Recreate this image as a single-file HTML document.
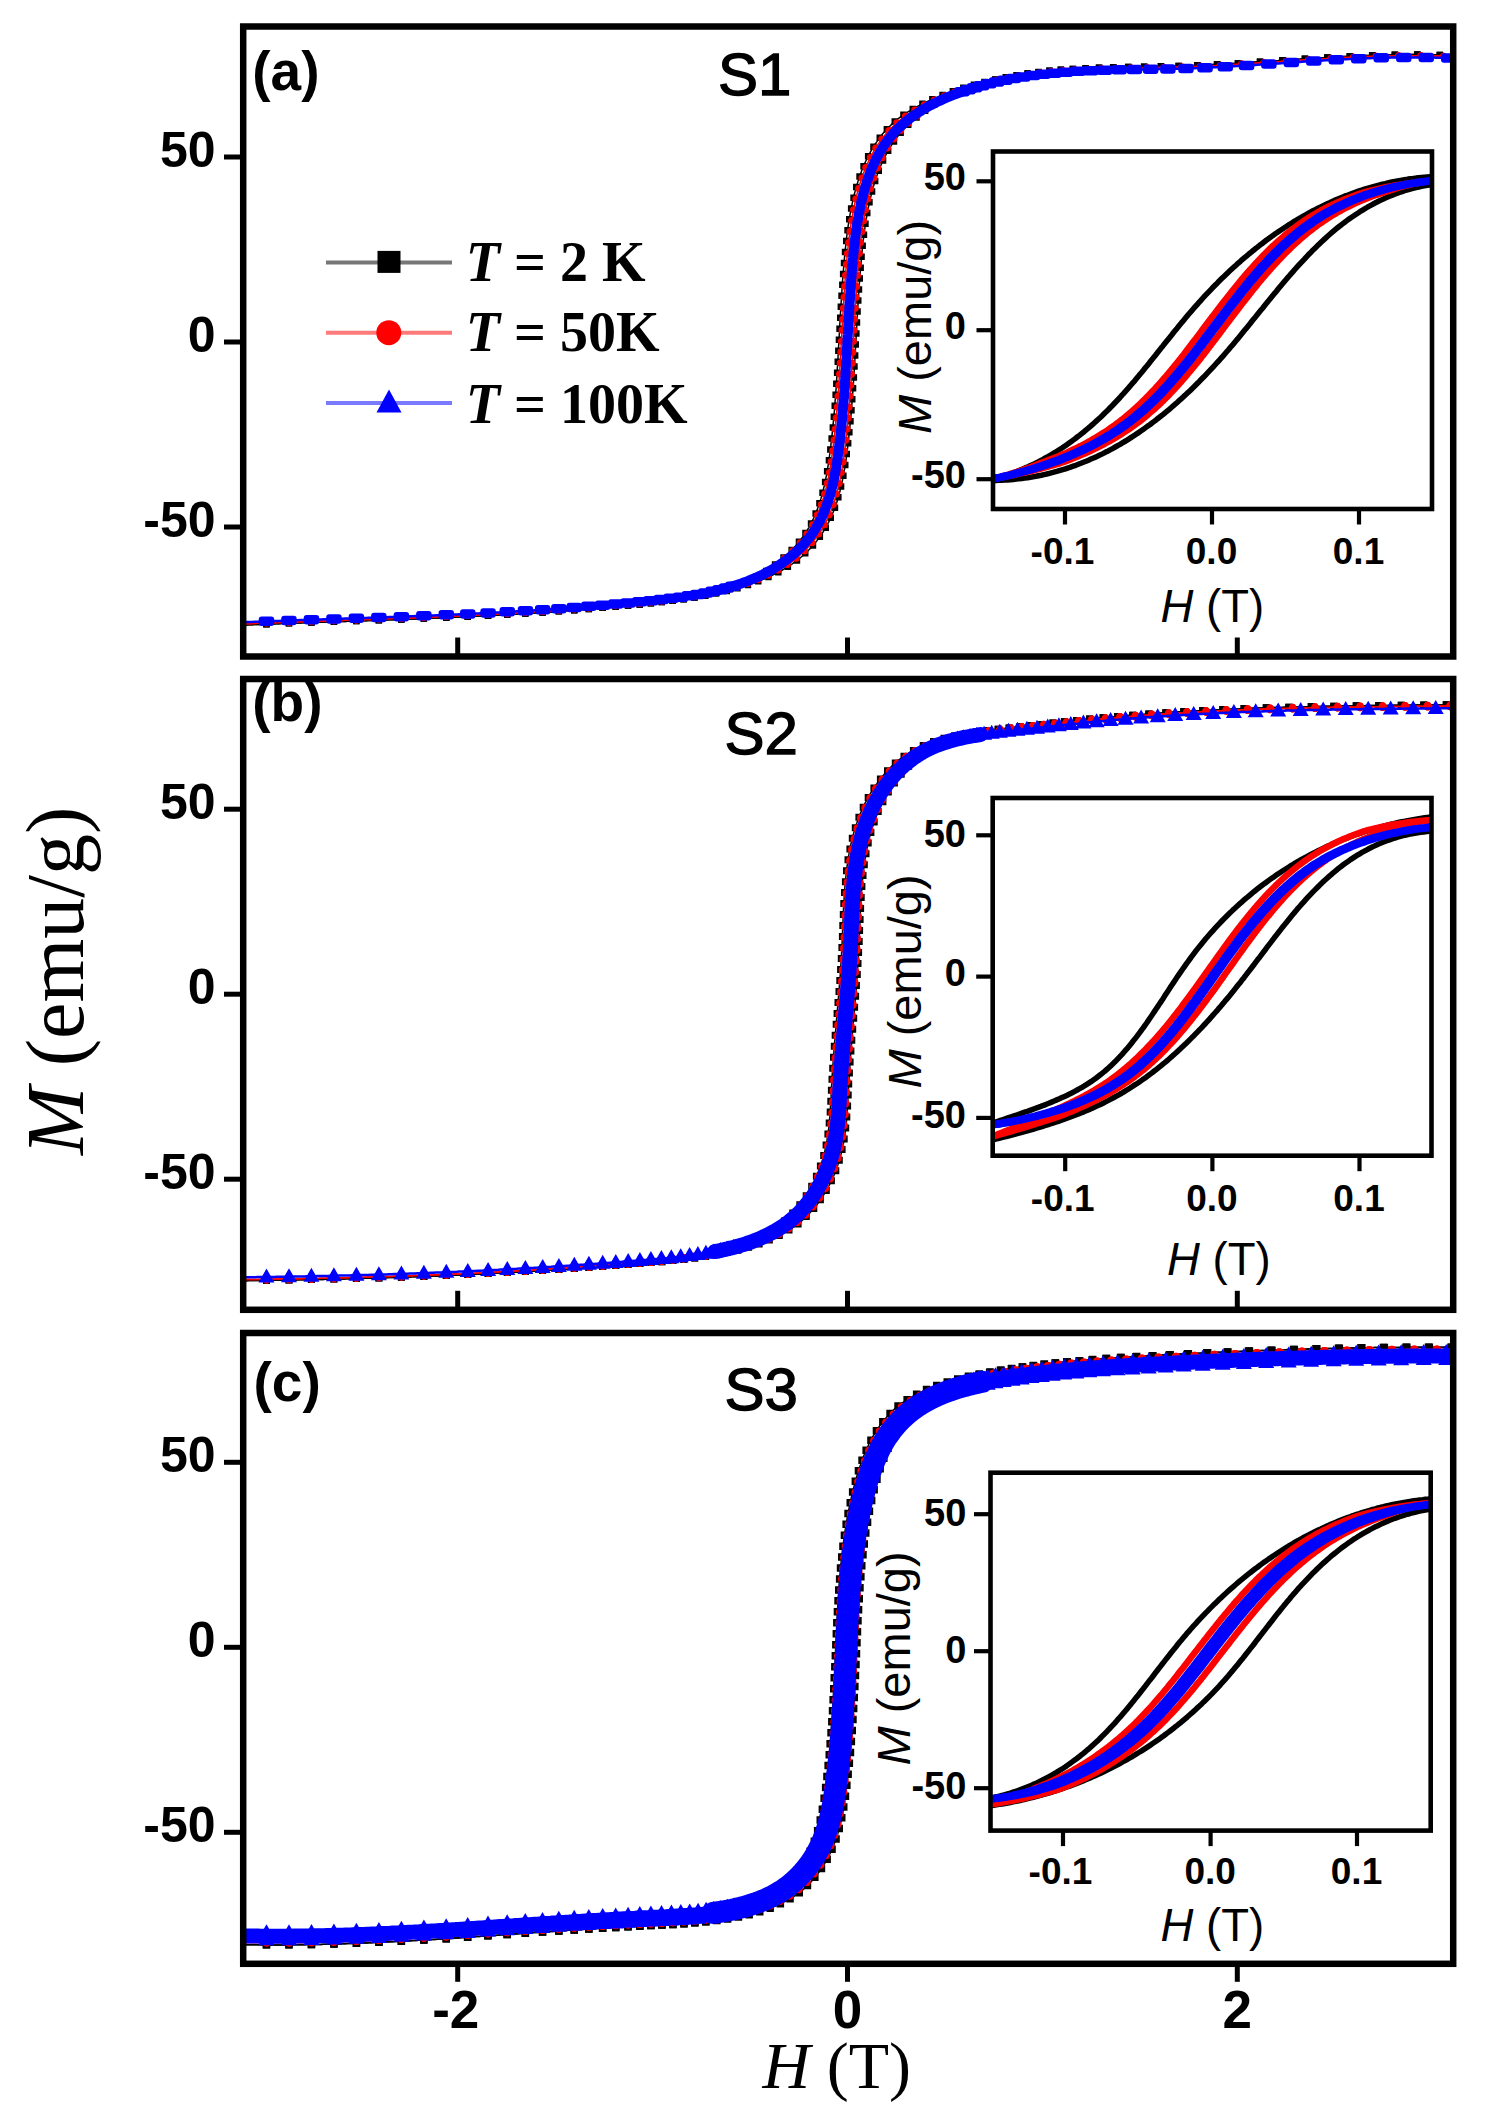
<!DOCTYPE html>
<html><head><meta charset="utf-8"><style>html,body{margin:0;padding:0;background:#fff;}svg{display:block;}</style></head>
<body><svg xmlns="http://www.w3.org/2000/svg" width="1491" height="2127" viewBox="0 0 1491 2127">
<g>
<rect width="1491" height="2127" fill="#fff"/>
<clipPath id="clipm0"><rect x="243.2" y="26.5" width="1210.0" height="630.0"/></clipPath>
<g clip-path="url(#clipm0)">
<path d="M244.0,625.0 L246.7,624.9 L249.4,624.8 L252.1,624.7 L254.8,624.6 L257.5,624.5 L260.1,624.4 L262.8,624.3 L265.5,624.2 L268.2,624.1 L270.9,624.0 L273.6,623.9 L276.2,623.8 L278.9,623.7 L281.6,623.6 L284.2,623.5 L286.9,623.4 L289.6,623.3 L292.2,623.2 L294.9,623.1 L297.6,623.0 L300.2,622.9 L302.9,622.8 L305.5,622.7 L308.2,622.7 L310.8,622.6 L313.5,622.5 L316.1,622.4 L318.7,622.3 L321.4,622.2 L324.0,622.1 L326.7,622.0 L329.3,621.9 L331.9,621.8 L334.6,621.8 L337.2,621.7 L339.8,621.6 L342.4,621.5 L345.1,621.4 L347.7,621.3 L350.3,621.2 L352.9,621.1 L355.6,621.0 L358.2,620.9 L360.8,620.9 L363.4,620.8 L366.0,620.7 L368.6,620.6 L371.3,620.5 L373.9,620.4 L376.5,620.3 L379.1,620.2 L381.7,620.1 L384.3,620.0 L386.9,619.9 L389.5,619.8 L392.1,619.7 L394.7,619.7 L397.3,619.6 L400.0,619.5 L402.6,619.4 L405.2,619.3 L407.8,619.2 L410.4,619.1 L413.0,619.0 L415.6,618.9 L418.2,618.8 L420.8,618.7 L423.4,618.6 L426.0,618.5 L428.6,618.3 L431.2,618.2 L433.8,618.1 L436.4,618.0 L439.0,617.9 L441.6,617.8 L444.1,617.7 L446.7,617.6 L449.3,617.5 L451.9,617.4 L454.5,617.2 L457.1,617.1 L459.7,617.0 L462.3,616.9 L464.9,616.8 L467.5,616.6 L470.1,616.5 L472.7,616.4 L475.3,616.3 L477.9,616.1 L480.5,616.0 L483.1,615.9 L485.7,615.7 L488.3,615.6 L490.9,615.5 L493.5,615.3 L496.1,615.2 L498.7,615.1 L501.3,614.9 L503.9,614.8 L506.6,614.6 L509.2,614.5 L511.8,614.3 L514.4,614.2 L517.0,614.0 L519.6,613.9 L522.2,613.7 L524.8,613.6 L527.4,613.4 L530.0,613.2 L532.7,613.1 L535.3,612.9 L537.9,612.7 L540.5,612.6 L543.1,612.4 L545.7,612.2 L548.4,612.0 L551.0,611.9 L553.6,611.7 L556.2,611.5 L558.9,611.3 L561.5,611.1 L564.1,610.9 L566.8,610.7 L569.4,610.5 L572.0,610.3 L574.7,610.1 L577.3,609.9 L579.9,609.7 L582.6,609.5 L585.2,609.3 L587.9,609.1 L590.5,608.9 L593.2,608.7 L595.8,608.5 L598.5,608.2 L601.1,608.0 L603.8,607.8 L606.5,607.5 L609.1,607.3 L611.8,607.1 L614.4,606.8 L617.1,606.6 L619.8,606.3 L622.5,606.1 L625.1,605.8 L627.8,605.6 L630.5,605.3 L633.2,605.1 L635.9,604.8 L638.5,604.5 L641.2,604.3 L643.9,604.0 L646.6,603.7 L649.3,603.4 L652.0,603.2 L654.7,602.9 L657.4,602.6 L660.1,602.3 L662.8,602.0 L665.5,601.6 L668.2,601.3 L670.9,601.0 L673.6,600.6 L676.3,600.3 L679.0,599.9 L681.7,599.5 L684.4,599.1 L687.0,598.7 L689.7,598.3 L692.4,597.9 L695.0,597.4 L697.7,597.0 L700.1,596.5 L702.5,596.0 L704.9,595.4 L707.2,594.9 L709.6,594.3 L712.0,593.8 L714.3,593.2 L716.7,592.5 L719.0,591.9 L721.3,591.2 L723.6,590.5 L725.9,589.8 L728.2,589.1 L730.5,588.3 L732.8,587.5 L735.0,586.7 L737.2,585.8 L739.5,584.9 L741.7,584.0 L743.9,583.1 L746.1,582.1 L748.2,581.1 L750.4,580.0 L752.5,579.0 L754.6,577.9 L756.7,576.7 L758.8,575.5 L760.9,574.3 L762.9,573.1 L765.0,571.8 L767.0,570.5 L769.0,569.1 L770.9,567.7 L772.9,566.2 L774.8,564.8 L776.7,563.2 L778.5,561.7 L780.5,560.1 L782.5,558.5 L784.5,556.8 L786.4,555.1 L788.3,553.3 L790.2,551.5 L792.0,549.7 L793.8,547.9 L795.5,546.0 L797.2,544.0 L798.8,542.1 L800.4,540.1 L802.0,538.0 L803.5,536.0 L804.9,533.8 L806.3,531.7 L807.7,529.5 L809.0,527.3 L810.2,525.0 L811.4,522.7 L812.6,520.4 L813.7,518.1 L814.7,515.7 L815.7,513.3 L816.7,510.9 L817.6,508.4 L818.5,505.9 L819.4,503.4 L820.2,500.9 L821.0,498.4 L821.7,495.8 L822.4,493.2 L823.1,490.6 L823.7,488.0 L824.4,485.4 L824.9,482.7 L825.5,480.1 L826.0,477.4 L826.6,474.8 L827.0,472.1 L827.5,469.4 L827.9,466.7 L828.4,464.0 L828.8,461.3 L829.2,458.6 L829.5,455.9 L829.9,453.2 L830.2,450.5 L830.6,447.8 L830.9,445.1 L831.2,442.4 L831.5,439.7 L831.8,437.1 L832.1,434.4 L832.4,431.7 L832.7,429.0 L832.9,426.4 L833.2,423.7 L833.4,421.1 L833.7,418.4 L833.9,415.8 L834.2,413.2 L834.4,410.5 L834.6,407.9 L834.8,405.3 L835.0,402.6 L835.2,400.0 L835.4,397.4 L835.6,394.8 L835.8,392.1 L836.0,389.5 L836.2,386.9 L836.4,384.3 L836.5,381.7 L836.7,379.1 L836.9,376.5 L837.0,373.9 L837.2,371.3 L837.3,368.6 L837.5,366.0 L837.7,363.4 L837.8,360.8 L838.0,358.2 L838.1,355.6 L838.3,353.0 L838.4,350.4 L838.5,347.8 L838.7,345.2 L838.8,342.5 L839.0,339.9 L839.1,337.3 L839.3,334.7 L839.4,332.1 L839.6,329.4 L839.7,326.8 L839.8,324.2 L840.0,321.5 L840.1,318.9 L840.3,316.3 L840.5,313.6 L840.6,311.0 L840.8,308.3 L840.9,305.6 L841.1,303.0 L841.3,300.3 L841.4,297.6 L841.6,295.0 L841.8,292.3 L842.0,289.6 L842.2,286.9 L842.3,284.2 L842.5,281.5 L842.7,278.8 L843.0,276.1 L843.2,273.3 L843.4,270.6 L843.6,267.9 L843.8,265.1 L844.1,262.4 L844.3,259.6 L844.6,256.8 L844.8,254.1 L845.1,251.3 L845.4,248.5 L845.7,245.8 L846.0,243.0 L846.3,240.2 L846.6,237.5 L847.0,234.7 L847.3,231.9 L847.7,229.2 L848.1,226.4 L848.5,223.6 L848.9,220.9 L849.4,218.2 L849.9,215.4 L850.4,212.7 L850.9,210.0 L851.4,207.3 L852.0,204.6 L852.5,201.9 L853.1,199.3 L853.8,196.6 L854.4,194.0 L855.1,191.4 L855.8,188.8 L856.5,186.2 L857.3,183.6 L858.1,181.1 L858.9,178.6 L859.8,176.1 L860.7,173.6 L861.6,171.1 L862.5,168.7 L863.5,166.3 L864.5,163.9 L865.6,161.5 L866.7,159.2 L867.8,156.9 L869.0,154.6 L870.2,152.3 L871.5,150.1 L872.7,147.9 L874.1,145.8 L875.4,143.7 L876.9,141.6 L878.3,139.5 L879.8,137.5 L881.4,135.5 L882.9,133.6 L884.6,131.7 L886.3,129.8 L888.0,128.0 L889.8,126.2 L891.6,124.4 L893.5,122.7 L895.4,121.0 L897.3,119.4 L899.3,117.8 L901.5,116.2 L903.8,114.7 L906.0,113.2 L908.4,111.7 L910.7,110.3 L913.1,108.9 L915.5,107.5 L918.0,106.2 L920.5,104.9 L923.0,103.6 L925.5,102.3 L928.1,101.1 L930.7,99.9 L933.3,98.8 L935.9,97.7 L938.5,96.6 L941.2,95.5 L943.9,94.5 L946.6,93.5 L949.3,92.5 L952.0,91.5 L954.7,90.6 L957.4,89.7 L960.2,88.8 L962.9,87.9 L965.7,87.1 L968.4,86.3 L971.2,85.5 L974.0,84.7 L976.8,84.0 L979.5,83.2 L982.3,82.5 L985.1,81.8 L987.9,81.2 L990.7,80.5 L993.5,79.9 L996.3,79.3 L999.0,78.7 L1001.6,78.2 L1004.2,77.6 L1006.7,77.1 L1009.3,76.6 L1011.9,76.1 L1014.5,75.7 L1017.1,75.2 L1019.7,74.8 L1022.3,74.3 L1024.9,73.9 L1027.5,73.6 L1030.1,73.2 L1032.8,72.8 L1035.4,72.5 L1038.0,72.2 L1040.6,71.8 L1043.3,71.5 L1045.9,71.3 L1048.5,71.0 L1051.2,70.7 L1053.8,70.5 L1056.4,70.2 L1059.1,70.0 L1061.7,69.8 L1064.4,69.6 L1067.0,69.4 L1069.7,69.2 L1072.3,69.0 L1075.0,68.9 L1077.6,68.7 L1080.3,68.6 L1082.9,68.4 L1085.6,68.3 L1088.2,68.2 L1090.9,68.0 L1093.6,67.9 L1096.2,67.8 L1098.9,67.7 L1101.6,67.6 L1104.2,67.6 L1106.9,67.5 L1109.6,67.4 L1112.2,67.3 L1114.9,67.3 L1117.6,67.2 L1120.2,67.1 L1122.9,67.1 L1125.6,67.0 L1128.2,67.0 L1130.9,66.9 L1133.6,66.9 L1136.2,66.8 L1138.9,66.8 L1141.6,66.7 L1144.2,66.7 L1146.9,66.7 L1149.6,66.6 L1152.2,66.6 L1154.9,66.5 L1157.6,66.5 L1160.2,66.4 L1162.9,66.4 L1165.5,66.3 L1168.2,66.2 L1170.8,66.2 L1173.5,66.1 L1176.2,66.0 L1178.8,66.0 L1181.5,65.9 L1184.1,65.8 L1186.8,65.7 L1189.4,65.6 L1192.0,65.5 L1194.7,65.4 L1197.3,65.3 L1200.0,65.2 L1202.6,65.1 L1205.2,65.0 L1207.9,64.9 L1210.5,64.7 L1213.1,64.6 L1215.8,64.5 L1218.4,64.3 L1221.0,64.2 L1223.6,64.0 L1226.3,63.9 L1228.9,63.7 L1231.5,63.6 L1234.1,63.4 L1236.8,63.3 L1239.4,63.1 L1242.0,63.0 L1244.6,62.8 L1247.2,62.6 L1249.8,62.5 L1252.5,62.3 L1255.1,62.1 L1257.7,62.0 L1260.3,61.8 L1262.9,61.6 L1265.5,61.4 L1268.1,61.3 L1270.8,61.1 L1273.4,60.9 L1276.0,60.7 L1278.6,60.6 L1281.2,60.4 L1283.8,60.2 L1286.4,60.0 L1289.0,59.9 L1291.6,59.7 L1294.3,59.5 L1296.9,59.3 L1299.5,59.2 L1302.1,59.0 L1304.7,58.8 L1307.3,58.7 L1309.9,58.5 L1312.5,58.3 L1315.1,58.2 L1317.8,58.0 L1320.4,57.8 L1323.0,57.7 L1325.6,57.5 L1328.2,57.4 L1330.8,57.2 L1333.4,57.1 L1336.0,56.9 L1338.7,56.8 L1341.3,56.7 L1343.9,56.5 L1346.5,56.4 L1349.1,56.3 L1351.8,56.1 L1354.4,56.0 L1357.0,55.9 L1359.6,55.8 L1362.2,55.7 L1364.9,55.6 L1367.5,55.5 L1370.1,55.4 L1372.7,55.3 L1375.4,55.2 L1378.0,55.1 L1380.6,55.0 L1383.3,55.0 L1385.9,54.9 L1388.5,54.8 L1391.2,54.8 L1393.8,54.7 L1396.5,54.7 L1399.1,54.6 L1401.7,54.6 L1404.4,54.6 L1407.0,54.6 L1409.7,54.6 L1412.3,54.6 L1415.0,54.6 L1417.6,54.6 L1420.3,54.6 L1422.9,54.6 L1425.6,54.6 L1428.3,54.7 L1430.9,54.7 L1433.6,54.8 L1436.3,54.8 L1438.9,54.9 L1441.6,55.0 L1444.3,55.1 L1447.0,55.2 L1449.6,55.3 L1452.3,55.4 L1455.0,55.5" fill="none" stroke="#000" stroke-width="1.5"/>
<path d="M263.2,620.9h6.5v6.5h-6.5zM285.7,620.1h6.5v6.5h-6.5zM308.2,619.3h6.5v6.5h-6.5zM330.7,618.5h6.5v6.5h-6.5zM353.1,617.8h6.5v6.5h-6.5zM375.6,617.0h6.5v6.5h-6.5zM398.1,616.2h6.5v6.5h-6.5zM420.6,615.3h6.5v6.5h-6.5zM443.0,614.4h6.5v6.5h-6.5zM464.5,613.4h6.5v6.5h-6.5zM484.8,612.4h6.5v6.5h-6.5zM504.0,611.3h6.5v6.5h-6.5zM522.1,610.3h6.5v6.5h-6.5zM539.4,609.2h6.5v6.5h-6.5zM555.6,608.1h6.5v6.5h-6.5zM571.0,606.9h6.5v6.5h-6.5zM585.6,605.8h6.5v6.5h-6.5zM599.4,604.6h6.5v6.5h-6.5zM612.5,603.5h6.5v6.5h-6.5zM624.8,602.3h6.5v6.5h-6.5zM636.5,601.2h6.5v6.5h-6.5zM647.6,600.0h6.5v6.5h-6.5zM658.5,598.8h6.5v6.5h-6.5zM669.4,597.5h6.5v6.5h-6.5zM680.3,596.0h6.5v6.5h-6.5zM691.2,594.3h6.5v6.5h-6.5zM702.0,592.1h6.5v6.5h-6.5zM712.7,589.5h6.5v6.5h-6.5zM723.2,586.4h6.5v6.5h-6.5zM733.6,582.7h6.5v6.5h-6.5zM743.7,578.4h6.5v6.5h-6.5zM753.5,573.4h6.5v6.5h-6.5zM762.9,567.7h6.5v6.5h-6.5zM771.8,561.3h6.5v6.5h-6.5zM780.3,554.3h6.5v6.5h-6.5zM788.4,546.8h6.5v6.5h-6.5zM795.7,538.6h6.5v6.5h-6.5zM802.2,529.8h6.5v6.5h-6.5zM807.8,520.3h6.5v6.5h-6.5zM812.4,510.3h6.5v6.5h-6.5zM816.2,500.0h6.5v6.5h-6.5zM819.3,489.4h6.5v6.5h-6.5zM821.9,478.7h6.5v6.5h-6.5zM823.9,467.9h6.5v6.5h-6.5zM825.7,457.1h6.5v6.5h-6.5zM827.1,446.2h6.5v6.5h-6.5zM828.4,435.2h6.5v6.5h-6.5zM829.6,424.3h6.5v6.5h-6.5zM830.6,413.4h6.5v6.5h-6.5zM831.5,402.4h6.5v6.5h-6.5zM832.4,391.4h6.5v6.5h-6.5zM833.1,380.4h6.5v6.5h-6.5zM833.9,369.5h6.5v6.5h-6.5zM834.5,358.5h6.5v6.5h-6.5zM835.1,347.5h6.5v6.5h-6.5zM835.7,336.5h6.5v6.5h-6.5zM836.3,325.5h6.5v6.5h-6.5zM837.0,314.6h6.5v6.5h-6.5zM837.6,303.6h6.5v6.5h-6.5zM838.3,292.6h6.5v6.5h-6.5zM839.1,281.6h6.5v6.5h-6.5zM839.9,270.7h6.5v6.5h-6.5zM840.8,259.7h6.5v6.5h-6.5zM841.8,248.7h6.5v6.5h-6.5zM843.0,237.8h6.5v6.5h-6.5zM844.3,226.9h6.5v6.5h-6.5zM846.0,216.0h6.5v6.5h-6.5zM847.9,205.2h6.5v6.5h-6.5zM850.3,194.4h6.5v6.5h-6.5zM853.0,183.8h6.5v6.5h-6.5zM856.3,173.3h6.5v6.5h-6.5zM860.3,163.0h6.5v6.5h-6.5zM864.9,153.0h6.5v6.5h-6.5zM870.2,143.5h6.5v6.5h-6.5zM876.5,134.4h6.5v6.5h-6.5zM883.6,126.0h6.5v6.5h-6.5zM891.5,118.3h6.5v6.5h-6.5zM900.2,111.6h6.5v6.5h-6.5zM909.5,105.8h6.5v6.5h-6.5zM919.2,100.6h6.5v6.5h-6.5zM929.1,95.9h6.5v6.5h-6.5zM939.3,91.7h6.5v6.5h-6.5zM949.6,87.9h6.5v6.5h-6.5zM960.1,84.5h6.5v6.5h-6.5zM970.7,81.5h6.5v6.5h-6.5zM981.3,78.7h6.5v6.5h-6.5zM992.0,76.3h6.5v6.5h-6.5zM1002.8,74.0h6.5v6.5h-6.5zM1013.6,72.0h6.5v6.5h-6.5zM1024.5,70.3h6.5v6.5h-6.5zM1035.4,68.8h6.5v6.5h-6.5zM1046.3,67.6h6.5v6.5h-6.5zM1057.7,66.6h6.5v6.5h-6.5zM1069.7,65.7h6.5v6.5h-6.5zM1082.5,65.0h6.5v6.5h-6.5zM1095.9,64.5h6.5v6.5h-6.5zM1110.1,64.0h6.5v6.5h-6.5zM1125.2,63.7h6.5v6.5h-6.5zM1141.1,63.4h6.5v6.5h-6.5zM1157.8,63.1h6.5v6.5h-6.5zM1175.6,62.7h6.5v6.5h-6.5zM1194.3,62.1h6.5v6.5h-6.5zM1214.1,61.1h6.5v6.5h-6.5zM1234.9,59.9h6.5v6.5h-6.5zM1257.0,58.5h6.5v6.5h-6.5zM1279.4,57.0h6.5v6.5h-6.5zM1301.9,55.6h6.5v6.5h-6.5zM1324.3,54.2h6.5v6.5h-6.5zM1346.8,53.0h6.5v6.5h-6.5zM1369.3,52.0h6.5v6.5h-6.5zM1391.8,51.5h6.5v6.5h-6.5zM1414.2,51.3h6.5v6.5h-6.5zM1436.7,51.7h6.5v6.5h-6.5z" fill="#000"/>
<path d="M244.0,625.0 L246.7,624.9 L249.4,624.8 L252.1,624.7 L254.8,624.6 L257.5,624.5 L260.1,624.4 L262.8,624.3 L265.5,624.2 L268.2,624.1 L270.9,624.0 L273.6,623.9 L276.2,623.8 L278.9,623.7 L281.6,623.6 L284.2,623.5 L286.9,623.4 L289.6,623.3 L292.2,623.2 L294.9,623.1 L297.6,623.0 L300.2,622.9 L302.9,622.8 L305.5,622.7 L308.2,622.7 L310.8,622.6 L313.5,622.5 L316.1,622.4 L318.7,622.3 L321.4,622.2 L324.0,622.1 L326.7,622.0 L329.3,621.9 L331.9,621.8 L334.6,621.8 L337.2,621.7 L339.8,621.6 L342.4,621.5 L345.1,621.4 L347.7,621.3 L350.3,621.2 L352.9,621.1 L355.6,621.0 L358.2,620.9 L360.8,620.9 L363.4,620.8 L366.0,620.7 L368.6,620.6 L371.3,620.5 L373.9,620.4 L376.5,620.3 L379.1,620.2 L381.7,620.1 L384.3,620.0 L386.9,619.9 L389.5,619.8 L392.1,619.7 L394.7,619.7 L397.3,619.6 L400.0,619.5 L402.6,619.4 L405.2,619.3 L407.8,619.2 L410.4,619.1 L413.0,619.0 L415.6,618.9 L418.2,618.8 L420.8,618.7 L423.4,618.6 L426.0,618.5 L428.6,618.3 L431.2,618.2 L433.8,618.1 L436.4,618.0 L439.0,617.9 L441.6,617.8 L444.1,617.7 L446.7,617.6 L449.3,617.5 L451.9,617.4 L454.5,617.2 L457.1,617.1 L459.7,617.0 L462.3,616.9 L464.9,616.8 L467.5,616.6 L470.1,616.5 L472.7,616.4 L475.3,616.3 L477.9,616.1 L480.5,616.0 L483.1,615.9 L485.7,615.7 L488.3,615.6 L490.9,615.5 L493.5,615.3 L496.1,615.2 L498.7,615.1 L501.3,614.9 L503.9,614.8 L506.6,614.6 L509.2,614.5 L511.8,614.3 L514.4,614.2 L517.0,614.0 L519.6,613.9 L522.2,613.7 L524.8,613.6 L527.4,613.4 L530.0,613.2 L532.7,613.1 L535.3,612.9 L537.9,612.7 L540.5,612.6 L543.1,612.4 L545.7,612.2 L548.4,612.0 L551.0,611.9 L553.6,611.7 L556.2,611.5 L558.9,611.3 L561.5,611.1 L564.1,610.9 L566.8,610.7 L569.4,610.5 L572.0,610.3 L574.7,610.1 L577.3,609.9 L579.9,609.7 L582.6,609.5 L585.2,609.3 L587.9,609.1 L590.5,608.9 L593.2,608.7 L595.8,608.5 L598.5,608.2 L601.1,608.0 L603.8,607.8 L606.5,607.5 L609.1,607.3 L611.8,607.1 L614.4,606.8 L617.1,606.6 L619.8,606.3 L622.5,606.1 L625.1,605.8 L627.8,605.6 L630.5,605.3 L633.2,605.1 L635.9,604.8 L638.5,604.5 L641.2,604.3 L643.9,604.0 L646.6,603.7 L649.3,603.4 L652.0,603.2 L654.7,602.9 L657.4,602.6 L660.1,602.3 L662.8,602.0 L665.5,601.6 L668.2,601.3 L670.9,601.0 L673.6,600.6 L676.3,600.3 L679.0,599.9 L681.7,599.5 L684.4,599.1 L687.0,598.7 L689.7,598.3 L692.4,597.9 L695.0,597.4 L697.7,597.0 L700.6,596.5 L703.5,596.0 L706.4,595.4 L709.3,594.9 L712.1,594.3 L715.0,593.8 L717.8,593.2 L720.6,592.5 L723.5,591.9 L726.3,591.2 L729.1,590.5 L731.8,589.8 L734.6,589.1 L737.4,588.3 L740.1,587.5 L742.8,586.7 L745.5,585.8 L748.2,584.9 L750.9,584.0 L753.6,583.1 L756.2,582.1 L758.8,581.1 L761.4,580.0 L764.0,579.0 L766.5,577.9 L769.1,576.7 L771.6,575.5 L774.1,574.3 L776.6,573.1 L779.0,571.8 L781.5,570.5 L783.9,569.1 L786.2,567.7 L788.6,566.2 L790.9,564.8 L793.2,563.2 L795.5,561.7 L797.5,560.1 L799.5,558.5 L801.5,556.8 L803.4,555.1 L805.3,553.3 L807.2,551.5 L809.0,549.7 L810.8,547.9 L812.5,546.0 L814.2,544.0 L815.8,542.1 L817.4,540.1 L819.0,538.0 L820.5,536.0 L821.9,533.8 L823.3,531.7 L824.7,529.5 L826.0,527.3 L827.2,525.0 L828.4,522.7 L829.6,520.4 L830.7,518.1 L831.7,515.7 L832.7,513.3 L833.7,510.9 L834.6,508.4 L835.5,505.9 L836.4,503.4 L837.2,500.9 L838.0,498.4 L838.7,495.8 L839.4,493.2 L840.1,490.6 L840.7,488.0 L841.4,485.4 L841.9,482.7 L842.5,480.1 L843.0,477.4 L843.6,474.8 L844.0,472.1 L844.5,469.4 L844.9,466.7 L845.4,464.0 L845.8,461.3 L846.2,458.6 L846.5,455.9 L846.9,453.2 L847.2,450.5 L847.6,447.8 L847.9,445.1 L848.2,442.4 L848.5,439.7 L848.8,437.1 L849.1,434.4 L849.4,431.7 L849.7,429.0 L849.9,426.4 L850.2,423.7 L850.4,421.1 L850.7,418.4 L850.9,415.8 L851.2,413.2 L851.4,410.5 L851.6,407.9 L851.8,405.3 L852.0,402.6 L852.2,400.0 L852.4,397.4 L852.6,394.8 L852.8,392.1 L853.0,389.5 L853.2,386.9 L853.4,384.3 L853.5,381.7 L853.7,379.1 L853.9,376.5 L854.0,373.9 L854.2,371.3 L854.3,368.6 L854.5,366.0 L854.7,363.4 L854.8,360.8 L855.0,358.2 L855.1,355.6 L855.3,353.0 L855.4,350.4 L855.5,347.8 L855.7,345.2 L855.8,342.5 L856.0,339.9 L856.1,337.3 L856.3,334.7 L856.4,332.1 L856.6,329.4 L856.7,326.8 L856.8,324.2 L857.0,321.5 L857.1,318.9 L857.3,316.3 L857.5,313.6 L857.6,311.0 L857.8,308.3 L857.9,305.6 L858.1,303.0 L858.3,300.3 L858.4,297.6 L858.6,295.0 L858.8,292.3 L859.0,289.6 L859.2,286.9 L859.3,284.2 L859.5,281.5 L859.7,278.8 L860.0,276.1 L860.2,273.3 L860.4,270.6 L860.6,267.9 L860.8,265.1 L861.1,262.4 L861.3,259.6 L861.6,256.8 L861.8,254.1 L862.1,251.3 L862.4,248.5 L862.7,245.8 L863.0,243.0 L863.3,240.2 L863.6,237.5 L864.0,234.7 L864.3,231.9 L864.7,229.2 L865.1,226.4 L865.5,223.6 L865.9,220.9 L866.4,218.2 L866.9,215.4 L867.4,212.7 L867.9,210.0 L868.4,207.3 L869.0,204.6 L869.5,201.9 L870.1,199.3 L870.8,196.6 L871.4,194.0 L872.1,191.4 L872.8,188.8 L873.5,186.2 L874.3,183.6 L875.1,181.1 L875.9,178.6 L876.8,176.1 L877.7,173.6 L878.6,171.1 L879.5,168.7 L880.5,166.3 L881.5,163.9 L882.6,161.5 L883.7,159.2 L884.8,156.9 L886.0,154.6 L887.2,152.3 L888.5,150.1 L889.7,147.9 L891.1,145.8 L892.4,143.7 L893.9,141.6 L895.3,139.5 L896.8,137.5 L898.4,135.5 L899.9,133.6 L901.6,131.7 L903.3,129.8 L905.0,128.0 L906.8,126.2 L908.6,124.4 L910.5,122.7 L912.4,121.0 L914.3,119.4 L916.3,117.8 L918.1,116.2 L919.9,114.7 L921.8,113.2 L923.7,111.7 L925.7,110.3 L927.7,108.9 L929.7,107.5 L931.7,106.2 L933.8,104.9 L935.8,103.6 L937.9,102.3 L940.1,101.1 L942.2,99.9 L944.3,98.8 L946.5,97.7 L948.7,96.6 L950.9,95.5 L953.1,94.5 L955.3,93.5 L957.6,92.5 L959.8,91.5 L962.1,90.6 L964.4,89.7 L966.6,88.8 L968.9,87.9 L971.2,87.1 L973.5,86.3 L975.8,85.5 L978.0,84.7 L980.3,84.0 L982.6,83.2 L984.9,82.5 L987.3,81.8 L989.6,81.2 L991.9,80.5 L994.2,79.9 L996.5,79.3 L999.0,78.7 L1001.6,78.2 L1004.2,77.6 L1006.7,77.1 L1009.3,76.6 L1011.9,76.1 L1014.5,75.7 L1017.1,75.2 L1019.7,74.8 L1022.3,74.3 L1024.9,73.9 L1027.5,73.6 L1030.1,73.2 L1032.8,72.8 L1035.4,72.5 L1038.0,72.2 L1040.6,71.8 L1043.3,71.5 L1045.9,71.3 L1048.5,71.0 L1051.2,70.7 L1053.8,70.5 L1056.4,70.2 L1059.1,70.0 L1061.7,69.8 L1064.4,69.6 L1067.0,69.4 L1069.7,69.2 L1072.3,69.0 L1075.0,68.9 L1077.6,68.7 L1080.3,68.6 L1082.9,68.4 L1085.6,68.3 L1088.2,68.2 L1090.9,68.0 L1093.6,67.9 L1096.2,67.8 L1098.9,67.7 L1101.6,67.6 L1104.2,67.6 L1106.9,67.5 L1109.6,67.4 L1112.2,67.3 L1114.9,67.3 L1117.6,67.2 L1120.2,67.1 L1122.9,67.1 L1125.6,67.0 L1128.2,67.0 L1130.9,66.9 L1133.6,66.9 L1136.2,66.8 L1138.9,66.8 L1141.6,66.7 L1144.2,66.7 L1146.9,66.7 L1149.6,66.6 L1152.2,66.6 L1154.9,66.5 L1157.6,66.5 L1160.2,66.4 L1162.9,66.4 L1165.5,66.3 L1168.2,66.2 L1170.8,66.2 L1173.5,66.1 L1176.2,66.0 L1178.8,66.0 L1181.5,65.9 L1184.1,65.8 L1186.8,65.7 L1189.4,65.6 L1192.0,65.5 L1194.7,65.4 L1197.3,65.3 L1200.0,65.2 L1202.6,65.1 L1205.2,65.0 L1207.9,64.9 L1210.5,64.7 L1213.1,64.6 L1215.8,64.5 L1218.4,64.3 L1221.0,64.2 L1223.6,64.0 L1226.3,63.9 L1228.9,63.7 L1231.5,63.6 L1234.1,63.4 L1236.8,63.3 L1239.4,63.1 L1242.0,63.0 L1244.6,62.8 L1247.2,62.6 L1249.8,62.5 L1252.5,62.3 L1255.1,62.1 L1257.7,62.0 L1260.3,61.8 L1262.9,61.6 L1265.5,61.4 L1268.1,61.3 L1270.8,61.1 L1273.4,60.9 L1276.0,60.7 L1278.6,60.6 L1281.2,60.4 L1283.8,60.2 L1286.4,60.0 L1289.0,59.9 L1291.6,59.7 L1294.3,59.5 L1296.9,59.3 L1299.5,59.2 L1302.1,59.0 L1304.7,58.8 L1307.3,58.7 L1309.9,58.5 L1312.5,58.3 L1315.1,58.2 L1317.8,58.0 L1320.4,57.8 L1323.0,57.7 L1325.6,57.5 L1328.2,57.4 L1330.8,57.2 L1333.4,57.1 L1336.0,56.9 L1338.7,56.8 L1341.3,56.7 L1343.9,56.5 L1346.5,56.4 L1349.1,56.3 L1351.8,56.1 L1354.4,56.0 L1357.0,55.9 L1359.6,55.8 L1362.2,55.7 L1364.9,55.6 L1367.5,55.5 L1370.1,55.4 L1372.7,55.3 L1375.4,55.2 L1378.0,55.1 L1380.6,55.0 L1383.3,55.0 L1385.9,54.9 L1388.5,54.8 L1391.2,54.8 L1393.8,54.7 L1396.5,54.7 L1399.1,54.6 L1401.7,54.6 L1404.4,54.6 L1407.0,54.6 L1409.7,54.6 L1412.3,54.6 L1415.0,54.6 L1417.6,54.6 L1420.3,54.6 L1422.9,54.6 L1425.6,54.6 L1428.3,54.7 L1430.9,54.7 L1433.6,54.8 L1436.3,54.8 L1438.9,54.9 L1441.6,55.0 L1444.3,55.1 L1447.0,55.2 L1449.6,55.3 L1452.3,55.4 L1455.0,55.5" fill="none" stroke="#000" stroke-width="1.5"/>
<path d="M263.2,620.9h6.5v6.5h-6.5zM285.7,620.1h6.5v6.5h-6.5zM308.2,619.3h6.5v6.5h-6.5zM330.7,618.5h6.5v6.5h-6.5zM353.1,617.8h6.5v6.5h-6.5zM375.6,617.0h6.5v6.5h-6.5zM398.1,616.2h6.5v6.5h-6.5zM420.6,615.3h6.5v6.5h-6.5zM443.0,614.4h6.5v6.5h-6.5zM464.5,613.4h6.5v6.5h-6.5zM484.8,612.4h6.5v6.5h-6.5zM504.0,611.3h6.5v6.5h-6.5zM522.1,610.3h6.5v6.5h-6.5zM539.4,609.2h6.5v6.5h-6.5zM555.6,608.1h6.5v6.5h-6.5zM571.0,606.9h6.5v6.5h-6.5zM585.6,605.8h6.5v6.5h-6.5zM599.4,604.6h6.5v6.5h-6.5zM612.5,603.5h6.5v6.5h-6.5zM624.8,602.3h6.5v6.5h-6.5zM636.5,601.2h6.5v6.5h-6.5zM647.6,600.0h6.5v6.5h-6.5zM658.5,598.8h6.5v6.5h-6.5zM669.4,597.5h6.5v6.5h-6.5zM680.3,596.0h6.5v6.5h-6.5zM691.2,594.3h6.5v6.5h-6.5zM702.0,592.4h6.5v6.5h-6.5zM712.8,590.3h6.5v6.5h-6.5zM723.6,587.8h6.5v6.5h-6.5zM734.2,585.0h6.5v6.5h-6.5zM744.7,581.8h6.5v6.5h-6.5zM755.0,578.0h6.5v6.5h-6.5zM765.2,573.8h6.5v6.5h-6.5zM775.1,568.9h6.5v6.5h-6.5zM784.6,563.4h6.5v6.5h-6.5zM793.7,557.3h6.5v6.5h-6.5zM802.0,550.1h6.5v6.5h-6.5zM809.7,542.2h6.5v6.5h-6.5zM816.6,533.6h6.5v6.5h-6.5zM822.5,524.4h6.5v6.5h-6.5zM827.5,514.6h6.5v6.5h-6.5zM831.7,504.4h6.5v6.5h-6.5zM835.1,494.0h6.5v6.5h-6.5zM837.8,483.3h6.5v6.5h-6.5zM840.1,472.5h6.5v6.5h-6.5zM842.0,461.7h6.5v6.5h-6.5zM843.5,450.8h6.5v6.5h-6.5zM844.9,439.9h6.5v6.5h-6.5zM846.1,429.0h6.5v6.5h-6.5zM847.2,418.0h6.5v6.5h-6.5zM848.2,407.1h6.5v6.5h-6.5zM849.0,396.1h6.5v6.5h-6.5zM849.8,385.1h6.5v6.5h-6.5zM850.6,374.2h6.5v6.5h-6.5zM851.2,363.2h6.5v6.5h-6.5zM851.9,352.2h6.5v6.5h-6.5zM852.5,341.2h6.5v6.5h-6.5zM853.1,330.2h6.5v6.5h-6.5zM853.7,319.2h6.5v6.5h-6.5zM854.3,308.3h6.5v6.5h-6.5zM855.0,297.3h6.5v6.5h-6.5zM855.7,286.3h6.5v6.5h-6.5zM856.5,275.3h6.5v6.5h-6.5zM857.4,264.4h6.5v6.5h-6.5zM858.3,253.4h6.5v6.5h-6.5zM859.4,242.5h6.5v6.5h-6.5zM860.7,231.5h6.5v6.5h-6.5zM862.2,220.6h6.5v6.5h-6.5zM864.0,209.8h6.5v6.5h-6.5zM866.2,199.0h6.5v6.5h-6.5zM868.8,188.3h6.5v6.5h-6.5zM871.9,177.8h6.5v6.5h-6.5zM875.5,167.4h6.5v6.5h-6.5zM879.8,157.3h6.5v6.5h-6.5zM884.9,147.5h6.5v6.5h-6.5zM890.7,138.2h6.5v6.5h-6.5zM897.4,129.5h6.5v6.5h-6.5zM905.0,121.5h6.5v6.5h-6.5zM913.3,114.3h6.5v6.5h-6.5zM921.9,107.4h6.5v6.5h-6.5zM931.0,101.3h6.5v6.5h-6.5zM940.6,95.8h6.5v6.5h-6.5zM950.4,91.0h6.5v6.5h-6.5zM960.5,86.6h6.5v6.5h-6.5zM970.8,82.8h6.5v6.5h-6.5zM981.3,79.4h6.5v6.5h-6.5zM991.9,76.4h6.5v6.5h-6.5zM1002.6,74.0h6.5v6.5h-6.5zM1013.4,72.0h6.5v6.5h-6.5zM1024.3,70.3h6.5v6.5h-6.5zM1035.2,68.9h6.5v6.5h-6.5zM1046.2,67.6h6.5v6.5h-6.5zM1057.5,66.6h6.5v6.5h-6.5zM1069.5,65.7h6.5v6.5h-6.5zM1082.3,65.0h6.5v6.5h-6.5zM1095.7,64.5h6.5v6.5h-6.5zM1109.9,64.1h6.5v6.5h-6.5zM1124.9,63.7h6.5v6.5h-6.5zM1140.8,63.4h6.5v6.5h-6.5zM1157.6,63.1h6.5v6.5h-6.5zM1175.3,62.7h6.5v6.5h-6.5zM1194.0,62.1h6.5v6.5h-6.5zM1213.7,61.1h6.5v6.5h-6.5zM1234.6,60.0h6.5v6.5h-6.5zM1256.6,58.6h6.5v6.5h-6.5zM1279.1,57.1h6.5v6.5h-6.5zM1301.5,55.6h6.5v6.5h-6.5zM1324.0,54.2h6.5v6.5h-6.5zM1346.4,53.0h6.5v6.5h-6.5zM1368.9,52.0h6.5v6.5h-6.5zM1391.4,51.5h6.5v6.5h-6.5zM1413.9,51.3h6.5v6.5h-6.5zM1436.4,51.7h6.5v6.5h-6.5z" fill="#000"/>
<path d="M244.0,623.9 L246.7,623.8 L249.4,623.7 L252.1,623.6 L254.8,623.5 L257.5,623.3 L260.1,623.2 L262.8,623.1 L265.5,623.0 L268.2,622.9 L270.9,622.9 L273.6,622.8 L276.2,622.7 L278.9,622.6 L281.6,622.5 L284.2,622.4 L286.9,622.3 L289.6,622.2 L292.2,622.1 L294.9,622.0 L297.6,621.9 L300.2,621.8 L302.9,621.7 L305.5,621.6 L308.2,621.5 L310.8,621.5 L313.5,621.4 L316.1,621.3 L318.7,621.2 L321.4,621.1 L324.0,621.0 L326.7,620.9 L329.3,620.8 L331.9,620.7 L334.6,620.6 L337.2,620.6 L339.8,620.5 L342.4,620.4 L345.1,620.3 L347.7,620.2 L350.3,620.1 L352.9,620.0 L355.6,619.9 L358.2,619.8 L360.8,619.8 L363.4,619.7 L366.0,619.6 L368.6,619.5 L371.3,619.4 L373.9,619.3 L376.5,619.2 L379.1,619.1 L381.7,619.0 L384.3,618.9 L386.9,618.8 L389.5,618.7 L392.1,618.6 L394.7,618.6 L397.3,618.5 L400.0,618.4 L402.6,618.3 L405.2,618.2 L407.8,618.1 L410.4,618.0 L413.0,617.9 L415.6,617.8 L418.2,617.7 L420.8,617.6 L423.4,617.5 L426.0,617.4 L428.6,617.3 L431.2,617.1 L433.8,617.0 L436.4,616.9 L439.0,616.8 L441.6,616.7 L444.1,616.6 L446.7,616.5 L449.3,616.4 L451.9,616.3 L454.5,616.1 L457.1,616.0 L459.7,615.9 L462.3,615.8 L464.9,615.7 L467.5,615.6 L470.1,615.4 L472.7,615.3 L475.3,615.2 L477.9,615.1 L480.5,614.9 L483.1,614.8 L485.7,614.7 L488.3,614.5 L490.9,614.4 L493.5,614.3 L496.1,614.1 L498.7,614.0 L501.3,613.8 L503.9,613.7 L506.6,613.5 L509.2,613.4 L511.8,613.3 L514.4,613.1 L517.0,612.9 L519.6,612.8 L522.2,612.6 L524.8,612.5 L527.4,612.3 L530.0,612.2 L532.7,612.0 L535.3,611.8 L537.9,611.7 L540.5,611.5 L543.1,611.3 L545.7,611.1 L548.4,611.0 L551.0,610.8 L553.6,610.6 L556.2,610.4 L558.9,610.2 L561.5,610.1 L564.1,609.9 L566.8,609.7 L569.4,609.5 L572.0,609.3 L574.7,609.1 L577.3,608.9 L579.9,608.7 L582.6,608.5 L585.2,608.3 L587.9,608.0 L590.5,607.8 L593.2,607.6 L595.8,607.4 L598.5,607.2 L601.1,607.0 L603.8,606.7 L606.5,606.5 L609.1,606.3 L611.8,606.0 L614.4,605.8 L617.1,605.5 L619.8,605.3 L622.5,605.0 L625.1,604.8 L627.8,604.5 L630.5,604.3 L633.2,604.0 L635.9,603.8 L638.5,603.5 L641.2,603.2 L643.9,603.0 L646.6,602.7 L649.3,602.4 L652.0,602.1 L654.7,601.8 L657.4,601.5 L660.1,601.2 L662.8,600.9 L665.5,600.6 L668.2,600.3 L670.9,600.0 L673.6,599.6 L676.3,599.3 L679.0,598.9 L681.7,598.5 L684.4,598.1 L687.0,597.7 L689.7,597.3 L692.4,596.9 L695.0,596.4 L697.7,595.9 L700.2,595.5 L702.6,595.0 L705.1,594.4 L707.5,593.9 L710.0,593.3 L712.4,592.8 L714.8,592.2 L717.2,591.5 L719.6,590.9 L722.0,590.2 L724.4,589.5 L726.8,588.8 L729.2,588.1 L731.5,587.3 L733.8,586.5 L736.2,585.7 L738.5,584.8 L740.8,584.0 L743.0,583.0 L745.3,582.1 L747.6,581.1 L749.8,580.1 L752.0,579.1 L754.2,578.0 L756.4,576.9 L758.5,575.8 L760.7,574.6 L762.8,573.4 L764.9,572.2 L767.0,570.9 L769.1,569.5 L771.1,568.2 L773.2,566.8 L775.2,565.4 L777.2,563.9 L779.1,562.4 L781.0,560.8 L783.0,559.2 L785.0,557.6 L787.0,555.9 L788.9,554.2 L790.8,552.5 L792.7,550.7 L794.5,548.9 L796.3,547.1 L798.0,545.2 L799.7,543.2 L801.3,541.3 L802.9,539.3 L804.5,537.3 L806.0,535.2 L807.4,533.1 L808.8,530.9 L810.2,528.8 L811.5,526.5 L812.7,524.3 L813.9,522.0 L815.1,519.7 L816.2,517.4 L817.2,515.0 L818.2,512.6 L819.2,510.2 L820.1,507.7 L821.0,505.3 L821.9,502.8 L822.7,500.3 L823.5,497.7 L824.2,495.2 L824.9,492.6 L825.6,490.0 L826.2,487.4 L826.9,484.8 L827.4,482.2 L828.0,479.5 L828.5,476.9 L829.1,474.2 L829.5,471.6 L830.0,468.9 L830.4,466.2 L830.9,463.5 L831.3,460.8 L831.7,458.1 L832.0,455.4 L832.4,452.8 L832.7,450.1 L833.1,447.4 L833.4,444.7 L833.7,442.0 L834.0,439.3 L834.3,436.7 L834.6,434.0 L834.9,431.4 L835.2,428.7 L835.4,426.1 L835.7,423.4 L835.9,420.8 L836.2,418.1 L836.4,415.5 L836.7,412.9 L836.9,410.2 L837.1,407.6 L837.3,405.0 L837.5,402.4 L837.7,399.8 L837.9,397.2 L838.1,394.6 L838.3,391.9 L838.5,389.3 L838.7,386.7 L838.9,384.1 L839.0,381.5 L839.2,378.9 L839.4,376.3 L839.5,373.7 L839.7,371.1 L839.8,368.5 L840.0,365.9 L840.2,363.3 L840.3,360.7 L840.5,358.2 L840.6,355.6 L840.8,353.0 L840.9,350.4 L841.0,347.7 L841.2,345.1 L841.3,342.5 L841.5,339.9 L841.6,337.3 L841.8,334.7 L841.9,332.1 L842.1,329.5 L842.2,326.9 L842.3,324.2 L842.5,321.6 L842.6,319.0 L842.8,316.4 L843.0,313.7 L843.1,311.1 L843.3,308.4 L843.4,305.8 L843.6,303.1 L843.8,300.5 L843.9,297.8 L844.1,295.1 L844.3,292.5 L844.5,289.8 L844.7,287.1 L844.8,284.4 L845.0,281.7 L845.2,279.0 L845.5,276.3 L845.7,273.6 L845.9,270.9 L846.1,268.2 L846.3,265.4 L846.6,262.7 L846.8,259.9 L847.1,257.2 L847.3,254.4 L847.6,251.7 L847.9,248.9 L848.2,246.1 L848.5,243.4 L848.8,240.6 L849.1,237.9 L849.5,235.1 L849.8,232.4 L850.2,229.6 L850.6,226.9 L851.0,224.1 L851.4,221.4 L851.9,218.7 L852.4,215.9 L852.9,213.2 L853.4,210.5 L853.9,207.8 L854.5,205.2 L855.0,202.5 L855.6,199.8 L856.3,197.2 L856.9,194.6 L857.6,192.0 L858.3,189.4 L859.0,186.8 L859.8,184.3 L860.6,181.7 L861.4,179.2 L862.3,176.7 L863.2,174.2 L864.1,171.8 L865.0,169.4 L866.0,167.0 L867.0,164.6 L868.1,162.2 L869.2,159.9 L870.3,157.6 L871.5,155.3 L872.7,153.1 L874.0,150.9 L875.2,148.7 L876.6,146.6 L877.9,144.4 L879.4,142.4 L880.8,140.3 L882.3,138.3 L883.9,136.3 L885.4,134.4 L887.1,132.5 L888.8,130.6 L890.5,128.8 L892.3,127.0 L894.1,125.3 L896.0,123.6 L897.9,121.9 L899.8,120.3 L901.8,118.7 L903.9,117.1 L906.1,115.6 L908.4,114.1 L910.6,112.6 L912.9,111.2 L915.3,109.8 L917.6,108.4 L920.0,107.1 L922.4,105.8 L924.9,104.5 L927.3,103.3 L929.8,102.1 L932.3,100.9 L934.9,99.8 L937.4,98.6 L940.0,97.5 L942.6,96.5 L945.2,95.4 L947.8,94.4 L950.5,93.5 L953.1,92.5 L955.8,91.6 L958.5,90.7 L961.1,89.8 L963.8,88.9 L966.5,88.1 L969.2,87.3 L971.9,86.5 L974.6,85.7 L977.3,85.0 L980.0,84.3 L982.7,83.6 L985.4,82.9 L988.2,82.2 L990.9,81.6 L993.6,81.0 L996.4,80.4 L999.0,79.8 L1001.6,79.2 L1004.2,78.7 L1006.7,78.2 L1009.3,77.7 L1011.9,77.2 L1014.5,76.7 L1017.1,76.3 L1019.7,75.8 L1022.3,75.4 L1024.9,75.0 L1027.5,74.6 L1030.1,74.2 L1032.8,73.9 L1035.4,73.6 L1038.0,73.2 L1040.6,72.9 L1043.3,72.6 L1045.9,72.3 L1048.5,72.0 L1051.2,71.8 L1053.8,71.5 L1056.4,71.3 L1059.1,71.1 L1061.7,70.9 L1064.4,70.7 L1067.0,70.5 L1069.7,70.3 L1072.3,70.1 L1075.0,69.9 L1077.6,69.8 L1080.3,69.6 L1082.9,69.5 L1085.6,69.4 L1088.2,69.2 L1090.9,69.1 L1093.6,69.0 L1096.2,68.9 L1098.9,68.8 L1101.6,68.7 L1104.2,68.6 L1106.9,68.6 L1109.6,68.5 L1112.2,68.4 L1114.9,68.4 L1117.6,68.3 L1120.2,68.2 L1122.9,68.2 L1125.6,68.1 L1128.2,68.1 L1130.9,68.0 L1133.6,68.0 L1136.2,67.9 L1138.9,67.9 L1141.6,67.8 L1144.2,67.8 L1146.9,67.7 L1149.6,67.7 L1152.2,67.6 L1154.9,67.6 L1157.6,67.6 L1160.2,67.5 L1162.9,67.4 L1165.5,67.4 L1168.2,67.3 L1170.8,67.3 L1173.5,67.2 L1176.2,67.1 L1178.8,67.1 L1181.5,67.0 L1184.1,66.9 L1186.8,66.8 L1189.4,66.7 L1192.0,66.6 L1194.7,66.5 L1197.3,66.4 L1200.0,66.3 L1202.6,66.2 L1205.2,66.1 L1207.9,65.9 L1210.5,65.8 L1213.1,65.7 L1215.8,65.6 L1218.4,65.4 L1221.0,65.3 L1223.6,65.1 L1226.3,65.0 L1228.9,64.8 L1231.5,64.7 L1234.1,64.5 L1236.8,64.4 L1239.4,64.2 L1242.0,64.1 L1244.6,63.9 L1247.2,63.7 L1249.8,63.6 L1252.5,63.4 L1255.1,63.2 L1257.7,63.1 L1260.3,62.9 L1262.9,62.7 L1265.5,62.6 L1268.1,62.4 L1270.8,62.2 L1273.4,62.0 L1276.0,61.9 L1278.6,61.7 L1281.2,61.5 L1283.8,61.3 L1286.4,61.2 L1289.0,61.0 L1291.6,60.8 L1294.3,60.6 L1296.9,60.5 L1299.5,60.3 L1302.1,60.1 L1304.7,60.0 L1307.3,59.8 L1309.9,59.6 L1312.5,59.5 L1315.1,59.3 L1317.8,59.1 L1320.4,59.0 L1323.0,58.8 L1325.6,58.7 L1328.2,58.5 L1330.8,58.4 L1333.4,58.2 L1336.0,58.1 L1338.7,57.9 L1341.3,57.8 L1343.9,57.6 L1346.5,57.5 L1349.1,57.4 L1351.8,57.3 L1354.4,57.1 L1357.0,57.0 L1359.6,56.9 L1362.2,56.8 L1364.9,56.7 L1367.5,56.6 L1370.1,56.5 L1372.7,56.4 L1375.4,56.3 L1378.0,56.2 L1380.6,56.2 L1383.3,56.1 L1385.9,56.0 L1388.5,56.0 L1391.2,55.9 L1393.8,55.9 L1396.5,55.8 L1399.1,55.8 L1401.7,55.7 L1404.4,55.7 L1407.0,55.7 L1409.7,55.7 L1412.3,55.7 L1415.0,55.7 L1417.6,55.7 L1420.3,55.7 L1422.9,55.7 L1425.6,55.8 L1428.3,55.8 L1430.9,55.9 L1433.6,55.9 L1436.3,56.0 L1438.9,56.0 L1441.6,56.1 L1444.3,56.2 L1447.0,56.3 L1449.6,56.4 L1452.3,56.5 L1455.0,56.6" fill="none" stroke="#f00" stroke-width="1.5"/>
<path d="M263.0,623.0a3.5,3.5 0 1,0 7.0,0a3.5,3.5 0 1,0 -7.0,0zM285.4,622.2a3.5,3.5 0 1,0 7.0,0a3.5,3.5 0 1,0 -7.0,0zM307.9,621.4a3.5,3.5 0 1,0 7.0,0a3.5,3.5 0 1,0 -7.0,0zM330.4,620.7a3.5,3.5 0 1,0 7.0,0a3.5,3.5 0 1,0 -7.0,0zM352.9,619.9a3.5,3.5 0 1,0 7.0,0a3.5,3.5 0 1,0 -7.0,0zM375.4,619.1a3.5,3.5 0 1,0 7.0,0a3.5,3.5 0 1,0 -7.0,0zM397.9,618.3a3.5,3.5 0 1,0 7.0,0a3.5,3.5 0 1,0 -7.0,0zM420.4,617.4a3.5,3.5 0 1,0 7.0,0a3.5,3.5 0 1,0 -7.0,0zM442.8,616.5a3.5,3.5 0 1,0 7.0,0a3.5,3.5 0 1,0 -7.0,0zM464.2,615.5a3.5,3.5 0 1,0 7.0,0a3.5,3.5 0 1,0 -7.0,0zM484.5,614.5a3.5,3.5 0 1,0 7.0,0a3.5,3.5 0 1,0 -7.0,0zM503.7,613.5a3.5,3.5 0 1,0 7.0,0a3.5,3.5 0 1,0 -7.0,0zM521.9,612.4a3.5,3.5 0 1,0 7.0,0a3.5,3.5 0 1,0 -7.0,0zM539.1,611.4a3.5,3.5 0 1,0 7.0,0a3.5,3.5 0 1,0 -7.0,0zM555.4,610.2a3.5,3.5 0 1,0 7.0,0a3.5,3.5 0 1,0 -7.0,0zM570.8,609.1a3.5,3.5 0 1,0 7.0,0a3.5,3.5 0 1,0 -7.0,0zM585.4,608.0a3.5,3.5 0 1,0 7.0,0a3.5,3.5 0 1,0 -7.0,0zM599.2,606.8a3.5,3.5 0 1,0 7.0,0a3.5,3.5 0 1,0 -7.0,0zM612.2,605.7a3.5,3.5 0 1,0 7.0,0a3.5,3.5 0 1,0 -7.0,0zM624.6,604.5a3.5,3.5 0 1,0 7.0,0a3.5,3.5 0 1,0 -7.0,0zM636.3,603.4a3.5,3.5 0 1,0 7.0,0a3.5,3.5 0 1,0 -7.0,0zM647.3,602.2a3.5,3.5 0 1,0 7.0,0a3.5,3.5 0 1,0 -7.0,0zM658.3,601.0a3.5,3.5 0 1,0 7.0,0a3.5,3.5 0 1,0 -7.0,0zM669.2,599.7a3.5,3.5 0 1,0 7.0,0a3.5,3.5 0 1,0 -7.0,0zM680.1,598.2a3.5,3.5 0 1,0 7.0,0a3.5,3.5 0 1,0 -7.0,0zM691.0,596.5a3.5,3.5 0 1,0 7.0,0a3.5,3.5 0 1,0 -7.0,0zM701.8,594.4a3.5,3.5 0 1,0 7.0,0a3.5,3.5 0 1,0 -7.0,0zM712.5,591.9a3.5,3.5 0 1,0 7.0,0a3.5,3.5 0 1,0 -7.0,0zM723.0,588.9a3.5,3.5 0 1,0 7.0,0a3.5,3.5 0 1,0 -7.0,0zM733.5,585.4a3.5,3.5 0 1,0 7.0,0a3.5,3.5 0 1,0 -7.0,0zM743.7,581.3a3.5,3.5 0 1,0 7.0,0a3.5,3.5 0 1,0 -7.0,0zM753.6,576.5a3.5,3.5 0 1,0 7.0,0a3.5,3.5 0 1,0 -7.0,0zM763.2,571.1a3.5,3.5 0 1,0 7.0,0a3.5,3.5 0 1,0 -7.0,0zM772.3,564.9a3.5,3.5 0 1,0 7.0,0a3.5,3.5 0 1,0 -7.0,0zM780.9,558.1a3.5,3.5 0 1,0 7.0,0a3.5,3.5 0 1,0 -7.0,0zM789.1,550.8a3.5,3.5 0 1,0 7.0,0a3.5,3.5 0 1,0 -7.0,0zM796.6,542.8a3.5,3.5 0 1,0 7.0,0a3.5,3.5 0 1,0 -7.0,0zM803.3,534.0a3.5,3.5 0 1,0 7.0,0a3.5,3.5 0 1,0 -7.0,0zM809.0,524.7a3.5,3.5 0 1,0 7.0,0a3.5,3.5 0 1,0 -7.0,0zM813.8,514.8a3.5,3.5 0 1,0 7.0,0a3.5,3.5 0 1,0 -7.0,0zM817.8,504.5a3.5,3.5 0 1,0 7.0,0a3.5,3.5 0 1,0 -7.0,0zM821.0,494.0a3.5,3.5 0 1,0 7.0,0a3.5,3.5 0 1,0 -7.0,0zM823.7,483.3a3.5,3.5 0 1,0 7.0,0a3.5,3.5 0 1,0 -7.0,0zM825.9,472.5a3.5,3.5 0 1,0 7.0,0a3.5,3.5 0 1,0 -7.0,0zM827.6,461.7a3.5,3.5 0 1,0 7.0,0a3.5,3.5 0 1,0 -7.0,0zM829.1,450.8a3.5,3.5 0 1,0 7.0,0a3.5,3.5 0 1,0 -7.0,0zM830.5,439.9a3.5,3.5 0 1,0 7.0,0a3.5,3.5 0 1,0 -7.0,0zM831.6,428.9a3.5,3.5 0 1,0 7.0,0a3.5,3.5 0 1,0 -7.0,0zM832.7,418.0a3.5,3.5 0 1,0 7.0,0a3.5,3.5 0 1,0 -7.0,0zM833.7,407.0a3.5,3.5 0 1,0 7.0,0a3.5,3.5 0 1,0 -7.0,0zM834.5,396.1a3.5,3.5 0 1,0 7.0,0a3.5,3.5 0 1,0 -7.0,0zM835.3,385.1a3.5,3.5 0 1,0 7.0,0a3.5,3.5 0 1,0 -7.0,0zM836.0,374.1a3.5,3.5 0 1,0 7.0,0a3.5,3.5 0 1,0 -7.0,0zM836.7,363.1a3.5,3.5 0 1,0 7.0,0a3.5,3.5 0 1,0 -7.0,0zM837.3,352.1a3.5,3.5 0 1,0 7.0,0a3.5,3.5 0 1,0 -7.0,0zM837.9,341.2a3.5,3.5 0 1,0 7.0,0a3.5,3.5 0 1,0 -7.0,0zM838.5,330.2a3.5,3.5 0 1,0 7.0,0a3.5,3.5 0 1,0 -7.0,0zM839.1,319.2a3.5,3.5 0 1,0 7.0,0a3.5,3.5 0 1,0 -7.0,0zM839.8,308.2a3.5,3.5 0 1,0 7.0,0a3.5,3.5 0 1,0 -7.0,0zM840.5,297.2a3.5,3.5 0 1,0 7.0,0a3.5,3.5 0 1,0 -7.0,0zM841.2,286.3a3.5,3.5 0 1,0 7.0,0a3.5,3.5 0 1,0 -7.0,0zM842.0,275.3a3.5,3.5 0 1,0 7.0,0a3.5,3.5 0 1,0 -7.0,0zM842.9,264.3a3.5,3.5 0 1,0 7.0,0a3.5,3.5 0 1,0 -7.0,0zM843.9,253.4a3.5,3.5 0 1,0 7.0,0a3.5,3.5 0 1,0 -7.0,0zM845.1,242.4a3.5,3.5 0 1,0 7.0,0a3.5,3.5 0 1,0 -7.0,0zM846.5,231.5a3.5,3.5 0 1,0 7.0,0a3.5,3.5 0 1,0 -7.0,0zM848.1,220.6a3.5,3.5 0 1,0 7.0,0a3.5,3.5 0 1,0 -7.0,0zM850.0,209.8a3.5,3.5 0 1,0 7.0,0a3.5,3.5 0 1,0 -7.0,0zM852.3,199.1a3.5,3.5 0 1,0 7.0,0a3.5,3.5 0 1,0 -7.0,0zM855.1,188.4a3.5,3.5 0 1,0 7.0,0a3.5,3.5 0 1,0 -7.0,0zM858.4,177.9a3.5,3.5 0 1,0 7.0,0a3.5,3.5 0 1,0 -7.0,0zM862.2,167.6a3.5,3.5 0 1,0 7.0,0a3.5,3.5 0 1,0 -7.0,0zM866.8,157.6a3.5,3.5 0 1,0 7.0,0a3.5,3.5 0 1,0 -7.0,0zM872.2,148.0a3.5,3.5 0 1,0 7.0,0a3.5,3.5 0 1,0 -7.0,0zM878.3,138.9a3.5,3.5 0 1,0 7.0,0a3.5,3.5 0 1,0 -7.0,0zM885.4,130.5a3.5,3.5 0 1,0 7.0,0a3.5,3.5 0 1,0 -7.0,0zM893.3,122.8a3.5,3.5 0 1,0 7.0,0a3.5,3.5 0 1,0 -7.0,0zM901.9,116.1a3.5,3.5 0 1,0 7.0,0a3.5,3.5 0 1,0 -7.0,0zM911.2,110.1a3.5,3.5 0 1,0 7.0,0a3.5,3.5 0 1,0 -7.0,0zM920.8,104.8a3.5,3.5 0 1,0 7.0,0a3.5,3.5 0 1,0 -7.0,0zM930.7,100.0a3.5,3.5 0 1,0 7.0,0a3.5,3.5 0 1,0 -7.0,0zM940.9,95.8a3.5,3.5 0 1,0 7.0,0a3.5,3.5 0 1,0 -7.0,0zM951.2,91.9a3.5,3.5 0 1,0 7.0,0a3.5,3.5 0 1,0 -7.0,0zM961.6,88.5a3.5,3.5 0 1,0 7.0,0a3.5,3.5 0 1,0 -7.0,0zM972.2,85.4a3.5,3.5 0 1,0 7.0,0a3.5,3.5 0 1,0 -7.0,0zM982.8,82.7a3.5,3.5 0 1,0 7.0,0a3.5,3.5 0 1,0 -7.0,0zM993.6,80.2a3.5,3.5 0 1,0 7.0,0a3.5,3.5 0 1,0 -7.0,0zM1004.3,78.0a3.5,3.5 0 1,0 7.0,0a3.5,3.5 0 1,0 -7.0,0zM1015.2,76.0a3.5,3.5 0 1,0 7.0,0a3.5,3.5 0 1,0 -7.0,0zM1026.0,74.3a3.5,3.5 0 1,0 7.0,0a3.5,3.5 0 1,0 -7.0,0zM1036.9,72.9a3.5,3.5 0 1,0 7.0,0a3.5,3.5 0 1,0 -7.0,0zM1047.9,71.8a3.5,3.5 0 1,0 7.0,0a3.5,3.5 0 1,0 -7.0,0zM1059.4,70.8a3.5,3.5 0 1,0 7.0,0a3.5,3.5 0 1,0 -7.0,0zM1071.6,69.9a3.5,3.5 0 1,0 7.0,0a3.5,3.5 0 1,0 -7.0,0zM1084.4,69.3a3.5,3.5 0 1,0 7.0,0a3.5,3.5 0 1,0 -7.0,0zM1098.0,68.7a3.5,3.5 0 1,0 7.0,0a3.5,3.5 0 1,0 -7.0,0zM1112.3,68.3a3.5,3.5 0 1,0 7.0,0a3.5,3.5 0 1,0 -7.0,0zM1127.5,68.0a3.5,3.5 0 1,0 7.0,0a3.5,3.5 0 1,0 -7.0,0zM1143.5,67.7a3.5,3.5 0 1,0 7.0,0a3.5,3.5 0 1,0 -7.0,0zM1160.5,67.4a3.5,3.5 0 1,0 7.0,0a3.5,3.5 0 1,0 -7.0,0zM1178.4,67.0a3.5,3.5 0 1,0 7.0,0a3.5,3.5 0 1,0 -7.0,0zM1197.2,66.3a3.5,3.5 0 1,0 7.0,0a3.5,3.5 0 1,0 -7.0,0zM1217.2,65.3a3.5,3.5 0 1,0 7.0,0a3.5,3.5 0 1,0 -7.0,0zM1238.3,64.1a3.5,3.5 0 1,0 7.0,0a3.5,3.5 0 1,0 -7.0,0zM1260.4,62.7a3.5,3.5 0 1,0 7.0,0a3.5,3.5 0 1,0 -7.0,0zM1282.9,61.2a3.5,3.5 0 1,0 7.0,0a3.5,3.5 0 1,0 -7.0,0zM1305.3,59.7a3.5,3.5 0 1,0 7.0,0a3.5,3.5 0 1,0 -7.0,0zM1327.8,58.3a3.5,3.5 0 1,0 7.0,0a3.5,3.5 0 1,0 -7.0,0zM1350.3,57.2a3.5,3.5 0 1,0 7.0,0a3.5,3.5 0 1,0 -7.0,0zM1372.7,56.3a3.5,3.5 0 1,0 7.0,0a3.5,3.5 0 1,0 -7.0,0zM1395.2,55.8a3.5,3.5 0 1,0 7.0,0a3.5,3.5 0 1,0 -7.0,0zM1417.7,55.7a3.5,3.5 0 1,0 7.0,0a3.5,3.5 0 1,0 -7.0,0zM1440.2,56.2a3.5,3.5 0 1,0 7.0,0a3.5,3.5 0 1,0 -7.0,0z" fill="#f00"/>
<path d="M244.0,623.9 L246.7,623.8 L249.4,623.7 L252.1,623.6 L254.8,623.5 L257.5,623.3 L260.1,623.2 L262.8,623.1 L265.5,623.0 L268.2,622.9 L270.9,622.9 L273.6,622.8 L276.2,622.7 L278.9,622.6 L281.6,622.5 L284.2,622.4 L286.9,622.3 L289.6,622.2 L292.2,622.1 L294.9,622.0 L297.6,621.9 L300.2,621.8 L302.9,621.7 L305.5,621.6 L308.2,621.5 L310.8,621.5 L313.5,621.4 L316.1,621.3 L318.7,621.2 L321.4,621.1 L324.0,621.0 L326.7,620.9 L329.3,620.8 L331.9,620.7 L334.6,620.6 L337.2,620.6 L339.8,620.5 L342.4,620.4 L345.1,620.3 L347.7,620.2 L350.3,620.1 L352.9,620.0 L355.6,619.9 L358.2,619.8 L360.8,619.8 L363.4,619.7 L366.0,619.6 L368.6,619.5 L371.3,619.4 L373.9,619.3 L376.5,619.2 L379.1,619.1 L381.7,619.0 L384.3,618.9 L386.9,618.8 L389.5,618.7 L392.1,618.6 L394.7,618.6 L397.3,618.5 L400.0,618.4 L402.6,618.3 L405.2,618.2 L407.8,618.1 L410.4,618.0 L413.0,617.9 L415.6,617.8 L418.2,617.7 L420.8,617.6 L423.4,617.5 L426.0,617.4 L428.6,617.3 L431.2,617.1 L433.8,617.0 L436.4,616.9 L439.0,616.8 L441.6,616.7 L444.1,616.6 L446.7,616.5 L449.3,616.4 L451.9,616.3 L454.5,616.1 L457.1,616.0 L459.7,615.9 L462.3,615.8 L464.9,615.7 L467.5,615.6 L470.1,615.4 L472.7,615.3 L475.3,615.2 L477.9,615.1 L480.5,614.9 L483.1,614.8 L485.7,614.7 L488.3,614.5 L490.9,614.4 L493.5,614.3 L496.1,614.1 L498.7,614.0 L501.3,613.8 L503.9,613.7 L506.6,613.5 L509.2,613.4 L511.8,613.3 L514.4,613.1 L517.0,612.9 L519.6,612.8 L522.2,612.6 L524.8,612.5 L527.4,612.3 L530.0,612.2 L532.7,612.0 L535.3,611.8 L537.9,611.7 L540.5,611.5 L543.1,611.3 L545.7,611.1 L548.4,611.0 L551.0,610.8 L553.6,610.6 L556.2,610.4 L558.9,610.2 L561.5,610.1 L564.1,609.9 L566.8,609.7 L569.4,609.5 L572.0,609.3 L574.7,609.1 L577.3,608.9 L579.9,608.7 L582.6,608.5 L585.2,608.3 L587.9,608.0 L590.5,607.8 L593.2,607.6 L595.8,607.4 L598.5,607.2 L601.1,607.0 L603.8,606.7 L606.5,606.5 L609.1,606.3 L611.8,606.0 L614.4,605.8 L617.1,605.5 L619.8,605.3 L622.5,605.0 L625.1,604.8 L627.8,604.5 L630.5,604.3 L633.2,604.0 L635.9,603.8 L638.5,603.5 L641.2,603.2 L643.9,603.0 L646.6,602.7 L649.3,602.4 L652.0,602.1 L654.7,601.8 L657.4,601.5 L660.1,601.2 L662.8,600.9 L665.5,600.6 L668.2,600.3 L670.9,600.0 L673.6,599.6 L676.3,599.3 L679.0,598.9 L681.7,598.5 L684.4,598.1 L687.0,597.7 L689.7,597.3 L692.4,596.9 L695.0,596.4 L697.7,595.9 L700.5,595.5 L703.4,595.0 L706.2,594.4 L709.0,593.9 L711.7,593.3 L714.5,592.8 L717.3,592.2 L720.1,591.5 L722.8,590.9 L725.5,590.2 L728.3,589.5 L731.0,588.8 L733.7,588.1 L736.4,587.3 L739.0,586.5 L741.7,585.7 L744.3,584.8 L746.9,584.0 L749.5,583.0 L752.1,582.1 L754.7,581.1 L757.3,580.1 L759.8,579.1 L762.3,578.0 L764.8,576.9 L767.3,575.8 L769.7,574.6 L772.2,573.4 L774.6,572.2 L777.0,570.9 L779.3,569.5 L781.7,568.2 L784.0,566.8 L786.3,565.4 L788.5,563.9 L790.8,562.4 L793.0,560.8 L795.0,559.2 L797.0,557.6 L799.0,555.9 L800.9,554.2 L802.8,552.5 L804.7,550.7 L806.5,548.9 L808.3,547.1 L810.0,545.2 L811.7,543.2 L813.3,541.3 L814.9,539.3 L816.5,537.3 L818.0,535.2 L819.4,533.1 L820.8,530.9 L822.2,528.8 L823.5,526.5 L824.7,524.3 L825.9,522.0 L827.1,519.7 L828.2,517.4 L829.2,515.0 L830.2,512.6 L831.2,510.2 L832.1,507.7 L833.0,505.3 L833.9,502.8 L834.7,500.3 L835.5,497.7 L836.2,495.2 L836.9,492.6 L837.6,490.0 L838.2,487.4 L838.9,484.8 L839.4,482.2 L840.0,479.5 L840.5,476.9 L841.1,474.2 L841.5,471.6 L842.0,468.9 L842.4,466.2 L842.9,463.5 L843.3,460.8 L843.7,458.1 L844.0,455.4 L844.4,452.8 L844.7,450.1 L845.1,447.4 L845.4,444.7 L845.7,442.0 L846.0,439.3 L846.3,436.7 L846.6,434.0 L846.9,431.4 L847.2,428.7 L847.4,426.1 L847.7,423.4 L847.9,420.8 L848.2,418.1 L848.4,415.5 L848.7,412.9 L848.9,410.2 L849.1,407.6 L849.3,405.0 L849.5,402.4 L849.7,399.8 L849.9,397.2 L850.1,394.6 L850.3,391.9 L850.5,389.3 L850.7,386.7 L850.9,384.1 L851.0,381.5 L851.2,378.9 L851.4,376.3 L851.5,373.7 L851.7,371.1 L851.8,368.5 L852.0,365.9 L852.2,363.3 L852.3,360.7 L852.5,358.2 L852.6,355.6 L852.8,353.0 L852.9,350.4 L853.0,347.7 L853.2,345.1 L853.3,342.5 L853.5,339.9 L853.6,337.3 L853.8,334.7 L853.9,332.1 L854.1,329.5 L854.2,326.9 L854.3,324.2 L854.5,321.6 L854.6,319.0 L854.8,316.4 L855.0,313.7 L855.1,311.1 L855.3,308.4 L855.4,305.8 L855.6,303.1 L855.8,300.5 L855.9,297.8 L856.1,295.1 L856.3,292.5 L856.5,289.8 L856.7,287.1 L856.8,284.4 L857.0,281.7 L857.2,279.0 L857.5,276.3 L857.7,273.6 L857.9,270.9 L858.1,268.2 L858.3,265.4 L858.6,262.7 L858.8,259.9 L859.1,257.2 L859.3,254.4 L859.6,251.7 L859.9,248.9 L860.2,246.1 L860.5,243.4 L860.8,240.6 L861.1,237.9 L861.5,235.1 L861.8,232.4 L862.2,229.6 L862.6,226.9 L863.0,224.1 L863.4,221.4 L863.9,218.7 L864.4,215.9 L864.9,213.2 L865.4,210.5 L865.9,207.8 L866.5,205.2 L867.0,202.5 L867.6,199.8 L868.3,197.2 L868.9,194.6 L869.6,192.0 L870.3,189.4 L871.0,186.8 L871.8,184.3 L872.6,181.7 L873.4,179.2 L874.3,176.7 L875.2,174.2 L876.1,171.8 L877.0,169.4 L878.0,167.0 L879.0,164.6 L880.1,162.2 L881.2,159.9 L882.3,157.6 L883.5,155.3 L884.7,153.1 L886.0,150.9 L887.2,148.7 L888.6,146.6 L889.9,144.4 L891.4,142.4 L892.8,140.3 L894.3,138.3 L895.9,136.3 L897.4,134.4 L899.1,132.5 L900.8,130.6 L902.5,128.8 L904.3,127.0 L906.1,125.3 L908.0,123.6 L909.9,121.9 L911.8,120.3 L913.8,118.7 L915.6,117.1 L917.6,115.6 L919.5,114.1 L921.5,112.6 L923.5,111.2 L925.5,109.8 L927.6,108.4 L929.7,107.1 L931.8,105.8 L933.9,104.5 L936.1,103.3 L938.3,102.1 L940.5,100.9 L942.7,99.8 L945.0,98.6 L947.2,97.5 L949.5,96.5 L951.8,95.4 L954.1,94.4 L956.4,93.5 L958.7,92.5 L961.0,91.6 L963.3,90.7 L965.7,89.8 L968.0,88.9 L970.4,88.1 L972.7,87.3 L975.1,86.5 L977.4,85.7 L979.8,85.0 L982.2,84.3 L984.6,83.6 L986.9,82.9 L989.3,82.2 L991.7,81.6 L994.1,81.0 L996.5,80.4 L999.0,79.8 L1001.6,79.2 L1004.2,78.7 L1006.7,78.2 L1009.3,77.7 L1011.9,77.2 L1014.5,76.7 L1017.1,76.3 L1019.7,75.8 L1022.3,75.4 L1024.9,75.0 L1027.5,74.6 L1030.1,74.2 L1032.8,73.9 L1035.4,73.6 L1038.0,73.2 L1040.6,72.9 L1043.3,72.6 L1045.9,72.3 L1048.5,72.0 L1051.2,71.8 L1053.8,71.5 L1056.4,71.3 L1059.1,71.1 L1061.7,70.9 L1064.4,70.7 L1067.0,70.5 L1069.7,70.3 L1072.3,70.1 L1075.0,69.9 L1077.6,69.8 L1080.3,69.6 L1082.9,69.5 L1085.6,69.4 L1088.2,69.2 L1090.9,69.1 L1093.6,69.0 L1096.2,68.9 L1098.9,68.8 L1101.6,68.7 L1104.2,68.6 L1106.9,68.6 L1109.6,68.5 L1112.2,68.4 L1114.9,68.4 L1117.6,68.3 L1120.2,68.2 L1122.9,68.2 L1125.6,68.1 L1128.2,68.1 L1130.9,68.0 L1133.6,68.0 L1136.2,67.9 L1138.9,67.9 L1141.6,67.8 L1144.2,67.8 L1146.9,67.7 L1149.6,67.7 L1152.2,67.6 L1154.9,67.6 L1157.6,67.6 L1160.2,67.5 L1162.9,67.4 L1165.5,67.4 L1168.2,67.3 L1170.8,67.3 L1173.5,67.2 L1176.2,67.1 L1178.8,67.1 L1181.5,67.0 L1184.1,66.9 L1186.8,66.8 L1189.4,66.7 L1192.0,66.6 L1194.7,66.5 L1197.3,66.4 L1200.0,66.3 L1202.6,66.2 L1205.2,66.1 L1207.9,65.9 L1210.5,65.8 L1213.1,65.7 L1215.8,65.6 L1218.4,65.4 L1221.0,65.3 L1223.6,65.1 L1226.3,65.0 L1228.9,64.8 L1231.5,64.7 L1234.1,64.5 L1236.8,64.4 L1239.4,64.2 L1242.0,64.1 L1244.6,63.9 L1247.2,63.7 L1249.8,63.6 L1252.5,63.4 L1255.1,63.2 L1257.7,63.1 L1260.3,62.9 L1262.9,62.7 L1265.5,62.6 L1268.1,62.4 L1270.8,62.2 L1273.4,62.0 L1276.0,61.9 L1278.6,61.7 L1281.2,61.5 L1283.8,61.3 L1286.4,61.2 L1289.0,61.0 L1291.6,60.8 L1294.3,60.6 L1296.9,60.5 L1299.5,60.3 L1302.1,60.1 L1304.7,60.0 L1307.3,59.8 L1309.9,59.6 L1312.5,59.5 L1315.1,59.3 L1317.8,59.1 L1320.4,59.0 L1323.0,58.8 L1325.6,58.7 L1328.2,58.5 L1330.8,58.4 L1333.4,58.2 L1336.0,58.1 L1338.7,57.9 L1341.3,57.8 L1343.9,57.6 L1346.5,57.5 L1349.1,57.4 L1351.8,57.3 L1354.4,57.1 L1357.0,57.0 L1359.6,56.9 L1362.2,56.8 L1364.9,56.7 L1367.5,56.6 L1370.1,56.5 L1372.7,56.4 L1375.4,56.3 L1378.0,56.2 L1380.6,56.2 L1383.3,56.1 L1385.9,56.0 L1388.5,56.0 L1391.2,55.9 L1393.8,55.9 L1396.5,55.8 L1399.1,55.8 L1401.7,55.7 L1404.4,55.7 L1407.0,55.7 L1409.7,55.7 L1412.3,55.7 L1415.0,55.7 L1417.6,55.7 L1420.3,55.7 L1422.9,55.7 L1425.6,55.8 L1428.3,55.8 L1430.9,55.9 L1433.6,55.9 L1436.3,56.0 L1438.9,56.0 L1441.6,56.1 L1444.3,56.2 L1447.0,56.3 L1449.6,56.4 L1452.3,56.5 L1455.0,56.6" fill="none" stroke="#f00" stroke-width="1.5"/>
<path d="M263.0,623.0a3.5,3.5 0 1,0 7.0,0a3.5,3.5 0 1,0 -7.0,0zM285.4,622.2a3.5,3.5 0 1,0 7.0,0a3.5,3.5 0 1,0 -7.0,0zM307.9,621.4a3.5,3.5 0 1,0 7.0,0a3.5,3.5 0 1,0 -7.0,0zM330.4,620.7a3.5,3.5 0 1,0 7.0,0a3.5,3.5 0 1,0 -7.0,0zM352.9,619.9a3.5,3.5 0 1,0 7.0,0a3.5,3.5 0 1,0 -7.0,0zM375.4,619.1a3.5,3.5 0 1,0 7.0,0a3.5,3.5 0 1,0 -7.0,0zM397.9,618.3a3.5,3.5 0 1,0 7.0,0a3.5,3.5 0 1,0 -7.0,0zM420.4,617.4a3.5,3.5 0 1,0 7.0,0a3.5,3.5 0 1,0 -7.0,0zM442.8,616.5a3.5,3.5 0 1,0 7.0,0a3.5,3.5 0 1,0 -7.0,0zM464.2,615.5a3.5,3.5 0 1,0 7.0,0a3.5,3.5 0 1,0 -7.0,0zM484.5,614.5a3.5,3.5 0 1,0 7.0,0a3.5,3.5 0 1,0 -7.0,0zM503.7,613.5a3.5,3.5 0 1,0 7.0,0a3.5,3.5 0 1,0 -7.0,0zM521.9,612.4a3.5,3.5 0 1,0 7.0,0a3.5,3.5 0 1,0 -7.0,0zM539.1,611.4a3.5,3.5 0 1,0 7.0,0a3.5,3.5 0 1,0 -7.0,0zM555.4,610.2a3.5,3.5 0 1,0 7.0,0a3.5,3.5 0 1,0 -7.0,0zM570.8,609.1a3.5,3.5 0 1,0 7.0,0a3.5,3.5 0 1,0 -7.0,0zM585.4,608.0a3.5,3.5 0 1,0 7.0,0a3.5,3.5 0 1,0 -7.0,0zM599.2,606.8a3.5,3.5 0 1,0 7.0,0a3.5,3.5 0 1,0 -7.0,0zM612.2,605.7a3.5,3.5 0 1,0 7.0,0a3.5,3.5 0 1,0 -7.0,0zM624.6,604.5a3.5,3.5 0 1,0 7.0,0a3.5,3.5 0 1,0 -7.0,0zM636.3,603.4a3.5,3.5 0 1,0 7.0,0a3.5,3.5 0 1,0 -7.0,0zM647.3,602.2a3.5,3.5 0 1,0 7.0,0a3.5,3.5 0 1,0 -7.0,0zM658.3,601.0a3.5,3.5 0 1,0 7.0,0a3.5,3.5 0 1,0 -7.0,0zM669.2,599.7a3.5,3.5 0 1,0 7.0,0a3.5,3.5 0 1,0 -7.0,0zM680.1,598.2a3.5,3.5 0 1,0 7.0,0a3.5,3.5 0 1,0 -7.0,0zM691.0,596.5a3.5,3.5 0 1,0 7.0,0a3.5,3.5 0 1,0 -7.0,0zM701.8,594.6a3.5,3.5 0 1,0 7.0,0a3.5,3.5 0 1,0 -7.0,0zM712.6,592.4a3.5,3.5 0 1,0 7.0,0a3.5,3.5 0 1,0 -7.0,0zM723.3,589.9a3.5,3.5 0 1,0 7.0,0a3.5,3.5 0 1,0 -7.0,0zM733.9,587.0a3.5,3.5 0 1,0 7.0,0a3.5,3.5 0 1,0 -7.0,0zM744.4,583.6a3.5,3.5 0 1,0 7.0,0a3.5,3.5 0 1,0 -7.0,0zM754.7,579.8a3.5,3.5 0 1,0 7.0,0a3.5,3.5 0 1,0 -7.0,0zM764.7,575.3a3.5,3.5 0 1,0 7.0,0a3.5,3.5 0 1,0 -7.0,0zM774.5,570.3a3.5,3.5 0 1,0 7.0,0a3.5,3.5 0 1,0 -7.0,0zM783.9,564.6a3.5,3.5 0 1,0 7.0,0a3.5,3.5 0 1,0 -7.0,0zM792.8,558.2a3.5,3.5 0 1,0 7.0,0a3.5,3.5 0 1,0 -7.0,0zM801.0,550.9a3.5,3.5 0 1,0 7.0,0a3.5,3.5 0 1,0 -7.0,0zM808.5,542.8a3.5,3.5 0 1,0 7.0,0a3.5,3.5 0 1,0 -7.0,0zM815.2,534.1a3.5,3.5 0 1,0 7.0,0a3.5,3.5 0 1,0 -7.0,0zM821.0,524.7a3.5,3.5 0 1,0 7.0,0a3.5,3.5 0 1,0 -7.0,0zM825.8,514.8a3.5,3.5 0 1,0 7.0,0a3.5,3.5 0 1,0 -7.0,0zM829.8,504.6a3.5,3.5 0 1,0 7.0,0a3.5,3.5 0 1,0 -7.0,0zM833.0,494.1a3.5,3.5 0 1,0 7.0,0a3.5,3.5 0 1,0 -7.0,0zM835.7,483.4a3.5,3.5 0 1,0 7.0,0a3.5,3.5 0 1,0 -7.0,0zM837.8,472.6a3.5,3.5 0 1,0 7.0,0a3.5,3.5 0 1,0 -7.0,0zM839.6,461.8a3.5,3.5 0 1,0 7.0,0a3.5,3.5 0 1,0 -7.0,0zM841.1,450.9a3.5,3.5 0 1,0 7.0,0a3.5,3.5 0 1,0 -7.0,0zM842.5,440.0a3.5,3.5 0 1,0 7.0,0a3.5,3.5 0 1,0 -7.0,0zM843.6,429.0a3.5,3.5 0 1,0 7.0,0a3.5,3.5 0 1,0 -7.0,0zM844.7,418.1a3.5,3.5 0 1,0 7.0,0a3.5,3.5 0 1,0 -7.0,0zM845.6,407.1a3.5,3.5 0 1,0 7.0,0a3.5,3.5 0 1,0 -7.0,0zM846.5,396.1a3.5,3.5 0 1,0 7.0,0a3.5,3.5 0 1,0 -7.0,0zM847.3,385.2a3.5,3.5 0 1,0 7.0,0a3.5,3.5 0 1,0 -7.0,0zM848.0,374.2a3.5,3.5 0 1,0 7.0,0a3.5,3.5 0 1,0 -7.0,0zM848.7,363.2a3.5,3.5 0 1,0 7.0,0a3.5,3.5 0 1,0 -7.0,0zM849.3,352.2a3.5,3.5 0 1,0 7.0,0a3.5,3.5 0 1,0 -7.0,0zM849.9,341.3a3.5,3.5 0 1,0 7.0,0a3.5,3.5 0 1,0 -7.0,0zM850.5,330.3a3.5,3.5 0 1,0 7.0,0a3.5,3.5 0 1,0 -7.0,0zM851.1,319.3a3.5,3.5 0 1,0 7.0,0a3.5,3.5 0 1,0 -7.0,0zM851.8,308.3a3.5,3.5 0 1,0 7.0,0a3.5,3.5 0 1,0 -7.0,0zM852.5,297.3a3.5,3.5 0 1,0 7.0,0a3.5,3.5 0 1,0 -7.0,0zM853.2,286.4a3.5,3.5 0 1,0 7.0,0a3.5,3.5 0 1,0 -7.0,0zM854.0,275.4a3.5,3.5 0 1,0 7.0,0a3.5,3.5 0 1,0 -7.0,0zM854.9,264.4a3.5,3.5 0 1,0 7.0,0a3.5,3.5 0 1,0 -7.0,0zM855.9,253.5a3.5,3.5 0 1,0 7.0,0a3.5,3.5 0 1,0 -7.0,0zM857.1,242.5a3.5,3.5 0 1,0 7.0,0a3.5,3.5 0 1,0 -7.0,0zM858.4,231.6a3.5,3.5 0 1,0 7.0,0a3.5,3.5 0 1,0 -7.0,0zM860.1,220.7a3.5,3.5 0 1,0 7.0,0a3.5,3.5 0 1,0 -7.0,0zM862.0,209.9a3.5,3.5 0 1,0 7.0,0a3.5,3.5 0 1,0 -7.0,0zM864.3,199.1a3.5,3.5 0 1,0 7.0,0a3.5,3.5 0 1,0 -7.0,0zM867.1,188.5a3.5,3.5 0 1,0 7.0,0a3.5,3.5 0 1,0 -7.0,0zM870.3,178.0a3.5,3.5 0 1,0 7.0,0a3.5,3.5 0 1,0 -7.0,0zM874.2,167.7a3.5,3.5 0 1,0 7.0,0a3.5,3.5 0 1,0 -7.0,0zM878.8,157.7a3.5,3.5 0 1,0 7.0,0a3.5,3.5 0 1,0 -7.0,0zM884.1,148.1a3.5,3.5 0 1,0 7.0,0a3.5,3.5 0 1,0 -7.0,0zM890.3,139.0a3.5,3.5 0 1,0 7.0,0a3.5,3.5 0 1,0 -7.0,0zM897.3,130.6a3.5,3.5 0 1,0 7.0,0a3.5,3.5 0 1,0 -7.0,0zM905.2,122.9a3.5,3.5 0 1,0 7.0,0a3.5,3.5 0 1,0 -7.0,0zM913.7,115.9a3.5,3.5 0 1,0 7.0,0a3.5,3.5 0 1,0 -7.0,0zM922.6,109.4a3.5,3.5 0 1,0 7.0,0a3.5,3.5 0 1,0 -7.0,0zM932.0,103.7a3.5,3.5 0 1,0 7.0,0a3.5,3.5 0 1,0 -7.0,0zM941.7,98.5a3.5,3.5 0 1,0 7.0,0a3.5,3.5 0 1,0 -7.0,0zM951.7,94.0a3.5,3.5 0 1,0 7.0,0a3.5,3.5 0 1,0 -7.0,0zM961.9,89.9a3.5,3.5 0 1,0 7.0,0a3.5,3.5 0 1,0 -7.0,0zM972.3,86.3a3.5,3.5 0 1,0 7.0,0a3.5,3.5 0 1,0 -7.0,0zM982.8,83.1a3.5,3.5 0 1,0 7.0,0a3.5,3.5 0 1,0 -7.0,0zM993.5,80.3a3.5,3.5 0 1,0 7.0,0a3.5,3.5 0 1,0 -7.0,0zM1004.2,78.0a3.5,3.5 0 1,0 7.0,0a3.5,3.5 0 1,0 -7.0,0zM1015.0,76.0a3.5,3.5 0 1,0 7.0,0a3.5,3.5 0 1,0 -7.0,0zM1025.9,74.4a3.5,3.5 0 1,0 7.0,0a3.5,3.5 0 1,0 -7.0,0zM1036.8,72.9a3.5,3.5 0 1,0 7.0,0a3.5,3.5 0 1,0 -7.0,0zM1047.8,71.8a3.5,3.5 0 1,0 7.0,0a3.5,3.5 0 1,0 -7.0,0zM1059.3,70.8a3.5,3.5 0 1,0 7.0,0a3.5,3.5 0 1,0 -7.0,0zM1071.4,69.9a3.5,3.5 0 1,0 7.0,0a3.5,3.5 0 1,0 -7.0,0zM1084.3,69.3a3.5,3.5 0 1,0 7.0,0a3.5,3.5 0 1,0 -7.0,0zM1097.8,68.7a3.5,3.5 0 1,0 7.0,0a3.5,3.5 0 1,0 -7.0,0zM1112.2,68.3a3.5,3.5 0 1,0 7.0,0a3.5,3.5 0 1,0 -7.0,0zM1127.3,68.0a3.5,3.5 0 1,0 7.0,0a3.5,3.5 0 1,0 -7.0,0zM1143.4,67.7a3.5,3.5 0 1,0 7.0,0a3.5,3.5 0 1,0 -7.0,0zM1160.3,67.4a3.5,3.5 0 1,0 7.0,0a3.5,3.5 0 1,0 -7.0,0zM1178.2,67.0a3.5,3.5 0 1,0 7.0,0a3.5,3.5 0 1,0 -7.0,0zM1197.0,66.3a3.5,3.5 0 1,0 7.0,0a3.5,3.5 0 1,0 -7.0,0zM1217.0,65.3a3.5,3.5 0 1,0 7.0,0a3.5,3.5 0 1,0 -7.0,0zM1238.0,64.1a3.5,3.5 0 1,0 7.0,0a3.5,3.5 0 1,0 -7.0,0zM1260.2,62.7a3.5,3.5 0 1,0 7.0,0a3.5,3.5 0 1,0 -7.0,0zM1282.6,61.2a3.5,3.5 0 1,0 7.0,0a3.5,3.5 0 1,0 -7.0,0zM1305.1,59.7a3.5,3.5 0 1,0 7.0,0a3.5,3.5 0 1,0 -7.0,0zM1327.5,58.3a3.5,3.5 0 1,0 7.0,0a3.5,3.5 0 1,0 -7.0,0zM1350.0,57.2a3.5,3.5 0 1,0 7.0,0a3.5,3.5 0 1,0 -7.0,0zM1372.5,56.3a3.5,3.5 0 1,0 7.0,0a3.5,3.5 0 1,0 -7.0,0zM1395.0,55.8a3.5,3.5 0 1,0 7.0,0a3.5,3.5 0 1,0 -7.0,0zM1417.5,55.7a3.5,3.5 0 1,0 7.0,0a3.5,3.5 0 1,0 -7.0,0zM1440.0,56.2a3.5,3.5 0 1,0 7.0,0a3.5,3.5 0 1,0 -7.0,0z" fill="#f00"/>
<path d="M244.0,622.2 L246.7,622.1 L249.4,622.0 L252.1,621.9 L254.8,621.8 L257.5,621.7 L260.1,621.6 L262.8,621.5 L265.5,621.4 L268.2,621.3 L270.9,621.2 L273.6,621.1 L276.2,621.0 L278.9,620.9 L281.6,620.8 L284.2,620.7 L286.9,620.6 L289.6,620.5 L292.2,620.4 L294.9,620.3 L297.6,620.2 L300.2,620.1 L302.9,620.1 L305.5,620.0 L308.2,619.9 L310.8,619.8 L313.5,619.7 L316.1,619.6 L318.7,619.5 L321.4,619.4 L324.0,619.3 L326.7,619.2 L329.3,619.2 L331.9,619.1 L334.6,619.0 L337.2,618.9 L339.8,618.8 L342.4,618.7 L345.1,618.6 L347.7,618.5 L350.3,618.5 L352.9,618.4 L355.6,618.3 L358.2,618.2 L360.8,618.1 L363.4,618.0 L366.0,617.9 L368.6,617.8 L371.3,617.7 L373.9,617.6 L376.5,617.6 L379.1,617.5 L381.7,617.4 L384.3,617.3 L386.9,617.2 L389.5,617.1 L392.1,617.0 L394.7,616.9 L397.3,616.8 L400.0,616.7 L402.6,616.6 L405.2,616.5 L407.8,616.4 L410.4,616.3 L413.0,616.2 L415.6,616.1 L418.2,616.0 L420.8,615.9 L423.4,615.8 L426.0,615.7 L428.6,615.6 L431.2,615.5 L433.8,615.4 L436.4,615.3 L439.0,615.2 L441.6,615.1 L444.1,615.0 L446.7,614.9 L449.3,614.7 L451.9,614.6 L454.5,614.5 L457.1,614.4 L459.7,614.3 L462.3,614.2 L464.9,614.0 L467.5,613.9 L470.1,613.8 L472.7,613.7 L475.3,613.5 L477.9,613.4 L480.5,613.3 L483.1,613.2 L485.7,613.0 L488.3,612.9 L490.9,612.8 L493.5,612.6 L496.1,612.5 L498.7,612.4 L501.3,612.2 L503.9,612.1 L506.6,611.9 L509.2,611.8 L511.8,611.6 L514.4,611.5 L517.0,611.3 L519.6,611.2 L522.2,611.0 L524.8,610.9 L527.4,610.7 L530.0,610.5 L532.7,610.4 L535.3,610.2 L537.9,610.1 L540.5,609.9 L543.1,609.7 L545.7,609.5 L548.4,609.4 L551.0,609.2 L553.6,609.0 L556.2,608.8 L558.9,608.6 L561.5,608.5 L564.1,608.3 L566.8,608.1 L569.4,607.9 L572.0,607.7 L574.7,607.5 L577.3,607.3 L579.9,607.1 L582.6,606.9 L585.2,606.7 L587.9,606.5 L590.5,606.2 L593.2,606.0 L595.8,605.8 L598.5,605.6 L601.1,605.4 L603.8,605.1 L606.5,604.9 L609.1,604.7 L611.8,604.4 L614.4,604.2 L617.1,604.0 L619.8,603.7 L622.5,603.5 L625.1,603.2 L627.8,603.0 L630.5,602.7 L633.2,602.5 L635.9,602.2 L638.5,601.9 L641.2,601.7 L643.9,601.4 L646.6,601.1 L649.3,600.8 L652.0,600.6 L654.7,600.3 L657.4,600.0 L660.1,599.7 L662.8,599.4 L665.5,599.1 L668.2,598.7 L670.9,598.4 L673.6,598.1 L676.3,597.7 L679.0,597.4 L681.7,597.0 L684.4,596.6 L687.0,596.2 L689.7,595.8 L692.4,595.3 L695.0,594.9 L697.7,594.4 L700.3,594.0 L703.0,593.5 L705.6,592.9 L708.2,592.4 L710.9,591.8 L713.5,591.3 L716.1,590.7 L718.6,590.1 L721.2,589.4 L723.8,588.8 L726.3,588.1 L728.9,587.4 L731.4,586.6 L733.9,585.8 L736.4,585.1 L738.9,584.2 L741.4,583.4 L743.8,582.5 L746.3,581.6 L748.7,580.7 L751.1,579.7 L753.5,578.7 L755.9,577.7 L758.3,576.6 L760.6,575.5 L762.9,574.4 L765.2,573.2 L767.5,572.0 L769.8,570.8 L772.0,569.5 L774.2,568.2 L776.4,566.8 L778.6,565.4 L780.7,564.0 L782.8,562.6 L784.9,561.0 L787.0,559.5 L789.0,557.9 L791.0,556.3 L793.0,554.7 L794.9,553.0 L796.8,551.2 L798.7,549.5 L800.5,547.7 L802.3,545.8 L804.0,544.0 L805.7,542.0 L807.3,540.1 L808.9,538.1 L810.5,536.1 L812.0,534.0 L813.4,531.9 L814.8,529.8 L816.2,527.6 L817.5,525.4 L818.7,523.2 L819.9,521.0 L821.1,518.7 L822.2,516.3 L823.2,514.0 L824.2,511.6 L825.2,509.2 L826.1,506.8 L827.0,504.3 L827.9,501.8 L828.7,499.3 L829.5,496.8 L830.2,494.3 L830.9,491.7 L831.6,489.1 L832.2,486.6 L832.9,484.0 L833.4,481.3 L834.0,478.7 L834.5,476.1 L835.1,473.4 L835.5,470.8 L836.0,468.1 L836.4,465.5 L836.9,462.8 L837.3,460.1 L837.7,457.4 L838.0,454.8 L838.4,452.1 L838.7,449.4 L839.1,446.7 L839.4,444.1 L839.7,441.4 L840.0,438.8 L840.3,436.1 L840.6,433.5 L840.9,430.8 L841.2,428.2 L841.4,425.6 L841.7,422.9 L841.9,420.3 L842.2,417.7 L842.4,415.1 L842.7,412.5 L842.9,409.8 L843.1,407.2 L843.3,404.6 L843.5,402.0 L843.7,399.4 L843.9,396.8 L844.1,394.2 L844.3,391.7 L844.5,389.1 L844.7,386.5 L844.9,383.9 L845.0,381.3 L845.2,378.7 L845.4,376.1 L845.5,373.5 L845.7,371.0 L845.8,368.4 L846.0,365.8 L846.2,363.2 L846.3,360.6 L846.5,358.1 L846.6,355.5 L846.8,352.9 L846.9,350.3 L847.0,347.7 L847.2,345.1 L847.3,342.5 L847.5,339.9 L847.6,337.4 L847.8,334.8 L847.9,332.2 L848.1,329.6 L848.2,327.0 L848.3,324.3 L848.5,321.7 L848.6,319.1 L848.8,316.5 L849.0,313.9 L849.1,311.3 L849.3,308.6 L849.4,306.0 L849.6,303.4 L849.8,300.7 L849.9,298.1 L850.1,295.4 L850.3,292.8 L850.5,290.1 L850.7,287.4 L850.8,284.8 L851.0,282.1 L851.2,279.4 L851.5,276.7 L851.7,274.0 L851.9,271.3 L852.1,268.6 L852.3,265.9 L852.6,263.2 L852.8,260.4 L853.1,257.7 L853.3,255.0 L853.6,252.2 L853.9,249.5 L854.2,246.7 L854.5,244.0 L854.8,241.2 L855.1,238.5 L855.5,235.7 L855.8,233.0 L856.2,230.3 L856.6,227.5 L857.0,224.8 L857.4,222.1 L857.9,219.4 L858.4,216.7 L858.9,214.0 L859.4,211.3 L859.9,208.6 L860.5,206.0 L861.0,203.3 L861.6,200.7 L862.3,198.1 L862.9,195.5 L863.6,192.9 L864.3,190.3 L865.0,187.7 L865.8,185.2 L866.6,182.7 L867.4,180.2 L868.3,177.7 L869.2,175.2 L870.1,172.8 L871.0,170.4 L872.0,168.0 L873.0,165.6 L874.1,163.3 L875.2,161.0 L876.3,158.7 L877.5,156.4 L878.7,154.2 L880.0,152.0 L881.2,149.9 L882.6,147.7 L883.9,145.6 L885.4,143.6 L886.8,141.5 L888.3,139.5 L889.9,137.6 L891.4,135.6 L893.1,133.7 L894.8,131.9 L896.5,130.1 L898.3,128.3 L900.1,126.6 L902.0,124.9 L903.9,123.2 L905.8,121.6 L907.8,120.0 L909.8,118.4 L911.8,116.9 L913.9,115.4 L916.1,114.0 L918.2,112.6 L920.4,111.2 L922.6,109.8 L924.8,108.5 L927.1,107.2 L929.4,105.9 L931.7,104.7 L934.1,103.5 L936.4,102.3 L938.8,101.2 L941.2,100.1 L943.6,99.0 L946.0,97.9 L948.5,96.9 L951.0,95.9 L953.4,94.9 L955.9,94.0 L958.4,93.1 L960.9,92.2 L963.4,91.3 L965.9,90.4 L968.4,89.6 L971.0,88.8 L973.5,88.0 L976.0,87.2 L978.6,86.5 L981.1,85.8 L983.6,85.1 L986.2,84.4 L988.7,83.8 L991.3,83.1 L993.9,82.5 L996.4,81.9 L999.0,81.4 L1001.6,80.8 L1004.2,80.3 L1006.7,79.7 L1009.3,79.2 L1011.9,78.8 L1014.5,78.3 L1017.1,77.8 L1019.7,77.4 L1022.3,77.0 L1024.9,76.6 L1027.5,76.2 L1030.1,75.8 L1032.8,75.5 L1035.4,75.2 L1038.0,74.8 L1040.6,74.5 L1043.3,74.2 L1045.9,73.9 L1048.5,73.7 L1051.2,73.4 L1053.8,73.2 L1056.4,72.9 L1059.1,72.7 L1061.7,72.5 L1064.4,72.3 L1067.0,72.1 L1069.7,71.9 L1072.3,71.7 L1075.0,71.6 L1077.6,71.4 L1080.3,71.3 L1082.9,71.1 L1085.6,71.0 L1088.2,70.9 L1090.9,70.8 L1093.6,70.6 L1096.2,70.5 L1098.9,70.4 L1101.6,70.4 L1104.2,70.3 L1106.9,70.2 L1109.6,70.1 L1112.2,70.0 L1114.9,70.0 L1117.6,69.9 L1120.2,69.9 L1122.9,69.8 L1125.6,69.8 L1128.2,69.7 L1130.9,69.7 L1133.6,69.6 L1136.2,69.6 L1138.9,69.5 L1141.6,69.5 L1144.2,69.4 L1146.9,69.4 L1149.6,69.3 L1152.2,69.3 L1154.9,69.2 L1157.6,69.2 L1160.2,69.1 L1162.9,69.1 L1165.5,69.0 L1168.2,69.0 L1170.8,68.9 L1173.5,68.8 L1176.2,68.8 L1178.8,68.7 L1181.5,68.6 L1184.1,68.5 L1186.8,68.5 L1189.4,68.4 L1192.0,68.3 L1194.7,68.2 L1197.3,68.1 L1200.0,68.0 L1202.6,67.8 L1205.2,67.7 L1207.9,67.6 L1210.5,67.5 L1213.1,67.3 L1215.8,67.2 L1218.4,67.1 L1221.0,66.9 L1223.6,66.8 L1226.3,66.6 L1228.9,66.5 L1231.5,66.3 L1234.1,66.2 L1236.8,66.0 L1239.4,65.9 L1242.0,65.7 L1244.6,65.6 L1247.2,65.4 L1249.8,65.2 L1252.5,65.1 L1255.1,64.9 L1257.7,64.7 L1260.3,64.6 L1262.9,64.4 L1265.5,64.2 L1268.1,64.0 L1270.8,63.9 L1273.4,63.7 L1276.0,63.5 L1278.6,63.4 L1281.2,63.2 L1283.8,63.0 L1286.4,62.8 L1289.0,62.7 L1291.6,62.5 L1294.3,62.3 L1296.9,62.1 L1299.5,62.0 L1302.1,61.8 L1304.7,61.6 L1307.3,61.5 L1309.9,61.3 L1312.5,61.1 L1315.1,61.0 L1317.8,60.8 L1320.4,60.7 L1323.0,60.5 L1325.6,60.3 L1328.2,60.2 L1330.8,60.0 L1333.4,59.9 L1336.0,59.8 L1338.7,59.6 L1341.3,59.5 L1343.9,59.3 L1346.5,59.2 L1349.1,59.1 L1351.8,59.0 L1354.4,58.8 L1357.0,58.7 L1359.6,58.6 L1362.2,58.5 L1364.9,58.4 L1367.5,58.3 L1370.1,58.2 L1372.7,58.1 L1375.4,58.0 L1378.0,57.9 L1380.6,57.9 L1383.3,57.8 L1385.9,57.7 L1388.5,57.7 L1391.2,57.6 L1393.8,57.6 L1396.5,57.5 L1399.1,57.5 L1401.7,57.5 L1404.4,57.4 L1407.0,57.4 L1409.7,57.4 L1412.3,57.4 L1415.0,57.4 L1417.6,57.4 L1420.3,57.4 L1422.9,57.5 L1425.6,57.5 L1428.3,57.5 L1430.9,57.6 L1433.6,57.6 L1436.3,57.7 L1438.9,57.8 L1441.6,57.8 L1444.3,57.9 L1447.0,58.0 L1449.6,58.1 L1452.3,58.2 L1455.0,58.3" fill="none" stroke="#00f" stroke-width="2.5"/>
<path d="M261.7,616.6h9.5a3.0,3.0 0 0 1 3.0,3.0v3.5a3.0,3.0 0 0 1 -3.0,3.0h-9.5a3.0,3.0 0 0 1 -3.0,-3.0v-3.5a3.0,3.0 0 0 1 3.0,-3.0zM284.2,615.8h9.5a3.0,3.0 0 0 1 3.0,3.0v3.5a3.0,3.0 0 0 1 -3.0,3.0h-9.5a3.0,3.0 0 0 1 -3.0,-3.0v-3.5a3.0,3.0 0 0 1 3.0,-3.0zM306.7,615.0h9.5a3.0,3.0 0 0 1 3.0,3.0v3.5a3.0,3.0 0 0 1 -3.0,3.0h-9.5a3.0,3.0 0 0 1 -3.0,-3.0v-3.5a3.0,3.0 0 0 1 3.0,-3.0zM329.2,614.3h9.5a3.0,3.0 0 0 1 3.0,3.0v3.5a3.0,3.0 0 0 1 -3.0,3.0h-9.5a3.0,3.0 0 0 1 -3.0,-3.0v-3.5a3.0,3.0 0 0 1 3.0,-3.0zM351.6,613.5h9.5a3.0,3.0 0 0 1 3.0,3.0v3.5a3.0,3.0 0 0 1 -3.0,3.0h-9.5a3.0,3.0 0 0 1 -3.0,-3.0v-3.5a3.0,3.0 0 0 1 3.0,-3.0zM374.1,612.7h9.5a3.0,3.0 0 0 1 3.0,3.0v3.5a3.0,3.0 0 0 1 -3.0,3.0h-9.5a3.0,3.0 0 0 1 -3.0,-3.0v-3.5a3.0,3.0 0 0 1 3.0,-3.0zM396.6,611.9h9.5a3.0,3.0 0 0 1 3.0,3.0v3.5a3.0,3.0 0 0 1 -3.0,3.0h-9.5a3.0,3.0 0 0 1 -3.0,-3.0v-3.5a3.0,3.0 0 0 1 3.0,-3.0zM419.1,611.0h9.5a3.0,3.0 0 0 1 3.0,3.0v3.5a3.0,3.0 0 0 1 -3.0,3.0h-9.5a3.0,3.0 0 0 1 -3.0,-3.0v-3.5a3.0,3.0 0 0 1 3.0,-3.0zM441.5,610.1h9.5a3.0,3.0 0 0 1 3.0,3.0v3.5a3.0,3.0 0 0 1 -3.0,3.0h-9.5a3.0,3.0 0 0 1 -3.0,-3.0v-3.5a3.0,3.0 0 0 1 3.0,-3.0zM463.0,609.2h9.5a3.0,3.0 0 0 1 3.0,3.0v3.5a3.0,3.0 0 0 1 -3.0,3.0h-9.5a3.0,3.0 0 0 1 -3.0,-3.0v-3.5a3.0,3.0 0 0 1 3.0,-3.0zM483.3,608.2h9.5a3.0,3.0 0 0 1 3.0,3.0v3.5a3.0,3.0 0 0 1 -3.0,3.0h-9.5a3.0,3.0 0 0 1 -3.0,-3.0v-3.5a3.0,3.0 0 0 1 3.0,-3.0zM502.5,607.1h9.5a3.0,3.0 0 0 1 3.0,3.0v3.5a3.0,3.0 0 0 1 -3.0,3.0h-9.5a3.0,3.0 0 0 1 -3.0,-3.0v-3.5a3.0,3.0 0 0 1 3.0,-3.0zM520.7,606.1h9.5a3.0,3.0 0 0 1 3.0,3.0v3.5a3.0,3.0 0 0 1 -3.0,3.0h-9.5a3.0,3.0 0 0 1 -3.0,-3.0v-3.5a3.0,3.0 0 0 1 3.0,-3.0zM537.9,605.0h9.5a3.0,3.0 0 0 1 3.0,3.0v3.5a3.0,3.0 0 0 1 -3.0,3.0h-9.5a3.0,3.0 0 0 1 -3.0,-3.0v-3.5a3.0,3.0 0 0 1 3.0,-3.0zM554.1,603.9h9.5a3.0,3.0 0 0 1 3.0,3.0v3.5a3.0,3.0 0 0 1 -3.0,3.0h-9.5a3.0,3.0 0 0 1 -3.0,-3.0v-3.5a3.0,3.0 0 0 1 3.0,-3.0zM569.5,602.8h9.5a3.0,3.0 0 0 1 3.0,3.0v3.5a3.0,3.0 0 0 1 -3.0,3.0h-9.5a3.0,3.0 0 0 1 -3.0,-3.0v-3.5a3.0,3.0 0 0 1 3.0,-3.0zM584.1,601.6h9.5a3.0,3.0 0 0 1 3.0,3.0v3.5a3.0,3.0 0 0 1 -3.0,3.0h-9.5a3.0,3.0 0 0 1 -3.0,-3.0v-3.5a3.0,3.0 0 0 1 3.0,-3.0zM597.9,600.5h9.5a3.0,3.0 0 0 1 3.0,3.0v3.5a3.0,3.0 0 0 1 -3.0,3.0h-9.5a3.0,3.0 0 0 1 -3.0,-3.0v-3.5a3.0,3.0 0 0 1 3.0,-3.0zM611.0,599.3h9.5a3.0,3.0 0 0 1 3.0,3.0v3.5a3.0,3.0 0 0 1 -3.0,3.0h-9.5a3.0,3.0 0 0 1 -3.0,-3.0v-3.5a3.0,3.0 0 0 1 3.0,-3.0zM623.3,598.2h9.5a3.0,3.0 0 0 1 3.0,3.0v3.5a3.0,3.0 0 0 1 -3.0,3.0h-9.5a3.0,3.0 0 0 1 -3.0,-3.0v-3.5a3.0,3.0 0 0 1 3.0,-3.0zM635.0,597.1h9.5a3.0,3.0 0 0 1 3.0,3.0v3.5a3.0,3.0 0 0 1 -3.0,3.0h-9.5a3.0,3.0 0 0 1 -3.0,-3.0v-3.5a3.0,3.0 0 0 1 3.0,-3.0zM646.1,595.9h9.5a3.0,3.0 0 0 1 3.0,3.0v3.5a3.0,3.0 0 0 1 -3.0,3.0h-9.5a3.0,3.0 0 0 1 -3.0,-3.0v-3.5a3.0,3.0 0 0 1 3.0,-3.0zM656.5,594.8h9.5a3.0,3.0 0 0 1 3.0,3.0v3.5a3.0,3.0 0 0 1 -3.0,3.0h-9.5a3.0,3.0 0 0 1 -3.0,-3.0v-3.5a3.0,3.0 0 0 1 3.0,-3.0zM666.4,593.6h9.5a3.0,3.0 0 0 1 3.0,3.0v3.5a3.0,3.0 0 0 1 -3.0,3.0h-9.5a3.0,3.0 0 0 1 -3.0,-3.0v-3.5a3.0,3.0 0 0 1 3.0,-3.0zM675.8,592.4h9.5a3.0,3.0 0 0 1 3.0,3.0v3.5a3.0,3.0 0 0 1 -3.0,3.0h-9.5a3.0,3.0 0 0 1 -3.0,-3.0v-3.5a3.0,3.0 0 0 1 3.0,-3.0zM684.6,591.1h9.5a3.0,3.0 0 0 1 3.0,3.0v3.5a3.0,3.0 0 0 1 -3.0,3.0h-9.5a3.0,3.0 0 0 1 -3.0,-3.0v-3.5a3.0,3.0 0 0 1 3.0,-3.0zM693.0,589.7h9.5a3.0,3.0 0 0 1 3.0,3.0v3.5a3.0,3.0 0 0 1 -3.0,3.0h-9.5a3.0,3.0 0 0 1 -3.0,-3.0v-3.5a3.0,3.0 0 0 1 3.0,-3.0zM700.9,588.2h9.5a3.0,3.0 0 0 1 3.0,3.0v3.5a3.0,3.0 0 0 1 -3.0,3.0h-9.5a3.0,3.0 0 0 1 -3.0,-3.0v-3.5a3.0,3.0 0 0 1 3.0,-3.0zM708.3,586.6h9.5a3.0,3.0 0 0 1 3.0,3.0v3.5a3.0,3.0 0 0 1 -3.0,3.0h-9.5a3.0,3.0 0 0 1 -3.0,-3.0v-3.5a3.0,3.0 0 0 1 3.0,-3.0zM715.3,585.0h9.5a3.0,3.0 0 0 1 3.0,3.0v3.5a3.0,3.0 0 0 1 -3.0,3.0h-9.5a3.0,3.0 0 0 1 -3.0,-3.0v-3.5a3.0,3.0 0 0 1 3.0,-3.0zM721.9,583.2h9.5a3.0,3.0 0 0 1 3.0,3.0v3.5a3.0,3.0 0 0 1 -3.0,3.0h-9.5a3.0,3.0 0 0 1 -3.0,-3.0v-3.5a3.0,3.0 0 0 1 3.0,-3.0zM728.1,581.4h9.5a3.0,3.0 0 0 1 3.0,3.0v3.5a3.0,3.0 0 0 1 -3.0,3.0h-9.5a3.0,3.0 0 0 1 -3.0,-3.0v-3.5a3.0,3.0 0 0 1 3.0,-3.0zM957.2,87.0h9.5a3.0,3.0 0 0 1 3.0,3.0v3.5a3.0,3.0 0 0 1 -3.0,3.0h-9.5a3.0,3.0 0 0 1 -3.0,-3.0v-3.5a3.0,3.0 0 0 1 3.0,-3.0zM963.3,85.0h9.5a3.0,3.0 0 0 1 3.0,3.0v3.5a3.0,3.0 0 0 1 -3.0,3.0h-9.5a3.0,3.0 0 0 1 -3.0,-3.0v-3.5a3.0,3.0 0 0 1 3.0,-3.0zM969.8,82.9h9.5a3.0,3.0 0 0 1 3.0,3.0v3.5a3.0,3.0 0 0 1 -3.0,3.0h-9.5a3.0,3.0 0 0 1 -3.0,-3.0v-3.5a3.0,3.0 0 0 1 3.0,-3.0zM976.7,80.9h9.5a3.0,3.0 0 0 1 3.0,3.0v3.5a3.0,3.0 0 0 1 -3.0,3.0h-9.5a3.0,3.0 0 0 1 -3.0,-3.0v-3.5a3.0,3.0 0 0 1 3.0,-3.0zM984.0,79.0h9.5a3.0,3.0 0 0 1 3.0,3.0v3.5a3.0,3.0 0 0 1 -3.0,3.0h-9.5a3.0,3.0 0 0 1 -3.0,-3.0v-3.5a3.0,3.0 0 0 1 3.0,-3.0zM991.8,77.2h9.5a3.0,3.0 0 0 1 3.0,3.0v3.5a3.0,3.0 0 0 1 -3.0,3.0h-9.5a3.0,3.0 0 0 1 -3.0,-3.0v-3.5a3.0,3.0 0 0 1 3.0,-3.0zM1000.0,75.4h9.5a3.0,3.0 0 0 1 3.0,3.0v3.5a3.0,3.0 0 0 1 -3.0,3.0h-9.5a3.0,3.0 0 0 1 -3.0,-3.0v-3.5a3.0,3.0 0 0 1 3.0,-3.0zM1008.7,73.7h9.5a3.0,3.0 0 0 1 3.0,3.0v3.5a3.0,3.0 0 0 1 -3.0,3.0h-9.5a3.0,3.0 0 0 1 -3.0,-3.0v-3.5a3.0,3.0 0 0 1 3.0,-3.0zM1018.0,72.2h9.5a3.0,3.0 0 0 1 3.0,3.0v3.5a3.0,3.0 0 0 1 -3.0,3.0h-9.5a3.0,3.0 0 0 1 -3.0,-3.0v-3.5a3.0,3.0 0 0 1 3.0,-3.0zM1027.8,70.8h9.5a3.0,3.0 0 0 1 3.0,3.0v3.5a3.0,3.0 0 0 1 -3.0,3.0h-9.5a3.0,3.0 0 0 1 -3.0,-3.0v-3.5a3.0,3.0 0 0 1 3.0,-3.0zM1038.2,69.5h9.5a3.0,3.0 0 0 1 3.0,3.0v3.5a3.0,3.0 0 0 1 -3.0,3.0h-9.5a3.0,3.0 0 0 1 -3.0,-3.0v-3.5a3.0,3.0 0 0 1 3.0,-3.0zM1049.1,68.4h9.5a3.0,3.0 0 0 1 3.0,3.0v3.5a3.0,3.0 0 0 1 -3.0,3.0h-9.5a3.0,3.0 0 0 1 -3.0,-3.0v-3.5a3.0,3.0 0 0 1 3.0,-3.0zM1060.8,67.4h9.5a3.0,3.0 0 0 1 3.0,3.0v3.5a3.0,3.0 0 0 1 -3.0,3.0h-9.5a3.0,3.0 0 0 1 -3.0,-3.0v-3.5a3.0,3.0 0 0 1 3.0,-3.0zM1073.1,66.6h9.5a3.0,3.0 0 0 1 3.0,3.0v3.5a3.0,3.0 0 0 1 -3.0,3.0h-9.5a3.0,3.0 0 0 1 -3.0,-3.0v-3.5a3.0,3.0 0 0 1 3.0,-3.0zM1086.1,66.0h9.5a3.0,3.0 0 0 1 3.0,3.0v3.5a3.0,3.0 0 0 1 -3.0,3.0h-9.5a3.0,3.0 0 0 1 -3.0,-3.0v-3.5a3.0,3.0 0 0 1 3.0,-3.0zM1099.8,65.5h9.5a3.0,3.0 0 0 1 3.0,3.0v3.5a3.0,3.0 0 0 1 -3.0,3.0h-9.5a3.0,3.0 0 0 1 -3.0,-3.0v-3.5a3.0,3.0 0 0 1 3.0,-3.0zM1114.4,65.1h9.5a3.0,3.0 0 0 1 3.0,3.0v3.5a3.0,3.0 0 0 1 -3.0,3.0h-9.5a3.0,3.0 0 0 1 -3.0,-3.0v-3.5a3.0,3.0 0 0 1 3.0,-3.0zM1129.7,64.8h9.5a3.0,3.0 0 0 1 3.0,3.0v3.5a3.0,3.0 0 0 1 -3.0,3.0h-9.5a3.0,3.0 0 0 1 -3.0,-3.0v-3.5a3.0,3.0 0 0 1 3.0,-3.0zM1145.9,64.6h9.5a3.0,3.0 0 0 1 3.0,3.0v3.5a3.0,3.0 0 0 1 -3.0,3.0h-9.5a3.0,3.0 0 0 1 -3.0,-3.0v-3.5a3.0,3.0 0 0 1 3.0,-3.0zM1163.1,64.2h9.5a3.0,3.0 0 0 1 3.0,3.0v3.5a3.0,3.0 0 0 1 -3.0,3.0h-9.5a3.0,3.0 0 0 1 -3.0,-3.0v-3.5a3.0,3.0 0 0 1 3.0,-3.0zM1181.2,63.7h9.5a3.0,3.0 0 0 1 3.0,3.0v3.5a3.0,3.0 0 0 1 -3.0,3.0h-9.5a3.0,3.0 0 0 1 -3.0,-3.0v-3.5a3.0,3.0 0 0 1 3.0,-3.0zM1200.3,63.0h9.5a3.0,3.0 0 0 1 3.0,3.0v3.5a3.0,3.0 0 0 1 -3.0,3.0h-9.5a3.0,3.0 0 0 1 -3.0,-3.0v-3.5a3.0,3.0 0 0 1 3.0,-3.0zM1220.5,62.0h9.5a3.0,3.0 0 0 1 3.0,3.0v3.5a3.0,3.0 0 0 1 -3.0,3.0h-9.5a3.0,3.0 0 0 1 -3.0,-3.0v-3.5a3.0,3.0 0 0 1 3.0,-3.0zM1241.8,60.7h9.5a3.0,3.0 0 0 1 3.0,3.0v3.5a3.0,3.0 0 0 1 -3.0,3.0h-9.5a3.0,3.0 0 0 1 -3.0,-3.0v-3.5a3.0,3.0 0 0 1 3.0,-3.0zM1264.1,59.2h9.5a3.0,3.0 0 0 1 3.0,3.0v3.5a3.0,3.0 0 0 1 -3.0,3.0h-9.5a3.0,3.0 0 0 1 -3.0,-3.0v-3.5a3.0,3.0 0 0 1 3.0,-3.0zM1286.6,57.8h9.5a3.0,3.0 0 0 1 3.0,3.0v3.5a3.0,3.0 0 0 1 -3.0,3.0h-9.5a3.0,3.0 0 0 1 -3.0,-3.0v-3.5a3.0,3.0 0 0 1 3.0,-3.0zM1309.0,56.3h9.5a3.0,3.0 0 0 1 3.0,3.0v3.5a3.0,3.0 0 0 1 -3.0,3.0h-9.5a3.0,3.0 0 0 1 -3.0,-3.0v-3.5a3.0,3.0 0 0 1 3.0,-3.0zM1331.5,55.0h9.5a3.0,3.0 0 0 1 3.0,3.0v3.5a3.0,3.0 0 0 1 -3.0,3.0h-9.5a3.0,3.0 0 0 1 -3.0,-3.0v-3.5a3.0,3.0 0 0 1 3.0,-3.0zM1354.0,53.9h9.5a3.0,3.0 0 0 1 3.0,3.0v3.5a3.0,3.0 0 0 1 -3.0,3.0h-9.5a3.0,3.0 0 0 1 -3.0,-3.0v-3.5a3.0,3.0 0 0 1 3.0,-3.0zM1376.5,53.1h9.5a3.0,3.0 0 0 1 3.0,3.0v3.5a3.0,3.0 0 0 1 -3.0,3.0h-9.5a3.0,3.0 0 0 1 -3.0,-3.0v-3.5a3.0,3.0 0 0 1 3.0,-3.0zM1399.0,52.7h9.5a3.0,3.0 0 0 1 3.0,3.0v3.5a3.0,3.0 0 0 1 -3.0,3.0h-9.5a3.0,3.0 0 0 1 -3.0,-3.0v-3.5a3.0,3.0 0 0 1 3.0,-3.0zM1421.5,52.7h9.5a3.0,3.0 0 0 1 3.0,3.0v3.5a3.0,3.0 0 0 1 -3.0,3.0h-9.5a3.0,3.0 0 0 1 -3.0,-3.0v-3.5a3.0,3.0 0 0 1 3.0,-3.0zM1444.0,53.3h9.5a3.0,3.0 0 0 1 3.0,3.0v3.5a3.0,3.0 0 0 1 -3.0,3.0h-9.5a3.0,3.0 0 0 1 -3.0,-3.0v-3.5a3.0,3.0 0 0 1 3.0,-3.0z" fill="#00f"/>
<path d="M713.5,591.3 L716.1,590.7 L718.6,590.1 L721.2,589.4 L723.8,588.8 L726.3,588.1 L728.9,587.4 L731.4,586.6 L733.9,585.8 L736.4,585.1 L738.9,584.2 L741.4,583.4 L743.8,582.5 L746.3,581.6 L748.7,580.7 L751.1,579.7 L753.5,578.7 L755.9,577.7 L758.3,576.6 L760.6,575.5 L762.9,574.4 L765.2,573.2 L767.5,572.0 L769.8,570.8 L772.0,569.5 L774.2,568.2 L776.4,566.8 L778.6,565.4 L780.7,564.0 L782.8,562.6 L784.9,561.0 L787.0,559.5 L789.0,557.9 L791.0,556.3 L793.0,554.7 L794.9,553.0 L796.8,551.2 L798.7,549.5 L800.5,547.7 L802.3,545.8 L804.0,544.0 L805.7,542.0 L807.3,540.1 L808.9,538.1 L810.5,536.1 L812.0,534.0 L813.4,531.9 L814.8,529.8 L816.2,527.6 L817.5,525.4 L818.7,523.2 L819.9,521.0 L821.1,518.7 L822.2,516.3 L823.2,514.0 L824.2,511.6 L825.2,509.2 L826.1,506.8 L827.0,504.3 L827.9,501.8 L828.7,499.3 L829.5,496.8 L830.2,494.3 L830.9,491.7 L831.6,489.1 L832.2,486.6 L832.9,484.0 L833.4,481.3 L834.0,478.7 L834.5,476.1 L835.1,473.4 L835.5,470.8 L836.0,468.1 L836.4,465.5 L836.9,462.8 L837.3,460.1 L837.7,457.4 L838.0,454.8 L838.4,452.1 L838.7,449.4 L839.1,446.7 L839.4,444.1 L839.7,441.4 L840.0,438.8 L840.3,436.1 L840.6,433.5 L840.9,430.8 L841.2,428.2 L841.4,425.6 L841.7,422.9 L841.9,420.3 L842.2,417.7 L842.4,415.1 L842.7,412.5 L842.9,409.8 L843.1,407.2 L843.3,404.6 L843.5,402.0 L843.7,399.4 L843.9,396.8 L844.1,394.2 L844.3,391.7 L844.5,389.1 L844.7,386.5 L844.9,383.9 L845.0,381.3 L845.2,378.7 L845.4,376.1 L845.5,373.5 L845.7,371.0 L845.8,368.4 L846.0,365.8 L846.2,363.2 L846.3,360.6 L846.5,358.1 L846.6,355.5 L846.8,352.9 L846.9,350.3 L847.0,347.7 L847.2,345.1 L847.3,342.5 L847.5,339.9 L847.6,337.4 L847.8,334.8 L847.9,332.2 L848.1,329.6 L848.2,327.0 L848.3,324.3 L848.5,321.7 L848.6,319.1 L848.8,316.5 L849.0,313.9 L849.1,311.3 L849.3,308.6 L849.4,306.0 L849.6,303.4 L849.8,300.7 L849.9,298.1 L850.1,295.4 L850.3,292.8 L850.5,290.1 L850.7,287.4 L850.8,284.8 L851.0,282.1 L851.2,279.4 L851.5,276.7 L851.7,274.0 L851.9,271.3 L852.1,268.6 L852.3,265.9 L852.6,263.2 L852.8,260.4 L853.1,257.7 L853.3,255.0 L853.6,252.2 L853.9,249.5 L854.2,246.7 L854.5,244.0 L854.8,241.2 L855.1,238.5 L855.5,235.7 L855.8,233.0 L856.2,230.3 L856.6,227.5 L857.0,224.8 L857.4,222.1 L857.9,219.4 L858.4,216.7 L858.9,214.0 L859.4,211.3 L859.9,208.6 L860.5,206.0 L861.0,203.3 L861.6,200.7 L862.3,198.1 L862.9,195.5 L863.6,192.9 L864.3,190.3 L865.0,187.7 L865.8,185.2 L866.6,182.7 L867.4,180.2 L868.3,177.7 L869.2,175.2 L870.1,172.8 L871.0,170.4 L872.0,168.0 L873.0,165.6 L874.1,163.3 L875.2,161.0 L876.3,158.7 L877.5,156.4 L878.7,154.2 L880.0,152.0 L881.2,149.9 L882.6,147.7 L883.9,145.6 L885.4,143.6 L886.8,141.5 L888.3,139.5 L889.9,137.6 L891.4,135.6 L893.1,133.7 L894.8,131.9 L896.5,130.1 L898.3,128.3 L900.1,126.6 L902.0,124.9 L903.9,123.2 L905.8,121.6 L907.8,120.0 L909.8,118.4 L911.8,116.9 L913.9,115.4 L916.1,114.0 L918.2,112.6 L920.4,111.2 L922.6,109.8 L924.8,108.5 L927.1,107.2 L929.4,105.9 L931.7,104.7 L934.1,103.5 L936.4,102.3 L938.8,101.2 L941.2,100.1 L943.6,99.0 L946.0,97.9 L948.5,96.9 L951.0,95.9 L953.4,94.9 L955.9,94.0 L958.4,93.1 L960.9,92.2 L963.4,91.3 L965.9,90.4 L968.4,89.6 L971.0,88.8 L973.5,88.0 L976.0,87.2 L978.6,86.5 L981.1,85.8" fill="none" stroke="#00f" stroke-width="10.0" stroke-linecap="round" stroke-linejoin="round"/>
</g>
<rect x="243.2" y="26.5" width="1210.0" height="630.0" fill="none" stroke="#000" stroke-width="6.5"/>
<line x1="224" y1="157.0" x2="243.2" y2="157.0" stroke="#000" stroke-width="5"/>
<text x="215.5" y="166.8" font-family="&quot;Liberation Sans&quot;, sans-serif" font-size="50.0" font-weight="bold" font-style="normal" text-anchor="end" >50</text>
<line x1="224" y1="342.0" x2="243.2" y2="342.0" stroke="#000" stroke-width="5"/>
<text x="215.5" y="351.8" font-family="&quot;Liberation Sans&quot;, sans-serif" font-size="50.0" font-weight="bold" font-style="normal" text-anchor="end" >0</text>
<line x1="224" y1="527.0" x2="243.2" y2="527.0" stroke="#000" stroke-width="5"/>
<text x="215.5" y="536.8" font-family="&quot;Liberation Sans&quot;, sans-serif" font-size="50.0" font-weight="bold" font-style="normal" text-anchor="end" >-50</text>
<line x1="457.7" y1="656.5" x2="457.7" y2="637.5" stroke="#000" stroke-width="5"/>
<line x1="847.5" y1="656.5" x2="847.5" y2="637.5" stroke="#000" stroke-width="5"/>
<line x1="1237.3" y1="656.5" x2="1237.3" y2="637.5" stroke="#000" stroke-width="5"/>
<text x="252.3" y="89.5" font-family="&quot;Liberation Sans&quot;, sans-serif" font-size="55.0" font-weight="bold" font-style="normal" text-anchor="start" >(a)</text>
<text x="718.0" y="95.2" font-family="&quot;Liberation Sans&quot;, sans-serif" font-size="60.0" font-weight="normal" font-style="normal" text-anchor="start" stroke="#000" stroke-width="1.3">S1</text>
<rect x="993.0" y="151.5" width="439.0" height="357.5" fill="#fff"/>
<clipPath id="clipi0"><rect x="993.0" y="151.5" width="439.0" height="357.5"/></clipPath>
<g clip-path="url(#clipi0)" fill="none" stroke-linejoin="round" stroke-linecap="round">
<path d="M989.9,480.0 L992.8,479.2 L995.6,478.5 L998.4,477.7 L1001.2,476.8 L1004.0,476.0 L1006.8,475.1 L1009.5,474.1 L1012.2,473.2 L1014.9,472.2 L1017.5,471.2 L1020.2,470.1 L1022.8,469.0 L1025.4,467.9 L1028.0,466.8 L1030.5,465.6 L1033.1,464.4 L1035.6,463.2 L1038.1,462.0 L1040.5,460.7 L1043.0,459.4 L1045.4,458.0 L1047.8,456.7 L1050.2,455.3 L1052.6,453.9 L1055.0,452.5 L1057.3,451.0 L1059.6,449.5 L1062.0,448.0 L1064.2,446.5 L1066.5,444.9 L1068.8,443.3 L1071.0,441.7 L1073.2,440.1 L1075.4,438.5 L1077.6,436.8 L1079.8,435.1 L1081.9,433.4 L1084.1,431.7 L1086.2,429.9 L1088.3,428.2 L1090.4,426.4 L1092.4,424.6 L1094.5,422.7 L1096.5,420.9 L1098.6,419.0 L1100.6,417.2 L1102.6,415.3 L1104.6,413.3 L1106.5,411.4 L1108.5,409.5 L1110.4,407.5 L1112.4,405.5 L1114.3,403.5 L1116.2,401.5 L1118.1,399.5 L1120.0,397.5 L1121.8,395.4 L1123.7,393.4 L1125.5,391.3 L1127.4,389.2 L1129.2,387.1 L1131.0,385.0 L1132.8,382.9 L1134.7,380.8 L1136.4,378.6 L1138.2,376.5 L1140.0,374.3 L1141.8,372.2 L1143.6,370.0 L1145.3,367.8 L1147.1,365.7 L1148.9,363.5 L1150.6,361.3 L1152.4,359.1 L1154.1,356.9 L1155.9,354.7 L1157.6,352.5 L1159.4,350.3 L1161.1,348.1 L1162.9,345.9 L1164.6,343.7 L1166.4,341.5 L1168.1,339.4 L1169.9,337.2 L1171.7,335.0 L1173.4,332.8 L1175.2,330.6 L1177.0,328.4 L1178.7,326.2 L1180.5,324.0 L1182.3,321.9 L1184.1,319.7 L1185.9,317.5 L1187.7,315.4 L1189.5,313.3 L1191.4,311.1 L1193.2,309.0 L1195.0,306.9 L1196.9,304.8 L1198.8,302.7 L1200.7,300.6 L1202.5,298.5 L1204.4,296.4 L1206.3,294.4 L1208.3,292.3 L1210.2,290.3 L1212.1,288.3 L1214.1,286.3 L1216.1,284.3 L1218.0,282.3 L1220.0,280.3 L1222.0,278.3 L1224.0,276.4 L1226.0,274.5 L1228.1,272.5 L1230.1,270.6 L1232.1,268.7 L1234.2,266.8 L1236.3,265.0 L1238.3,263.1 L1240.4,261.3 L1242.5,259.4 L1244.6,257.6 L1246.8,255.8 L1248.9,254.0 L1251.0,252.3 L1253.2,250.5 L1255.3,248.8 L1257.5,247.1 L1259.7,245.3 L1261.9,243.7 L1264.1,242.0 L1266.3,240.3 L1268.5,238.7 L1270.8,237.1 L1273.0,235.4 L1275.3,233.8 L1277.6,232.3 L1279.8,230.7 L1282.1,229.2 L1284.4,227.7 L1286.7,226.2 L1289.1,224.7 L1291.4,223.2 L1293.7,221.7 L1296.1,220.3 L1298.5,218.9 L1300.8,217.5 L1303.2,216.1 L1305.6,214.8 L1308.0,213.5 L1310.4,212.1 L1312.9,210.8 L1315.3,209.6 L1317.8,208.3 L1320.2,207.1 L1322.7,205.9 L1325.2,204.7 L1327.7,203.5 L1330.2,202.4 L1332.7,201.2 L1335.2,200.1 L1337.7,199.1 L1340.3,198.0 L1342.8,197.0 L1345.4,195.9 L1348.0,195.0 L1350.6,194.0 L1353.2,193.0 L1355.8,192.1 L1358.4,191.2 L1361.0,190.3 L1363.7,189.5 L1366.3,188.7 L1369.0,187.9 L1371.7,187.1 L1374.3,186.3 L1377.0,185.6 L1379.7,184.9 L1382.5,184.2 L1385.2,183.6 L1387.9,182.9 L1390.7,182.3 L1393.4,181.7 L1396.2,181.2 L1399.0,180.7 L1401.8,180.2 L1404.6,179.7 L1407.4,179.3 L1410.2,178.8 L1413.0,178.5 L1415.9,178.1 L1418.7,177.8 L1421.6,177.5 L1424.5,177.2 L1427.3,176.9 L1430.2,176.7 L1433.1,176.5 L1436.1,176.3" stroke="#000" stroke-width="5.5"/>
<path d="M989.9,480.5 L992.9,480.5 L995.8,480.4 L998.8,480.3 L1001.7,480.2 L1004.6,480.1 L1007.5,479.9 L1010.4,479.7 L1013.3,479.4 L1016.2,479.1 L1019.0,478.8 L1021.8,478.5 L1024.7,478.1 L1027.5,477.7 L1030.3,477.2 L1033.0,476.8 L1035.8,476.3 L1038.6,475.7 L1041.3,475.2 L1044.0,474.6 L1046.7,474.0 L1049.4,473.3 L1052.1,472.6 L1054.8,471.9 L1057.5,471.2 L1060.1,470.4 L1062.8,469.6 L1065.4,468.8 L1068.0,468.0 L1070.6,467.1 L1073.2,466.2 L1075.8,465.3 L1078.3,464.3 L1080.9,463.3 L1083.4,462.3 L1086.0,461.3 L1088.5,460.2 L1091.0,459.1 L1093.5,458.0 L1095.9,456.9 L1098.4,455.7 L1100.9,454.6 L1103.3,453.4 L1105.7,452.1 L1108.2,450.9 L1110.6,449.6 L1113.0,448.3 L1115.3,447.0 L1117.7,445.6 L1120.1,444.3 L1122.4,442.9 L1124.8,441.5 L1127.1,440.1 L1129.4,438.6 L1131.7,437.1 L1134.0,435.7 L1136.3,434.1 L1138.6,432.6 L1140.8,431.1 L1143.1,429.5 L1145.3,427.9 L1147.5,426.3 L1149.8,424.7 L1152.0,423.0 L1154.2,421.4 L1156.4,419.7 L1158.5,418.0 L1160.7,416.3 L1162.9,414.6 L1165.0,412.8 L1167.1,411.1 L1169.3,409.3 L1171.4,407.5 L1173.5,405.7 L1175.6,403.8 L1177.7,402.0 L1179.7,400.1 L1181.8,398.3 L1183.8,396.4 L1185.9,394.5 L1187.9,392.6 L1190.0,390.7 L1192.0,388.7 L1194.0,386.8 L1196.0,384.8 L1198.0,382.8 L1199.9,380.8 L1201.9,378.8 L1203.9,376.8 L1205.8,374.8 L1207.8,372.7 L1209.7,370.7 L1211.6,368.6 L1213.5,366.6 L1215.4,364.5 L1217.3,362.4 L1219.2,360.3 L1221.1,358.2 L1223.0,356.1 L1224.8,354.0 L1226.7,351.8 L1228.5,349.7 L1230.3,347.5 L1232.2,345.4 L1234.0,343.2 L1235.8,341.0 L1237.6,338.9 L1239.4,336.7 L1241.2,334.5 L1243.0,332.3 L1244.8,330.1 L1246.6,327.9 L1248.4,325.7 L1250.2,323.5 L1251.9,321.3 L1253.7,319.1 L1255.5,316.9 L1257.2,314.7 L1259.0,312.5 L1260.8,310.3 L1262.6,308.2 L1264.3,306.0 L1266.1,303.8 L1267.9,301.6 L1269.6,299.4 L1271.4,297.2 L1273.2,295.0 L1275.0,292.9 L1276.8,290.7 L1278.5,288.5 L1280.3,286.4 L1282.1,284.2 L1283.9,282.1 L1285.7,280.0 L1287.5,277.9 L1289.4,275.7 L1291.2,273.6 L1293.0,271.6 L1294.8,269.5 L1296.7,267.4 L1298.5,265.4 L1300.4,263.3 L1302.3,261.3 L1304.2,259.3 L1306.0,257.3 L1307.9,255.3 L1309.9,253.3 L1311.8,251.3 L1313.7,249.4 L1315.7,247.5 L1317.6,245.6 L1319.6,243.7 L1321.6,241.8 L1323.6,239.9 L1325.6,238.1 L1327.6,236.3 L1329.6,234.5 L1331.7,232.7 L1333.8,230.9 L1335.8,229.2 L1337.9,227.5 L1340.1,225.8 L1342.2,224.1 L1344.4,222.5 L1346.5,220.9 L1348.7,219.3 L1350.9,217.7 L1353.2,216.2 L1355.4,214.7 L1357.7,213.2 L1359.9,211.7 L1362.2,210.3 L1364.6,208.9 L1366.9,207.5 L1369.3,206.1 L1371.7,204.8 L1374.1,203.5 L1376.5,202.3 L1379.0,201.1 L1381.4,199.9 L1383.9,198.7 L1386.4,197.6 L1389.0,196.5 L1391.6,195.5 L1394.1,194.4 L1396.8,193.5 L1399.4,192.5 L1402.1,191.6 L1404.7,190.7 L1407.5,189.9 L1410.2,189.1 L1413.0,188.4 L1415.8,187.6 L1418.6,187.0 L1421.4,186.3 L1424.3,185.7 L1427.2,185.2 L1430.1,184.7 L1433.1,184.2 L1436.1,183.8" stroke="#000" stroke-width="5.5"/>
<path d="M990.0,479.5 L992.3,478.9 L994.5,478.3 L996.8,477.8 L999.1,477.2 L1001.4,476.5 L1003.7,475.9 L1006.0,475.3 L1008.3,474.6 L1010.6,473.9 L1012.8,473.2 L1015.1,472.5 L1017.4,471.7 L1019.7,471.0 L1021.9,470.2 L1024.2,469.4 L1026.5,468.6 L1028.7,467.7 L1031.0,466.9 L1033.2,466.0 L1035.5,465.1 L1037.7,464.2 L1039.9,463.3 L1042.6,462.3 L1045.3,461.4 L1047.9,460.4 L1050.5,459.4 L1053.2,458.3 L1055.8,457.3 L1058.4,456.2 L1061.0,455.1 L1063.6,454.0 L1066.2,452.9 L1068.7,451.7 L1071.3,450.5 L1073.8,449.3 L1076.3,448.1 L1078.8,446.8 L1081.3,445.6 L1083.8,444.3 L1086.2,443.0 L1088.7,441.6 L1091.1,440.3 L1093.5,438.9 L1095.9,437.5 L1098.3,436.0 L1100.6,434.6 L1103.0,433.1 L1105.3,431.6 L1107.6,430.1 L1109.9,428.5 L1112.1,426.9 L1114.4,425.3 L1116.6,423.7 L1118.8,422.1 L1121.0,420.4 L1123.1,418.7 L1125.2,417.0 L1127.3,415.2 L1129.4,413.4 L1131.5,411.6 L1133.6,409.8 L1135.6,408.0 L1137.6,406.1 L1139.6,404.3 L1141.6,402.4 L1143.6,400.4 L1145.5,398.5 L1147.4,396.6 L1149.4,394.6 L1151.3,392.6 L1153.2,390.6 L1155.0,388.6 L1156.9,386.5 L1158.8,384.5 L1160.6,382.4 L1162.4,380.3 L1164.2,378.2 L1166.1,376.1 L1167.8,374.0 L1169.6,371.9 L1171.4,369.7 L1173.2,367.6 L1174.9,365.4 L1176.7,363.3 L1178.5,361.1 L1180.2,358.9 L1181.9,356.7 L1183.7,354.5 L1185.4,352.3 L1187.1,350.0 L1188.8,347.8 L1190.5,345.6 L1192.2,343.3 L1193.9,341.1 L1195.6,338.9 L1197.3,336.6 L1199.0,334.4 L1200.7,332.1 L1202.4,329.8 L1204.1,327.6 L1205.8,325.3 L1207.5,323.1 L1209.2,320.8 L1210.9,318.6 L1212.6,316.3 L1214.4,314.0 L1216.1,311.8 L1217.8,309.5 L1219.5,307.3 L1221.2,305.1 L1222.9,302.8 L1224.7,300.6 L1226.4,298.4 L1228.1,296.2 L1229.9,293.9 L1231.6,291.7 L1233.4,289.5 L1235.2,287.4 L1236.9,285.2 L1238.7,283.0 L1240.5,280.8 L1242.3,278.7 L1244.1,276.6 L1245.9,274.4 L1247.8,272.3 L1249.6,270.2 L1251.5,268.1 L1253.3,266.1 L1255.2,264.0 L1257.1,262.0 L1259.0,259.9 L1260.9,257.9 L1262.8,255.9 L1264.7,254.0 L1266.7,252.0 L1268.6,250.1 L1270.6,248.1 L1272.6,246.2 L1274.6,244.4 L1276.6,242.5 L1278.7,240.7 L1280.7,238.9 L1282.8,237.1 L1284.9,235.3 L1287.0,233.5 L1289.1,231.8 L1291.3,230.1 L1293.4,228.4 L1295.6,226.8 L1297.8,225.2 L1300.0,223.6 L1302.3,222.0 L1304.5,220.5 L1306.8,219.0 L1309.1,217.5 L1311.4,216.0 L1313.8,214.6 L1316.2,213.2 L1318.5,211.8 L1321.0,210.5 L1323.4,209.2 L1325.8,207.9 L1328.3,206.7 L1330.8,205.5 L1333.3,204.3 L1335.8,203.1 L1338.4,202.0 L1340.9,200.9 L1343.5,199.8 L1346.1,198.7 L1348.7,197.7 L1351.3,196.7 L1353.9,195.8 L1356.6,194.8 L1359.3,193.9 L1361.9,193.1 L1364.6,192.2 L1367.5,191.4 L1370.7,190.6 L1373.9,189.8 L1377.1,189.1 L1380.3,188.4 L1383.5,187.7 L1386.7,187.0 L1389.9,186.4 L1393.2,185.8 L1396.4,185.2 L1399.7,184.7 L1403.0,184.1 L1406.3,183.6 L1409.5,183.2 L1412.8,182.7 L1416.1,182.3 L1419.5,181.9 L1422.8,181.6 L1426.1,181.2 L1429.4,180.9 L1432.7,180.6 L1436.1,180.3" stroke="#f00" stroke-width="6.5"/>
<path d="M990.0,479.5 L993.2,478.9 L996.4,478.3 L999.6,477.8 L1002.8,477.2 L1006.0,476.5 L1009.2,475.9 L1012.4,475.3 L1015.6,474.6 L1018.8,473.9 L1022.0,473.2 L1025.2,472.5 L1028.4,471.7 L1031.6,471.0 L1034.7,470.2 L1037.9,469.4 L1041.1,468.6 L1044.2,467.7 L1047.4,466.9 L1050.5,466.0 L1053.7,465.1 L1056.8,464.2 L1059.9,463.3 L1062.6,462.3 L1065.3,461.4 L1067.9,460.4 L1070.5,459.4 L1073.2,458.3 L1075.8,457.3 L1078.4,456.2 L1081.0,455.1 L1083.6,454.0 L1086.2,452.9 L1088.7,451.7 L1091.3,450.5 L1093.8,449.3 L1096.3,448.1 L1098.8,446.8 L1101.3,445.6 L1103.8,444.3 L1106.2,443.0 L1108.7,441.6 L1111.1,440.3 L1113.5,438.9 L1115.9,437.5 L1118.3,436.0 L1120.6,434.6 L1123.0,433.1 L1125.3,431.6 L1127.6,430.1 L1129.9,428.5 L1132.1,426.9 L1134.4,425.3 L1136.6,423.7 L1138.8,422.1 L1141.0,420.4 L1143.1,418.7 L1145.2,417.0 L1147.3,415.2 L1149.4,413.4 L1151.5,411.6 L1153.6,409.8 L1155.6,408.0 L1157.6,406.1 L1159.6,404.3 L1161.6,402.4 L1163.6,400.4 L1165.5,398.5 L1167.4,396.6 L1169.4,394.6 L1171.3,392.6 L1173.2,390.6 L1175.0,388.6 L1176.9,386.5 L1178.8,384.5 L1180.6,382.4 L1182.4,380.3 L1184.2,378.2 L1186.1,376.1 L1187.8,374.0 L1189.6,371.9 L1191.4,369.7 L1193.2,367.6 L1194.9,365.4 L1196.7,363.3 L1198.5,361.1 L1200.2,358.9 L1201.9,356.7 L1203.7,354.5 L1205.4,352.3 L1207.1,350.0 L1208.8,347.8 L1210.5,345.6 L1212.2,343.3 L1213.9,341.1 L1215.6,338.9 L1217.3,336.6 L1219.0,334.4 L1220.7,332.1 L1222.4,329.8 L1224.1,327.6 L1225.8,325.3 L1227.5,323.1 L1229.2,320.8 L1230.9,318.6 L1232.6,316.3 L1234.4,314.0 L1236.1,311.8 L1237.8,309.5 L1239.5,307.3 L1241.2,305.1 L1242.9,302.8 L1244.7,300.6 L1246.4,298.4 L1248.1,296.2 L1249.9,293.9 L1251.6,291.7 L1253.4,289.5 L1255.2,287.4 L1256.9,285.2 L1258.7,283.0 L1260.5,280.8 L1262.3,278.7 L1264.1,276.6 L1265.9,274.4 L1267.8,272.3 L1269.6,270.2 L1271.5,268.1 L1273.3,266.1 L1275.2,264.0 L1277.1,262.0 L1279.0,259.9 L1280.9,257.9 L1282.8,255.9 L1284.7,254.0 L1286.7,252.0 L1288.6,250.1 L1290.6,248.1 L1292.6,246.2 L1294.6,244.4 L1296.6,242.5 L1298.7,240.7 L1300.7,238.9 L1302.8,237.1 L1304.9,235.3 L1307.0,233.5 L1309.1,231.8 L1311.3,230.1 L1313.4,228.4 L1315.6,226.8 L1317.8,225.2 L1320.0,223.6 L1322.3,222.0 L1324.5,220.5 L1326.8,219.0 L1329.1,217.5 L1331.4,216.0 L1333.8,214.6 L1336.2,213.2 L1338.5,211.8 L1341.0,210.5 L1343.4,209.2 L1345.8,207.9 L1348.3,206.7 L1350.8,205.5 L1353.3,204.3 L1355.8,203.1 L1358.4,202.0 L1360.9,200.9 L1363.5,199.8 L1366.1,198.7 L1368.7,197.7 L1371.3,196.7 L1373.9,195.8 L1376.6,194.8 L1379.3,193.9 L1381.9,193.1 L1384.6,192.2 L1387.1,191.4 L1389.4,190.6 L1391.6,189.8 L1393.9,189.1 L1396.2,188.4 L1398.5,187.7 L1400.8,187.0 L1403.1,186.4 L1405.4,185.8 L1407.8,185.2 L1410.1,184.7 L1412.4,184.1 L1414.8,183.6 L1417.1,183.2 L1419.5,182.7 L1421.8,182.3 L1424.2,181.9 L1426.6,181.6 L1428.9,181.2 L1431.3,180.9 L1433.7,180.6 L1436.1,180.3" stroke="#f00" stroke-width="6.5"/>
<path d="M990.0,479.5 L992.6,478.9 L995.3,478.3 L998.0,477.8 L1000.7,477.2 L1003.4,476.5 L1006.0,475.9 L1008.7,475.3 L1011.4,474.6 L1014.1,473.9 L1016.7,473.2 L1019.4,472.5 L1022.1,471.7 L1024.7,471.0 L1027.4,470.2 L1030.0,469.4 L1032.7,468.6 L1035.3,467.7 L1038.0,466.9 L1040.6,466.0 L1043.2,465.1 L1045.8,464.2 L1048.4,463.3 L1051.1,462.3 L1053.8,461.4 L1056.4,460.4 L1059.0,459.4 L1061.7,458.3 L1064.3,457.3 L1066.9,456.2 L1069.5,455.1 L1072.1,454.0 L1074.7,452.9 L1077.2,451.7 L1079.8,450.5 L1082.3,449.3 L1084.8,448.1 L1087.3,446.8 L1089.8,445.6 L1092.3,444.3 L1094.7,443.0 L1097.2,441.6 L1099.6,440.3 L1102.0,438.9 L1104.4,437.5 L1106.8,436.0 L1109.1,434.6 L1111.5,433.1 L1113.8,431.6 L1116.1,430.1 L1118.4,428.5 L1120.6,426.9 L1122.9,425.3 L1125.1,423.7 L1127.3,422.1 L1129.5,420.4 L1131.6,418.7 L1133.7,417.0 L1135.8,415.2 L1137.9,413.4 L1140.0,411.6 L1142.1,409.8 L1144.1,408.0 L1146.1,406.1 L1148.1,404.3 L1150.1,402.4 L1152.1,400.4 L1154.0,398.5 L1155.9,396.6 L1157.9,394.6 L1159.8,392.6 L1161.7,390.6 L1163.5,388.6 L1165.4,386.5 L1167.3,384.5 L1169.1,382.4 L1170.9,380.3 L1172.7,378.2 L1174.6,376.1 L1176.3,374.0 L1178.1,371.9 L1179.9,369.7 L1181.7,367.6 L1183.4,365.4 L1185.2,363.3 L1187.0,361.1 L1188.7,358.9 L1190.4,356.7 L1192.2,354.5 L1193.9,352.3 L1195.6,350.0 L1197.3,347.8 L1199.0,345.6 L1200.7,343.3 L1202.4,341.1 L1204.1,338.9 L1205.8,336.6 L1207.5,334.4 L1209.2,332.1 L1210.9,329.8 L1212.6,327.6 L1214.3,325.3 L1216.0,323.1 L1217.7,320.8 L1219.4,318.6 L1221.1,316.3 L1222.9,314.0 L1224.6,311.8 L1226.3,309.5 L1228.0,307.3 L1229.7,305.1 L1231.4,302.8 L1233.2,300.6 L1234.9,298.4 L1236.6,296.2 L1238.4,293.9 L1240.1,291.7 L1241.9,289.5 L1243.7,287.4 L1245.4,285.2 L1247.2,283.0 L1249.0,280.8 L1250.8,278.7 L1252.6,276.6 L1254.4,274.4 L1256.3,272.3 L1258.1,270.2 L1260.0,268.1 L1261.8,266.1 L1263.7,264.0 L1265.6,262.0 L1267.5,259.9 L1269.4,257.9 L1271.3,255.9 L1273.2,254.0 L1275.2,252.0 L1277.1,250.1 L1279.1,248.1 L1281.1,246.2 L1283.1,244.4 L1285.1,242.5 L1287.2,240.7 L1289.2,238.9 L1291.3,237.1 L1293.4,235.3 L1295.5,233.5 L1297.6,231.8 L1299.8,230.1 L1301.9,228.4 L1304.1,226.8 L1306.3,225.2 L1308.5,223.6 L1310.8,222.0 L1313.0,220.5 L1315.3,219.0 L1317.6,217.5 L1319.9,216.0 L1322.3,214.6 L1324.7,213.2 L1327.0,211.8 L1329.5,210.5 L1331.9,209.2 L1334.3,207.9 L1336.8,206.7 L1339.3,205.5 L1341.8,204.3 L1344.3,203.1 L1346.9,202.0 L1349.4,200.9 L1352.0,199.8 L1354.6,198.7 L1357.2,197.7 L1359.8,196.7 L1362.4,195.8 L1365.1,194.8 L1367.8,193.9 L1370.4,193.1 L1373.1,192.2 L1375.9,191.4 L1378.6,190.6 L1381.4,189.8 L1384.2,189.1 L1387.0,188.4 L1389.9,187.7 L1392.7,187.0 L1395.5,186.4 L1398.4,185.8 L1401.3,185.2 L1404.1,184.7 L1407.0,184.1 L1409.9,183.6 L1412.8,183.2 L1415.7,182.7 L1418.6,182.3 L1421.5,181.9 L1424.4,181.6 L1427.3,181.2 L1430.2,180.9 L1433.1,180.6 L1436.1,180.3" stroke="#00f" stroke-width="7.5"/>
<path d="M990.0,479.5 L992.8,478.9 L995.6,478.3 L998.4,477.8 L1001.2,477.2 L1004.0,476.5 L1006.9,475.9 L1009.7,475.3 L1012.5,474.6 L1015.3,473.9 L1018.1,473.2 L1020.9,472.5 L1023.7,471.7 L1026.5,471.0 L1029.3,470.2 L1032.1,469.4 L1034.9,468.6 L1037.6,467.7 L1040.4,466.9 L1043.2,466.0 L1045.9,465.1 L1048.7,464.2 L1051.4,463.3 L1054.1,462.3 L1056.8,461.4 L1059.4,460.4 L1062.0,459.4 L1064.7,458.3 L1067.3,457.3 L1069.9,456.2 L1072.5,455.1 L1075.1,454.0 L1077.7,452.9 L1080.2,451.7 L1082.8,450.5 L1085.3,449.3 L1087.8,448.1 L1090.3,446.8 L1092.8,445.6 L1095.3,444.3 L1097.7,443.0 L1100.2,441.6 L1102.6,440.3 L1105.0,438.9 L1107.4,437.5 L1109.8,436.0 L1112.1,434.6 L1114.5,433.1 L1116.8,431.6 L1119.1,430.1 L1121.4,428.5 L1123.6,426.9 L1125.9,425.3 L1128.1,423.7 L1130.3,422.1 L1132.5,420.4 L1134.6,418.7 L1136.7,417.0 L1138.8,415.2 L1140.9,413.4 L1143.0,411.6 L1145.1,409.8 L1147.1,408.0 L1149.1,406.1 L1151.1,404.3 L1153.1,402.4 L1155.1,400.4 L1157.0,398.5 L1158.9,396.6 L1160.9,394.6 L1162.8,392.6 L1164.7,390.6 L1166.5,388.6 L1168.4,386.5 L1170.3,384.5 L1172.1,382.4 L1173.9,380.3 L1175.7,378.2 L1177.6,376.1 L1179.3,374.0 L1181.1,371.9 L1182.9,369.7 L1184.7,367.6 L1186.4,365.4 L1188.2,363.3 L1190.0,361.1 L1191.7,358.9 L1193.4,356.7 L1195.2,354.5 L1196.9,352.3 L1198.6,350.0 L1200.3,347.8 L1202.0,345.6 L1203.7,343.3 L1205.4,341.1 L1207.1,338.9 L1208.8,336.6 L1210.5,334.4 L1212.2,332.1 L1213.9,329.8 L1215.6,327.6 L1217.3,325.3 L1219.0,323.1 L1220.7,320.8 L1222.4,318.6 L1224.1,316.3 L1225.9,314.0 L1227.6,311.8 L1229.3,309.5 L1231.0,307.3 L1232.7,305.1 L1234.4,302.8 L1236.2,300.6 L1237.9,298.4 L1239.6,296.2 L1241.4,293.9 L1243.1,291.7 L1244.9,289.5 L1246.7,287.4 L1248.4,285.2 L1250.2,283.0 L1252.0,280.8 L1253.8,278.7 L1255.6,276.6 L1257.4,274.4 L1259.3,272.3 L1261.1,270.2 L1263.0,268.1 L1264.8,266.1 L1266.7,264.0 L1268.6,262.0 L1270.5,259.9 L1272.4,257.9 L1274.3,255.9 L1276.2,254.0 L1278.2,252.0 L1280.1,250.1 L1282.1,248.1 L1284.1,246.2 L1286.1,244.4 L1288.1,242.5 L1290.2,240.7 L1292.2,238.9 L1294.3,237.1 L1296.4,235.3 L1298.5,233.5 L1300.6,231.8 L1302.8,230.1 L1304.9,228.4 L1307.1,226.8 L1309.3,225.2 L1311.5,223.6 L1313.8,222.0 L1316.0,220.5 L1318.3,219.0 L1320.6,217.5 L1322.9,216.0 L1325.3,214.6 L1327.7,213.2 L1330.0,211.8 L1332.5,210.5 L1334.9,209.2 L1337.3,207.9 L1339.8,206.7 L1342.3,205.5 L1344.8,204.3 L1347.3,203.1 L1349.9,202.0 L1352.4,200.9 L1355.0,199.8 L1357.6,198.7 L1360.2,197.7 L1362.8,196.7 L1365.4,195.8 L1368.1,194.8 L1370.8,193.9 L1373.4,193.1 L1376.1,192.2 L1378.8,191.4 L1381.4,190.6 L1384.1,189.8 L1386.8,189.1 L1389.4,188.4 L1392.1,187.7 L1394.8,187.0 L1397.5,186.4 L1400.2,185.8 L1402.9,185.2 L1405.7,184.7 L1408.4,184.1 L1411.2,183.6 L1413.9,183.2 L1416.7,182.7 L1419.4,182.3 L1422.2,181.9 L1424.9,181.6 L1427.7,181.2 L1430.5,180.9 L1433.3,180.6 L1436.1,180.3" stroke="#00f" stroke-width="7.5"/>
</g>
<rect x="993.0" y="151.5" width="439.0" height="357.5" fill="none" stroke="#000" stroke-width="4.6"/>
<line x1="976.5" y1="181.3" x2="993.0" y2="181.3" stroke="#000" stroke-width="4.2"/>
<line x1="976.5" y1="330.2" x2="993.0" y2="330.2" stroke="#000" stroke-width="4.2"/>
<line x1="976.5" y1="479.2" x2="993.0" y2="479.2" stroke="#000" stroke-width="4.2"/>
<text x="966.0" y="190.0" font-family="&quot;Liberation Sans&quot;, sans-serif" font-size="38.0" font-weight="bold" font-style="normal" text-anchor="end" >50</text>
<text x="966.0" y="339.0" font-family="&quot;Liberation Sans&quot;, sans-serif" font-size="38.0" font-weight="bold" font-style="normal" text-anchor="end" >0</text>
<text x="966.0" y="488.0" font-family="&quot;Liberation Sans&quot;, sans-serif" font-size="38.0" font-weight="bold" font-style="normal" text-anchor="end" >-50</text>
<line x1="1065.0" y1="509.0" x2="1065.0" y2="524.5" stroke="#000" stroke-width="4.2"/>
<text x="1062.5" y="564.0" font-family="&quot;Liberation Sans&quot;, sans-serif" font-size="37.0" font-weight="bold" font-style="normal" text-anchor="middle" >-0.1</text>
<line x1="1212.0" y1="509.0" x2="1212.0" y2="524.5" stroke="#000" stroke-width="4.2"/>
<text x="1211.5" y="564.0" font-family="&quot;Liberation Sans&quot;, sans-serif" font-size="37.0" font-weight="bold" font-style="normal" text-anchor="middle" >0.0</text>
<line x1="1359.0" y1="509.0" x2="1359.0" y2="524.5" stroke="#000" stroke-width="4.2"/>
<text x="1358.5" y="564.0" font-family="&quot;Liberation Sans&quot;, sans-serif" font-size="37.0" font-weight="bold" font-style="normal" text-anchor="middle" >0.1</text>
<text x="1160.5" y="622.0" font-family="&quot;Liberation Sans&quot;, sans-serif" font-size="45.5" font-weight="normal" font-style="normal" text-anchor="start" ><tspan font-style="italic">H</tspan> (T)</text>
<text transform="translate(930.5,434.0) rotate(-90)" font-family="&quot;Liberation Sans&quot;, sans-serif" font-size="47"><tspan font-style="italic">M</tspan> (emu/g)</text>
<clipPath id="clipm1"><rect x="243.2" y="679.0" width="1210.0" height="630.8"/></clipPath>
<g clip-path="url(#clipm1)">
<path d="M244.0,1280.7 L246.7,1280.7 L249.5,1280.6 L252.3,1280.6 L255.0,1280.5 L257.8,1280.5 L260.6,1280.5 L263.3,1280.4 L266.1,1280.4 L268.8,1280.3 L271.5,1280.3 L274.3,1280.3 L277.0,1280.2 L279.7,1280.2 L282.4,1280.1 L285.2,1280.1 L287.9,1280.0 L290.6,1280.0 L293.3,1279.9 L296.0,1279.9 L298.7,1279.8 L301.4,1279.8 L304.1,1279.7 L306.8,1279.7 L309.5,1279.6 L312.2,1279.6 L314.8,1279.5 L317.5,1279.5 L320.2,1279.4 L322.9,1279.4 L325.5,1279.3 L328.2,1279.3 L330.9,1279.2 L333.5,1279.1 L336.2,1279.1 L338.8,1279.0 L341.5,1278.9 L344.2,1278.9 L346.8,1278.8 L349.4,1278.7 L352.1,1278.7 L354.7,1278.6 L357.4,1278.5 L360.0,1278.5 L362.6,1278.4 L365.3,1278.3 L367.9,1278.3 L370.5,1278.2 L373.2,1278.1 L375.8,1278.0 L378.4,1278.0 L381.0,1277.9 L383.7,1277.8 L386.3,1277.7 L388.9,1277.6 L391.5,1277.6 L394.1,1277.5 L396.8,1277.4 L399.4,1277.3 L402.0,1277.2 L404.6,1277.1 L407.2,1277.0 L409.8,1276.9 L412.4,1276.8 L415.0,1276.8 L417.6,1276.7 L420.2,1276.6 L422.9,1276.5 L425.5,1276.4 L428.1,1276.3 L430.7,1276.2 L433.3,1276.1 L435.9,1276.0 L438.5,1275.9 L441.1,1275.8 L443.7,1275.6 L446.3,1275.5 L448.9,1275.4 L451.5,1275.3 L454.1,1275.2 L456.7,1275.1 L459.3,1275.0 L461.9,1274.9 L464.5,1274.7 L467.1,1274.6 L469.7,1274.5 L472.3,1274.4 L474.9,1274.3 L477.5,1274.1 L480.1,1274.0 L482.8,1273.9 L485.4,1273.8 L488.0,1273.6 L490.6,1273.5 L493.2,1273.4 L495.8,1273.2 L498.4,1273.1 L501.0,1272.9 L503.7,1272.8 L506.3,1272.7 L508.9,1272.5 L511.5,1272.4 L514.1,1272.2 L516.8,1272.1 L519.4,1271.9 L522.0,1271.8 L524.6,1271.6 L527.3,1271.5 L529.9,1271.3 L532.5,1271.2 L535.2,1271.0 L537.8,1270.9 L540.4,1270.7 L543.1,1270.5 L545.7,1270.4 L548.4,1270.2 L551.0,1270.0 L553.7,1269.9 L556.3,1269.7 L559.0,1269.5 L561.6,1269.4 L564.3,1269.2 L567.0,1269.0 L569.6,1268.8 L572.3,1268.6 L575.0,1268.5 L577.7,1268.3 L580.3,1268.1 L583.0,1267.9 L585.7,1267.7 L588.4,1267.5 L591.1,1267.3 L593.8,1267.1 L596.5,1266.9 L599.2,1266.7 L601.9,1266.5 L604.6,1266.3 L607.3,1266.1 L610.0,1265.9 L612.7,1265.7 L615.5,1265.5 L618.2,1265.3 L620.9,1265.1 L623.7,1264.9 L626.4,1264.6 L629.1,1264.4 L631.9,1264.2 L634.6,1264.0 L637.4,1263.8 L640.2,1263.5 L642.9,1263.3 L645.7,1263.1 L648.5,1262.8 L651.2,1262.6 L654.0,1262.4 L656.8,1262.1 L659.6,1261.9 L662.4,1261.6 L665.2,1261.4 L667.9,1261.1 L670.7,1260.8 L673.5,1260.5 L676.3,1260.2 L679.1,1259.9 L681.9,1259.6 L684.6,1259.3 L687.4,1259.0 L690.2,1258.6 L692.9,1258.2 L695.7,1257.9 L698.3,1257.5 L700.8,1257.0 L703.3,1256.6 L705.8,1256.2 L708.2,1255.7 L710.6,1255.2 L713.1,1254.7 L715.5,1254.2 L717.9,1253.6 L720.3,1253.1 L722.7,1252.5 L725.1,1251.8 L727.4,1251.2 L729.8,1250.5 L732.1,1249.8 L734.4,1249.1 L736.7,1248.3 L739.0,1247.6 L741.2,1246.7 L743.5,1245.9 L745.7,1245.0 L747.9,1244.1 L750.1,1243.2 L752.3,1242.2 L754.4,1241.2 L756.5,1240.2 L758.6,1239.1 L760.7,1238.0 L762.8,1236.8 L764.8,1235.6 L766.8,1234.4 L768.8,1233.1 L770.7,1231.8 L772.7,1230.5 L774.5,1229.1 L776.4,1227.6 L778.3,1226.1 L780.2,1224.6 L782.1,1223.0 L784.1,1221.4 L786.0,1219.8 L787.8,1218.0 L789.7,1216.3 L791.5,1214.5 L793.2,1212.6 L794.9,1210.7 L796.6,1208.8 L798.3,1206.8 L799.9,1204.7 L801.4,1202.6 L803.0,1200.5 L804.5,1198.4 L805.9,1196.2 L807.3,1193.9 L808.7,1191.7 L810.0,1189.4 L811.3,1187.0 L812.5,1184.7 L813.7,1182.3 L814.9,1179.8 L816.0,1177.4 L817.1,1174.9 L818.1,1172.4 L819.1,1169.9 L820.0,1167.3 L820.9,1164.7 L821.8,1162.2 L822.6,1159.5 L823.3,1156.9 L824.0,1154.3 L824.7,1151.6 L825.3,1149.0 L825.9,1146.3 L826.4,1143.6 L826.9,1140.9 L827.3,1138.2 L827.7,1135.5 L828.1,1132.7 L828.5,1130.0 L828.8,1127.3 L829.1,1124.5 L829.4,1121.8 L829.6,1119.0 L829.9,1116.2 L830.1,1113.5 L830.3,1110.7 L830.4,1107.9 L830.6,1105.2 L830.8,1102.4 L830.9,1099.7 L831.1,1096.9 L831.2,1094.1 L831.3,1091.4 L831.5,1088.6 L831.6,1085.9 L831.8,1083.2 L831.9,1080.4 L832.1,1077.7 L832.2,1075.0 L832.4,1072.3 L832.6,1069.6 L832.8,1066.9 L833.0,1064.2 L833.2,1061.5 L833.3,1058.9 L833.5,1056.2 L833.8,1053.5 L834.0,1050.9 L834.2,1048.2 L834.4,1045.5 L834.6,1042.9 L834.8,1040.2 L835.0,1037.6 L835.3,1035.0 L835.5,1032.3 L835.7,1029.7 L835.9,1027.0 L836.2,1024.4 L836.4,1021.8 L836.6,1019.1 L836.8,1016.5 L837.1,1013.9 L837.3,1011.2 L837.5,1008.6 L837.7,1006.0 L838.0,1003.3 L838.2,1000.7 L838.4,998.0 L838.6,995.4 L838.8,992.8 L839.1,990.1 L839.3,987.5 L839.5,984.8 L839.7,982.2 L839.9,979.5 L840.1,976.9 L840.3,974.2 L840.5,971.5 L840.6,968.9 L840.8,966.2 L841.0,963.5 L841.2,960.8 L841.3,958.1 L841.5,955.4 L841.6,952.7 L841.8,950.0 L841.9,947.3 L842.0,944.6 L842.2,941.8 L842.3,939.1 L842.4,936.4 L842.5,933.6 L842.6,930.9 L842.7,928.1 L842.8,925.4 L842.9,922.6 L843.1,919.8 L843.2,917.1 L843.3,914.3 L843.4,911.5 L843.5,908.8 L843.7,906.0 L843.8,903.2 L844.0,900.5 L844.2,897.7 L844.3,895.0 L844.5,892.2 L844.7,889.4 L844.9,886.7 L845.2,883.9 L845.4,881.2 L845.7,878.4 L846.0,875.7 L846.3,873.0 L846.6,870.3 L846.9,867.5 L847.3,864.8 L847.7,862.1 L848.1,859.4 L848.5,856.7 L849.0,854.1 L849.5,851.4 L850.0,848.8 L850.5,846.1 L851.1,843.5 L851.7,840.8 L852.3,838.2 L853.0,835.6 L853.7,833.1 L854.5,830.5 L855.2,827.9 L856.0,825.4 L856.9,822.8 L857.8,820.3 L858.7,817.8 L859.7,815.4 L860.7,812.9 L861.7,810.4 L862.8,808.0 L864.0,805.6 L865.1,803.2 L866.3,800.9 L867.6,798.5 L868.9,796.2 L870.2,793.9 L871.6,791.7 L873.0,789.5 L874.4,787.3 L875.9,785.1 L877.4,783.0 L879.0,780.8 L880.6,778.8 L882.2,776.7 L883.8,774.7 L885.6,772.8 L887.3,770.9 L889.1,769.0 L890.9,767.1 L892.7,765.3 L894.6,763.6 L896.6,761.8 L898.5,760.2 L900.7,758.5 L902.9,756.9 L905.2,755.4 L907.5,753.9 L909.8,752.5 L912.2,751.1 L914.6,749.8 L917.1,748.5 L919.6,747.2 L922.1,746.1 L924.7,744.9 L927.3,743.9 L929.9,742.9 L932.6,741.9 L935.3,741.0 L938.0,740.1 L940.8,739.2 L943.5,738.4 L946.4,737.7 L949.2,737.0 L952.1,736.3 L954.9,735.6 L957.8,735.0 L960.7,734.4 L963.7,733.9 L966.6,733.4 L969.6,732.9 L972.6,732.4 L975.5,732.0 L978.5,731.5 L981.6,731.1 L984.6,730.7 L987.6,730.4 L990.6,730.0 L993.6,729.7 L996.7,729.3 L999.5,729.0 L1002.3,728.7 L1005.0,728.4 L1007.8,728.1 L1010.5,727.8 L1013.3,727.5 L1016.0,727.2 L1018.8,726.9 L1021.5,726.6 L1024.2,726.3 L1026.9,726.0 L1029.6,725.7 L1032.3,725.4 L1035.0,725.1 L1037.7,724.8 L1040.3,724.5 L1043.0,724.2 L1045.7,723.9 L1048.3,723.6 L1051.0,723.3 L1053.6,723.0 L1056.3,722.7 L1058.9,722.4 L1061.6,722.1 L1064.2,721.9 L1066.8,721.6 L1069.5,721.3 L1072.1,721.0 L1074.7,720.7 L1077.3,720.4 L1080.0,720.1 L1082.6,719.9 L1085.2,719.6 L1087.9,719.3 L1090.5,719.0 L1093.1,718.8 L1095.7,718.5 L1098.4,718.3 L1101.0,718.0 L1103.6,717.8 L1106.3,717.5 L1108.9,717.3 L1111.5,717.0 L1114.2,716.8 L1116.8,716.6 L1119.5,716.3 L1122.1,716.1 L1124.7,715.9 L1127.4,715.6 L1130.0,715.4 L1132.7,715.2 L1135.3,715.0 L1137.9,714.8 L1140.6,714.6 L1143.2,714.4 L1145.9,714.2 L1148.5,714.0 L1151.2,713.8 L1153.8,713.6 L1156.5,713.4 L1159.1,713.2 L1161.8,713.0 L1164.4,712.9 L1167.1,712.7 L1169.7,712.5 L1172.4,712.3 L1175.0,712.2 L1177.7,712.0 L1180.3,711.8 L1183.0,711.7 L1185.6,711.5 L1188.3,711.3 L1190.9,711.2 L1193.6,711.0 L1196.3,710.9 L1198.9,710.7 L1201.6,710.6 L1204.2,710.5 L1206.9,710.3 L1209.6,710.2 L1212.2,710.1 L1214.9,709.9 L1217.5,709.8 L1220.2,709.7 L1222.9,709.5 L1225.5,709.4 L1228.2,709.3 L1230.9,709.2 L1233.5,709.1 L1236.2,709.0 L1238.9,708.9 L1241.5,708.7 L1244.2,708.6 L1246.9,708.5 L1249.5,708.4 L1252.2,708.3 L1254.9,708.2 L1257.5,708.1 L1260.2,708.1 L1262.9,708.0 L1265.5,707.9 L1268.2,707.8 L1270.9,707.7 L1273.6,707.6 L1276.2,707.5 L1278.9,707.5 L1281.6,707.4 L1284.2,707.3 L1286.9,707.2 L1289.6,707.2 L1292.3,707.1 L1294.9,707.0 L1297.6,706.9 L1300.3,706.9 L1302.9,706.8 L1305.6,706.7 L1308.3,706.7 L1311.0,706.6 L1313.6,706.6 L1316.3,706.5 L1319.0,706.5 L1321.7,706.4 L1324.3,706.3 L1327.0,706.3 L1329.7,706.2 L1332.4,706.2 L1335.0,706.1 L1337.7,706.1 L1340.4,706.0 L1343.0,706.0 L1345.7,706.0 L1348.4,705.9 L1351.1,705.9 L1353.7,705.8 L1356.4,705.8 L1359.1,705.8 L1361.7,705.7 L1364.4,705.7 L1367.1,705.6 L1369.8,705.6 L1372.4,705.6 L1375.1,705.5 L1377.8,705.5 L1380.4,705.5 L1383.1,705.4 L1385.8,705.4 L1388.4,705.4 L1391.1,705.4 L1393.8,705.3 L1396.5,705.3 L1399.1,705.3 L1401.8,705.2 L1404.5,705.2 L1407.1,705.2 L1409.8,705.2 L1412.4,705.1 L1415.1,705.1 L1417.8,705.1 L1420.4,705.1 L1423.1,705.0 L1425.8,705.0 L1428.4,705.0 L1431.1,705.0 L1433.7,704.9 L1436.4,704.9 L1439.1,704.9 L1441.7,704.9 L1444.4,704.9 L1447.0,704.8 L1449.7,704.8 L1452.3,704.8 L1455.0,704.8" fill="none" stroke="#000" stroke-width="1.5"/>
<path d="M263.0,1276.9h7.0v7.0h-7.0zM285.5,1276.5h7.0v7.0h-7.0zM307.9,1276.1h7.0v7.0h-7.0zM330.4,1275.6h7.0v7.0h-7.0zM352.9,1275.1h7.0v7.0h-7.0zM375.4,1274.4h7.0v7.0h-7.0zM397.9,1273.7h7.0v7.0h-7.0zM420.4,1272.9h7.0v7.0h-7.0zM442.8,1272.0h7.0v7.0h-7.0zM464.3,1271.1h7.0v7.0h-7.0zM484.6,1270.1h7.0v7.0h-7.0zM503.8,1269.1h7.0v7.0h-7.0zM521.9,1268.1h7.0v7.0h-7.0zM539.1,1267.1h7.0v7.0h-7.0zM555.4,1266.0h7.0v7.0h-7.0zM570.8,1265.0h7.0v7.0h-7.0zM585.4,1264.0h7.0v7.0h-7.0zM599.2,1263.0h7.0v7.0h-7.0zM612.3,1262.0h7.0v7.0h-7.0zM624.6,1261.0h7.0v7.0h-7.0zM636.4,1260.0h7.0v7.0h-7.0zM647.5,1259.1h7.0v7.0h-7.0zM658.4,1258.2h7.0v7.0h-7.0zM669.4,1257.1h7.0v7.0h-7.0zM680.3,1255.9h7.0v7.0h-7.0zM691.2,1254.5h7.0v7.0h-7.0zM702.1,1252.7h7.0v7.0h-7.0zM712.8,1250.5h7.0v7.0h-7.0zM723.5,1247.8h7.0v7.0h-7.0zM734.0,1244.6h7.0v7.0h-7.0zM744.3,1240.7h7.0v7.0h-7.0zM754.3,1236.0h7.0v7.0h-7.0zM763.8,1230.6h7.0v7.0h-7.0zM772.8,1224.2h7.0v7.0h-7.0zM781.3,1217.3h7.0v7.0h-7.0zM789.2,1209.6h7.0v7.0h-7.0zM796.3,1201.3h7.0v7.0h-7.0zM802.7,1192.3h7.0v7.0h-7.0zM808.2,1182.8h7.0v7.0h-7.0zM812.9,1172.8h7.0v7.0h-7.0zM816.9,1162.6h7.0v7.0h-7.0zM820.2,1152.1h7.0v7.0h-7.0zM822.6,1141.4h7.0v7.0h-7.0zM824.4,1130.5h7.0v7.0h-7.0zM825.7,1119.6h7.0v7.0h-7.0zM826.7,1108.6h7.0v7.0h-7.0zM827.3,1097.7h7.0v7.0h-7.0zM827.9,1086.7h7.0v7.0h-7.0zM828.5,1075.7h7.0v7.0h-7.0zM829.2,1064.7h7.0v7.0h-7.0zM830.0,1053.7h7.0v7.0h-7.0zM830.8,1042.8h7.0v7.0h-7.0zM831.7,1031.8h7.0v7.0h-7.0zM832.7,1020.8h7.0v7.0h-7.0zM833.6,1009.9h7.0v7.0h-7.0zM834.5,998.9h7.0v7.0h-7.0zM835.5,988.0h7.0v7.0h-7.0zM836.3,977.0h7.0v7.0h-7.0zM837.1,966.0h7.0v7.0h-7.0zM837.8,955.0h7.0v7.0h-7.0zM838.4,944.1h7.0v7.0h-7.0zM838.9,933.1h7.0v7.0h-7.0zM839.3,922.1h7.0v7.0h-7.0zM839.8,911.1h7.0v7.0h-7.0zM840.3,900.1h7.0v7.0h-7.0zM841.0,889.1h7.0v7.0h-7.0zM841.9,878.2h7.0v7.0h-7.0zM843.0,867.2h7.0v7.0h-7.0zM844.5,856.3h7.0v7.0h-7.0zM846.4,845.5h7.0v7.0h-7.0zM848.8,834.8h7.0v7.0h-7.0zM851.8,824.2h7.0v7.0h-7.0zM855.4,813.8h7.0v7.0h-7.0zM859.7,803.7h7.0v7.0h-7.0zM864.7,793.9h7.0v7.0h-7.0zM870.4,784.5h7.0v7.0h-7.0zM876.9,775.5h7.0v7.0h-7.0zM884.0,767.2h7.0v7.0h-7.0zM891.8,759.4h7.0v7.0h-7.0zM900.5,752.7h7.0v7.0h-7.0zM909.9,746.9h7.0v7.0h-7.0zM919.7,742.1h7.0v7.0h-7.0zM930.0,738.1h7.0v7.0h-7.0zM940.5,734.8h7.0v7.0h-7.0zM951.1,732.2h7.0v7.0h-7.0zM961.9,730.1h7.0v7.0h-7.0zM972.8,728.3h7.0v7.0h-7.0zM983.7,726.9h7.0v7.0h-7.0zM994.6,725.7h7.0v7.0h-7.0zM1005.6,724.5h7.0v7.0h-7.0zM1016.5,723.3h7.0v7.0h-7.0zM1027.4,722.1h7.0v7.0h-7.0zM1038.4,720.9h7.0v7.0h-7.0zM1049.4,719.6h7.0v7.0h-7.0zM1060.9,718.3h7.0v7.0h-7.0zM1073.1,717.0h7.0v7.0h-7.0zM1086.0,715.6h7.0v7.0h-7.0zM1099.6,714.3h7.0v7.0h-7.0zM1114.0,713.0h7.0v7.0h-7.0zM1129.2,711.7h7.0v7.0h-7.0zM1145.3,710.5h7.0v7.0h-7.0zM1162.3,709.3h7.0v7.0h-7.0zM1180.2,708.1h7.0v7.0h-7.0zM1199.2,707.0h7.0v7.0h-7.0zM1219.3,706.1h7.0v7.0h-7.0zM1240.5,705.2h7.0v7.0h-7.0zM1262.7,704.3h7.0v7.0h-7.0zM1285.2,703.7h7.0v7.0h-7.0zM1307.7,703.1h7.0v7.0h-7.0zM1330.2,702.7h7.0v7.0h-7.0zM1352.7,702.3h7.0v7.0h-7.0zM1375.2,702.0h7.0v7.0h-7.0zM1397.7,701.8h7.0v7.0h-7.0zM1420.2,701.5h7.0v7.0h-7.0zM1442.7,701.3h7.0v7.0h-7.0z" fill="#000"/>
<path d="M244.0,1280.7 L246.7,1280.7 L249.5,1280.6 L252.3,1280.6 L255.0,1280.5 L257.8,1280.5 L260.6,1280.5 L263.3,1280.4 L266.1,1280.4 L268.8,1280.3 L271.5,1280.3 L274.3,1280.3 L277.0,1280.2 L279.7,1280.2 L282.4,1280.1 L285.2,1280.1 L287.9,1280.0 L290.6,1280.0 L293.3,1279.9 L296.0,1279.9 L298.7,1279.8 L301.4,1279.8 L304.1,1279.7 L306.8,1279.7 L309.5,1279.6 L312.2,1279.6 L314.8,1279.5 L317.5,1279.5 L320.2,1279.4 L322.9,1279.4 L325.5,1279.3 L328.2,1279.3 L330.9,1279.2 L333.5,1279.1 L336.2,1279.1 L338.8,1279.0 L341.5,1278.9 L344.2,1278.9 L346.8,1278.8 L349.4,1278.7 L352.1,1278.7 L354.7,1278.6 L357.4,1278.5 L360.0,1278.5 L362.6,1278.4 L365.3,1278.3 L367.9,1278.3 L370.5,1278.2 L373.2,1278.1 L375.8,1278.0 L378.4,1278.0 L381.0,1277.9 L383.7,1277.8 L386.3,1277.7 L388.9,1277.6 L391.5,1277.6 L394.1,1277.5 L396.8,1277.4 L399.4,1277.3 L402.0,1277.2 L404.6,1277.1 L407.2,1277.0 L409.8,1276.9 L412.4,1276.8 L415.0,1276.8 L417.6,1276.7 L420.2,1276.6 L422.9,1276.5 L425.5,1276.4 L428.1,1276.3 L430.7,1276.2 L433.3,1276.1 L435.9,1276.0 L438.5,1275.9 L441.1,1275.8 L443.7,1275.6 L446.3,1275.5 L448.9,1275.4 L451.5,1275.3 L454.1,1275.2 L456.7,1275.1 L459.3,1275.0 L461.9,1274.9 L464.5,1274.7 L467.1,1274.6 L469.7,1274.5 L472.3,1274.4 L474.9,1274.3 L477.5,1274.1 L480.1,1274.0 L482.8,1273.9 L485.4,1273.8 L488.0,1273.6 L490.6,1273.5 L493.2,1273.4 L495.8,1273.2 L498.4,1273.1 L501.0,1272.9 L503.7,1272.8 L506.3,1272.7 L508.9,1272.5 L511.5,1272.4 L514.1,1272.2 L516.8,1272.1 L519.4,1271.9 L522.0,1271.8 L524.6,1271.6 L527.3,1271.5 L529.9,1271.3 L532.5,1271.2 L535.2,1271.0 L537.8,1270.9 L540.4,1270.7 L543.1,1270.5 L545.7,1270.4 L548.4,1270.2 L551.0,1270.0 L553.7,1269.9 L556.3,1269.7 L559.0,1269.5 L561.6,1269.4 L564.3,1269.2 L567.0,1269.0 L569.6,1268.8 L572.3,1268.6 L575.0,1268.5 L577.7,1268.3 L580.3,1268.1 L583.0,1267.9 L585.7,1267.7 L588.4,1267.5 L591.1,1267.3 L593.8,1267.1 L596.5,1266.9 L599.2,1266.7 L601.9,1266.5 L604.6,1266.3 L607.3,1266.1 L610.0,1265.9 L612.7,1265.7 L615.5,1265.5 L618.2,1265.3 L620.9,1265.1 L623.7,1264.9 L626.4,1264.6 L629.1,1264.4 L631.9,1264.2 L634.6,1264.0 L637.4,1263.8 L640.2,1263.5 L642.9,1263.3 L645.7,1263.1 L648.5,1262.8 L651.2,1262.6 L654.0,1262.4 L656.8,1262.1 L659.6,1261.9 L662.4,1261.6 L665.2,1261.4 L667.9,1261.1 L670.7,1260.8 L673.5,1260.5 L676.3,1260.2 L679.1,1259.9 L681.9,1259.6 L684.6,1259.3 L687.4,1259.0 L690.2,1258.6 L692.9,1258.2 L695.7,1257.9 L698.5,1257.5 L701.5,1257.0 L704.5,1256.6 L707.5,1256.2 L710.4,1255.7 L713.4,1255.2 L716.3,1254.7 L719.3,1254.2 L722.2,1253.6 L725.1,1253.1 L728.0,1252.5 L730.8,1251.8 L733.7,1251.2 L736.5,1250.5 L739.3,1249.8 L742.1,1249.1 L744.9,1248.3 L747.6,1247.6 L750.4,1246.7 L753.1,1245.9 L755.8,1245.0 L758.4,1244.1 L761.1,1243.2 L763.7,1242.2 L766.3,1241.2 L768.9,1240.2 L771.4,1239.1 L773.9,1238.0 L776.4,1236.8 L778.8,1235.6 L781.3,1234.4 L783.6,1233.1 L786.0,1231.8 L788.3,1230.5 L790.6,1229.1 L792.9,1227.6 L795.1,1226.1 L797.2,1224.6 L799.1,1223.0 L801.1,1221.4 L803.0,1219.8 L804.8,1218.0 L806.7,1216.3 L808.5,1214.5 L810.2,1212.6 L811.9,1210.7 L813.6,1208.8 L815.3,1206.8 L816.9,1204.7 L818.4,1202.6 L820.0,1200.5 L821.5,1198.4 L822.9,1196.2 L824.3,1193.9 L825.7,1191.7 L827.0,1189.4 L828.3,1187.0 L829.5,1184.7 L830.7,1182.3 L831.9,1179.8 L833.0,1177.4 L834.1,1174.9 L835.1,1172.4 L836.1,1169.9 L837.0,1167.3 L837.9,1164.7 L838.8,1162.2 L839.6,1159.5 L840.3,1156.9 L841.0,1154.3 L841.7,1151.6 L842.3,1149.0 L842.9,1146.3 L843.4,1143.6 L843.9,1140.9 L844.3,1138.2 L844.7,1135.5 L845.1,1132.7 L845.5,1130.0 L845.8,1127.3 L846.1,1124.5 L846.4,1121.8 L846.6,1119.0 L846.9,1116.2 L847.1,1113.5 L847.3,1110.7 L847.4,1107.9 L847.6,1105.2 L847.8,1102.4 L847.9,1099.7 L848.1,1096.9 L848.2,1094.1 L848.3,1091.4 L848.5,1088.6 L848.6,1085.9 L848.8,1083.2 L848.9,1080.4 L849.1,1077.7 L849.2,1075.0 L849.4,1072.3 L849.6,1069.6 L849.8,1066.9 L850.0,1064.2 L850.2,1061.5 L850.3,1058.9 L850.5,1056.2 L850.8,1053.5 L851.0,1050.9 L851.2,1048.2 L851.4,1045.5 L851.6,1042.9 L851.8,1040.2 L852.0,1037.6 L852.3,1035.0 L852.5,1032.3 L852.7,1029.7 L852.9,1027.0 L853.2,1024.4 L853.4,1021.8 L853.6,1019.1 L853.8,1016.5 L854.1,1013.9 L854.3,1011.2 L854.5,1008.6 L854.7,1006.0 L855.0,1003.3 L855.2,1000.7 L855.4,998.0 L855.6,995.4 L855.8,992.8 L856.1,990.1 L856.3,987.5 L856.5,984.8 L856.7,982.2 L856.9,979.5 L857.1,976.9 L857.3,974.2 L857.5,971.5 L857.6,968.9 L857.8,966.2 L858.0,963.5 L858.2,960.8 L858.3,958.1 L858.5,955.4 L858.6,952.7 L858.8,950.0 L858.9,947.3 L859.0,944.6 L859.2,941.8 L859.3,939.1 L859.4,936.4 L859.5,933.6 L859.6,930.9 L859.7,928.1 L859.8,925.4 L859.9,922.6 L860.1,919.8 L860.2,917.1 L860.3,914.3 L860.4,911.5 L860.5,908.8 L860.7,906.0 L860.8,903.2 L861.0,900.5 L861.2,897.7 L861.3,895.0 L861.5,892.2 L861.7,889.4 L861.9,886.7 L862.2,883.9 L862.4,881.2 L862.7,878.4 L863.0,875.7 L863.3,873.0 L863.6,870.3 L863.9,867.5 L864.3,864.8 L864.7,862.1 L865.1,859.4 L865.5,856.7 L866.0,854.1 L866.5,851.4 L867.0,848.8 L867.5,846.1 L868.1,843.5 L868.7,840.8 L869.3,838.2 L870.0,835.6 L870.7,833.1 L871.5,830.5 L872.2,827.9 L873.0,825.4 L873.9,822.8 L874.8,820.3 L875.7,817.8 L876.7,815.4 L877.7,812.9 L878.7,810.4 L879.8,808.0 L881.0,805.6 L882.1,803.2 L883.3,800.9 L884.6,798.5 L885.9,796.2 L887.2,793.9 L888.6,791.7 L890.0,789.5 L891.4,787.3 L892.9,785.1 L894.4,783.0 L896.0,780.8 L897.6,778.8 L899.2,776.7 L900.8,774.7 L902.6,772.8 L904.3,770.9 L906.1,769.0 L907.9,767.1 L909.7,765.3 L911.6,763.6 L913.6,761.8 L915.5,760.2 L917.4,758.5 L919.2,756.9 L921.1,755.4 L923.0,753.9 L924.9,752.5 L926.9,751.1 L928.9,749.8 L930.9,748.5 L933.0,747.2 L935.1,746.1 L937.2,744.9 L939.4,743.9 L941.6,742.9 L943.8,741.9 L946.0,741.0 L948.3,740.1 L950.6,739.2 L952.9,738.4 L955.2,737.7 L957.5,737.0 L959.9,736.3 L962.3,735.6 L964.7,735.0 L967.1,734.4 L969.5,733.9 L972.0,733.4 L974.4,732.9 L976.9,732.4 L979.3,732.0 L981.8,731.5 L984.3,731.1 L986.8,730.7 L989.3,730.4 L991.8,730.0 L994.3,729.7 L996.8,729.3 L999.5,729.0 L1002.3,728.7 L1005.0,728.4 L1007.8,728.1 L1010.5,727.8 L1013.3,727.5 L1016.0,727.2 L1018.8,726.9 L1021.5,726.6 L1024.2,726.3 L1026.9,726.0 L1029.6,725.7 L1032.3,725.4 L1035.0,725.1 L1037.7,724.8 L1040.3,724.5 L1043.0,724.2 L1045.7,723.9 L1048.3,723.6 L1051.0,723.3 L1053.6,723.0 L1056.3,722.7 L1058.9,722.4 L1061.6,722.1 L1064.2,721.9 L1066.8,721.6 L1069.5,721.3 L1072.1,721.0 L1074.7,720.7 L1077.3,720.4 L1080.0,720.1 L1082.6,719.9 L1085.2,719.6 L1087.9,719.3 L1090.5,719.0 L1093.1,718.8 L1095.7,718.5 L1098.4,718.3 L1101.0,718.0 L1103.6,717.8 L1106.3,717.5 L1108.9,717.3 L1111.5,717.0 L1114.2,716.8 L1116.8,716.6 L1119.5,716.3 L1122.1,716.1 L1124.7,715.9 L1127.4,715.6 L1130.0,715.4 L1132.7,715.2 L1135.3,715.0 L1137.9,714.8 L1140.6,714.6 L1143.2,714.4 L1145.9,714.2 L1148.5,714.0 L1151.2,713.8 L1153.8,713.6 L1156.5,713.4 L1159.1,713.2 L1161.8,713.0 L1164.4,712.9 L1167.1,712.7 L1169.7,712.5 L1172.4,712.3 L1175.0,712.2 L1177.7,712.0 L1180.3,711.8 L1183.0,711.7 L1185.6,711.5 L1188.3,711.3 L1190.9,711.2 L1193.6,711.0 L1196.3,710.9 L1198.9,710.7 L1201.6,710.6 L1204.2,710.5 L1206.9,710.3 L1209.6,710.2 L1212.2,710.1 L1214.9,709.9 L1217.5,709.8 L1220.2,709.7 L1222.9,709.5 L1225.5,709.4 L1228.2,709.3 L1230.9,709.2 L1233.5,709.1 L1236.2,709.0 L1238.9,708.9 L1241.5,708.7 L1244.2,708.6 L1246.9,708.5 L1249.5,708.4 L1252.2,708.3 L1254.9,708.2 L1257.5,708.1 L1260.2,708.1 L1262.9,708.0 L1265.5,707.9 L1268.2,707.8 L1270.9,707.7 L1273.6,707.6 L1276.2,707.5 L1278.9,707.5 L1281.6,707.4 L1284.2,707.3 L1286.9,707.2 L1289.6,707.2 L1292.3,707.1 L1294.9,707.0 L1297.6,706.9 L1300.3,706.9 L1302.9,706.8 L1305.6,706.7 L1308.3,706.7 L1311.0,706.6 L1313.6,706.6 L1316.3,706.5 L1319.0,706.5 L1321.7,706.4 L1324.3,706.3 L1327.0,706.3 L1329.7,706.2 L1332.4,706.2 L1335.0,706.1 L1337.7,706.1 L1340.4,706.0 L1343.0,706.0 L1345.7,706.0 L1348.4,705.9 L1351.1,705.9 L1353.7,705.8 L1356.4,705.8 L1359.1,705.8 L1361.7,705.7 L1364.4,705.7 L1367.1,705.6 L1369.8,705.6 L1372.4,705.6 L1375.1,705.5 L1377.8,705.5 L1380.4,705.5 L1383.1,705.4 L1385.8,705.4 L1388.4,705.4 L1391.1,705.4 L1393.8,705.3 L1396.5,705.3 L1399.1,705.3 L1401.8,705.2 L1404.5,705.2 L1407.1,705.2 L1409.8,705.2 L1412.4,705.1 L1415.1,705.1 L1417.8,705.1 L1420.4,705.1 L1423.1,705.0 L1425.8,705.0 L1428.4,705.0 L1431.1,705.0 L1433.7,704.9 L1436.4,704.9 L1439.1,704.9 L1441.7,704.9 L1444.4,704.9 L1447.0,704.8 L1449.7,704.8 L1452.3,704.8 L1455.0,704.8" fill="none" stroke="#000" stroke-width="1.5"/>
<path d="M263.0,1276.9h7.0v7.0h-7.0zM285.5,1276.5h7.0v7.0h-7.0zM307.9,1276.1h7.0v7.0h-7.0zM330.4,1275.6h7.0v7.0h-7.0zM352.9,1275.1h7.0v7.0h-7.0zM375.4,1274.4h7.0v7.0h-7.0zM397.9,1273.7h7.0v7.0h-7.0zM420.4,1272.9h7.0v7.0h-7.0zM442.8,1272.0h7.0v7.0h-7.0zM464.3,1271.1h7.0v7.0h-7.0zM484.6,1270.1h7.0v7.0h-7.0zM503.8,1269.1h7.0v7.0h-7.0zM521.9,1268.1h7.0v7.0h-7.0zM539.1,1267.1h7.0v7.0h-7.0zM555.4,1266.0h7.0v7.0h-7.0zM570.8,1265.0h7.0v7.0h-7.0zM585.4,1264.0h7.0v7.0h-7.0zM599.2,1263.0h7.0v7.0h-7.0zM612.3,1262.0h7.0v7.0h-7.0zM624.6,1261.0h7.0v7.0h-7.0zM636.4,1260.0h7.0v7.0h-7.0zM647.5,1259.1h7.0v7.0h-7.0zM658.4,1258.2h7.0v7.0h-7.0zM669.4,1257.1h7.0v7.0h-7.0zM680.3,1255.9h7.0v7.0h-7.0zM691.2,1254.5h7.0v7.0h-7.0zM702.1,1253.0h7.0v7.0h-7.0zM713.0,1251.2h7.0v7.0h-7.0zM723.8,1249.1h7.0v7.0h-7.0zM734.5,1246.7h7.0v7.0h-7.0zM745.1,1243.8h7.0v7.0h-7.0zM755.6,1240.4h7.0v7.0h-7.0zM765.8,1236.5h7.0v7.0h-7.0zM775.8,1231.9h7.0v7.0h-7.0zM785.5,1226.6h7.0v7.0h-7.0zM794.6,1220.4h7.0v7.0h-7.0zM802.8,1213.1h7.0v7.0h-7.0zM810.3,1205.1h7.0v7.0h-7.0zM816.9,1196.3h7.0v7.0h-7.0zM822.8,1187.0h7.0v7.0h-7.0zM827.9,1177.3h7.0v7.0h-7.0zM832.3,1167.2h7.0v7.0h-7.0zM835.8,1156.8h7.0v7.0h-7.0zM838.6,1146.1h7.0v7.0h-7.0zM840.7,1135.4h7.0v7.0h-7.0zM842.2,1124.5h7.0v7.0h-7.0zM843.3,1113.5h7.0v7.0h-7.0zM844.1,1102.5h7.0v7.0h-7.0zM844.7,1091.6h7.0v7.0h-7.0zM845.2,1080.6h7.0v7.0h-7.0zM845.9,1069.6h7.0v7.0h-7.0zM846.6,1058.6h7.0v7.0h-7.0zM847.4,1047.6h7.0v7.0h-7.0zM848.3,1036.7h7.0v7.0h-7.0zM849.2,1025.7h7.0v7.0h-7.0zM850.2,1014.8h7.0v7.0h-7.0zM851.1,1003.8h7.0v7.0h-7.0zM852.1,992.8h7.0v7.0h-7.0zM852.9,981.9h7.0v7.0h-7.0zM853.8,970.9h7.0v7.0h-7.0zM854.5,959.9h7.0v7.0h-7.0zM855.1,948.9h7.0v7.0h-7.0zM855.7,938.0h7.0v7.0h-7.0zM856.1,927.0h7.0v7.0h-7.0zM856.6,916.0h7.0v7.0h-7.0zM857.1,905.0h7.0v7.0h-7.0zM857.7,894.0h7.0v7.0h-7.0zM858.4,883.0h7.0v7.0h-7.0zM859.5,872.1h7.0v7.0h-7.0zM860.8,861.2h7.0v7.0h-7.0zM862.5,850.3h7.0v7.0h-7.0zM864.7,839.5h7.0v7.0h-7.0zM867.4,828.9h7.0v7.0h-7.0zM870.7,818.4h7.0v7.0h-7.0zM874.7,808.1h7.0v7.0h-7.0zM879.4,798.2h7.0v7.0h-7.0zM884.8,788.6h7.0v7.0h-7.0zM890.9,779.4h7.0v7.0h-7.0zM897.7,770.8h7.0v7.0h-7.0zM905.2,762.8h7.0v7.0h-7.0zM913.4,755.4h7.0v7.0h-7.0zM922.0,748.6h7.0v7.0h-7.0zM931.3,742.7h7.0v7.0h-7.0zM941.2,738.0h7.0v7.0h-7.0zM951.6,734.2h7.0v7.0h-7.0zM962.2,731.3h7.0v7.0h-7.0zM972.9,729.0h7.0v7.0h-7.0zM983.8,727.2h7.0v7.0h-7.0zM994.7,725.7h7.0v7.0h-7.0zM1005.6,724.5h7.0v7.0h-7.0zM1016.5,723.3h7.0v7.0h-7.0zM1027.5,722.1h7.0v7.0h-7.0zM1038.4,720.9h7.0v7.0h-7.0zM1049.4,719.6h7.0v7.0h-7.0zM1061.0,718.3h7.0v7.0h-7.0zM1073.1,717.0h7.0v7.0h-7.0zM1086.0,715.6h7.0v7.0h-7.0zM1099.6,714.3h7.0v7.0h-7.0zM1114.0,713.0h7.0v7.0h-7.0zM1129.3,711.7h7.0v7.0h-7.0zM1145.3,710.5h7.0v7.0h-7.0zM1162.3,709.3h7.0v7.0h-7.0zM1180.3,708.1h7.0v7.0h-7.0zM1199.3,707.0h7.0v7.0h-7.0zM1219.3,706.1h7.0v7.0h-7.0zM1240.5,705.1h7.0v7.0h-7.0zM1262.8,704.3h7.0v7.0h-7.0zM1285.3,703.7h7.0v7.0h-7.0zM1307.8,703.1h7.0v7.0h-7.0zM1330.3,702.7h7.0v7.0h-7.0zM1352.8,702.3h7.0v7.0h-7.0zM1375.3,702.0h7.0v7.0h-7.0zM1397.8,701.7h7.0v7.0h-7.0zM1420.3,701.5h7.0v7.0h-7.0zM1442.8,701.3h7.0v7.0h-7.0z" fill="#000"/>
<path d="M244.0,1279.6 L246.7,1279.5 L249.5,1279.5 L252.3,1279.5 L255.0,1279.4 L257.8,1279.4 L260.6,1279.3 L263.3,1279.3 L266.1,1279.3 L268.8,1279.2 L271.5,1279.2 L274.3,1279.1 L277.0,1279.1 L279.7,1279.0 L282.4,1279.0 L285.2,1279.0 L287.9,1278.9 L290.6,1278.9 L293.3,1278.8 L296.0,1278.8 L298.7,1278.7 L301.4,1278.7 L304.1,1278.6 L306.8,1278.6 L309.5,1278.5 L312.2,1278.5 L314.8,1278.4 L317.5,1278.4 L320.2,1278.3 L322.9,1278.2 L325.5,1278.2 L328.2,1278.1 L330.9,1278.1 L333.5,1278.0 L336.2,1277.9 L338.8,1277.9 L341.5,1277.8 L344.2,1277.8 L346.8,1277.7 L349.4,1277.6 L352.1,1277.6 L354.7,1277.5 L357.4,1277.4 L360.0,1277.4 L362.6,1277.3 L365.3,1277.2 L367.9,1277.1 L370.5,1277.1 L373.2,1277.0 L375.8,1276.9 L378.4,1276.8 L381.0,1276.8 L383.7,1276.7 L386.3,1276.6 L388.9,1276.5 L391.5,1276.4 L394.1,1276.3 L396.8,1276.3 L399.4,1276.2 L402.0,1276.1 L404.6,1276.0 L407.2,1275.9 L409.8,1275.8 L412.4,1275.7 L415.0,1275.6 L417.6,1275.5 L420.2,1275.4 L422.9,1275.4 L425.5,1275.3 L428.1,1275.2 L430.7,1275.1 L433.3,1275.0 L435.9,1274.8 L438.5,1274.7 L441.1,1274.6 L443.7,1274.5 L446.3,1274.4 L448.9,1274.3 L451.5,1274.2 L454.1,1274.1 L456.7,1274.0 L459.3,1273.9 L461.9,1273.8 L464.5,1273.6 L467.1,1273.5 L469.7,1273.4 L472.3,1273.3 L474.9,1273.2 L477.5,1273.0 L480.1,1272.9 L482.8,1272.8 L485.4,1272.6 L488.0,1272.5 L490.6,1272.4 L493.2,1272.3 L495.8,1272.1 L498.4,1272.0 L501.0,1271.8 L503.7,1271.7 L506.3,1271.6 L508.9,1271.4 L511.5,1271.3 L514.1,1271.1 L516.8,1271.0 L519.4,1270.8 L522.0,1270.7 L524.6,1270.5 L527.3,1270.4 L529.9,1270.2 L532.5,1270.1 L535.2,1269.9 L537.8,1269.8 L540.4,1269.6 L543.1,1269.4 L545.7,1269.3 L548.4,1269.1 L551.0,1268.9 L553.7,1268.8 L556.3,1268.6 L559.0,1268.4 L561.6,1268.3 L564.3,1268.1 L567.0,1267.9 L569.6,1267.7 L572.3,1267.6 L575.0,1267.4 L577.7,1267.2 L580.3,1267.0 L583.0,1266.8 L585.7,1266.6 L588.4,1266.4 L591.1,1266.2 L593.8,1266.0 L596.5,1265.9 L599.2,1265.7 L601.9,1265.5 L604.6,1265.3 L607.3,1265.0 L610.0,1264.8 L612.7,1264.6 L615.5,1264.4 L618.2,1264.2 L620.9,1264.0 L623.7,1263.8 L626.4,1263.6 L629.1,1263.4 L631.9,1263.1 L634.6,1262.9 L637.4,1262.7 L640.2,1262.5 L642.9,1262.2 L645.7,1262.0 L648.5,1261.8 L651.2,1261.5 L654.0,1261.3 L656.8,1261.1 L659.6,1260.8 L662.4,1260.6 L665.2,1260.3 L667.9,1260.0 L670.7,1259.8 L673.5,1259.5 L676.3,1259.2 L679.1,1258.9 L681.9,1258.6 L684.6,1258.2 L687.4,1257.9 L690.2,1257.6 L692.9,1257.2 L695.7,1256.8 L698.4,1256.4 L700.9,1256.0 L703.4,1255.6 L706.0,1255.1 L708.5,1254.7 L711.0,1254.2 L713.5,1253.7 L715.9,1253.2 L718.4,1252.6 L720.9,1252.0 L723.3,1251.4 L725.7,1250.8 L728.2,1250.2 L730.6,1249.5 L732.9,1248.8 L735.3,1248.1 L737.7,1247.3 L740.0,1246.6 L742.3,1245.8 L744.6,1244.9 L746.9,1244.0 L749.2,1243.1 L751.4,1242.2 L753.6,1241.2 L755.8,1240.2 L758.0,1239.2 L760.1,1238.1 L762.3,1237.0 L764.4,1235.9 L766.4,1234.7 L768.5,1233.4 L770.5,1232.2 L772.5,1230.9 L774.5,1229.5 L776.4,1228.1 L778.4,1226.7 L780.2,1225.2 L782.2,1223.7 L784.1,1222.1 L786.1,1220.5 L788.0,1218.9 L789.8,1217.2 L791.7,1215.4 L793.5,1213.6 L795.2,1211.8 L796.9,1209.9 L798.6,1207.9 L800.3,1205.9 L801.9,1203.9 L803.4,1201.8 L805.0,1199.7 L806.5,1197.6 L807.9,1195.4 L809.3,1193.1 L810.7,1190.9 L812.0,1188.6 L813.3,1186.3 L814.5,1183.9 L815.7,1181.5 L816.9,1179.1 L818.0,1176.7 L819.1,1174.2 L820.1,1171.7 L821.1,1169.2 L822.0,1166.6 L822.9,1164.1 L823.8,1161.5 L824.6,1158.9 L825.3,1156.3 L826.0,1153.6 L826.7,1151.0 L827.3,1148.3 L827.9,1145.7 L828.4,1143.0 L828.9,1140.3 L829.3,1137.6 L829.7,1134.9 L830.1,1132.2 L830.5,1129.5 L830.8,1126.7 L831.1,1124.0 L831.4,1121.3 L831.6,1118.5 L831.9,1115.8 L832.1,1113.0 L832.3,1110.3 L832.4,1107.5 L832.6,1104.7 L832.8,1102.0 L832.9,1099.2 L833.1,1096.5 L833.2,1093.8 L833.3,1091.0 L833.5,1088.3 L833.6,1085.5 L833.8,1082.8 L833.9,1080.1 L834.1,1077.4 L834.2,1074.7 L834.4,1072.0 L834.6,1069.3 L834.8,1066.6 L835.0,1064.0 L835.2,1061.3 L835.3,1058.6 L835.5,1056.0 L835.8,1053.3 L836.0,1050.6 L836.2,1048.0 L836.4,1045.3 L836.6,1042.7 L836.8,1040.1 L837.0,1037.4 L837.3,1034.8 L837.5,1032.2 L837.7,1029.5 L837.9,1026.9 L838.2,1024.3 L838.4,1021.7 L838.6,1019.0 L838.8,1016.4 L839.1,1013.8 L839.3,1011.2 L839.5,1008.5 L839.7,1005.9 L840.0,1003.3 L840.2,1000.7 L840.4,998.0 L840.6,995.4 L840.8,992.8 L841.1,990.1 L841.3,987.5 L841.5,984.9 L841.7,982.2 L841.9,979.6 L842.1,976.9 L842.3,974.3 L842.5,971.6 L842.6,969.0 L842.8,966.3 L843.0,963.6 L843.2,961.0 L843.3,958.3 L843.5,955.6 L843.6,952.9 L843.8,950.2 L843.9,947.5 L844.0,944.8 L844.2,942.1 L844.3,939.3 L844.4,936.6 L844.5,933.9 L844.6,931.1 L844.7,928.4 L844.8,925.6 L844.9,922.9 L845.1,920.1 L845.2,917.4 L845.3,914.6 L845.4,911.9 L845.5,909.1 L845.7,906.4 L845.8,903.6 L846.0,900.9 L846.2,898.1 L846.3,895.3 L846.5,892.6 L846.7,889.9 L846.9,887.1 L847.2,884.4 L847.4,881.6 L847.7,878.9 L848.0,876.2 L848.3,873.5 L848.6,870.7 L848.9,868.0 L849.3,865.3 L849.7,862.7 L850.1,860.0 L850.5,857.3 L851.0,854.6 L851.5,852.0 L852.0,849.3 L852.5,846.7 L853.1,844.1 L853.7,841.5 L854.3,838.9 L855.0,836.3 L855.7,833.7 L856.5,831.1 L857.2,828.6 L858.0,826.0 L858.9,823.5 L859.8,821.0 L860.7,818.5 L861.7,816.1 L862.7,813.6 L863.7,811.2 L864.8,808.8 L866.0,806.4 L867.1,804.0 L868.3,801.6 L869.6,799.3 L870.9,797.0 L872.2,794.7 L873.6,792.5 L875.0,790.3 L876.4,788.1 L877.9,785.9 L879.4,783.8 L881.0,781.7 L882.6,779.6 L884.2,777.6 L885.8,775.6 L887.6,773.7 L889.3,771.7 L891.1,769.9 L892.9,768.0 L894.7,766.2 L896.6,764.5 L898.6,762.7 L900.5,761.1 L902.6,759.5 L904.8,757.9 L907.0,756.3 L909.3,754.9 L911.6,753.4 L913.9,752.1 L916.3,750.7 L918.7,749.4 L921.1,748.2 L923.6,747.1 L926.1,745.9 L928.7,744.9 L931.3,743.9 L933.9,742.9 L936.5,742.0 L939.2,741.1 L941.9,740.2 L944.6,739.5 L947.4,738.7 L950.2,738.0 L953.0,737.3 L955.8,736.7 L958.6,736.1 L961.5,735.5 L964.4,734.9 L967.3,734.4 L970.2,733.9 L973.1,733.4 L976.0,733.0 L978.9,732.6 L981.9,732.2 L984.8,731.8 L987.8,731.4 L990.7,731.1 L993.7,730.7 L996.7,730.4 L999.5,730.1 L1002.3,729.8 L1005.0,729.5 L1007.8,729.2 L1010.5,728.9 L1013.3,728.6 L1016.0,728.3 L1018.8,728.0 L1021.5,727.7 L1024.2,727.4 L1026.9,727.1 L1029.6,726.8 L1032.3,726.5 L1035.0,726.2 L1037.7,725.9 L1040.3,725.6 L1043.0,725.3 L1045.7,725.0 L1048.3,724.7 L1051.0,724.4 L1053.6,724.1 L1056.3,723.8 L1058.9,723.5 L1061.6,723.2 L1064.2,722.9 L1066.8,722.6 L1069.5,722.4 L1072.1,722.1 L1074.7,721.8 L1077.3,721.5 L1080.0,721.2 L1082.6,720.9 L1085.2,720.7 L1087.9,720.4 L1090.5,720.1 L1093.1,719.9 L1095.7,719.6 L1098.4,719.4 L1101.0,719.1 L1103.6,718.9 L1106.3,718.6 L1108.9,718.4 L1111.5,718.1 L1114.2,717.9 L1116.8,717.7 L1119.5,717.4 L1122.1,717.2 L1124.7,717.0 L1127.4,716.8 L1130.0,716.5 L1132.7,716.3 L1135.3,716.1 L1137.9,715.9 L1140.6,715.7 L1143.2,715.5 L1145.9,715.3 L1148.5,715.1 L1151.2,714.9 L1153.8,714.7 L1156.5,714.5 L1159.1,714.3 L1161.8,714.1 L1164.4,714.0 L1167.1,713.8 L1169.7,713.6 L1172.4,713.4 L1175.0,713.3 L1177.7,713.1 L1180.3,712.9 L1183.0,712.8 L1185.6,712.6 L1188.3,712.5 L1190.9,712.3 L1193.6,712.2 L1196.3,712.0 L1198.9,711.9 L1201.6,711.7 L1204.2,711.6 L1206.9,711.4 L1209.6,711.3 L1212.2,711.2 L1214.9,711.1 L1217.5,710.9 L1220.2,710.8 L1222.9,710.7 L1225.5,710.6 L1228.2,710.4 L1230.9,710.3 L1233.5,710.2 L1236.2,710.1 L1238.9,710.0 L1241.5,709.9 L1244.2,709.8 L1246.9,709.7 L1249.5,709.6 L1252.2,709.5 L1254.9,709.4 L1257.5,709.3 L1260.2,709.2 L1262.9,709.1 L1265.5,709.0 L1268.2,708.9 L1270.9,708.8 L1273.6,708.7 L1276.2,708.7 L1278.9,708.6 L1281.6,708.5 L1284.2,708.4 L1286.9,708.4 L1289.6,708.3 L1292.3,708.2 L1294.9,708.1 L1297.6,708.1 L1300.3,708.0 L1302.9,707.9 L1305.6,707.9 L1308.3,707.8 L1311.0,707.8 L1313.6,707.7 L1316.3,707.6 L1319.0,707.6 L1321.7,707.5 L1324.3,707.5 L1327.0,707.4 L1329.7,707.4 L1332.4,707.3 L1335.0,707.3 L1337.7,707.2 L1340.4,707.2 L1343.0,707.1 L1345.7,707.1 L1348.4,707.1 L1351.1,707.0 L1353.7,707.0 L1356.4,706.9 L1359.1,706.9 L1361.7,706.9 L1364.4,706.8 L1367.1,706.8 L1369.8,706.8 L1372.4,706.7 L1375.1,706.7 L1377.8,706.7 L1380.4,706.6 L1383.1,706.6 L1385.8,706.6 L1388.4,706.5 L1391.1,706.5 L1393.8,706.5 L1396.5,706.4 L1399.1,706.4 L1401.8,706.4 L1404.5,706.4 L1407.1,706.3 L1409.8,706.3 L1412.4,706.3 L1415.1,706.3 L1417.8,706.2 L1420.4,706.2 L1423.1,706.2 L1425.8,706.2 L1428.4,706.1 L1431.1,706.1 L1433.7,706.1 L1436.4,706.1 L1439.1,706.0 L1441.7,706.0 L1444.4,706.0 L1447.0,706.0 L1449.7,706.0 L1452.3,705.9 L1455.0,705.9" fill="none" stroke="#f00" stroke-width="1.5"/>
<path d="M262.7,1279.3a3.8,3.8 0 1,0 7.5,0a3.8,3.8 0 1,0 -7.5,0zM285.2,1278.9a3.8,3.8 0 1,0 7.5,0a3.8,3.8 0 1,0 -7.5,0zM307.7,1278.5a3.8,3.8 0 1,0 7.5,0a3.8,3.8 0 1,0 -7.5,0zM330.2,1278.0a3.8,3.8 0 1,0 7.5,0a3.8,3.8 0 1,0 -7.5,0zM352.7,1277.4a3.8,3.8 0 1,0 7.5,0a3.8,3.8 0 1,0 -7.5,0zM375.2,1276.8a3.8,3.8 0 1,0 7.5,0a3.8,3.8 0 1,0 -7.5,0zM397.7,1276.1a3.8,3.8 0 1,0 7.5,0a3.8,3.8 0 1,0 -7.5,0zM420.2,1275.3a3.8,3.8 0 1,0 7.5,0a3.8,3.8 0 1,0 -7.5,0zM442.6,1274.4a3.8,3.8 0 1,0 7.5,0a3.8,3.8 0 1,0 -7.5,0zM464.0,1273.5a3.8,3.8 0 1,0 7.5,0a3.8,3.8 0 1,0 -7.5,0zM484.3,1272.5a3.8,3.8 0 1,0 7.5,0a3.8,3.8 0 1,0 -7.5,0zM503.5,1271.5a3.8,3.8 0 1,0 7.5,0a3.8,3.8 0 1,0 -7.5,0zM521.7,1270.5a3.8,3.8 0 1,0 7.5,0a3.8,3.8 0 1,0 -7.5,0zM538.9,1269.5a3.8,3.8 0 1,0 7.5,0a3.8,3.8 0 1,0 -7.5,0zM555.2,1268.4a3.8,3.8 0 1,0 7.5,0a3.8,3.8 0 1,0 -7.5,0zM570.6,1267.4a3.8,3.8 0 1,0 7.5,0a3.8,3.8 0 1,0 -7.5,0zM585.2,1266.4a3.8,3.8 0 1,0 7.5,0a3.8,3.8 0 1,0 -7.5,0zM599.0,1265.4a3.8,3.8 0 1,0 7.5,0a3.8,3.8 0 1,0 -7.5,0zM612.0,1264.4a3.8,3.8 0 1,0 7.5,0a3.8,3.8 0 1,0 -7.5,0zM624.4,1263.4a3.8,3.8 0 1,0 7.5,0a3.8,3.8 0 1,0 -7.5,0zM636.1,1262.5a3.8,3.8 0 1,0 7.5,0a3.8,3.8 0 1,0 -7.5,0zM647.2,1261.6a3.8,3.8 0 1,0 7.5,0a3.8,3.8 0 1,0 -7.5,0zM658.2,1260.6a3.8,3.8 0 1,0 7.5,0a3.8,3.8 0 1,0 -7.5,0zM669.1,1259.5a3.8,3.8 0 1,0 7.5,0a3.8,3.8 0 1,0 -7.5,0zM680.0,1258.3a3.8,3.8 0 1,0 7.5,0a3.8,3.8 0 1,0 -7.5,0zM691.0,1256.9a3.8,3.8 0 1,0 7.5,0a3.8,3.8 0 1,0 -7.5,0zM701.8,1255.2a3.8,3.8 0 1,0 7.5,0a3.8,3.8 0 1,0 -7.5,0zM712.6,1253.1a3.8,3.8 0 1,0 7.5,0a3.8,3.8 0 1,0 -7.5,0zM723.3,1250.5a3.8,3.8 0 1,0 7.5,0a3.8,3.8 0 1,0 -7.5,0zM733.8,1247.4a3.8,3.8 0 1,0 7.5,0a3.8,3.8 0 1,0 -7.5,0zM744.2,1243.6a3.8,3.8 0 1,0 7.5,0a3.8,3.8 0 1,0 -7.5,0zM754.3,1239.2a3.8,3.8 0 1,0 7.5,0a3.8,3.8 0 1,0 -7.5,0zM763.9,1233.9a3.8,3.8 0 1,0 7.5,0a3.8,3.8 0 1,0 -7.5,0zM773.1,1227.8a3.8,3.8 0 1,0 7.5,0a3.8,3.8 0 1,0 -7.5,0zM781.7,1221.0a3.8,3.8 0 1,0 7.5,0a3.8,3.8 0 1,0 -7.5,0zM789.8,1213.6a3.8,3.8 0 1,0 7.5,0a3.8,3.8 0 1,0 -7.5,0zM797.0,1205.3a3.8,3.8 0 1,0 7.5,0a3.8,3.8 0 1,0 -7.5,0zM803.5,1196.4a3.8,3.8 0 1,0 7.5,0a3.8,3.8 0 1,0 -7.5,0zM809.1,1187.0a3.8,3.8 0 1,0 7.5,0a3.8,3.8 0 1,0 -7.5,0zM814.0,1177.1a3.8,3.8 0 1,0 7.5,0a3.8,3.8 0 1,0 -7.5,0zM818.2,1166.9a3.8,3.8 0 1,0 7.5,0a3.8,3.8 0 1,0 -7.5,0zM821.5,1156.4a3.8,3.8 0 1,0 7.5,0a3.8,3.8 0 1,0 -7.5,0zM824.1,1145.8a3.8,3.8 0 1,0 7.5,0a3.8,3.8 0 1,0 -7.5,0zM826.0,1134.9a3.8,3.8 0 1,0 7.5,0a3.8,3.8 0 1,0 -7.5,0zM827.3,1124.0a3.8,3.8 0 1,0 7.5,0a3.8,3.8 0 1,0 -7.5,0zM828.3,1113.1a3.8,3.8 0 1,0 7.5,0a3.8,3.8 0 1,0 -7.5,0zM829.0,1102.1a3.8,3.8 0 1,0 7.5,0a3.8,3.8 0 1,0 -7.5,0zM829.6,1091.1a3.8,3.8 0 1,0 7.5,0a3.8,3.8 0 1,0 -7.5,0zM830.2,1080.1a3.8,3.8 0 1,0 7.5,0a3.8,3.8 0 1,0 -7.5,0zM830.9,1069.1a3.8,3.8 0 1,0 7.5,0a3.8,3.8 0 1,0 -7.5,0zM831.6,1058.2a3.8,3.8 0 1,0 7.5,0a3.8,3.8 0 1,0 -7.5,0zM832.5,1047.2a3.8,3.8 0 1,0 7.5,0a3.8,3.8 0 1,0 -7.5,0zM833.4,1036.2a3.8,3.8 0 1,0 7.5,0a3.8,3.8 0 1,0 -7.5,0zM834.3,1025.3a3.8,3.8 0 1,0 7.5,0a3.8,3.8 0 1,0 -7.5,0zM835.3,1014.3a3.8,3.8 0 1,0 7.5,0a3.8,3.8 0 1,0 -7.5,0zM836.2,1003.3a3.8,3.8 0 1,0 7.5,0a3.8,3.8 0 1,0 -7.5,0zM837.1,992.4a3.8,3.8 0 1,0 7.5,0a3.8,3.8 0 1,0 -7.5,0zM838.0,981.4a3.8,3.8 0 1,0 7.5,0a3.8,3.8 0 1,0 -7.5,0zM838.8,970.4a3.8,3.8 0 1,0 7.5,0a3.8,3.8 0 1,0 -7.5,0zM839.5,959.5a3.8,3.8 0 1,0 7.5,0a3.8,3.8 0 1,0 -7.5,0zM840.1,948.5a3.8,3.8 0 1,0 7.5,0a3.8,3.8 0 1,0 -7.5,0zM840.6,937.5a3.8,3.8 0 1,0 7.5,0a3.8,3.8 0 1,0 -7.5,0zM841.0,926.5a3.8,3.8 0 1,0 7.5,0a3.8,3.8 0 1,0 -7.5,0zM841.5,915.5a3.8,3.8 0 1,0 7.5,0a3.8,3.8 0 1,0 -7.5,0zM842.0,904.5a3.8,3.8 0 1,0 7.5,0a3.8,3.8 0 1,0 -7.5,0zM842.7,893.6a3.8,3.8 0 1,0 7.5,0a3.8,3.8 0 1,0 -7.5,0zM843.6,882.6a3.8,3.8 0 1,0 7.5,0a3.8,3.8 0 1,0 -7.5,0zM844.7,871.6a3.8,3.8 0 1,0 7.5,0a3.8,3.8 0 1,0 -7.5,0zM846.2,860.7a3.8,3.8 0 1,0 7.5,0a3.8,3.8 0 1,0 -7.5,0zM848.1,849.9a3.8,3.8 0 1,0 7.5,0a3.8,3.8 0 1,0 -7.5,0zM850.5,839.2a3.8,3.8 0 1,0 7.5,0a3.8,3.8 0 1,0 -7.5,0zM853.5,828.6a3.8,3.8 0 1,0 7.5,0a3.8,3.8 0 1,0 -7.5,0zM857.1,818.2a3.8,3.8 0 1,0 7.5,0a3.8,3.8 0 1,0 -7.5,0zM861.4,808.1a3.8,3.8 0 1,0 7.5,0a3.8,3.8 0 1,0 -7.5,0zM866.4,798.3a3.8,3.8 0 1,0 7.5,0a3.8,3.8 0 1,0 -7.5,0zM872.1,788.9a3.8,3.8 0 1,0 7.5,0a3.8,3.8 0 1,0 -7.5,0zM878.5,780.0a3.8,3.8 0 1,0 7.5,0a3.8,3.8 0 1,0 -7.5,0zM885.7,771.6a3.8,3.8 0 1,0 7.5,0a3.8,3.8 0 1,0 -7.5,0zM893.5,763.9a3.8,3.8 0 1,0 7.5,0a3.8,3.8 0 1,0 -7.5,0zM902.2,757.1a3.8,3.8 0 1,0 7.5,0a3.8,3.8 0 1,0 -7.5,0zM911.5,751.3a3.8,3.8 0 1,0 7.5,0a3.8,3.8 0 1,0 -7.5,0zM921.3,746.4a3.8,3.8 0 1,0 7.5,0a3.8,3.8 0 1,0 -7.5,0zM931.6,742.4a3.8,3.8 0 1,0 7.5,0a3.8,3.8 0 1,0 -7.5,0zM942.1,739.1a3.8,3.8 0 1,0 7.5,0a3.8,3.8 0 1,0 -7.5,0zM952.8,736.5a3.8,3.8 0 1,0 7.5,0a3.8,3.8 0 1,0 -7.5,0zM963.6,734.4a3.8,3.8 0 1,0 7.5,0a3.8,3.8 0 1,0 -7.5,0zM974.4,732.7a3.8,3.8 0 1,0 7.5,0a3.8,3.8 0 1,0 -7.5,0zM985.3,731.3a3.8,3.8 0 1,0 7.5,0a3.8,3.8 0 1,0 -7.5,0zM996.3,730.0a3.8,3.8 0 1,0 7.5,0a3.8,3.8 0 1,0 -7.5,0zM1007.2,728.8a3.8,3.8 0 1,0 7.5,0a3.8,3.8 0 1,0 -7.5,0zM1018.1,727.6a3.8,3.8 0 1,0 7.5,0a3.8,3.8 0 1,0 -7.5,0zM1029.1,726.4a3.8,3.8 0 1,0 7.5,0a3.8,3.8 0 1,0 -7.5,0zM1040.0,725.2a3.8,3.8 0 1,0 7.5,0a3.8,3.8 0 1,0 -7.5,0zM1051.1,724.0a3.8,3.8 0 1,0 7.5,0a3.8,3.8 0 1,0 -7.5,0zM1062.7,722.7a3.8,3.8 0 1,0 7.5,0a3.8,3.8 0 1,0 -7.5,0zM1075.0,721.3a3.8,3.8 0 1,0 7.5,0a3.8,3.8 0 1,0 -7.5,0zM1088.0,720.0a3.8,3.8 0 1,0 7.5,0a3.8,3.8 0 1,0 -7.5,0zM1101.8,718.7a3.8,3.8 0 1,0 7.5,0a3.8,3.8 0 1,0 -7.5,0zM1116.3,717.4a3.8,3.8 0 1,0 7.5,0a3.8,3.8 0 1,0 -7.5,0zM1131.7,716.1a3.8,3.8 0 1,0 7.5,0a3.8,3.8 0 1,0 -7.5,0zM1147.9,714.9a3.8,3.8 0 1,0 7.5,0a3.8,3.8 0 1,0 -7.5,0zM1165.0,713.7a3.8,3.8 0 1,0 7.5,0a3.8,3.8 0 1,0 -7.5,0zM1183.2,712.5a3.8,3.8 0 1,0 7.5,0a3.8,3.8 0 1,0 -7.5,0zM1202.3,711.5a3.8,3.8 0 1,0 7.5,0a3.8,3.8 0 1,0 -7.5,0zM1222.6,710.5a3.8,3.8 0 1,0 7.5,0a3.8,3.8 0 1,0 -7.5,0zM1244.0,709.6a3.8,3.8 0 1,0 7.5,0a3.8,3.8 0 1,0 -7.5,0zM1266.4,708.9a3.8,3.8 0 1,0 7.5,0a3.8,3.8 0 1,0 -7.5,0zM1288.9,708.2a3.8,3.8 0 1,0 7.5,0a3.8,3.8 0 1,0 -7.5,0zM1311.4,707.7a3.8,3.8 0 1,0 7.5,0a3.8,3.8 0 1,0 -7.5,0zM1333.8,707.2a3.8,3.8 0 1,0 7.5,0a3.8,3.8 0 1,0 -7.5,0zM1356.3,706.9a3.8,3.8 0 1,0 7.5,0a3.8,3.8 0 1,0 -7.5,0zM1378.8,706.6a3.8,3.8 0 1,0 7.5,0a3.8,3.8 0 1,0 -7.5,0zM1401.3,706.4a3.8,3.8 0 1,0 7.5,0a3.8,3.8 0 1,0 -7.5,0zM1423.8,706.1a3.8,3.8 0 1,0 7.5,0a3.8,3.8 0 1,0 -7.5,0zM1446.3,706.0a3.8,3.8 0 1,0 7.5,0a3.8,3.8 0 1,0 -7.5,0z" fill="#f00"/>
<path d="M244.0,1279.6 L246.7,1279.5 L249.5,1279.5 L252.3,1279.5 L255.0,1279.4 L257.8,1279.4 L260.6,1279.3 L263.3,1279.3 L266.1,1279.3 L268.8,1279.2 L271.5,1279.2 L274.3,1279.1 L277.0,1279.1 L279.7,1279.0 L282.4,1279.0 L285.2,1279.0 L287.9,1278.9 L290.6,1278.9 L293.3,1278.8 L296.0,1278.8 L298.7,1278.7 L301.4,1278.7 L304.1,1278.6 L306.8,1278.6 L309.5,1278.5 L312.2,1278.5 L314.8,1278.4 L317.5,1278.4 L320.2,1278.3 L322.9,1278.2 L325.5,1278.2 L328.2,1278.1 L330.9,1278.1 L333.5,1278.0 L336.2,1277.9 L338.8,1277.9 L341.5,1277.8 L344.2,1277.8 L346.8,1277.7 L349.4,1277.6 L352.1,1277.6 L354.7,1277.5 L357.4,1277.4 L360.0,1277.4 L362.6,1277.3 L365.3,1277.2 L367.9,1277.1 L370.5,1277.1 L373.2,1277.0 L375.8,1276.9 L378.4,1276.8 L381.0,1276.8 L383.7,1276.7 L386.3,1276.6 L388.9,1276.5 L391.5,1276.4 L394.1,1276.3 L396.8,1276.3 L399.4,1276.2 L402.0,1276.1 L404.6,1276.0 L407.2,1275.9 L409.8,1275.8 L412.4,1275.7 L415.0,1275.6 L417.6,1275.5 L420.2,1275.4 L422.9,1275.4 L425.5,1275.3 L428.1,1275.2 L430.7,1275.1 L433.3,1275.0 L435.9,1274.8 L438.5,1274.7 L441.1,1274.6 L443.7,1274.5 L446.3,1274.4 L448.9,1274.3 L451.5,1274.2 L454.1,1274.1 L456.7,1274.0 L459.3,1273.9 L461.9,1273.8 L464.5,1273.6 L467.1,1273.5 L469.7,1273.4 L472.3,1273.3 L474.9,1273.2 L477.5,1273.0 L480.1,1272.9 L482.8,1272.8 L485.4,1272.6 L488.0,1272.5 L490.6,1272.4 L493.2,1272.3 L495.8,1272.1 L498.4,1272.0 L501.0,1271.8 L503.7,1271.7 L506.3,1271.6 L508.9,1271.4 L511.5,1271.3 L514.1,1271.1 L516.8,1271.0 L519.4,1270.8 L522.0,1270.7 L524.6,1270.5 L527.3,1270.4 L529.9,1270.2 L532.5,1270.1 L535.2,1269.9 L537.8,1269.8 L540.4,1269.6 L543.1,1269.4 L545.7,1269.3 L548.4,1269.1 L551.0,1268.9 L553.7,1268.8 L556.3,1268.6 L559.0,1268.4 L561.6,1268.3 L564.3,1268.1 L567.0,1267.9 L569.6,1267.7 L572.3,1267.6 L575.0,1267.4 L577.7,1267.2 L580.3,1267.0 L583.0,1266.8 L585.7,1266.6 L588.4,1266.4 L591.1,1266.2 L593.8,1266.0 L596.5,1265.9 L599.2,1265.7 L601.9,1265.5 L604.6,1265.3 L607.3,1265.0 L610.0,1264.8 L612.7,1264.6 L615.5,1264.4 L618.2,1264.2 L620.9,1264.0 L623.7,1263.8 L626.4,1263.6 L629.1,1263.4 L631.9,1263.1 L634.6,1262.9 L637.4,1262.7 L640.2,1262.5 L642.9,1262.2 L645.7,1262.0 L648.5,1261.8 L651.2,1261.5 L654.0,1261.3 L656.8,1261.1 L659.6,1260.8 L662.4,1260.6 L665.2,1260.3 L667.9,1260.0 L670.7,1259.8 L673.5,1259.5 L676.3,1259.2 L679.1,1258.9 L681.9,1258.6 L684.6,1258.2 L687.4,1257.9 L690.2,1257.6 L692.9,1257.2 L695.7,1256.8 L698.5,1256.4 L701.4,1256.0 L704.4,1255.6 L707.3,1255.1 L710.2,1254.7 L713.1,1254.2 L715.9,1253.7 L718.8,1253.2 L721.7,1252.6 L724.5,1252.0 L727.3,1251.4 L730.1,1250.8 L732.9,1250.2 L735.7,1249.5 L738.5,1248.8 L741.2,1248.1 L743.9,1247.3 L746.6,1246.6 L749.3,1245.8 L752.0,1244.9 L754.6,1244.0 L757.2,1243.1 L759.8,1242.2 L762.4,1241.2 L764.9,1240.2 L767.4,1239.2 L769.9,1238.1 L772.3,1237.0 L774.8,1235.9 L777.2,1234.7 L779.6,1233.4 L781.9,1232.2 L784.2,1230.9 L786.5,1229.5 L788.7,1228.1 L790.9,1226.7 L793.1,1225.2 L795.2,1223.7 L797.1,1222.1 L799.1,1220.5 L801.0,1218.9 L802.8,1217.2 L804.7,1215.4 L806.5,1213.6 L808.2,1211.8 L809.9,1209.9 L811.6,1207.9 L813.3,1205.9 L814.9,1203.9 L816.4,1201.8 L818.0,1199.7 L819.5,1197.6 L820.9,1195.4 L822.3,1193.1 L823.7,1190.9 L825.0,1188.6 L826.3,1186.3 L827.5,1183.9 L828.7,1181.5 L829.9,1179.1 L831.0,1176.7 L832.1,1174.2 L833.1,1171.7 L834.1,1169.2 L835.0,1166.6 L835.9,1164.1 L836.8,1161.5 L837.6,1158.9 L838.3,1156.3 L839.0,1153.6 L839.7,1151.0 L840.3,1148.3 L840.9,1145.7 L841.4,1143.0 L841.9,1140.3 L842.3,1137.6 L842.7,1134.9 L843.1,1132.2 L843.5,1129.5 L843.8,1126.7 L844.1,1124.0 L844.4,1121.3 L844.6,1118.5 L844.9,1115.8 L845.1,1113.0 L845.3,1110.3 L845.4,1107.5 L845.6,1104.7 L845.8,1102.0 L845.9,1099.2 L846.1,1096.5 L846.2,1093.8 L846.3,1091.0 L846.5,1088.3 L846.6,1085.5 L846.8,1082.8 L846.9,1080.1 L847.1,1077.4 L847.2,1074.7 L847.4,1072.0 L847.6,1069.3 L847.8,1066.6 L848.0,1064.0 L848.2,1061.3 L848.3,1058.6 L848.5,1056.0 L848.8,1053.3 L849.0,1050.6 L849.2,1048.0 L849.4,1045.3 L849.6,1042.7 L849.8,1040.1 L850.0,1037.4 L850.3,1034.8 L850.5,1032.2 L850.7,1029.5 L850.9,1026.9 L851.2,1024.3 L851.4,1021.7 L851.6,1019.0 L851.8,1016.4 L852.1,1013.8 L852.3,1011.2 L852.5,1008.5 L852.7,1005.9 L853.0,1003.3 L853.2,1000.7 L853.4,998.0 L853.6,995.4 L853.8,992.8 L854.1,990.1 L854.3,987.5 L854.5,984.9 L854.7,982.2 L854.9,979.6 L855.1,976.9 L855.3,974.3 L855.5,971.6 L855.6,969.0 L855.8,966.3 L856.0,963.6 L856.2,961.0 L856.3,958.3 L856.5,955.6 L856.6,952.9 L856.8,950.2 L856.9,947.5 L857.0,944.8 L857.2,942.1 L857.3,939.3 L857.4,936.6 L857.5,933.9 L857.6,931.1 L857.7,928.4 L857.8,925.6 L857.9,922.9 L858.1,920.1 L858.2,917.4 L858.3,914.6 L858.4,911.9 L858.5,909.1 L858.7,906.4 L858.8,903.6 L859.0,900.9 L859.2,898.1 L859.3,895.3 L859.5,892.6 L859.7,889.9 L859.9,887.1 L860.2,884.4 L860.4,881.6 L860.7,878.9 L861.0,876.2 L861.3,873.5 L861.6,870.7 L861.9,868.0 L862.3,865.3 L862.7,862.7 L863.1,860.0 L863.5,857.3 L864.0,854.6 L864.5,852.0 L865.0,849.3 L865.5,846.7 L866.1,844.1 L866.7,841.5 L867.3,838.9 L868.0,836.3 L868.7,833.7 L869.5,831.1 L870.2,828.6 L871.0,826.0 L871.9,823.5 L872.8,821.0 L873.7,818.5 L874.7,816.1 L875.7,813.6 L876.7,811.2 L877.8,808.8 L879.0,806.4 L880.1,804.0 L881.3,801.6 L882.6,799.3 L883.9,797.0 L885.2,794.7 L886.6,792.5 L888.0,790.3 L889.4,788.1 L890.9,785.9 L892.4,783.8 L894.0,781.7 L895.6,779.6 L897.2,777.6 L898.8,775.6 L900.6,773.7 L902.3,771.7 L904.1,769.9 L905.9,768.0 L907.7,766.2 L909.6,764.5 L911.6,762.7 L913.5,761.1 L915.4,759.5 L917.3,757.9 L919.2,756.3 L921.2,754.9 L923.2,753.4 L925.2,752.1 L927.2,750.7 L929.3,749.4 L931.4,748.2 L933.6,747.1 L935.8,745.9 L938.0,744.9 L940.2,743.9 L942.5,742.9 L944.8,742.0 L947.1,741.1 L949.4,740.2 L951.8,739.5 L954.1,738.7 L956.6,738.0 L959.0,737.3 L961.4,736.7 L963.9,736.1 L966.3,735.5 L968.8,734.9 L971.3,734.4 L973.8,733.9 L976.4,733.4 L978.9,733.0 L981.4,732.6 L984.0,732.2 L986.5,731.8 L989.1,731.4 L991.7,731.1 L994.2,730.7 L996.8,730.4 L999.5,730.1 L1002.3,729.8 L1005.0,729.5 L1007.8,729.2 L1010.5,728.9 L1013.3,728.6 L1016.0,728.3 L1018.8,728.0 L1021.5,727.7 L1024.2,727.4 L1026.9,727.1 L1029.6,726.8 L1032.3,726.5 L1035.0,726.2 L1037.7,725.9 L1040.3,725.6 L1043.0,725.3 L1045.7,725.0 L1048.3,724.7 L1051.0,724.4 L1053.6,724.1 L1056.3,723.8 L1058.9,723.5 L1061.6,723.2 L1064.2,722.9 L1066.8,722.6 L1069.5,722.4 L1072.1,722.1 L1074.7,721.8 L1077.3,721.5 L1080.0,721.2 L1082.6,720.9 L1085.2,720.7 L1087.9,720.4 L1090.5,720.1 L1093.1,719.9 L1095.7,719.6 L1098.4,719.4 L1101.0,719.1 L1103.6,718.9 L1106.3,718.6 L1108.9,718.4 L1111.5,718.1 L1114.2,717.9 L1116.8,717.7 L1119.5,717.4 L1122.1,717.2 L1124.7,717.0 L1127.4,716.8 L1130.0,716.5 L1132.7,716.3 L1135.3,716.1 L1137.9,715.9 L1140.6,715.7 L1143.2,715.5 L1145.9,715.3 L1148.5,715.1 L1151.2,714.9 L1153.8,714.7 L1156.5,714.5 L1159.1,714.3 L1161.8,714.1 L1164.4,714.0 L1167.1,713.8 L1169.7,713.6 L1172.4,713.4 L1175.0,713.3 L1177.7,713.1 L1180.3,712.9 L1183.0,712.8 L1185.6,712.6 L1188.3,712.5 L1190.9,712.3 L1193.6,712.2 L1196.3,712.0 L1198.9,711.9 L1201.6,711.7 L1204.2,711.6 L1206.9,711.4 L1209.6,711.3 L1212.2,711.2 L1214.9,711.1 L1217.5,710.9 L1220.2,710.8 L1222.9,710.7 L1225.5,710.6 L1228.2,710.4 L1230.9,710.3 L1233.5,710.2 L1236.2,710.1 L1238.9,710.0 L1241.5,709.9 L1244.2,709.8 L1246.9,709.7 L1249.5,709.6 L1252.2,709.5 L1254.9,709.4 L1257.5,709.3 L1260.2,709.2 L1262.9,709.1 L1265.5,709.0 L1268.2,708.9 L1270.9,708.8 L1273.6,708.7 L1276.2,708.7 L1278.9,708.6 L1281.6,708.5 L1284.2,708.4 L1286.9,708.4 L1289.6,708.3 L1292.3,708.2 L1294.9,708.1 L1297.6,708.1 L1300.3,708.0 L1302.9,707.9 L1305.6,707.9 L1308.3,707.8 L1311.0,707.8 L1313.6,707.7 L1316.3,707.6 L1319.0,707.6 L1321.7,707.5 L1324.3,707.5 L1327.0,707.4 L1329.7,707.4 L1332.4,707.3 L1335.0,707.3 L1337.7,707.2 L1340.4,707.2 L1343.0,707.1 L1345.7,707.1 L1348.4,707.1 L1351.1,707.0 L1353.7,707.0 L1356.4,706.9 L1359.1,706.9 L1361.7,706.9 L1364.4,706.8 L1367.1,706.8 L1369.8,706.8 L1372.4,706.7 L1375.1,706.7 L1377.8,706.7 L1380.4,706.6 L1383.1,706.6 L1385.8,706.6 L1388.4,706.5 L1391.1,706.5 L1393.8,706.5 L1396.5,706.4 L1399.1,706.4 L1401.8,706.4 L1404.5,706.4 L1407.1,706.3 L1409.8,706.3 L1412.4,706.3 L1415.1,706.3 L1417.8,706.2 L1420.4,706.2 L1423.1,706.2 L1425.8,706.2 L1428.4,706.1 L1431.1,706.1 L1433.7,706.1 L1436.4,706.1 L1439.1,706.0 L1441.7,706.0 L1444.4,706.0 L1447.0,706.0 L1449.7,706.0 L1452.3,705.9 L1455.0,705.9" fill="none" stroke="#f00" stroke-width="1.5"/>
<path d="M262.7,1279.3a3.8,3.8 0 1,0 7.5,0a3.8,3.8 0 1,0 -7.5,0zM285.2,1278.9a3.8,3.8 0 1,0 7.5,0a3.8,3.8 0 1,0 -7.5,0zM307.7,1278.5a3.8,3.8 0 1,0 7.5,0a3.8,3.8 0 1,0 -7.5,0zM330.2,1278.0a3.8,3.8 0 1,0 7.5,0a3.8,3.8 0 1,0 -7.5,0zM352.7,1277.4a3.8,3.8 0 1,0 7.5,0a3.8,3.8 0 1,0 -7.5,0zM375.2,1276.8a3.8,3.8 0 1,0 7.5,0a3.8,3.8 0 1,0 -7.5,0zM397.7,1276.1a3.8,3.8 0 1,0 7.5,0a3.8,3.8 0 1,0 -7.5,0zM420.2,1275.3a3.8,3.8 0 1,0 7.5,0a3.8,3.8 0 1,0 -7.5,0zM442.6,1274.4a3.8,3.8 0 1,0 7.5,0a3.8,3.8 0 1,0 -7.5,0zM464.0,1273.5a3.8,3.8 0 1,0 7.5,0a3.8,3.8 0 1,0 -7.5,0zM484.3,1272.5a3.8,3.8 0 1,0 7.5,0a3.8,3.8 0 1,0 -7.5,0zM503.5,1271.5a3.8,3.8 0 1,0 7.5,0a3.8,3.8 0 1,0 -7.5,0zM521.7,1270.5a3.8,3.8 0 1,0 7.5,0a3.8,3.8 0 1,0 -7.5,0zM538.9,1269.5a3.8,3.8 0 1,0 7.5,0a3.8,3.8 0 1,0 -7.5,0zM555.2,1268.4a3.8,3.8 0 1,0 7.5,0a3.8,3.8 0 1,0 -7.5,0zM570.6,1267.4a3.8,3.8 0 1,0 7.5,0a3.8,3.8 0 1,0 -7.5,0zM585.2,1266.4a3.8,3.8 0 1,0 7.5,0a3.8,3.8 0 1,0 -7.5,0zM599.0,1265.4a3.8,3.8 0 1,0 7.5,0a3.8,3.8 0 1,0 -7.5,0zM612.0,1264.4a3.8,3.8 0 1,0 7.5,0a3.8,3.8 0 1,0 -7.5,0zM624.4,1263.4a3.8,3.8 0 1,0 7.5,0a3.8,3.8 0 1,0 -7.5,0zM636.1,1262.5a3.8,3.8 0 1,0 7.5,0a3.8,3.8 0 1,0 -7.5,0zM647.2,1261.6a3.8,3.8 0 1,0 7.5,0a3.8,3.8 0 1,0 -7.5,0zM658.2,1260.6a3.8,3.8 0 1,0 7.5,0a3.8,3.8 0 1,0 -7.5,0zM669.1,1259.5a3.8,3.8 0 1,0 7.5,0a3.8,3.8 0 1,0 -7.5,0zM680.0,1258.3a3.8,3.8 0 1,0 7.5,0a3.8,3.8 0 1,0 -7.5,0zM691.0,1256.9a3.8,3.8 0 1,0 7.5,0a3.8,3.8 0 1,0 -7.5,0zM701.8,1255.4a3.8,3.8 0 1,0 7.5,0a3.8,3.8 0 1,0 -7.5,0zM712.7,1253.6a3.8,3.8 0 1,0 7.5,0a3.8,3.8 0 1,0 -7.5,0zM723.5,1251.5a3.8,3.8 0 1,0 7.5,0a3.8,3.8 0 1,0 -7.5,0zM734.2,1248.9a3.8,3.8 0 1,0 7.5,0a3.8,3.8 0 1,0 -7.5,0zM744.8,1246.0a3.8,3.8 0 1,0 7.5,0a3.8,3.8 0 1,0 -7.5,0zM755.2,1242.5a3.8,3.8 0 1,0 7.5,0a3.8,3.8 0 1,0 -7.5,0zM765.4,1238.4a3.8,3.8 0 1,0 7.5,0a3.8,3.8 0 1,0 -7.5,0zM775.4,1233.7a3.8,3.8 0 1,0 7.5,0a3.8,3.8 0 1,0 -7.5,0zM784.9,1228.2a3.8,3.8 0 1,0 7.5,0a3.8,3.8 0 1,0 -7.5,0zM793.8,1221.8a3.8,3.8 0 1,0 7.5,0a3.8,3.8 0 1,0 -7.5,0zM802.0,1214.4a3.8,3.8 0 1,0 7.5,0a3.8,3.8 0 1,0 -7.5,0zM809.3,1206.2a3.8,3.8 0 1,0 7.5,0a3.8,3.8 0 1,0 -7.5,0zM815.8,1197.4a3.8,3.8 0 1,0 7.5,0a3.8,3.8 0 1,0 -7.5,0zM821.6,1188.0a3.8,3.8 0 1,0 7.5,0a3.8,3.8 0 1,0 -7.5,0zM826.6,1178.2a3.8,3.8 0 1,0 7.5,0a3.8,3.8 0 1,0 -7.5,0zM830.8,1168.0a3.8,3.8 0 1,0 7.5,0a3.8,3.8 0 1,0 -7.5,0zM834.2,1157.6a3.8,3.8 0 1,0 7.5,0a3.8,3.8 0 1,0 -7.5,0zM836.8,1146.9a3.8,3.8 0 1,0 7.5,0a3.8,3.8 0 1,0 -7.5,0zM838.8,1136.1a3.8,3.8 0 1,0 7.5,0a3.8,3.8 0 1,0 -7.5,0zM840.2,1125.2a3.8,3.8 0 1,0 7.5,0a3.8,3.8 0 1,0 -7.5,0zM841.2,1114.2a3.8,3.8 0 1,0 7.5,0a3.8,3.8 0 1,0 -7.5,0zM841.9,1103.2a3.8,3.8 0 1,0 7.5,0a3.8,3.8 0 1,0 -7.5,0zM842.5,1092.2a3.8,3.8 0 1,0 7.5,0a3.8,3.8 0 1,0 -7.5,0zM843.1,1081.3a3.8,3.8 0 1,0 7.5,0a3.8,3.8 0 1,0 -7.5,0zM843.8,1070.3a3.8,3.8 0 1,0 7.5,0a3.8,3.8 0 1,0 -7.5,0zM844.5,1059.3a3.8,3.8 0 1,0 7.5,0a3.8,3.8 0 1,0 -7.5,0zM845.4,1048.3a3.8,3.8 0 1,0 7.5,0a3.8,3.8 0 1,0 -7.5,0zM846.3,1037.4a3.8,3.8 0 1,0 7.5,0a3.8,3.8 0 1,0 -7.5,0zM847.2,1026.4a3.8,3.8 0 1,0 7.5,0a3.8,3.8 0 1,0 -7.5,0zM848.2,1015.5a3.8,3.8 0 1,0 7.5,0a3.8,3.8 0 1,0 -7.5,0zM849.1,1004.5a3.8,3.8 0 1,0 7.5,0a3.8,3.8 0 1,0 -7.5,0zM850.0,993.5a3.8,3.8 0 1,0 7.5,0a3.8,3.8 0 1,0 -7.5,0zM850.9,982.6a3.8,3.8 0 1,0 7.5,0a3.8,3.8 0 1,0 -7.5,0zM851.7,971.6a3.8,3.8 0 1,0 7.5,0a3.8,3.8 0 1,0 -7.5,0zM852.4,960.6a3.8,3.8 0 1,0 7.5,0a3.8,3.8 0 1,0 -7.5,0zM853.1,949.6a3.8,3.8 0 1,0 7.5,0a3.8,3.8 0 1,0 -7.5,0zM853.6,938.7a3.8,3.8 0 1,0 7.5,0a3.8,3.8 0 1,0 -7.5,0zM854.0,927.7a3.8,3.8 0 1,0 7.5,0a3.8,3.8 0 1,0 -7.5,0zM854.5,916.7a3.8,3.8 0 1,0 7.5,0a3.8,3.8 0 1,0 -7.5,0zM855.0,905.7a3.8,3.8 0 1,0 7.5,0a3.8,3.8 0 1,0 -7.5,0zM855.6,894.7a3.8,3.8 0 1,0 7.5,0a3.8,3.8 0 1,0 -7.5,0zM856.5,883.7a3.8,3.8 0 1,0 7.5,0a3.8,3.8 0 1,0 -7.5,0zM857.6,872.8a3.8,3.8 0 1,0 7.5,0a3.8,3.8 0 1,0 -7.5,0zM859.0,861.9a3.8,3.8 0 1,0 7.5,0a3.8,3.8 0 1,0 -7.5,0zM860.9,851.1a3.8,3.8 0 1,0 7.5,0a3.8,3.8 0 1,0 -7.5,0zM863.2,840.3a3.8,3.8 0 1,0 7.5,0a3.8,3.8 0 1,0 -7.5,0zM866.1,829.7a3.8,3.8 0 1,0 7.5,0a3.8,3.8 0 1,0 -7.5,0zM869.7,819.3a3.8,3.8 0 1,0 7.5,0a3.8,3.8 0 1,0 -7.5,0zM873.9,809.1a3.8,3.8 0 1,0 7.5,0a3.8,3.8 0 1,0 -7.5,0zM878.8,799.3a3.8,3.8 0 1,0 7.5,0a3.8,3.8 0 1,0 -7.5,0zM884.5,789.9a3.8,3.8 0 1,0 7.5,0a3.8,3.8 0 1,0 -7.5,0zM890.8,780.9a3.8,3.8 0 1,0 7.5,0a3.8,3.8 0 1,0 -7.5,0zM897.9,772.5a3.8,3.8 0 1,0 7.5,0a3.8,3.8 0 1,0 -7.5,0zM905.7,764.7a3.8,3.8 0 1,0 7.5,0a3.8,3.8 0 1,0 -7.5,0zM914.0,757.5a3.8,3.8 0 1,0 7.5,0a3.8,3.8 0 1,0 -7.5,0zM922.9,751.1a3.8,3.8 0 1,0 7.5,0a3.8,3.8 0 1,0 -7.5,0zM932.5,745.7a3.8,3.8 0 1,0 7.5,0a3.8,3.8 0 1,0 -7.5,0zM942.6,741.4a3.8,3.8 0 1,0 7.5,0a3.8,3.8 0 1,0 -7.5,0zM953.1,737.9a3.8,3.8 0 1,0 7.5,0a3.8,3.8 0 1,0 -7.5,0zM963.7,735.2a3.8,3.8 0 1,0 7.5,0a3.8,3.8 0 1,0 -7.5,0zM974.5,733.1a3.8,3.8 0 1,0 7.5,0a3.8,3.8 0 1,0 -7.5,0zM985.4,731.4a3.8,3.8 0 1,0 7.5,0a3.8,3.8 0 1,0 -7.5,0zM996.3,730.0a3.8,3.8 0 1,0 7.5,0a3.8,3.8 0 1,0 -7.5,0zM1007.2,728.8a3.8,3.8 0 1,0 7.5,0a3.8,3.8 0 1,0 -7.5,0zM1018.2,727.6a3.8,3.8 0 1,0 7.5,0a3.8,3.8 0 1,0 -7.5,0zM1029.1,726.4a3.8,3.8 0 1,0 7.5,0a3.8,3.8 0 1,0 -7.5,0zM1040.0,725.2a3.8,3.8 0 1,0 7.5,0a3.8,3.8 0 1,0 -7.5,0zM1051.1,724.0a3.8,3.8 0 1,0 7.5,0a3.8,3.8 0 1,0 -7.5,0zM1062.7,722.7a3.8,3.8 0 1,0 7.5,0a3.8,3.8 0 1,0 -7.5,0zM1075.1,721.3a3.8,3.8 0 1,0 7.5,0a3.8,3.8 0 1,0 -7.5,0zM1088.1,720.0a3.8,3.8 0 1,0 7.5,0a3.8,3.8 0 1,0 -7.5,0zM1101.8,718.7a3.8,3.8 0 1,0 7.5,0a3.8,3.8 0 1,0 -7.5,0zM1116.3,717.4a3.8,3.8 0 1,0 7.5,0a3.8,3.8 0 1,0 -7.5,0zM1131.7,716.1a3.8,3.8 0 1,0 7.5,0a3.8,3.8 0 1,0 -7.5,0zM1147.9,714.9a3.8,3.8 0 1,0 7.5,0a3.8,3.8 0 1,0 -7.5,0zM1165.1,713.7a3.8,3.8 0 1,0 7.5,0a3.8,3.8 0 1,0 -7.5,0zM1183.2,712.5a3.8,3.8 0 1,0 7.5,0a3.8,3.8 0 1,0 -7.5,0zM1202.4,711.5a3.8,3.8 0 1,0 7.5,0a3.8,3.8 0 1,0 -7.5,0zM1222.6,710.5a3.8,3.8 0 1,0 7.5,0a3.8,3.8 0 1,0 -7.5,0zM1244.0,709.6a3.8,3.8 0 1,0 7.5,0a3.8,3.8 0 1,0 -7.5,0zM1266.4,708.9a3.8,3.8 0 1,0 7.5,0a3.8,3.8 0 1,0 -7.5,0zM1288.9,708.2a3.8,3.8 0 1,0 7.5,0a3.8,3.8 0 1,0 -7.5,0zM1311.4,707.7a3.8,3.8 0 1,0 7.5,0a3.8,3.8 0 1,0 -7.5,0zM1333.9,707.2a3.8,3.8 0 1,0 7.5,0a3.8,3.8 0 1,0 -7.5,0zM1356.4,706.9a3.8,3.8 0 1,0 7.5,0a3.8,3.8 0 1,0 -7.5,0zM1378.9,706.6a3.8,3.8 0 1,0 7.5,0a3.8,3.8 0 1,0 -7.5,0zM1401.4,706.4a3.8,3.8 0 1,0 7.5,0a3.8,3.8 0 1,0 -7.5,0zM1423.9,706.1a3.8,3.8 0 1,0 7.5,0a3.8,3.8 0 1,0 -7.5,0zM1446.4,706.0a3.8,3.8 0 1,0 7.5,0a3.8,3.8 0 1,0 -7.5,0z" fill="#f00"/>
<path d="M244.0,1277.3 L246.7,1277.3 L249.5,1277.2 L252.3,1277.2 L255.0,1277.2 L257.8,1277.1 L260.6,1277.1 L263.3,1277.0 L266.1,1277.0 L268.8,1277.0 L271.5,1276.9 L274.3,1276.9 L277.0,1276.8 L279.7,1276.8 L282.4,1276.7 L285.2,1276.7 L287.9,1276.7 L290.6,1276.6 L293.3,1276.6 L296.0,1276.5 L298.7,1276.5 L301.4,1276.4 L304.1,1276.4 L306.8,1276.3 L309.5,1276.3 L312.2,1276.2 L314.8,1276.2 L317.5,1276.1 L320.2,1276.0 L322.9,1276.0 L325.5,1275.9 L328.2,1275.9 L330.9,1275.8 L333.5,1275.8 L336.2,1275.7 L338.8,1275.6 L341.5,1275.6 L344.2,1275.5 L346.8,1275.4 L349.4,1275.4 L352.1,1275.3 L354.7,1275.2 L357.4,1275.2 L360.0,1275.1 L362.6,1275.0 L365.3,1275.0 L367.9,1274.9 L370.5,1274.8 L373.2,1274.7 L375.8,1274.7 L378.4,1274.6 L381.0,1274.5 L383.7,1274.4 L386.3,1274.4 L388.9,1274.3 L391.5,1274.2 L394.1,1274.1 L396.8,1274.0 L399.4,1273.9 L402.0,1273.9 L404.6,1273.8 L407.2,1273.7 L409.8,1273.6 L412.4,1273.5 L415.0,1273.4 L417.6,1273.3 L420.2,1273.2 L422.9,1273.1 L425.5,1273.0 L428.1,1272.9 L430.7,1272.8 L433.3,1272.7 L435.9,1272.6 L438.5,1272.5 L441.1,1272.4 L443.7,1272.3 L446.3,1272.2 L448.9,1272.1 L451.5,1272.0 L454.1,1271.9 L456.7,1271.8 L459.3,1271.6 L461.9,1271.5 L464.5,1271.4 L467.1,1271.3 L469.7,1271.2 L472.3,1271.1 L474.9,1270.9 L477.5,1270.8 L480.1,1270.7 L482.8,1270.6 L485.4,1270.4 L488.0,1270.3 L490.6,1270.2 L493.2,1270.0 L495.8,1269.9 L498.4,1269.8 L501.0,1269.6 L503.7,1269.5 L506.3,1269.4 L508.9,1269.2 L511.5,1269.1 L514.1,1268.9 L516.8,1268.8 L519.4,1268.6 L522.0,1268.5 L524.6,1268.4 L527.3,1268.2 L529.9,1268.0 L532.5,1267.9 L535.2,1267.7 L537.8,1267.6 L540.4,1267.4 L543.1,1267.3 L545.7,1267.1 L548.4,1266.9 L551.0,1266.8 L553.7,1266.6 L556.3,1266.4 L559.0,1266.3 L561.6,1266.1 L564.3,1265.9 L567.0,1265.7 L569.6,1265.6 L572.3,1265.4 L575.0,1265.2 L577.7,1265.0 L580.3,1264.8 L583.0,1264.7 L585.7,1264.5 L588.4,1264.3 L591.1,1264.1 L593.8,1263.9 L596.5,1263.7 L599.2,1263.5 L601.9,1263.3 L604.6,1263.1 L607.3,1262.9 L610.0,1262.7 L612.7,1262.5 L615.5,1262.3 L618.2,1262.1 L620.9,1261.9 L623.7,1261.6 L626.4,1261.4 L629.1,1261.2 L631.9,1261.0 L634.6,1260.8 L637.4,1260.6 L640.2,1260.3 L642.9,1260.1 L645.7,1259.9 L648.5,1259.6 L651.2,1259.4 L654.0,1259.2 L656.8,1258.9 L659.6,1258.7 L662.4,1258.4 L665.2,1258.2 L667.9,1257.9 L670.7,1257.7 L673.5,1257.4 L676.3,1257.1 L679.1,1256.8 L681.9,1256.5 L684.6,1256.2 L687.4,1255.8 L690.2,1255.5 L692.9,1255.1 L695.7,1254.7 L698.4,1254.3 L701.2,1253.9 L703.9,1253.5 L706.6,1253.1 L709.3,1252.6 L712.0,1252.1 L714.7,1251.6 L717.4,1251.1 L720.0,1250.6 L722.7,1250.0 L725.3,1249.4 L727.9,1248.8 L730.5,1248.1 L733.1,1247.5 L735.7,1246.8 L738.3,1246.1 L740.8,1245.3 L743.3,1244.6 L745.8,1243.8 L748.3,1242.9 L750.7,1242.1 L753.2,1241.2 L755.6,1240.2 L758.0,1239.3 L760.4,1238.3 L762.7,1237.2 L765.0,1236.2 L767.3,1235.1 L769.6,1233.9 L771.8,1232.8 L774.0,1231.5 L776.2,1230.3 L778.4,1229.0 L780.5,1227.7 L782.6,1226.3 L784.6,1224.9 L786.7,1223.4 L788.7,1221.9 L790.6,1220.3 L792.6,1218.7 L794.5,1217.1 L796.3,1215.4 L798.2,1213.7 L800.0,1211.9 L801.7,1210.0 L803.4,1208.1 L805.1,1206.2 L806.8,1204.2 L808.4,1202.2 L809.9,1200.2 L811.5,1198.1 L813.0,1195.9 L814.4,1193.8 L815.8,1191.6 L817.2,1189.3 L818.5,1187.0 L819.8,1184.7 L821.0,1182.4 L822.2,1180.0 L823.4,1177.6 L824.5,1175.2 L825.6,1172.8 L826.6,1170.3 L827.6,1167.8 L828.5,1165.3 L829.4,1162.7 L830.3,1160.2 L831.1,1157.6 L831.8,1155.0 L832.5,1152.4 L833.2,1149.8 L833.8,1147.1 L834.4,1144.5 L834.9,1141.8 L835.4,1139.2 L835.8,1136.5 L836.2,1133.8 L836.6,1131.1 L837.0,1128.4 L837.3,1125.7 L837.6,1123.0 L837.9,1120.2 L838.1,1117.5 L838.4,1114.8 L838.6,1112.1 L838.8,1109.3 L838.9,1106.6 L839.1,1103.9 L839.3,1101.1 L839.4,1098.4 L839.6,1095.7 L839.7,1093.0 L839.8,1090.2 L840.0,1087.5 L840.1,1084.8 L840.3,1082.1 L840.4,1079.4 L840.6,1076.7 L840.7,1074.1 L840.9,1071.4 L841.1,1068.7 L841.3,1066.1 L841.5,1063.4 L841.7,1060.7 L841.8,1058.1 L842.0,1055.5 L842.3,1052.8 L842.5,1050.2 L842.7,1047.6 L842.9,1044.9 L843.1,1042.3 L843.3,1039.7 L843.5,1037.1 L843.8,1034.5 L844.0,1031.9 L844.2,1029.3 L844.4,1026.6 L844.7,1024.0 L844.9,1021.4 L845.1,1018.8 L845.3,1016.2 L845.6,1013.6 L845.8,1011.0 L846.0,1008.4 L846.2,1005.8 L846.5,1003.2 L846.7,1000.6 L846.9,998.0 L847.1,995.4 L847.3,992.8 L847.6,990.2 L847.8,987.6 L848.0,984.9 L848.2,982.3 L848.4,979.7 L848.6,977.1 L848.8,974.4 L849.0,971.8 L849.1,969.2 L849.3,966.5 L849.5,963.9 L849.7,961.2 L849.8,958.6 L850.0,955.9 L850.1,953.2 L850.3,950.5 L850.4,947.9 L850.5,945.2 L850.7,942.5 L850.8,939.8 L850.9,937.1 L851.0,934.3 L851.1,931.6 L851.2,928.9 L851.3,926.2 L851.4,923.5 L851.6,920.7 L851.7,918.0 L851.8,915.3 L851.9,912.5 L852.0,909.8 L852.2,907.1 L852.3,904.3 L852.5,901.6 L852.7,898.9 L852.8,896.1 L853.0,893.4 L853.2,890.7 L853.4,888.0 L853.7,885.2 L853.9,882.5 L854.2,879.8 L854.5,877.1 L854.8,874.4 L855.1,871.7 L855.4,869.0 L855.8,866.4 L856.2,863.7 L856.6,861.0 L857.0,858.4 L857.5,855.7 L858.0,853.1 L858.5,850.5 L859.0,847.9 L859.6,845.3 L860.2,842.7 L860.8,840.1 L861.5,837.5 L862.2,835.0 L863.0,832.4 L863.7,829.9 L864.5,827.4 L865.4,824.9 L866.3,822.4 L867.2,819.9 L868.2,817.5 L869.2,815.0 L870.2,812.6 L871.3,810.2 L872.5,807.9 L873.6,805.5 L874.8,803.2 L876.1,800.9 L877.4,798.6 L878.7,796.3 L880.1,794.1 L881.5,791.9 L882.9,789.7 L884.4,787.6 L885.9,785.5 L887.5,783.4 L889.1,781.3 L890.7,779.3 L892.3,777.3 L894.1,775.4 L895.8,773.5 L897.6,771.6 L899.4,769.8 L901.2,768.0 L903.1,766.3 L905.1,764.6 L907.0,762.9 L909.0,761.3 L911.1,759.8 L913.1,758.2 L915.2,756.8 L917.4,755.3 L919.5,754.0 L921.8,752.7 L924.0,751.4 L926.3,750.2 L928.6,749.0 L930.9,747.9 L933.3,746.8 L935.7,745.8 L938.2,744.9 L940.6,744.0 L943.1,743.1 L945.7,742.3 L948.2,741.5 L950.8,740.7 L953.4,740.0 L956.0,739.3 L958.6,738.7 L961.3,738.1 L963.9,737.5 L966.6,737.0 L969.3,736.5 L972.0,736.0 L974.7,735.5 L977.4,735.1 L980.2,734.6 L982.9,734.2 L985.7,733.9 L988.4,733.5 L991.2,733.1 L994.0,732.8 L996.7,732.5 L999.5,732.2 L1002.3,731.9 L1005.0,731.6 L1007.8,731.3 L1010.5,731.0 L1013.3,730.7 L1016.0,730.4 L1018.8,730.1 L1021.5,729.8 L1024.2,729.5 L1026.9,729.2 L1029.6,728.9 L1032.3,728.6 L1035.0,728.3 L1037.7,728.0 L1040.3,727.7 L1043.0,727.4 L1045.7,727.1 L1048.3,726.8 L1051.0,726.6 L1053.6,726.3 L1056.3,726.0 L1058.9,725.7 L1061.6,725.4 L1064.2,725.1 L1066.8,724.8 L1069.5,724.5 L1072.1,724.2 L1074.7,723.9 L1077.3,723.7 L1080.0,723.4 L1082.6,723.1 L1085.2,722.8 L1087.9,722.6 L1090.5,722.3 L1093.1,722.0 L1095.7,721.8 L1098.4,721.5 L1101.0,721.3 L1103.6,721.0 L1106.3,720.8 L1108.9,720.6 L1111.5,720.3 L1114.2,720.1 L1116.8,719.8 L1119.5,719.6 L1122.1,719.4 L1124.7,719.2 L1127.4,719.0 L1130.0,718.7 L1132.7,718.5 L1135.3,718.3 L1137.9,718.1 L1140.6,717.9 L1143.2,717.7 L1145.9,717.5 L1148.5,717.3 L1151.2,717.1 L1153.8,716.9 L1156.5,716.7 L1159.1,716.5 L1161.8,716.4 L1164.4,716.2 L1167.1,716.0 L1169.7,715.8 L1172.4,715.7 L1175.0,715.5 L1177.7,715.3 L1180.3,715.2 L1183.0,715.0 L1185.6,714.9 L1188.3,714.7 L1190.9,714.6 L1193.6,714.4 L1196.3,714.3 L1198.9,714.1 L1201.6,714.0 L1204.2,713.8 L1206.9,713.7 L1209.6,713.6 L1212.2,713.4 L1214.9,713.3 L1217.5,713.2 L1220.2,713.0 L1222.9,712.9 L1225.5,712.8 L1228.2,712.7 L1230.9,712.6 L1233.5,712.5 L1236.2,712.3 L1238.9,712.2 L1241.5,712.1 L1244.2,712.0 L1246.9,711.9 L1249.5,711.8 L1252.2,711.7 L1254.9,711.6 L1257.5,711.5 L1260.2,711.4 L1262.9,711.4 L1265.5,711.3 L1268.2,711.2 L1270.9,711.1 L1273.6,711.0 L1276.2,710.9 L1278.9,710.9 L1281.6,710.8 L1284.2,710.7 L1286.9,710.6 L1289.6,710.6 L1292.3,710.5 L1294.9,710.4 L1297.6,710.3 L1300.3,710.3 L1302.9,710.2 L1305.6,710.2 L1308.3,710.1 L1311.0,710.0 L1313.6,710.0 L1316.3,709.9 L1319.0,709.9 L1321.7,709.8 L1324.3,709.8 L1327.0,709.7 L1329.7,709.7 L1332.4,709.6 L1335.0,709.6 L1337.7,709.5 L1340.4,709.5 L1343.0,709.4 L1345.7,709.4 L1348.4,709.3 L1351.1,709.3 L1353.7,709.3 L1356.4,709.2 L1359.1,709.2 L1361.7,709.1 L1364.4,709.1 L1367.1,709.1 L1369.8,709.0 L1372.4,709.0 L1375.1,709.0 L1377.8,708.9 L1380.4,708.9 L1383.1,708.9 L1385.8,708.8 L1388.4,708.8 L1391.1,708.8 L1393.8,708.8 L1396.5,708.7 L1399.1,708.7 L1401.8,708.7 L1404.5,708.6 L1407.1,708.6 L1409.8,708.6 L1412.4,708.6 L1415.1,708.5 L1417.8,708.5 L1420.4,708.5 L1423.1,708.5 L1425.8,708.4 L1428.4,708.4 L1431.1,708.4 L1433.7,708.4 L1436.4,708.4 L1439.1,708.3 L1441.7,708.3 L1444.4,708.3 L1447.0,708.3 L1449.7,708.2 L1452.3,708.2 L1455.0,708.2" fill="none" stroke="#00f" stroke-width="2.5"/>
<path d="M266.5,1268.6l8.0,14.0h-16.0zM289.0,1268.2l8.0,14.0h-16.0zM311.4,1267.8l8.0,14.0h-16.0zM333.9,1267.3l8.0,14.0h-16.0zM356.4,1266.8l8.0,14.0h-16.0zM378.9,1266.2l8.0,14.0h-16.0zM401.4,1265.5l8.0,14.0h-16.0zM423.9,1264.7l8.0,14.0h-16.0zM446.3,1263.8l8.0,14.0h-16.0zM467.8,1262.9l8.0,14.0h-16.0zM488.1,1261.9l8.0,14.0h-16.0zM507.3,1260.9l8.0,14.0h-16.0zM525.4,1259.9l8.0,14.0h-16.0zM542.7,1258.9l8.0,14.0h-16.0zM558.9,1257.9l8.0,14.0h-16.0zM574.3,1256.8l8.0,14.0h-16.0zM588.9,1255.8l8.0,14.0h-16.0zM602.7,1254.8l8.0,14.0h-16.0zM615.8,1253.9l8.0,14.0h-16.0zM628.2,1252.9l8.0,14.0h-16.0zM639.9,1252.0l8.0,14.0h-16.0zM650.9,1251.0l8.0,14.0h-16.0zM661.4,1250.1l8.0,14.0h-16.0zM671.3,1249.2l8.0,14.0h-16.0zM680.7,1248.2l8.0,14.0h-16.0zM689.6,1247.1l8.0,14.0h-16.0zM697.9,1246.0l8.0,14.0h-16.0zM705.9,1244.8l8.0,14.0h-16.0zM713.3,1243.5l8.0,14.0h-16.0zM720.4,1242.1l8.0,14.0h-16.0zM727.0,1240.6l8.0,14.0h-16.0zM733.3,1239.0l8.0,14.0h-16.0zM957.5,730.6l8.0,14.0h-16.0zM963.6,729.2l8.0,14.0h-16.0zM970.0,727.9l8.0,14.0h-16.0zM976.8,726.8l8.0,14.0h-16.0zM984.1,725.7l8.0,14.0h-16.0zM991.7,724.7l8.0,14.0h-16.0zM999.8,723.7l8.0,14.0h-16.0zM1008.4,722.8l8.0,14.0h-16.0zM1017.4,721.8l8.0,14.0h-16.0zM1026.9,720.8l8.0,14.0h-16.0zM1037.0,719.7l8.0,14.0h-16.0zM1047.7,718.5l8.0,14.0h-16.0zM1058.9,717.3l8.0,14.0h-16.0zM1070.8,716.0l8.0,14.0h-16.0zM1083.4,714.6l8.0,14.0h-16.0zM1096.6,713.3l8.0,14.0h-16.0zM1110.6,712.0l8.0,14.0h-16.0zM1125.5,710.7l8.0,14.0h-16.0zM1141.1,709.5l8.0,14.0h-16.0zM1157.7,708.2l8.0,14.0h-16.0zM1175.2,707.1l8.0,14.0h-16.0zM1193.7,706.0l8.0,14.0h-16.0zM1213.2,705.0l8.0,14.0h-16.0zM1233.9,704.0l8.0,14.0h-16.0zM1255.7,703.2l8.0,14.0h-16.0zM1278.2,702.5l8.0,14.0h-16.0zM1300.7,701.9l8.0,14.0h-16.0zM1323.2,701.4l8.0,14.0h-16.0zM1345.7,701.0l8.0,14.0h-16.0zM1368.2,700.7l8.0,14.0h-16.0zM1390.7,700.4l8.0,14.0h-16.0zM1413.2,700.2l8.0,14.0h-16.0zM1435.7,700.0l8.0,14.0h-16.0z" fill="#00f"/>
<path d="M714.7,1251.6 L717.4,1251.1 L720.0,1250.6 L722.7,1250.0 L725.3,1249.4 L727.9,1248.8 L730.5,1248.1 L733.1,1247.5 L735.7,1246.8 L738.3,1246.1 L740.8,1245.3 L743.3,1244.6 L745.8,1243.8 L748.3,1242.9 L750.7,1242.1 L753.2,1241.2 L755.6,1240.2 L758.0,1239.3 L760.4,1238.3 L762.7,1237.2 L765.0,1236.2 L767.3,1235.1 L769.6,1233.9 L771.8,1232.8 L774.0,1231.5 L776.2,1230.3 L778.4,1229.0 L780.5,1227.7 L782.6,1226.3 L784.6,1224.9 L786.7,1223.4 L788.7,1221.9 L790.6,1220.3 L792.6,1218.7 L794.5,1217.1 L796.3,1215.4 L798.2,1213.7 L800.0,1211.9 L801.7,1210.0 L803.4,1208.1 L805.1,1206.2 L806.8,1204.2 L808.4,1202.2 L809.9,1200.2 L811.5,1198.1 L813.0,1195.9 L814.4,1193.8 L815.8,1191.6 L817.2,1189.3 L818.5,1187.0 L819.8,1184.7 L821.0,1182.4 L822.2,1180.0 L823.4,1177.6 L824.5,1175.2 L825.6,1172.8 L826.6,1170.3 L827.6,1167.8 L828.5,1165.3 L829.4,1162.7 L830.3,1160.2 L831.1,1157.6 L831.8,1155.0 L832.5,1152.4 L833.2,1149.8 L833.8,1147.1 L834.4,1144.5 L834.9,1141.8 L835.4,1139.2 L835.8,1136.5 L836.2,1133.8 L836.6,1131.1 L837.0,1128.4 L837.3,1125.7 L837.6,1123.0 L837.9,1120.2 L838.1,1117.5 L838.4,1114.8 L838.6,1112.1 L838.8,1109.3 L838.9,1106.6 L839.1,1103.9 L839.3,1101.1 L839.4,1098.4 L839.6,1095.7 L839.7,1093.0 L839.8,1090.2 L840.0,1087.5 L840.1,1084.8 L840.3,1082.1 L840.4,1079.4 L840.6,1076.7 L840.7,1074.1 L840.9,1071.4 L841.1,1068.7 L841.3,1066.1 L841.5,1063.4 L841.7,1060.7 L841.8,1058.1 L842.0,1055.5 L842.3,1052.8 L842.5,1050.2 L842.7,1047.6 L842.9,1044.9 L843.1,1042.3 L843.3,1039.7 L843.5,1037.1 L843.8,1034.5 L844.0,1031.9 L844.2,1029.3 L844.4,1026.6 L844.7,1024.0 L844.9,1021.4 L845.1,1018.8 L845.3,1016.2 L845.6,1013.6 L845.8,1011.0 L846.0,1008.4 L846.2,1005.8 L846.5,1003.2 L846.7,1000.6 L846.9,998.0 L847.1,995.4 L847.3,992.8 L847.6,990.2 L847.8,987.6 L848.0,984.9 L848.2,982.3 L848.4,979.7 L848.6,977.1 L848.8,974.4 L849.0,971.8 L849.1,969.2 L849.3,966.5 L849.5,963.9 L849.7,961.2 L849.8,958.6 L850.0,955.9 L850.1,953.2 L850.3,950.5 L850.4,947.9 L850.5,945.2 L850.7,942.5 L850.8,939.8 L850.9,937.1 L851.0,934.3 L851.1,931.6 L851.2,928.9 L851.3,926.2 L851.4,923.5 L851.6,920.7 L851.7,918.0 L851.8,915.3 L851.9,912.5 L852.0,909.8 L852.2,907.1 L852.3,904.3 L852.5,901.6 L852.7,898.9 L852.8,896.1 L853.0,893.4 L853.2,890.7 L853.4,888.0 L853.7,885.2 L853.9,882.5 L854.2,879.8 L854.5,877.1 L854.8,874.4 L855.1,871.7 L855.4,869.0 L855.8,866.4 L856.2,863.7 L856.6,861.0 L857.0,858.4 L857.5,855.7 L858.0,853.1 L858.5,850.5 L859.0,847.9 L859.6,845.3 L860.2,842.7 L860.8,840.1 L861.5,837.5 L862.2,835.0 L863.0,832.4 L863.7,829.9 L864.5,827.4 L865.4,824.9 L866.3,822.4 L867.2,819.9 L868.2,817.5 L869.2,815.0 L870.2,812.6 L871.3,810.2 L872.5,807.9 L873.6,805.5 L874.8,803.2 L876.1,800.9 L877.4,798.6 L878.7,796.3 L880.1,794.1 L881.5,791.9 L882.9,789.7 L884.4,787.6 L885.9,785.5 L887.5,783.4 L889.1,781.3 L890.7,779.3 L892.3,777.3 L894.1,775.4 L895.8,773.5 L897.6,771.6 L899.4,769.8 L901.2,768.0 L903.1,766.3 L905.1,764.6 L907.0,762.9 L909.0,761.3 L911.1,759.8 L913.1,758.2 L915.2,756.8 L917.4,755.3 L919.5,754.0 L921.8,752.7 L924.0,751.4 L926.3,750.2 L928.6,749.0 L930.9,747.9 L933.3,746.8 L935.7,745.8 L938.2,744.9 L940.6,744.0 L943.1,743.1 L945.7,742.3 L948.2,741.5 L950.8,740.7 L953.4,740.0 L956.0,739.3 L958.6,738.7 L961.3,738.1 L963.9,737.5 L966.6,737.0 L969.3,736.5 L972.0,736.0 L974.7,735.5 L977.4,735.1 L980.2,734.6" fill="none" stroke="#00f" stroke-width="15.0" stroke-linecap="round" stroke-linejoin="round"/>
</g>
<rect x="243.2" y="679.0" width="1210.0" height="630.8" fill="none" stroke="#000" stroke-width="6.5"/>
<line x1="224" y1="809.2" x2="243.2" y2="809.2" stroke="#000" stroke-width="5"/>
<text x="215.5" y="819.0" font-family="&quot;Liberation Sans&quot;, sans-serif" font-size="50.0" font-weight="bold" font-style="normal" text-anchor="end" >50</text>
<line x1="224" y1="994.2" x2="243.2" y2="994.2" stroke="#000" stroke-width="5"/>
<text x="215.5" y="1004.0" font-family="&quot;Liberation Sans&quot;, sans-serif" font-size="50.0" font-weight="bold" font-style="normal" text-anchor="end" >0</text>
<line x1="224" y1="1179.2" x2="243.2" y2="1179.2" stroke="#000" stroke-width="5"/>
<text x="215.5" y="1189.0" font-family="&quot;Liberation Sans&quot;, sans-serif" font-size="50.0" font-weight="bold" font-style="normal" text-anchor="end" >-50</text>
<line x1="457.7" y1="1309.8" x2="457.7" y2="1290.8" stroke="#000" stroke-width="5"/>
<line x1="847.5" y1="1309.8" x2="847.5" y2="1290.8" stroke="#000" stroke-width="5"/>
<line x1="1237.3" y1="1309.8" x2="1237.3" y2="1290.8" stroke="#000" stroke-width="5"/>
<text x="252.3" y="721.0" font-family="&quot;Liberation Sans&quot;, sans-serif" font-size="55.0" font-weight="bold" font-style="normal" text-anchor="start" >(b)</text>
<text x="724.6" y="754.2" font-family="&quot;Liberation Sans&quot;, sans-serif" font-size="60.0" font-weight="normal" font-style="normal" text-anchor="start" stroke="#000" stroke-width="1.3">S2</text>
<rect x="992.7" y="798.0" width="438.8" height="357.7" fill="#fff"/>
<clipPath id="clipi1"><rect x="992.7" y="798.0" width="438.8" height="357.7"/></clipPath>
<g clip-path="url(#clipi1)" fill="none" stroke-linejoin="round" stroke-linecap="round">
<path d="M990.0,1124.0 L992.6,1123.1 L995.2,1122.2 L997.9,1121.3 L1000.5,1120.4 L1003.2,1119.5 L1005.8,1118.6 L1008.5,1117.7 L1011.2,1116.8 L1013.9,1115.9 L1016.6,1115.0 L1019.3,1114.1 L1022.0,1113.1 L1024.7,1112.2 L1027.4,1111.3 L1030.1,1110.3 L1032.8,1109.3 L1035.5,1108.4 L1038.2,1107.4 L1040.9,1106.4 L1043.6,1105.3 L1046.3,1104.3 L1048.9,1103.2 L1051.6,1102.1 L1054.2,1101.0 L1056.8,1099.9 L1059.4,1098.8 L1062.0,1097.6 L1064.6,1096.4 L1067.2,1095.2 L1069.7,1093.9 L1072.2,1092.7 L1074.7,1091.4 L1077.2,1090.0 L1079.6,1088.7 L1082.0,1087.3 L1084.4,1085.9 L1086.8,1084.4 L1089.1,1082.9 L1091.4,1081.4 L1093.7,1079.8 L1095.9,1078.2 L1098.1,1076.5 L1100.3,1074.8 L1102.4,1073.1 L1104.6,1071.4 L1106.6,1069.6 L1108.7,1067.7 L1110.7,1065.9 L1112.7,1064.0 L1114.7,1062.1 L1116.6,1060.1 L1118.5,1058.1 L1120.4,1056.1 L1122.3,1054.1 L1124.1,1052.0 L1125.9,1049.9 L1127.8,1047.8 L1129.5,1045.7 L1131.3,1043.5 L1133.0,1041.3 L1134.8,1039.1 L1136.5,1036.9 L1138.2,1034.6 L1139.9,1032.4 L1141.5,1030.1 L1143.2,1027.8 L1144.9,1025.5 L1146.5,1023.2 L1148.1,1020.9 L1149.7,1018.5 L1151.3,1016.2 L1152.9,1013.8 L1154.5,1011.4 L1156.1,1009.0 L1157.7,1006.6 L1159.3,1004.3 L1160.9,1001.9 L1162.5,999.5 L1164.0,997.1 L1165.6,994.6 L1167.2,992.2 L1168.8,989.8 L1170.3,987.4 L1171.9,985.0 L1173.5,982.6 L1175.1,980.2 L1176.7,977.8 L1178.3,975.4 L1179.9,973.1 L1181.6,970.7 L1183.2,968.3 L1184.9,966.0 L1186.5,963.6 L1188.2,961.3 L1189.9,959.0 L1191.6,956.7 L1193.3,954.4 L1195.0,952.1 L1196.7,949.9 L1198.5,947.6 L1200.3,945.4 L1202.1,943.2 L1203.9,941.0 L1205.7,938.8 L1207.5,936.7 L1209.4,934.5 L1211.3,932.4 L1213.2,930.3 L1215.1,928.2 L1217.0,926.1 L1218.9,924.1 L1220.9,922.0 L1222.8,920.0 L1224.8,918.0 L1226.8,916.0 L1228.8,914.0 L1230.8,912.1 L1232.8,910.1 L1234.9,908.2 L1237.0,906.3 L1239.0,904.4 L1241.1,902.6 L1243.2,900.7 L1245.3,898.9 L1247.5,897.1 L1249.6,895.3 L1251.8,893.5 L1253.9,891.7 L1256.1,890.0 L1258.3,888.2 L1260.5,886.5 L1262.8,884.8 L1265.0,883.2 L1267.3,881.5 L1269.5,879.9 L1271.8,878.3 L1274.1,876.7 L1276.4,875.1 L1278.7,873.5 L1281.0,872.0 L1283.3,870.5 L1285.7,869.0 L1288.1,867.5 L1290.4,866.0 L1292.8,864.6 L1295.2,863.1 L1297.6,861.7 L1300.0,860.3 L1302.5,859.0 L1304.9,857.6 L1307.3,856.3 L1309.8,855.0 L1312.3,853.7 L1314.8,852.4 L1317.3,851.1 L1319.8,849.9 L1322.3,848.7 L1324.8,847.5 L1327.3,846.3 L1329.9,845.2 L1332.4,844.0 L1335.0,842.9 L1337.6,841.8 L1340.2,840.7 L1342.8,839.7 L1345.4,838.6 L1348.0,837.6 L1350.6,836.6 L1353.2,835.7 L1355.9,834.7 L1358.5,833.8 L1361.2,832.9 L1363.9,832.0 L1366.5,831.1 L1369.2,830.3 L1371.9,829.4 L1374.6,828.6 L1377.3,827.8 L1380.1,827.1 L1382.8,826.3 L1385.5,825.6 L1388.3,824.9 L1391.0,824.2 L1393.8,823.6 L1396.5,822.9 L1399.3,822.3 L1402.1,821.7 L1404.9,821.2 L1407.7,820.6 L1410.5,820.1 L1413.3,819.6 L1416.1,819.1 L1419.0,818.6 L1421.8,818.2 L1424.6,817.8 L1427.5,817.4 L1430.3,817.0 L1433.2,816.6 L1436.0,816.3" stroke="#000" stroke-width="5.5"/>
<path d="M990.0,1140.5 L992.7,1139.8 L995.4,1139.2 L998.1,1138.5 L1000.9,1137.8 L1003.6,1137.1 L1006.3,1136.5 L1009.1,1135.8 L1011.8,1135.1 L1014.6,1134.3 L1017.3,1133.6 L1020.1,1132.9 L1022.8,1132.1 L1025.5,1131.4 L1028.3,1130.6 L1031.0,1129.8 L1033.8,1129.0 L1036.5,1128.2 L1039.3,1127.4 L1042.0,1126.6 L1044.7,1125.7 L1047.5,1124.9 L1050.2,1124.0 L1052.9,1123.1 L1055.6,1122.2 L1058.3,1121.3 L1061.0,1120.4 L1063.7,1119.5 L1066.4,1118.5 L1069.1,1117.5 L1071.8,1116.5 L1074.4,1115.5 L1077.1,1114.5 L1079.7,1113.4 L1082.4,1112.4 L1085.0,1111.3 L1087.6,1110.2 L1090.2,1109.1 L1092.8,1107.9 L1095.3,1106.8 L1097.9,1105.6 L1100.4,1104.4 L1103.0,1103.2 L1105.5,1101.9 L1108.0,1100.6 L1110.5,1099.3 L1112.9,1098.0 L1115.4,1096.7 L1117.8,1095.3 L1120.2,1094.0 L1122.6,1092.6 L1125.0,1091.1 L1127.4,1089.7 L1129.7,1088.2 L1132.0,1086.7 L1134.4,1085.2 L1136.7,1083.7 L1139.0,1082.2 L1141.2,1080.6 L1143.5,1079.0 L1145.8,1077.4 L1148.0,1075.8 L1150.2,1074.1 L1152.4,1072.5 L1154.6,1070.8 L1156.8,1069.1 L1158.9,1067.4 L1161.1,1065.6 L1163.2,1063.9 L1165.4,1062.1 L1167.5,1060.3 L1169.6,1058.5 L1171.7,1056.7 L1173.7,1054.8 L1175.8,1053.0 L1177.9,1051.1 L1179.9,1049.2 L1181.9,1047.3 L1183.9,1045.4 L1186.0,1043.5 L1188.0,1041.6 L1189.9,1039.6 L1191.9,1037.6 L1193.9,1035.7 L1195.8,1033.7 L1197.8,1031.6 L1199.7,1029.6 L1201.7,1027.6 L1203.6,1025.5 L1205.5,1023.5 L1207.4,1021.4 L1209.3,1019.3 L1211.2,1017.2 L1213.0,1015.1 L1214.9,1013.0 L1216.8,1010.9 L1218.6,1008.7 L1220.5,1006.6 L1222.3,1004.4 L1224.1,1002.3 L1225.9,1000.1 L1227.8,997.9 L1229.6,995.7 L1231.4,993.5 L1233.2,991.3 L1234.9,989.1 L1236.7,986.8 L1238.5,984.6 L1240.3,982.4 L1242.0,980.1 L1243.8,977.9 L1245.5,975.6 L1247.3,973.3 L1249.0,971.1 L1250.8,968.8 L1252.5,966.5 L1254.3,964.2 L1256.0,961.9 L1257.7,959.6 L1259.5,957.4 L1261.2,955.1 L1262.9,952.8 L1264.7,950.5 L1266.4,948.2 L1268.1,945.9 L1269.9,943.6 L1271.6,941.4 L1273.3,939.1 L1275.1,936.8 L1276.8,934.6 L1278.6,932.3 L1280.3,930.1 L1282.1,927.8 L1283.9,925.6 L1285.6,923.4 L1287.4,921.2 L1289.2,919.0 L1291.0,916.8 L1292.8,914.6 L1294.6,912.4 L1296.4,910.3 L1298.2,908.1 L1300.1,906.0 L1301.9,903.9 L1303.8,901.8 L1305.7,899.7 L1307.5,897.7 L1309.4,895.6 L1311.3,893.6 L1313.2,891.6 L1315.2,889.6 L1317.1,887.7 L1319.1,885.7 L1321.1,883.8 L1323.0,881.9 L1325.1,880.0 L1327.1,878.2 L1329.1,876.4 L1331.2,874.6 L1333.2,872.8 L1335.3,871.1 L1337.4,869.3 L1339.6,867.6 L1341.7,866.0 L1343.9,864.3 L1346.1,862.7 L1348.3,861.2 L1350.5,859.6 L1352.8,858.1 L1355.1,856.6 L1357.4,855.2 L1359.7,853.8 L1362.0,852.4 L1364.4,851.1 L1366.8,849.8 L1369.2,848.5 L1371.7,847.3 L1374.1,846.1 L1376.6,844.9 L1379.2,843.8 L1381.7,842.7 L1384.3,841.7 L1386.9,840.7 L1389.5,839.8 L1392.2,838.9 L1394.9,838.0 L1397.6,837.2 L1400.4,836.4 L1403.2,835.7 L1406.0,835.0 L1408.9,834.3 L1411.8,833.8 L1414.7,833.2 L1417.6,832.7 L1420.6,832.3 L1423.7,831.9 L1426.7,831.5 L1429.8,831.3 L1432.9,831.0 L1436.1,830.8" stroke="#000" stroke-width="5.5"/>
<path d="M990.0,1137.5 L992.2,1136.5 L994.4,1135.6 L996.7,1134.7 L998.9,1133.8 L1001.1,1132.9 L1003.4,1132.0 L1005.7,1131.1 L1007.9,1130.1 L1010.2,1129.2 L1012.4,1128.3 L1014.7,1127.3 L1017.0,1126.4 L1019.2,1125.4 L1021.5,1124.4 L1023.8,1123.4 L1026.0,1122.5 L1028.3,1121.5 L1030.6,1120.5 L1032.8,1119.4 L1035.1,1118.4 L1037.3,1117.4 L1039.6,1116.3 L1042.2,1115.3 L1044.9,1114.2 L1047.6,1113.1 L1050.3,1112.0 L1052.9,1110.9 L1055.6,1109.7 L1058.2,1108.6 L1060.9,1107.4 L1063.5,1106.2 L1066.1,1105.0 L1068.7,1103.8 L1071.3,1102.5 L1073.9,1101.3 L1076.4,1100.0 L1079.0,1098.7 L1081.5,1097.4 L1084.0,1096.1 L1086.5,1094.7 L1089.0,1093.3 L1091.5,1091.9 L1093.9,1090.5 L1096.3,1089.0 L1098.7,1087.5 L1101.1,1086.0 L1103.5,1084.5 L1105.8,1082.9 L1108.2,1081.4 L1110.4,1079.8 L1112.7,1078.1 L1115.0,1076.5 L1117.2,1074.8 L1119.4,1073.1 L1121.6,1071.3 L1123.7,1069.6 L1125.9,1067.8 L1128.0,1066.0 L1130.1,1064.1 L1132.2,1062.3 L1134.2,1060.4 L1136.3,1058.5 L1138.3,1056.6 L1140.3,1054.6 L1142.3,1052.6 L1144.3,1050.7 L1146.2,1048.7 L1148.2,1046.6 L1150.1,1044.6 L1152.0,1042.5 L1153.9,1040.5 L1155.8,1038.4 L1157.7,1036.3 L1159.5,1034.1 L1161.3,1032.0 L1163.2,1029.8 L1165.0,1027.7 L1166.8,1025.5 L1168.6,1023.3 L1170.4,1021.1 L1172.1,1018.9 L1173.9,1016.6 L1175.7,1014.4 L1177.4,1012.1 L1179.2,1009.9 L1180.9,1007.6 L1182.6,1005.3 L1184.3,1003.0 L1186.0,1000.7 L1187.7,998.4 L1189.4,996.1 L1191.1,993.8 L1192.8,991.5 L1194.5,989.2 L1196.2,986.8 L1197.9,984.5 L1199.5,982.1 L1201.2,979.8 L1202.9,977.5 L1204.5,975.1 L1206.2,972.7 L1207.9,970.4 L1209.5,968.0 L1211.2,965.7 L1212.9,963.3 L1214.6,961.0 L1216.2,958.6 L1217.9,956.3 L1219.6,953.9 L1221.3,951.6 L1222.9,949.3 L1224.6,946.9 L1226.3,944.6 L1228.0,942.3 L1229.7,940.0 L1231.4,937.7 L1233.2,935.3 L1234.9,933.1 L1236.6,930.8 L1238.3,928.5 L1240.1,926.2 L1241.8,924.0 L1243.6,921.7 L1245.4,919.5 L1247.2,917.3 L1249.0,915.1 L1250.8,912.9 L1252.6,910.7 L1254.4,908.5 L1256.3,906.4 L1258.1,904.2 L1260.0,902.1 L1261.9,900.0 L1263.8,897.9 L1265.7,895.8 L1267.6,893.8 L1269.5,891.7 L1271.5,889.7 L1273.5,887.7 L1275.5,885.7 L1277.5,883.8 L1279.5,881.8 L1281.6,879.9 L1283.6,878.0 L1285.7,876.2 L1287.8,874.3 L1289.9,872.5 L1292.1,870.7 L1294.2,869.0 L1296.4,867.2 L1298.6,865.5 L1300.9,863.8 L1303.1,862.1 L1305.4,860.5 L1307.7,858.9 L1310.0,857.3 L1312.4,855.8 L1314.8,854.3 L1317.2,852.8 L1319.6,851.3 L1322.0,849.9 L1324.5,848.5 L1327.0,847.2 L1329.5,845.8 L1332.0,844.5 L1334.6,843.3 L1337.1,842.0 L1339.7,840.8 L1342.3,839.6 L1344.9,838.5 L1347.6,837.4 L1350.2,836.3 L1352.9,835.3 L1355.6,834.3 L1358.3,833.3 L1361.0,832.3 L1363.7,831.4 L1366.5,830.5 L1369.8,829.7 L1373.0,828.9 L1376.2,828.1 L1379.5,827.3 L1382.7,826.6 L1386.0,826.0 L1389.3,825.3 L1392.6,824.7 L1395.9,824.1 L1399.2,823.6 L1402.5,823.1 L1405.9,822.6 L1409.2,822.2 L1412.5,821.8 L1415.9,821.4 L1419.2,821.1 L1422.6,820.8 L1426.0,820.5 L1429.3,820.3 L1432.7,820.1 L1436.0,820.0" stroke="#f00" stroke-width="6.5"/>
<path d="M990.0,1137.5 L993.1,1136.5 L996.2,1135.6 L999.3,1134.7 L1002.5,1133.8 L1005.6,1132.9 L1008.8,1132.0 L1011.9,1131.1 L1015.1,1130.1 L1018.3,1129.2 L1021.4,1128.3 L1024.6,1127.3 L1027.8,1126.4 L1031.0,1125.4 L1034.1,1124.4 L1037.3,1123.4 L1040.5,1122.5 L1043.7,1121.5 L1046.8,1120.5 L1050.0,1119.4 L1053.1,1118.4 L1056.3,1117.4 L1059.5,1116.3 L1062.2,1115.3 L1064.9,1114.2 L1067.6,1113.1 L1070.3,1112.0 L1072.9,1110.9 L1075.6,1109.7 L1078.2,1108.6 L1080.9,1107.4 L1083.5,1106.2 L1086.1,1105.0 L1088.7,1103.8 L1091.3,1102.5 L1093.9,1101.3 L1096.4,1100.0 L1099.0,1098.7 L1101.5,1097.4 L1104.0,1096.1 L1106.5,1094.7 L1109.0,1093.3 L1111.5,1091.9 L1113.9,1090.5 L1116.3,1089.0 L1118.7,1087.5 L1121.1,1086.0 L1123.5,1084.5 L1125.8,1082.9 L1128.2,1081.4 L1130.4,1079.8 L1132.7,1078.1 L1135.0,1076.5 L1137.2,1074.8 L1139.4,1073.1 L1141.6,1071.3 L1143.7,1069.6 L1145.9,1067.8 L1148.0,1066.0 L1150.1,1064.1 L1152.2,1062.3 L1154.2,1060.4 L1156.3,1058.5 L1158.3,1056.6 L1160.3,1054.6 L1162.3,1052.6 L1164.3,1050.7 L1166.2,1048.7 L1168.2,1046.6 L1170.1,1044.6 L1172.0,1042.5 L1173.9,1040.5 L1175.8,1038.4 L1177.7,1036.3 L1179.5,1034.1 L1181.3,1032.0 L1183.2,1029.8 L1185.0,1027.7 L1186.8,1025.5 L1188.6,1023.3 L1190.4,1021.1 L1192.1,1018.9 L1193.9,1016.6 L1195.7,1014.4 L1197.4,1012.1 L1199.2,1009.9 L1200.9,1007.6 L1202.6,1005.3 L1204.3,1003.0 L1206.0,1000.7 L1207.7,998.4 L1209.4,996.1 L1211.1,993.8 L1212.8,991.5 L1214.5,989.2 L1216.2,986.8 L1217.9,984.5 L1219.5,982.1 L1221.2,979.8 L1222.9,977.5 L1224.5,975.1 L1226.2,972.7 L1227.9,970.4 L1229.5,968.0 L1231.2,965.7 L1232.9,963.3 L1234.6,961.0 L1236.2,958.6 L1237.9,956.3 L1239.6,953.9 L1241.3,951.6 L1242.9,949.3 L1244.6,946.9 L1246.3,944.6 L1248.0,942.3 L1249.7,940.0 L1251.4,937.7 L1253.2,935.3 L1254.9,933.1 L1256.6,930.8 L1258.3,928.5 L1260.1,926.2 L1261.8,924.0 L1263.6,921.7 L1265.4,919.5 L1267.2,917.3 L1269.0,915.1 L1270.8,912.9 L1272.6,910.7 L1274.4,908.5 L1276.3,906.4 L1278.1,904.2 L1280.0,902.1 L1281.9,900.0 L1283.8,897.9 L1285.7,895.8 L1287.6,893.8 L1289.5,891.7 L1291.5,889.7 L1293.5,887.7 L1295.5,885.7 L1297.5,883.8 L1299.5,881.8 L1301.6,879.9 L1303.6,878.0 L1305.7,876.2 L1307.8,874.3 L1309.9,872.5 L1312.1,870.7 L1314.2,869.0 L1316.4,867.2 L1318.6,865.5 L1320.9,863.8 L1323.1,862.1 L1325.4,860.5 L1327.7,858.9 L1330.0,857.3 L1332.4,855.8 L1334.8,854.3 L1337.2,852.8 L1339.6,851.3 L1342.0,849.9 L1344.5,848.5 L1347.0,847.2 L1349.5,845.8 L1352.0,844.5 L1354.6,843.3 L1357.1,842.0 L1359.7,840.8 L1362.3,839.6 L1364.9,838.5 L1367.6,837.4 L1370.2,836.3 L1372.9,835.3 L1375.6,834.3 L1378.3,833.3 L1381.0,832.3 L1383.7,831.4 L1386.4,830.5 L1388.7,829.7 L1391.0,828.9 L1393.3,828.1 L1395.6,827.3 L1398.0,826.6 L1400.3,826.0 L1402.7,825.3 L1405.0,824.7 L1407.4,824.1 L1409.7,823.6 L1412.1,823.1 L1414.5,822.6 L1416.9,822.2 L1419.3,821.8 L1421.6,821.4 L1424.0,821.1 L1426.4,820.8 L1428.8,820.5 L1431.2,820.3 L1433.6,820.1 L1436.0,820.0" stroke="#f00" stroke-width="6.5"/>
<path d="M990.0,1125.3 L992.7,1124.8 L995.4,1124.4 L998.1,1124.0 L1000.8,1123.5 L1003.5,1123.0 L1006.2,1122.5 L1008.9,1122.0 L1011.6,1121.5 L1014.3,1120.9 L1017.0,1120.4 L1019.8,1119.8 L1022.5,1119.2 L1025.2,1118.5 L1027.9,1117.9 L1030.6,1117.2 L1033.3,1116.6 L1036.0,1115.9 L1038.7,1115.1 L1041.4,1114.4 L1044.1,1113.6 L1046.8,1112.9 L1049.5,1112.0 L1052.2,1111.2 L1055.0,1110.4 L1057.7,1109.5 L1060.4,1108.6 L1063.1,1107.7 L1065.8,1106.7 L1068.4,1105.7 L1071.1,1104.8 L1073.8,1103.7 L1076.4,1102.7 L1079.0,1101.6 L1081.6,1100.5 L1084.2,1099.4 L1086.8,1098.2 L1089.3,1097.1 L1091.9,1095.9 L1094.4,1094.6 L1096.9,1093.4 L1099.4,1092.1 L1101.8,1090.8 L1104.3,1089.4 L1106.7,1088.0 L1109.1,1086.6 L1111.5,1085.2 L1113.8,1083.7 L1116.1,1082.2 L1118.4,1080.7 L1120.7,1079.1 L1123.0,1077.5 L1125.2,1075.9 L1127.4,1074.3 L1129.6,1072.6 L1131.7,1070.9 L1133.9,1069.1 L1136.0,1067.4 L1138.1,1065.6 L1140.1,1063.7 L1142.2,1061.9 L1144.2,1060.0 L1146.2,1058.1 L1148.2,1056.2 L1150.1,1054.3 L1152.1,1052.3 L1154.0,1050.3 L1155.9,1048.3 L1157.8,1046.3 L1159.7,1044.3 L1161.6,1042.2 L1163.4,1040.1 L1165.3,1038.0 L1167.1,1035.9 L1168.9,1033.8 L1170.7,1031.6 L1172.5,1029.4 L1174.2,1027.3 L1176.0,1025.1 L1177.7,1022.9 L1179.5,1020.7 L1181.2,1018.4 L1182.9,1016.2 L1184.6,1013.9 L1186.4,1011.7 L1188.0,1009.4 L1189.7,1007.1 L1191.4,1004.8 L1193.1,1002.5 L1194.8,1000.2 L1196.4,997.9 L1198.1,995.6 L1199.7,993.3 L1201.4,991.0 L1203.0,988.7 L1204.7,986.3 L1206.3,984.0 L1208.0,981.7 L1209.6,979.4 L1211.3,977.0 L1212.9,974.7 L1214.5,972.4 L1216.2,970.0 L1217.8,967.7 L1219.5,965.4 L1221.1,963.1 L1222.8,960.7 L1224.4,958.4 L1226.1,956.1 L1227.7,953.8 L1229.4,951.5 L1231.1,949.2 L1232.8,946.9 L1234.4,944.7 L1236.1,942.4 L1237.8,940.1 L1239.5,937.9 L1241.2,935.6 L1243.0,933.4 L1244.7,931.2 L1246.4,929.0 L1248.2,926.8 L1249.9,924.6 L1251.7,922.4 L1253.5,920.3 L1255.3,918.1 L1257.1,916.0 L1258.9,913.9 L1260.7,911.8 L1262.6,909.7 L1264.4,907.6 L1266.3,905.6 L1268.2,903.5 L1270.1,901.5 L1272.0,899.5 L1273.9,897.5 L1275.8,895.6 L1277.8,893.6 L1279.8,891.7 L1281.8,889.8 L1283.8,888.0 L1285.8,886.1 L1287.9,884.3 L1289.9,882.5 L1292.0,880.7 L1294.2,878.9 L1296.3,877.2 L1298.4,875.5 L1300.6,873.8 L1302.8,872.2 L1305.0,870.5 L1307.3,868.9 L1309.6,867.4 L1311.8,865.8 L1314.2,864.3 L1316.5,862.9 L1318.9,861.4 L1321.3,860.0 L1323.7,858.6 L1326.1,857.2 L1328.6,855.9 L1331.1,854.6 L1333.6,853.4 L1336.1,852.1 L1338.7,850.9 L1341.2,849.7 L1343.8,848.6 L1346.4,847.5 L1349.0,846.4 L1351.7,845.3 L1354.3,844.3 L1357.0,843.3 L1359.7,842.4 L1362.4,841.4 L1365.1,840.5 L1367.8,839.6 L1370.5,838.8 L1373.3,837.9 L1376.1,837.1 L1378.9,836.4 L1381.7,835.6 L1384.6,834.9 L1387.4,834.2 L1390.3,833.6 L1393.1,833.0 L1396.0,832.4 L1398.9,831.8 L1401.7,831.2 L1404.6,830.7 L1407.5,830.2 L1410.3,829.8 L1413.2,829.3 L1416.1,828.9 L1418.9,828.5 L1421.8,828.2 L1424.7,827.9 L1427.5,827.6 L1430.4,827.3 L1433.2,827.0 L1436.0,826.8" stroke="#00f" stroke-width="7.5"/>
<path d="M990.0,1125.3 L992.8,1124.8 L995.6,1124.4 L998.5,1124.0 L1001.3,1123.5 L1004.2,1123.0 L1007.0,1122.5 L1009.9,1122.0 L1012.7,1121.5 L1015.6,1120.9 L1018.4,1120.4 L1021.3,1119.8 L1024.1,1119.2 L1027.0,1118.5 L1029.9,1117.9 L1032.7,1117.2 L1035.5,1116.6 L1038.4,1115.9 L1041.2,1115.1 L1044.1,1114.4 L1046.9,1113.6 L1049.7,1112.9 L1052.5,1112.0 L1055.2,1111.2 L1058.0,1110.4 L1060.7,1109.5 L1063.4,1108.6 L1066.1,1107.7 L1068.8,1106.7 L1071.4,1105.7 L1074.1,1104.8 L1076.8,1103.7 L1079.4,1102.7 L1082.0,1101.6 L1084.6,1100.5 L1087.2,1099.4 L1089.8,1098.2 L1092.3,1097.1 L1094.9,1095.9 L1097.4,1094.6 L1099.9,1093.4 L1102.4,1092.1 L1104.8,1090.8 L1107.3,1089.4 L1109.7,1088.0 L1112.1,1086.6 L1114.5,1085.2 L1116.8,1083.7 L1119.1,1082.2 L1121.4,1080.7 L1123.7,1079.1 L1126.0,1077.5 L1128.2,1075.9 L1130.4,1074.3 L1132.6,1072.6 L1134.7,1070.9 L1136.9,1069.1 L1139.0,1067.4 L1141.1,1065.6 L1143.1,1063.7 L1145.2,1061.9 L1147.2,1060.0 L1149.2,1058.1 L1151.2,1056.2 L1153.1,1054.3 L1155.1,1052.3 L1157.0,1050.3 L1158.9,1048.3 L1160.8,1046.3 L1162.7,1044.3 L1164.6,1042.2 L1166.4,1040.1 L1168.3,1038.0 L1170.1,1035.9 L1171.9,1033.8 L1173.7,1031.6 L1175.5,1029.4 L1177.2,1027.3 L1179.0,1025.1 L1180.7,1022.9 L1182.5,1020.7 L1184.2,1018.4 L1185.9,1016.2 L1187.6,1013.9 L1189.4,1011.7 L1191.0,1009.4 L1192.7,1007.1 L1194.4,1004.8 L1196.1,1002.5 L1197.8,1000.2 L1199.4,997.9 L1201.1,995.6 L1202.7,993.3 L1204.4,991.0 L1206.0,988.7 L1207.7,986.3 L1209.3,984.0 L1211.0,981.7 L1212.6,979.4 L1214.3,977.0 L1215.9,974.7 L1217.5,972.4 L1219.2,970.0 L1220.8,967.7 L1222.5,965.4 L1224.1,963.1 L1225.8,960.7 L1227.4,958.4 L1229.1,956.1 L1230.7,953.8 L1232.4,951.5 L1234.1,949.2 L1235.8,946.9 L1237.4,944.7 L1239.1,942.4 L1240.8,940.1 L1242.5,937.9 L1244.2,935.6 L1246.0,933.4 L1247.7,931.2 L1249.4,929.0 L1251.2,926.8 L1252.9,924.6 L1254.7,922.4 L1256.5,920.3 L1258.3,918.1 L1260.1,916.0 L1261.9,913.9 L1263.7,911.8 L1265.6,909.7 L1267.4,907.6 L1269.3,905.6 L1271.2,903.5 L1273.1,901.5 L1275.0,899.5 L1276.9,897.5 L1278.8,895.6 L1280.8,893.6 L1282.8,891.7 L1284.8,889.8 L1286.8,888.0 L1288.8,886.1 L1290.9,884.3 L1292.9,882.5 L1295.0,880.7 L1297.2,878.9 L1299.3,877.2 L1301.4,875.5 L1303.6,873.8 L1305.8,872.2 L1308.0,870.5 L1310.3,868.9 L1312.6,867.4 L1314.8,865.8 L1317.2,864.3 L1319.5,862.9 L1321.9,861.4 L1324.3,860.0 L1326.7,858.6 L1329.1,857.2 L1331.6,855.9 L1334.1,854.6 L1336.6,853.4 L1339.1,852.1 L1341.7,850.9 L1344.2,849.7 L1346.8,848.6 L1349.4,847.5 L1352.0,846.4 L1354.7,845.3 L1357.3,844.3 L1360.0,843.3 L1362.7,842.4 L1365.4,841.4 L1368.1,840.5 L1370.8,839.6 L1373.5,838.8 L1376.3,837.9 L1379.0,837.1 L1381.7,836.4 L1384.4,835.6 L1387.1,834.9 L1389.8,834.2 L1392.5,833.6 L1395.2,833.0 L1398.0,832.4 L1400.7,831.8 L1403.4,831.2 L1406.1,830.7 L1408.9,830.2 L1411.6,829.8 L1414.3,829.3 L1417.1,828.9 L1419.8,828.5 L1422.5,828.2 L1425.2,827.9 L1427.9,827.6 L1430.6,827.3 L1433.3,827.0 L1436.0,826.8" stroke="#00f" stroke-width="7.5"/>
</g>
<rect x="992.7" y="798.0" width="438.8" height="357.7" fill="none" stroke="#000" stroke-width="4.6"/>
<line x1="976.2" y1="835.3" x2="992.7" y2="835.3" stroke="#000" stroke-width="4.2"/>
<line x1="976.2" y1="976.6" x2="992.7" y2="976.6" stroke="#000" stroke-width="4.2"/>
<line x1="976.2" y1="1117.9" x2="992.7" y2="1117.9" stroke="#000" stroke-width="4.2"/>
<text x="966.0" y="847.0" font-family="&quot;Liberation Sans&quot;, sans-serif" font-size="38.0" font-weight="bold" font-style="normal" text-anchor="end" >50</text>
<text x="966.0" y="986.0" font-family="&quot;Liberation Sans&quot;, sans-serif" font-size="38.0" font-weight="bold" font-style="normal" text-anchor="end" >0</text>
<text x="966.0" y="1127.5" font-family="&quot;Liberation Sans&quot;, sans-serif" font-size="38.0" font-weight="bold" font-style="normal" text-anchor="end" >-50</text>
<line x1="1065.2" y1="1155.7" x2="1065.2" y2="1171.2" stroke="#000" stroke-width="4.2"/>
<text x="1062.7" y="1210.5" font-family="&quot;Liberation Sans&quot;, sans-serif" font-size="37.0" font-weight="bold" font-style="normal" text-anchor="middle" >-0.1</text>
<line x1="1212.4" y1="1155.7" x2="1212.4" y2="1171.2" stroke="#000" stroke-width="4.2"/>
<text x="1211.9" y="1210.5" font-family="&quot;Liberation Sans&quot;, sans-serif" font-size="37.0" font-weight="bold" font-style="normal" text-anchor="middle" >0.0</text>
<line x1="1359.5" y1="1155.7" x2="1359.5" y2="1171.2" stroke="#000" stroke-width="4.2"/>
<text x="1359.0" y="1210.5" font-family="&quot;Liberation Sans&quot;, sans-serif" font-size="37.0" font-weight="bold" font-style="normal" text-anchor="middle" >0.1</text>
<text x="1167.0" y="1275.0" font-family="&quot;Liberation Sans&quot;, sans-serif" font-size="45.5" font-weight="normal" font-style="normal" text-anchor="start" ><tspan font-style="italic">H</tspan> (T)</text>
<text transform="translate(920.5,1088.5) rotate(-90)" font-family="&quot;Liberation Sans&quot;, sans-serif" font-size="47"><tspan font-style="italic">M</tspan> (emu/g)</text>
<clipPath id="clipm2"><rect x="243.2" y="1333.0" width="1210.0" height="630.8"/></clipPath>
<g clip-path="url(#clipm2)">
<path d="M244.0,1944.6 L246.8,1944.7 L249.6,1944.7 L252.4,1944.7 L255.2,1944.8 L258.0,1944.8 L260.8,1944.8 L263.6,1944.9 L266.3,1944.9 L269.1,1944.9 L271.9,1944.9 L274.6,1944.9 L277.4,1944.9 L280.2,1944.9 L282.9,1944.9 L285.6,1944.9 L288.4,1944.9 L291.1,1944.8 L293.9,1944.8 L296.6,1944.8 L299.3,1944.8 L302.0,1944.7 L304.8,1944.7 L307.5,1944.6 L310.2,1944.6 L312.9,1944.5 L315.6,1944.5 L318.3,1944.4 L321.0,1944.4 L323.7,1944.3 L326.4,1944.3 L329.0,1944.2 L331.7,1944.1 L334.4,1944.0 L337.1,1944.0 L339.7,1943.9 L342.4,1943.8 L345.1,1943.7 L347.7,1943.6 L350.4,1943.5 L353.1,1943.4 L355.7,1943.3 L358.4,1943.2 L361.0,1943.1 L363.7,1943.0 L366.3,1942.9 L369.0,1942.8 L371.6,1942.7 L374.2,1942.6 L376.9,1942.5 L379.5,1942.4 L382.1,1942.2 L384.8,1942.1 L387.4,1942.0 L390.0,1941.8 L392.7,1941.7 L395.3,1941.6 L397.9,1941.4 L400.5,1941.3 L403.2,1941.2 L405.8,1941.0 L408.4,1940.9 L411.0,1940.7 L413.6,1940.6 L416.2,1940.4 L418.9,1940.3 L421.5,1940.1 L424.1,1940.0 L426.7,1939.8 L429.3,1939.7 L431.9,1939.5 L434.5,1939.4 L437.2,1939.2 L439.8,1939.0 L442.4,1938.9 L445.0,1938.7 L447.6,1938.5 L450.2,1938.4 L452.8,1938.2 L455.4,1938.0 L458.0,1937.9 L460.7,1937.7 L463.3,1937.5 L465.9,1937.3 L468.5,1937.2 L471.1,1937.0 L473.7,1936.8 L476.3,1936.6 L479.0,1936.5 L481.6,1936.3 L484.2,1936.1 L486.8,1935.9 L489.4,1935.7 L492.1,1935.6 L494.7,1935.4 L497.3,1935.2 L499.9,1935.0 L502.6,1934.8 L505.2,1934.7 L507.8,1934.5 L510.4,1934.3 L513.1,1934.1 L515.7,1933.9 L518.3,1933.7 L521.0,1933.6 L523.6,1933.4 L526.3,1933.2 L528.9,1933.0 L531.6,1932.8 L534.2,1932.6 L536.9,1932.5 L539.5,1932.3 L542.2,1932.1 L544.8,1931.9 L547.5,1931.7 L550.2,1931.5 L552.8,1931.4 L555.5,1931.2 L558.2,1931.0 L560.9,1930.8 L563.5,1930.6 L566.2,1930.5 L568.9,1930.3 L571.6,1930.1 L574.3,1929.9 L577.0,1929.8 L579.7,1929.6 L582.4,1929.4 L585.1,1929.3 L587.8,1929.1 L590.5,1928.9 L593.3,1928.7 L596.0,1928.6 L598.7,1928.4 L601.4,1928.2 L604.2,1928.1 L606.9,1927.9 L609.7,1927.8 L612.4,1927.6 L615.2,1927.4 L617.9,1927.3 L620.7,1927.1 L623.5,1927.0 L626.2,1926.8 L629.0,1926.7 L631.8,1926.5 L634.6,1926.4 L637.4,1926.2 L640.2,1926.1 L643.0,1926.0 L645.8,1925.8 L648.6,1925.7 L651.4,1925.5 L654.2,1925.4 L657.1,1925.3 L659.9,1925.1 L662.7,1925.0 L665.6,1924.8 L668.4,1924.7 L671.2,1924.5 L674.1,1924.4 L676.9,1924.2 L679.7,1924.0 L682.5,1923.8 L685.4,1923.6 L688.2,1923.4 L691.0,1923.2 L693.8,1923.0 L696.6,1922.7 L699.2,1922.4 L701.6,1922.2 L704.1,1921.9 L706.5,1921.5 L708.9,1921.2 L711.3,1920.8 L713.8,1920.4 L716.2,1920.0 L718.5,1919.6 L720.9,1919.1 L723.3,1918.6 L725.6,1918.1 L727.9,1917.6 L730.3,1917.0 L732.6,1916.4 L734.8,1915.7 L737.1,1915.1 L739.3,1914.4 L741.6,1913.6 L743.8,1912.9 L746.0,1912.0 L748.1,1911.2 L750.3,1910.3 L752.4,1909.4 L754.5,1908.4 L756.6,1907.4 L758.6,1906.3 L760.7,1905.2 L762.7,1904.1 L764.6,1902.9 L766.6,1901.7 L768.5,1900.4 L770.4,1899.0 L772.3,1897.7 L774.1,1896.2 L775.9,1894.7 L777.8,1893.2 L779.8,1891.6 L781.7,1889.9 L783.6,1888.2 L785.5,1886.5 L787.3,1884.7 L789.1,1882.8 L790.8,1880.9 L792.6,1879.0 L794.2,1877.0 L795.8,1874.9 L797.4,1872.8 L799.0,1870.7 L800.5,1868.5 L801.9,1866.3 L803.3,1864.1 L804.7,1861.8 L806.0,1859.5 L807.3,1857.1 L808.5,1854.7 L809.7,1852.3 L810.8,1849.8 L811.9,1847.3 L812.9,1844.8 L813.9,1842.3 L814.8,1839.7 L815.7,1837.1 L816.5,1834.5 L817.3,1831.8 L818.1,1829.1 L818.8,1826.4 L819.4,1823.7 L820.1,1821.0 L820.7,1818.2 L821.2,1815.5 L821.8,1812.7 L822.3,1809.9 L822.8,1807.1 L823.2,1804.3 L823.6,1801.5 L824.1,1798.7 L824.5,1795.9 L824.9,1793.1 L825.2,1790.3 L825.6,1787.5 L826.0,1784.7 L826.3,1781.9 L826.6,1779.1 L827.0,1776.3 L827.3,1773.5 L827.6,1770.7 L827.9,1767.9 L828.2,1765.1 L828.5,1762.4 L828.8,1759.6 L829.0,1756.8 L829.3,1754.0 L829.5,1751.2 L829.8,1748.5 L830.0,1745.7 L830.3,1742.9 L830.5,1740.1 L830.7,1737.4 L830.9,1734.6 L831.1,1731.8 L831.3,1729.1 L831.5,1726.3 L831.7,1723.6 L831.9,1720.8 L832.1,1718.0 L832.3,1715.3 L832.4,1712.5 L832.6,1709.8 L832.8,1707.0 L832.9,1704.3 L833.1,1701.5 L833.2,1698.8 L833.4,1696.0 L833.5,1693.3 L833.7,1690.5 L833.8,1687.8 L833.9,1685.0 L834.1,1682.3 L834.2,1679.5 L834.3,1676.8 L834.5,1674.0 L834.6,1671.3 L834.7,1668.5 L834.9,1665.8 L835.0,1663.0 L835.1,1660.3 L835.2,1657.5 L835.4,1654.8 L835.5,1652.0 L835.6,1649.3 L835.7,1646.5 L835.9,1643.8 L836.0,1641.0 L836.1,1638.3 L836.2,1635.5 L836.4,1632.7 L836.5,1630.0 L836.6,1627.2 L836.8,1624.5 L836.9,1621.7 L837.0,1619.0 L837.2,1616.2 L837.3,1613.4 L837.5,1610.7 L837.6,1607.9 L837.8,1605.2 L838.0,1602.4 L838.1,1599.6 L838.3,1596.9 L838.5,1594.1 L838.7,1591.3 L838.9,1588.6 L839.1,1585.8 L839.3,1583.1 L839.5,1580.3 L839.7,1577.5 L840.0,1574.8 L840.2,1572.0 L840.5,1569.2 L840.7,1566.5 L841.0,1563.7 L841.3,1561.0 L841.6,1558.2 L841.9,1555.4 L842.2,1552.7 L842.5,1549.9 L842.8,1547.2 L843.2,1544.4 L843.6,1541.7 L843.9,1538.9 L844.3,1536.2 L844.7,1533.4 L845.1,1530.7 L845.6,1527.9 L846.0,1525.2 L846.5,1522.4 L846.9,1519.7 L847.4,1516.9 L847.9,1514.2 L848.5,1511.4 L849.0,1508.7 L849.5,1506.0 L850.1,1503.2 L850.7,1500.5 L851.3,1497.8 L851.9,1495.0 L852.6,1492.3 L853.3,1489.6 L853.9,1486.9 L854.6,1484.1 L855.4,1481.4 L856.1,1478.7 L856.9,1476.0 L857.7,1473.4 L858.5,1470.7 L859.4,1468.0 L860.3,1465.4 L861.2,1462.8 L862.1,1460.2 L863.1,1457.6 L864.1,1455.0 L865.2,1452.5 L866.2,1450.0 L867.4,1447.5 L868.5,1445.0 L869.7,1442.6 L870.9,1440.2 L872.2,1437.8 L873.5,1435.5 L874.9,1433.2 L876.3,1430.9 L877.8,1428.7 L879.3,1426.5 L880.8,1424.4 L882.4,1422.3 L884.0,1420.2 L885.7,1418.2 L887.5,1416.3 L889.2,1414.3 L891.0,1412.4 L892.9,1410.6 L894.8,1408.8 L896.7,1407.1 L898.9,1405.4 L901.2,1403.7 L903.5,1402.1 L905.8,1400.6 L908.2,1399.1 L910.6,1397.6 L913.1,1396.2 L915.6,1394.9 L918.1,1393.5 L920.7,1392.3 L923.3,1391.0 L925.9,1389.8 L928.6,1388.7 L931.3,1387.6 L934.0,1386.5 L936.8,1385.5 L939.5,1384.5 L942.4,1383.5 L945.2,1382.6 L948.0,1381.7 L950.9,1380.8 L953.8,1380.0 L956.8,1379.2 L959.7,1378.4 L962.6,1377.7 L965.6,1377.0 L968.6,1376.3 L971.6,1375.6 L974.6,1375.0 L977.7,1374.3 L980.7,1373.8 L983.7,1373.2 L986.8,1372.6 L989.9,1372.1 L992.9,1371.6 L996.0,1371.1 L998.9,1370.6 L1001.7,1370.1 L1004.4,1369.7 L1007.2,1369.2 L1009.9,1368.8 L1012.7,1368.4 L1015.4,1368.0 L1018.2,1367.6 L1020.9,1367.2 L1023.7,1366.8 L1026.4,1366.5 L1029.1,1366.1 L1031.8,1365.8 L1034.6,1365.4 L1037.3,1365.1 L1040.0,1364.8 L1042.7,1364.4 L1045.4,1364.1 L1048.1,1363.8 L1050.8,1363.5 L1053.5,1363.2 L1056.1,1362.9 L1058.8,1362.6 L1061.5,1362.4 L1064.2,1362.1 L1066.9,1361.8 L1069.5,1361.6 L1072.2,1361.3 L1074.9,1361.1 L1077.5,1360.8 L1080.2,1360.6 L1082.8,1360.4 L1085.5,1360.2 L1088.1,1359.9 L1090.8,1359.7 L1093.5,1359.5 L1096.1,1359.3 L1098.8,1359.1 L1101.4,1358.9 L1104.0,1358.7 L1106.7,1358.5 L1109.3,1358.3 L1112.0,1358.1 L1114.6,1358.0 L1117.3,1357.8 L1119.9,1357.6 L1122.6,1357.4 L1125.2,1357.3 L1127.9,1357.1 L1130.5,1357.0 L1133.1,1356.8 L1135.8,1356.6 L1138.4,1356.5 L1141.1,1356.3 L1143.7,1356.2 L1146.4,1356.0 L1149.0,1355.9 L1151.7,1355.7 L1154.3,1355.6 L1157.0,1355.4 L1159.6,1355.3 L1162.3,1355.1 L1165.0,1355.0 L1167.6,1354.8 L1170.3,1354.7 L1173.0,1354.6 L1175.6,1354.4 L1178.3,1354.3 L1180.9,1354.1 L1183.6,1354.0 L1186.3,1353.9 L1189.0,1353.7 L1191.6,1353.6 L1194.3,1353.5 L1197.0,1353.3 L1199.7,1353.2 L1202.3,1353.1 L1205.0,1353.0 L1207.7,1352.8 L1210.4,1352.7 L1213.1,1352.6 L1215.7,1352.5 L1218.4,1352.3 L1221.1,1352.2 L1223.8,1352.1 L1226.5,1352.0 L1229.2,1351.9 L1231.8,1351.8 L1234.5,1351.6 L1237.2,1351.5 L1239.9,1351.4 L1242.6,1351.3 L1245.3,1351.2 L1248.0,1351.1 L1250.7,1351.0 L1253.4,1350.9 L1256.1,1350.8 L1258.7,1350.7 L1261.4,1350.6 L1264.1,1350.5 L1266.8,1350.4 L1269.5,1350.3 L1272.2,1350.2 L1274.9,1350.1 L1277.6,1350.0 L1280.3,1349.9 L1283.0,1349.8 L1285.7,1349.7 L1288.4,1349.6 L1291.1,1349.6 L1293.8,1349.5 L1296.5,1349.4 L1299.2,1349.3 L1301.9,1349.2 L1304.6,1349.2 L1307.3,1349.1 L1310.0,1349.0 L1312.7,1348.9 L1315.4,1348.9 L1318.1,1348.8 L1320.8,1348.7 L1323.5,1348.6 L1326.2,1348.6 L1328.9,1348.5 L1331.6,1348.5 L1334.3,1348.4 L1337.0,1348.3 L1339.7,1348.3 L1342.3,1348.2 L1345.0,1348.2 L1347.7,1348.1 L1350.4,1348.0 L1353.1,1348.0 L1355.8,1347.9 L1358.5,1347.9 L1361.2,1347.9 L1363.9,1347.8 L1366.6,1347.8 L1369.3,1347.7 L1372.0,1347.7 L1374.7,1347.6 L1377.4,1347.6 L1380.1,1347.6 L1382.7,1347.5 L1385.4,1347.5 L1388.1,1347.5 L1390.8,1347.4 L1393.5,1347.4 L1396.2,1347.4 L1398.9,1347.4 L1401.5,1347.3 L1404.2,1347.3 L1406.9,1347.3 L1409.6,1347.3 L1412.3,1347.3 L1414.9,1347.3 L1417.6,1347.2 L1420.3,1347.2 L1423.0,1347.2 L1425.7,1347.2 L1428.3,1347.2 L1431.0,1347.2 L1433.7,1347.2 L1436.3,1347.2 L1439.0,1347.2 L1441.7,1347.2 L1444.3,1347.2 L1447.0,1347.2 L1449.7,1347.2 L1452.3,1347.3 L1455.0,1347.3" fill="none" stroke="#000" stroke-width="1.5"/>
<path d="M262.7,1941.1h7.5v7.5h-7.5zM285.2,1941.1h7.5v7.5h-7.5zM307.7,1940.8h7.5v7.5h-7.5zM330.2,1940.3h7.5v7.5h-7.5zM352.7,1939.6h7.5v7.5h-7.5zM375.2,1938.6h7.5v7.5h-7.5zM397.6,1937.5h7.5v7.5h-7.5zM420.1,1936.3h7.5v7.5h-7.5zM442.5,1934.9h7.5v7.5h-7.5zM463.9,1933.5h7.5v7.5h-7.5zM484.2,1932.1h7.5v7.5h-7.5zM503.4,1930.8h7.5v7.5h-7.5zM521.6,1929.5h7.5v7.5h-7.5zM538.8,1928.3h7.5v7.5h-7.5zM555.1,1927.2h7.5v7.5h-7.5zM570.5,1926.2h7.5v7.5h-7.5zM585.1,1925.3h7.5v7.5h-7.5zM598.9,1924.4h7.5v7.5h-7.5zM612.0,1923.7h7.5v7.5h-7.5zM624.3,1923.0h7.5v7.5h-7.5zM636.1,1922.4h7.5v7.5h-7.5zM647.2,1921.8h7.5v7.5h-7.5zM658.2,1921.3h7.5v7.5h-7.5zM669.2,1920.7h7.5v7.5h-7.5zM680.2,1920.0h7.5v7.5h-7.5zM691.1,1919.1h7.5v7.5h-7.5zM702.0,1917.9h7.5v7.5h-7.5zM712.9,1916.2h7.5v7.5h-7.5zM723.7,1913.9h7.5v7.5h-7.5zM734.3,1911.0h7.5v7.5h-7.5zM744.6,1907.3h7.5v7.5h-7.5zM754.6,1902.7h7.5v7.5h-7.5zM764.1,1897.1h7.5v7.5h-7.5zM772.8,1890.4h7.5v7.5h-7.5zM781.2,1883.3h7.5v7.5h-7.5zM788.7,1875.3h7.5v7.5h-7.5zM795.5,1866.6h7.5v7.5h-7.5zM801.4,1857.3h7.5v7.5h-7.5zM806.4,1847.6h7.5v7.5h-7.5zM810.6,1837.4h7.5v7.5h-7.5zM813.9,1826.9h7.5v7.5h-7.5zM816.5,1816.2h7.5v7.5h-7.5zM818.6,1805.4h7.5v7.5h-7.5zM820.4,1794.6h7.5v7.5h-7.5zM821.9,1783.7h7.5v7.5h-7.5zM823.2,1772.7h7.5v7.5h-7.5zM824.4,1761.8h7.5v7.5h-7.5zM825.5,1750.9h7.5v7.5h-7.5zM826.4,1739.9h7.5v7.5h-7.5zM827.3,1728.9h7.5v7.5h-7.5zM828.1,1718.0h7.5v7.5h-7.5zM828.8,1707.0h7.5v7.5h-7.5zM829.4,1696.0h7.5v7.5h-7.5zM830.0,1685.0h7.5v7.5h-7.5zM830.5,1674.0h7.5v7.5h-7.5zM831.1,1663.0h7.5v7.5h-7.5zM831.6,1652.1h7.5v7.5h-7.5zM832.1,1641.1h7.5v7.5h-7.5zM832.6,1630.1h7.5v7.5h-7.5zM833.1,1619.1h7.5v7.5h-7.5zM833.7,1608.1h7.5v7.5h-7.5zM834.3,1597.1h7.5v7.5h-7.5zM835.0,1586.2h7.5v7.5h-7.5zM835.9,1575.2h7.5v7.5h-7.5zM836.8,1564.2h7.5v7.5h-7.5zM838.0,1553.3h7.5v7.5h-7.5zM839.2,1542.4h7.5v7.5h-7.5zM840.7,1531.5h7.5v7.5h-7.5zM842.4,1520.6h7.5v7.5h-7.5zM844.3,1509.8h7.5v7.5h-7.5zM846.5,1499.0h7.5v7.5h-7.5zM848.9,1488.2h7.5v7.5h-7.5zM851.6,1477.6h7.5v7.5h-7.5zM854.7,1467.0h7.5v7.5h-7.5zM858.3,1456.6h7.5v7.5h-7.5zM862.4,1446.4h7.5v7.5h-7.5zM867.2,1436.5h7.5v7.5h-7.5zM872.7,1427.0h7.5v7.5h-7.5zM879.1,1418.0h7.5v7.5h-7.5zM886.3,1409.7h7.5v7.5h-7.5zM894.3,1402.3h7.5v7.5h-7.5zM903.4,1396.0h7.5v7.5h-7.5zM912.9,1390.5h7.5v7.5h-7.5zM922.8,1385.8h7.5v7.5h-7.5zM933.0,1381.7h7.5v7.5h-7.5zM943.5,1378.2h7.5v7.5h-7.5zM954.0,1375.2h7.5v7.5h-7.5zM964.7,1372.5h7.5v7.5h-7.5zM975.5,1370.3h7.5v7.5h-7.5zM986.3,1368.3h7.5v7.5h-7.5zM997.2,1366.5h7.5v7.5h-7.5zM1008.0,1364.8h7.5v7.5h-7.5zM1018.9,1363.2h7.5v7.5h-7.5zM1029.8,1361.8h7.5v7.5h-7.5zM1040.7,1360.5h7.5v7.5h-7.5zM1051.8,1359.2h7.5v7.5h-7.5zM1063.5,1358.0h7.5v7.5h-7.5zM1075.9,1356.9h7.5v7.5h-7.5zM1089.0,1355.8h7.5v7.5h-7.5zM1102.8,1354.8h7.5v7.5h-7.5zM1117.4,1353.8h7.5v7.5h-7.5zM1132.9,1352.8h7.5v7.5h-7.5zM1149.2,1351.9h7.5v7.5h-7.5zM1166.4,1351.0h7.5v7.5h-7.5zM1184.6,1350.0h7.5v7.5h-7.5zM1203.9,1349.1h7.5v7.5h-7.5zM1224.2,1348.2h7.5v7.5h-7.5zM1245.7,1347.3h7.5v7.5h-7.5zM1268.2,1346.4h7.5v7.5h-7.5zM1290.6,1345.7h7.5v7.5h-7.5zM1313.1,1345.1h7.5v7.5h-7.5zM1335.6,1344.5h7.5v7.5h-7.5zM1358.1,1344.1h7.5v7.5h-7.5zM1380.6,1343.8h7.5v7.5h-7.5zM1403.1,1343.6h7.5v7.5h-7.5zM1425.6,1343.5h7.5v7.5h-7.5zM1448.1,1343.5h7.5v7.5h-7.5z" fill="#000"/>
<path d="M244.0,1944.6 L246.8,1944.7 L249.6,1944.7 L252.4,1944.7 L255.2,1944.8 L258.0,1944.8 L260.8,1944.8 L263.6,1944.9 L266.3,1944.9 L269.1,1944.9 L271.9,1944.9 L274.6,1944.9 L277.4,1944.9 L280.2,1944.9 L282.9,1944.9 L285.6,1944.9 L288.4,1944.9 L291.1,1944.8 L293.9,1944.8 L296.6,1944.8 L299.3,1944.8 L302.0,1944.7 L304.8,1944.7 L307.5,1944.6 L310.2,1944.6 L312.9,1944.5 L315.6,1944.5 L318.3,1944.4 L321.0,1944.4 L323.7,1944.3 L326.4,1944.3 L329.0,1944.2 L331.7,1944.1 L334.4,1944.0 L337.1,1944.0 L339.7,1943.9 L342.4,1943.8 L345.1,1943.7 L347.7,1943.6 L350.4,1943.5 L353.1,1943.4 L355.7,1943.3 L358.4,1943.2 L361.0,1943.1 L363.7,1943.0 L366.3,1942.9 L369.0,1942.8 L371.6,1942.7 L374.2,1942.6 L376.9,1942.5 L379.5,1942.4 L382.1,1942.2 L384.8,1942.1 L387.4,1942.0 L390.0,1941.8 L392.7,1941.7 L395.3,1941.6 L397.9,1941.4 L400.5,1941.3 L403.2,1941.2 L405.8,1941.0 L408.4,1940.9 L411.0,1940.7 L413.6,1940.6 L416.2,1940.4 L418.9,1940.3 L421.5,1940.1 L424.1,1940.0 L426.7,1939.8 L429.3,1939.7 L431.9,1939.5 L434.5,1939.4 L437.2,1939.2 L439.8,1939.0 L442.4,1938.9 L445.0,1938.7 L447.6,1938.5 L450.2,1938.4 L452.8,1938.2 L455.4,1938.0 L458.0,1937.9 L460.7,1937.7 L463.3,1937.5 L465.9,1937.3 L468.5,1937.2 L471.1,1937.0 L473.7,1936.8 L476.3,1936.6 L479.0,1936.5 L481.6,1936.3 L484.2,1936.1 L486.8,1935.9 L489.4,1935.7 L492.1,1935.6 L494.7,1935.4 L497.3,1935.2 L499.9,1935.0 L502.6,1934.8 L505.2,1934.7 L507.8,1934.5 L510.4,1934.3 L513.1,1934.1 L515.7,1933.9 L518.3,1933.7 L521.0,1933.6 L523.6,1933.4 L526.3,1933.2 L528.9,1933.0 L531.6,1932.8 L534.2,1932.6 L536.9,1932.5 L539.5,1932.3 L542.2,1932.1 L544.8,1931.9 L547.5,1931.7 L550.2,1931.5 L552.8,1931.4 L555.5,1931.2 L558.2,1931.0 L560.9,1930.8 L563.5,1930.6 L566.2,1930.5 L568.9,1930.3 L571.6,1930.1 L574.3,1929.9 L577.0,1929.8 L579.7,1929.6 L582.4,1929.4 L585.1,1929.3 L587.8,1929.1 L590.5,1928.9 L593.3,1928.7 L596.0,1928.6 L598.7,1928.4 L601.4,1928.2 L604.2,1928.1 L606.9,1927.9 L609.7,1927.8 L612.4,1927.6 L615.2,1927.4 L617.9,1927.3 L620.7,1927.1 L623.5,1927.0 L626.2,1926.8 L629.0,1926.7 L631.8,1926.5 L634.6,1926.4 L637.4,1926.2 L640.2,1926.1 L643.0,1926.0 L645.8,1925.8 L648.6,1925.7 L651.4,1925.5 L654.2,1925.4 L657.1,1925.3 L659.9,1925.1 L662.7,1925.0 L665.6,1924.8 L668.4,1924.7 L671.2,1924.5 L674.1,1924.4 L676.9,1924.2 L679.7,1924.0 L682.5,1923.8 L685.4,1923.6 L688.2,1923.4 L691.0,1923.2 L693.8,1923.0 L696.6,1922.7 L699.6,1922.4 L702.7,1922.2 L705.8,1921.9 L708.9,1921.5 L711.9,1921.2 L715.0,1920.8 L718.0,1920.4 L721.1,1920.0 L724.1,1919.6 L727.1,1919.1 L730.1,1918.6 L733.0,1918.1 L736.0,1917.6 L738.9,1917.0 L741.8,1916.4 L744.7,1915.7 L747.6,1915.1 L750.4,1914.4 L753.2,1913.6 L756.0,1912.9 L758.8,1912.0 L761.5,1911.2 L764.2,1910.3 L766.9,1909.4 L769.6,1908.4 L772.2,1907.4 L774.8,1906.3 L777.4,1905.2 L779.9,1904.1 L782.4,1902.9 L784.8,1901.7 L787.3,1900.4 L789.7,1899.0 L792.0,1897.7 L794.4,1896.2 L796.6,1894.7 L798.8,1893.2 L800.8,1891.6 L802.7,1889.9 L804.6,1888.2 L806.5,1886.5 L808.3,1884.7 L810.1,1882.8 L811.8,1880.9 L813.6,1879.0 L815.2,1877.0 L816.8,1874.9 L818.4,1872.8 L820.0,1870.7 L821.5,1868.5 L822.9,1866.3 L824.3,1864.1 L825.7,1861.8 L827.0,1859.5 L828.3,1857.1 L829.5,1854.7 L830.7,1852.3 L831.8,1849.8 L832.9,1847.3 L833.9,1844.8 L834.9,1842.3 L835.8,1839.7 L836.7,1837.1 L837.5,1834.5 L838.3,1831.8 L839.1,1829.1 L839.8,1826.4 L840.4,1823.7 L841.1,1821.0 L841.7,1818.2 L842.2,1815.5 L842.8,1812.7 L843.3,1809.9 L843.8,1807.1 L844.2,1804.3 L844.6,1801.5 L845.1,1798.7 L845.5,1795.9 L845.9,1793.1 L846.2,1790.3 L846.6,1787.5 L847.0,1784.7 L847.3,1781.9 L847.6,1779.1 L848.0,1776.3 L848.3,1773.5 L848.6,1770.7 L848.9,1767.9 L849.2,1765.1 L849.5,1762.4 L849.8,1759.6 L850.0,1756.8 L850.3,1754.0 L850.5,1751.2 L850.8,1748.5 L851.0,1745.7 L851.3,1742.9 L851.5,1740.1 L851.7,1737.4 L851.9,1734.6 L852.1,1731.8 L852.3,1729.1 L852.5,1726.3 L852.7,1723.6 L852.9,1720.8 L853.1,1718.0 L853.3,1715.3 L853.4,1712.5 L853.6,1709.8 L853.8,1707.0 L853.9,1704.3 L854.1,1701.5 L854.2,1698.8 L854.4,1696.0 L854.5,1693.3 L854.7,1690.5 L854.8,1687.8 L854.9,1685.0 L855.1,1682.3 L855.2,1679.5 L855.3,1676.8 L855.5,1674.0 L855.6,1671.3 L855.7,1668.5 L855.9,1665.8 L856.0,1663.0 L856.1,1660.3 L856.2,1657.5 L856.4,1654.8 L856.5,1652.0 L856.6,1649.3 L856.7,1646.5 L856.9,1643.8 L857.0,1641.0 L857.1,1638.3 L857.2,1635.5 L857.4,1632.7 L857.5,1630.0 L857.6,1627.2 L857.8,1624.5 L857.9,1621.7 L858.0,1619.0 L858.2,1616.2 L858.3,1613.4 L858.5,1610.7 L858.6,1607.9 L858.8,1605.2 L859.0,1602.4 L859.1,1599.6 L859.3,1596.9 L859.5,1594.1 L859.7,1591.3 L859.9,1588.6 L860.1,1585.8 L860.3,1583.1 L860.5,1580.3 L860.7,1577.5 L861.0,1574.8 L861.2,1572.0 L861.5,1569.2 L861.7,1566.5 L862.0,1563.7 L862.3,1561.0 L862.6,1558.2 L862.9,1555.4 L863.2,1552.7 L863.5,1549.9 L863.8,1547.2 L864.2,1544.4 L864.6,1541.7 L864.9,1538.9 L865.3,1536.2 L865.7,1533.4 L866.1,1530.7 L866.6,1527.9 L867.0,1525.2 L867.5,1522.4 L867.9,1519.7 L868.4,1516.9 L868.9,1514.2 L869.5,1511.4 L870.0,1508.7 L870.5,1506.0 L871.1,1503.2 L871.7,1500.5 L872.3,1497.8 L872.9,1495.0 L873.6,1492.3 L874.3,1489.6 L874.9,1486.9 L875.6,1484.1 L876.4,1481.4 L877.1,1478.7 L877.9,1476.0 L878.7,1473.4 L879.5,1470.7 L880.4,1468.0 L881.3,1465.4 L882.2,1462.8 L883.1,1460.2 L884.1,1457.6 L885.1,1455.0 L886.2,1452.5 L887.2,1450.0 L888.4,1447.5 L889.5,1445.0 L890.7,1442.6 L891.9,1440.2 L893.2,1437.8 L894.5,1435.5 L895.9,1433.2 L897.3,1430.9 L898.8,1428.7 L900.3,1426.5 L901.8,1424.4 L903.4,1422.3 L905.0,1420.2 L906.7,1418.2 L908.5,1416.3 L910.2,1414.3 L912.0,1412.4 L913.9,1410.6 L915.8,1408.8 L917.7,1407.1 L919.5,1405.4 L921.3,1403.7 L923.1,1402.1 L925.0,1400.6 L926.8,1399.1 L928.8,1397.6 L930.7,1396.2 L932.7,1394.9 L934.7,1393.5 L936.7,1392.3 L938.8,1391.0 L940.9,1389.8 L943.0,1388.7 L945.1,1387.6 L947.3,1386.5 L949.5,1385.5 L951.7,1384.5 L953.9,1383.5 L956.1,1382.6 L958.4,1381.7 L960.7,1380.8 L963.0,1380.0 L965.3,1379.2 L967.6,1378.4 L969.9,1377.7 L972.3,1377.0 L974.6,1376.3 L977.0,1375.6 L979.4,1375.0 L981.8,1374.3 L984.2,1373.8 L986.6,1373.2 L989.0,1372.6 L991.5,1372.1 L993.9,1371.6 L996.3,1371.1 L998.9,1370.6 L1001.7,1370.1 L1004.4,1369.7 L1007.2,1369.2 L1009.9,1368.8 L1012.7,1368.4 L1015.4,1368.0 L1018.2,1367.6 L1020.9,1367.2 L1023.7,1366.8 L1026.4,1366.5 L1029.1,1366.1 L1031.8,1365.8 L1034.6,1365.4 L1037.3,1365.1 L1040.0,1364.8 L1042.7,1364.4 L1045.4,1364.1 L1048.1,1363.8 L1050.8,1363.5 L1053.5,1363.2 L1056.1,1362.9 L1058.8,1362.6 L1061.5,1362.4 L1064.2,1362.1 L1066.9,1361.8 L1069.5,1361.6 L1072.2,1361.3 L1074.9,1361.1 L1077.5,1360.8 L1080.2,1360.6 L1082.8,1360.4 L1085.5,1360.2 L1088.1,1359.9 L1090.8,1359.7 L1093.5,1359.5 L1096.1,1359.3 L1098.8,1359.1 L1101.4,1358.9 L1104.0,1358.7 L1106.7,1358.5 L1109.3,1358.3 L1112.0,1358.1 L1114.6,1358.0 L1117.3,1357.8 L1119.9,1357.6 L1122.6,1357.4 L1125.2,1357.3 L1127.9,1357.1 L1130.5,1357.0 L1133.1,1356.8 L1135.8,1356.6 L1138.4,1356.5 L1141.1,1356.3 L1143.7,1356.2 L1146.4,1356.0 L1149.0,1355.9 L1151.7,1355.7 L1154.3,1355.6 L1157.0,1355.4 L1159.6,1355.3 L1162.3,1355.1 L1165.0,1355.0 L1167.6,1354.8 L1170.3,1354.7 L1173.0,1354.6 L1175.6,1354.4 L1178.3,1354.3 L1180.9,1354.1 L1183.6,1354.0 L1186.3,1353.9 L1189.0,1353.7 L1191.6,1353.6 L1194.3,1353.5 L1197.0,1353.3 L1199.7,1353.2 L1202.3,1353.1 L1205.0,1353.0 L1207.7,1352.8 L1210.4,1352.7 L1213.1,1352.6 L1215.7,1352.5 L1218.4,1352.3 L1221.1,1352.2 L1223.8,1352.1 L1226.5,1352.0 L1229.2,1351.9 L1231.8,1351.8 L1234.5,1351.6 L1237.2,1351.5 L1239.9,1351.4 L1242.6,1351.3 L1245.3,1351.2 L1248.0,1351.1 L1250.7,1351.0 L1253.4,1350.9 L1256.1,1350.8 L1258.7,1350.7 L1261.4,1350.6 L1264.1,1350.5 L1266.8,1350.4 L1269.5,1350.3 L1272.2,1350.2 L1274.9,1350.1 L1277.6,1350.0 L1280.3,1349.9 L1283.0,1349.8 L1285.7,1349.7 L1288.4,1349.6 L1291.1,1349.6 L1293.8,1349.5 L1296.5,1349.4 L1299.2,1349.3 L1301.9,1349.2 L1304.6,1349.2 L1307.3,1349.1 L1310.0,1349.0 L1312.7,1348.9 L1315.4,1348.9 L1318.1,1348.8 L1320.8,1348.7 L1323.5,1348.6 L1326.2,1348.6 L1328.9,1348.5 L1331.6,1348.5 L1334.3,1348.4 L1337.0,1348.3 L1339.7,1348.3 L1342.3,1348.2 L1345.0,1348.2 L1347.7,1348.1 L1350.4,1348.0 L1353.1,1348.0 L1355.8,1347.9 L1358.5,1347.9 L1361.2,1347.9 L1363.9,1347.8 L1366.6,1347.8 L1369.3,1347.7 L1372.0,1347.7 L1374.7,1347.6 L1377.4,1347.6 L1380.1,1347.6 L1382.7,1347.5 L1385.4,1347.5 L1388.1,1347.5 L1390.8,1347.4 L1393.5,1347.4 L1396.2,1347.4 L1398.9,1347.4 L1401.5,1347.3 L1404.2,1347.3 L1406.9,1347.3 L1409.6,1347.3 L1412.3,1347.3 L1414.9,1347.3 L1417.6,1347.2 L1420.3,1347.2 L1423.0,1347.2 L1425.7,1347.2 L1428.3,1347.2 L1431.0,1347.2 L1433.7,1347.2 L1436.3,1347.2 L1439.0,1347.2 L1441.7,1347.2 L1444.3,1347.2 L1447.0,1347.2 L1449.7,1347.2 L1452.3,1347.3 L1455.0,1347.3" fill="none" stroke="#000" stroke-width="1.5"/>
<path d="M262.7,1941.1h7.5v7.5h-7.5zM285.2,1941.1h7.5v7.5h-7.5zM307.7,1940.8h7.5v7.5h-7.5zM330.2,1940.3h7.5v7.5h-7.5zM352.7,1939.6h7.5v7.5h-7.5zM375.2,1938.6h7.5v7.5h-7.5zM397.6,1937.5h7.5v7.5h-7.5zM420.1,1936.3h7.5v7.5h-7.5zM442.5,1934.9h7.5v7.5h-7.5zM463.9,1933.5h7.5v7.5h-7.5zM484.2,1932.1h7.5v7.5h-7.5zM503.4,1930.8h7.5v7.5h-7.5zM521.6,1929.5h7.5v7.5h-7.5zM538.8,1928.3h7.5v7.5h-7.5zM555.1,1927.2h7.5v7.5h-7.5zM570.5,1926.2h7.5v7.5h-7.5zM585.1,1925.3h7.5v7.5h-7.5zM598.9,1924.4h7.5v7.5h-7.5zM612.0,1923.7h7.5v7.5h-7.5zM624.3,1923.0h7.5v7.5h-7.5zM636.1,1922.4h7.5v7.5h-7.5zM647.2,1921.8h7.5v7.5h-7.5zM658.2,1921.3h7.5v7.5h-7.5zM669.2,1920.7h7.5v7.5h-7.5zM680.2,1920.0h7.5v7.5h-7.5zM691.1,1919.1h7.5v7.5h-7.5zM702.1,1918.1h7.5v7.5h-7.5zM713.0,1916.8h7.5v7.5h-7.5zM723.9,1915.3h7.5v7.5h-7.5zM734.7,1913.3h7.5v7.5h-7.5zM745.4,1910.9h7.5v7.5h-7.5zM756.0,1908.0h7.5v7.5h-7.5zM766.4,1904.4h7.5v7.5h-7.5zM776.6,1900.1h7.5v7.5h-7.5zM786.3,1895.1h7.5v7.5h-7.5zM795.5,1889.0h7.5v7.5h-7.5zM803.7,1881.7h7.5v7.5h-7.5zM811.1,1873.6h7.5v7.5h-7.5zM817.7,1864.8h7.5v7.5h-7.5zM823.4,1855.4h7.5v7.5h-7.5zM828.3,1845.5h7.5v7.5h-7.5zM832.3,1835.3h7.5v7.5h-7.5zM835.5,1824.8h7.5v7.5h-7.5zM838.0,1814.1h7.5v7.5h-7.5zM840.0,1803.2h7.5v7.5h-7.5zM841.7,1792.4h7.5v7.5h-7.5zM843.1,1781.5h7.5v7.5h-7.5zM844.4,1770.6h7.5v7.5h-7.5zM845.6,1759.6h7.5v7.5h-7.5zM846.7,1748.7h7.5v7.5h-7.5zM847.6,1737.7h7.5v7.5h-7.5zM848.5,1726.7h7.5v7.5h-7.5zM849.2,1715.8h7.5v7.5h-7.5zM849.9,1704.8h7.5v7.5h-7.5zM850.5,1693.8h7.5v7.5h-7.5zM851.1,1682.8h7.5v7.5h-7.5zM851.7,1671.8h7.5v7.5h-7.5zM852.2,1660.8h7.5v7.5h-7.5zM852.7,1649.9h7.5v7.5h-7.5zM853.2,1638.9h7.5v7.5h-7.5zM853.7,1627.9h7.5v7.5h-7.5zM854.2,1616.9h7.5v7.5h-7.5zM854.8,1605.9h7.5v7.5h-7.5zM855.5,1594.9h7.5v7.5h-7.5zM856.2,1584.0h7.5v7.5h-7.5zM857.1,1573.0h7.5v7.5h-7.5zM858.0,1562.0h7.5v7.5h-7.5zM859.2,1551.1h7.5v7.5h-7.5zM860.5,1540.2h7.5v7.5h-7.5zM862.0,1529.3h7.5v7.5h-7.5zM863.8,1518.4h7.5v7.5h-7.5zM865.7,1507.6h7.5v7.5h-7.5zM867.9,1496.8h7.5v7.5h-7.5zM870.4,1486.1h7.5v7.5h-7.5zM873.2,1475.5h7.5v7.5h-7.5zM876.4,1464.9h7.5v7.5h-7.5zM880.1,1454.6h7.5v7.5h-7.5zM884.3,1444.4h7.5v7.5h-7.5zM889.2,1434.6h7.5v7.5h-7.5zM894.9,1425.2h7.5v7.5h-7.5zM901.4,1416.3h7.5v7.5h-7.5zM908.8,1408.2h7.5v7.5h-7.5zM916.8,1400.6h7.5v7.5h-7.5zM925.3,1393.7h7.5v7.5h-7.5zM934.5,1387.6h7.5v7.5h-7.5zM944.2,1382.4h7.5v7.5h-7.5zM954.3,1378.1h7.5v7.5h-7.5zM964.7,1374.4h7.5v7.5h-7.5zM975.2,1371.3h7.5v7.5h-7.5zM985.9,1368.7h7.5v7.5h-7.5zM996.7,1366.6h7.5v7.5h-7.5zM1007.6,1364.9h7.5v7.5h-7.5zM1018.5,1363.3h7.5v7.5h-7.5zM1029.4,1361.9h7.5v7.5h-7.5zM1040.3,1360.5h7.5v7.5h-7.5zM1051.4,1359.3h7.5v7.5h-7.5zM1063.0,1358.1h7.5v7.5h-7.5zM1075.4,1356.9h7.5v7.5h-7.5zM1088.4,1355.9h7.5v7.5h-7.5zM1102.2,1354.8h7.5v7.5h-7.5zM1116.8,1353.8h7.5v7.5h-7.5zM1132.2,1352.9h7.5v7.5h-7.5zM1148.5,1351.9h7.5v7.5h-7.5zM1165.7,1351.0h7.5v7.5h-7.5zM1183.9,1350.1h7.5v7.5h-7.5zM1203.1,1349.1h7.5v7.5h-7.5zM1223.4,1348.2h7.5v7.5h-7.5zM1244.8,1347.3h7.5v7.5h-7.5zM1267.2,1346.5h7.5v7.5h-7.5zM1289.7,1345.7h7.5v7.5h-7.5zM1312.2,1345.1h7.5v7.5h-7.5zM1334.7,1344.5h7.5v7.5h-7.5zM1357.2,1344.1h7.5v7.5h-7.5zM1379.7,1343.8h7.5v7.5h-7.5zM1402.2,1343.6h7.5v7.5h-7.5zM1424.7,1343.5h7.5v7.5h-7.5zM1447.2,1343.5h7.5v7.5h-7.5z" fill="#000"/>
<path d="M244.0,1942.3 L246.8,1942.4 L249.6,1942.4 L252.4,1942.4 L255.2,1942.5 L258.0,1942.5 L260.8,1942.5 L263.6,1942.5 L266.3,1942.6 L269.1,1942.6 L271.9,1942.6 L274.6,1942.6 L277.4,1942.6 L280.2,1942.6 L282.9,1942.6 L285.6,1942.6 L288.4,1942.5 L291.1,1942.5 L293.9,1942.5 L296.6,1942.5 L299.3,1942.4 L302.0,1942.4 L304.8,1942.4 L307.5,1942.3 L310.2,1942.3 L312.9,1942.2 L315.6,1942.2 L318.3,1942.1 L321.0,1942.1 L323.7,1942.0 L326.4,1941.9 L329.0,1941.9 L331.7,1941.8 L334.4,1941.7 L337.1,1941.7 L339.7,1941.6 L342.4,1941.5 L345.1,1941.4 L347.7,1941.3 L350.4,1941.2 L353.1,1941.1 L355.7,1941.0 L358.4,1940.9 L361.0,1940.8 L363.7,1940.7 L366.3,1940.6 L369.0,1940.5 L371.6,1940.4 L374.2,1940.3 L376.9,1940.2 L379.5,1940.1 L382.1,1939.9 L384.8,1939.8 L387.4,1939.7 L390.0,1939.6 L392.7,1939.4 L395.3,1939.3 L397.9,1939.2 L400.5,1939.0 L403.2,1938.9 L405.8,1938.7 L408.4,1938.6 L411.0,1938.5 L413.6,1938.3 L416.2,1938.2 L418.9,1938.0 L421.5,1937.9 L424.1,1937.7 L426.7,1937.6 L429.3,1937.4 L431.9,1937.3 L434.5,1937.1 L437.2,1936.9 L439.8,1936.8 L442.4,1936.6 L445.0,1936.4 L447.6,1936.3 L450.2,1936.1 L452.8,1935.9 L455.4,1935.8 L458.0,1935.6 L460.7,1935.4 L463.3,1935.3 L465.9,1935.1 L468.5,1934.9 L471.1,1934.7 L473.7,1934.6 L476.3,1934.4 L479.0,1934.2 L481.6,1934.0 L484.2,1933.9 L486.8,1933.7 L489.4,1933.5 L492.1,1933.3 L494.7,1933.1 L497.3,1933.0 L499.9,1932.8 L502.6,1932.6 L505.2,1932.4 L507.8,1932.2 L510.4,1932.1 L513.1,1931.9 L515.7,1931.7 L518.3,1931.5 L521.0,1931.3 L523.6,1931.2 L526.3,1931.0 L528.9,1930.8 L531.6,1930.6 L534.2,1930.4 L536.9,1930.2 L539.5,1930.1 L542.2,1929.9 L544.8,1929.7 L547.5,1929.5 L550.2,1929.3 L552.8,1929.2 L555.5,1929.0 L558.2,1928.8 L560.9,1928.6 L563.5,1928.4 L566.2,1928.3 L568.9,1928.1 L571.6,1927.9 L574.3,1927.7 L577.0,1927.6 L579.7,1927.4 L582.4,1927.2 L585.1,1927.1 L587.8,1926.9 L590.5,1926.7 L593.3,1926.6 L596.0,1926.4 L598.7,1926.2 L601.4,1926.1 L604.2,1925.9 L606.9,1925.7 L609.7,1925.6 L612.4,1925.4 L615.2,1925.3 L617.9,1925.1 L620.7,1925.0 L623.5,1924.8 L626.2,1924.7 L629.0,1924.5 L631.8,1924.4 L634.6,1924.2 L637.4,1924.1 L640.2,1923.9 L643.0,1923.8 L645.8,1923.7 L648.6,1923.5 L651.4,1923.4 L654.2,1923.2 L657.1,1923.1 L659.9,1923.0 L662.7,1922.8 L665.6,1922.7 L668.4,1922.5 L671.2,1922.4 L674.1,1922.2 L676.9,1922.1 L679.7,1921.9 L682.5,1921.7 L685.4,1921.5 L688.2,1921.3 L691.0,1921.1 L693.8,1920.8 L696.6,1920.6 L699.2,1920.3 L701.7,1920.0 L704.3,1919.7 L706.8,1919.4 L709.3,1919.1 L711.8,1918.7 L714.3,1918.3 L716.7,1917.9 L719.2,1917.5 L721.6,1917.0 L724.1,1916.5 L726.5,1916.0 L728.9,1915.5 L731.3,1914.9 L733.7,1914.3 L736.0,1913.7 L738.3,1913.0 L740.7,1912.3 L743.0,1911.6 L745.2,1910.8 L747.5,1910.0 L749.7,1909.1 L751.9,1908.3 L754.1,1907.3 L756.3,1906.4 L758.4,1905.4 L760.6,1904.3 L762.7,1903.2 L764.7,1902.1 L766.8,1900.9 L768.8,1899.7 L770.8,1898.4 L772.7,1897.1 L774.6,1895.7 L776.5,1894.3 L778.4,1892.8 L780.3,1891.3 L782.3,1889.7 L784.2,1888.1 L786.1,1886.4 L788.0,1884.6 L789.8,1882.8 L791.6,1881.0 L793.3,1879.1 L795.1,1877.2 L796.7,1875.2 L798.3,1873.2 L799.9,1871.1 L801.5,1869.0 L803.0,1866.8 L804.4,1864.6 L805.8,1862.4 L807.2,1860.1 L808.5,1857.8 L809.8,1855.5 L811.0,1853.1 L812.2,1850.7 L813.3,1848.3 L814.4,1845.8 L815.4,1843.3 L816.4,1840.8 L817.3,1838.2 L818.2,1835.6 L819.0,1833.0 L819.8,1830.4 L820.6,1827.7 L821.3,1825.0 L821.9,1822.3 L822.6,1819.6 L823.2,1816.9 L823.7,1814.2 L824.3,1811.4 L824.8,1808.7 L825.3,1805.9 L825.7,1803.1 L826.1,1800.3 L826.6,1797.6 L827.0,1794.8 L827.4,1792.0 L827.7,1789.2 L828.1,1786.4 L828.5,1783.6 L828.8,1780.8 L829.1,1778.1 L829.5,1775.3 L829.8,1772.5 L830.1,1769.8 L830.4,1767.0 L830.7,1764.2 L831.0,1761.5 L831.3,1758.7 L831.5,1755.9 L831.8,1753.2 L832.0,1750.4 L832.3,1747.7 L832.5,1744.9 L832.8,1742.2 L833.0,1739.4 L833.2,1736.7 L833.4,1733.9 L833.6,1731.2 L833.8,1728.4 L834.0,1725.7 L834.2,1723.0 L834.4,1720.2 L834.6,1717.5 L834.8,1714.8 L834.9,1712.0 L835.1,1709.3 L835.3,1706.6 L835.4,1703.8 L835.6,1701.1 L835.7,1698.4 L835.9,1695.6 L836.0,1692.9 L836.2,1690.2 L836.3,1687.4 L836.4,1684.7 L836.6,1682.0 L836.7,1679.3 L836.8,1676.5 L837.0,1673.8 L837.1,1671.1 L837.2,1668.3 L837.4,1665.6 L837.5,1662.9 L837.6,1660.2 L837.7,1657.4 L837.9,1654.7 L838.0,1652.0 L838.1,1649.2 L838.2,1646.5 L838.4,1643.8 L838.5,1641.1 L838.6,1638.3 L838.7,1635.6 L838.9,1632.9 L839.0,1630.1 L839.1,1627.4 L839.3,1624.7 L839.4,1621.9 L839.5,1619.2 L839.7,1616.4 L839.8,1613.7 L840.0,1611.0 L840.1,1608.2 L840.3,1605.5 L840.5,1602.7 L840.6,1600.0 L840.8,1597.3 L841.0,1594.5 L841.2,1591.8 L841.4,1589.0 L841.6,1586.3 L841.8,1583.6 L842.0,1580.8 L842.2,1578.1 L842.5,1575.3 L842.7,1572.6 L843.0,1569.9 L843.2,1567.1 L843.5,1564.4 L843.8,1561.6 L844.1,1558.9 L844.4,1556.2 L844.7,1553.4 L845.0,1550.7 L845.3,1547.9 L845.7,1545.2 L846.1,1542.5 L846.4,1539.7 L846.8,1537.0 L847.2,1534.3 L847.6,1531.6 L848.1,1528.8 L848.5,1526.1 L849.0,1523.4 L849.4,1520.7 L849.9,1517.9 L850.4,1515.2 L851.0,1512.5 L851.5,1509.8 L852.0,1507.1 L852.6,1504.3 L853.2,1501.6 L853.8,1498.9 L854.4,1496.2 L855.1,1493.5 L855.8,1490.8 L856.4,1488.1 L857.1,1485.4 L857.9,1482.7 L858.6,1480.0 L859.4,1477.4 L860.2,1474.7 L861.0,1472.1 L861.9,1469.4 L862.8,1466.8 L863.7,1464.2 L864.6,1461.6 L865.6,1459.1 L866.6,1456.5 L867.7,1454.0 L868.7,1451.5 L869.9,1449.0 L871.0,1446.6 L872.2,1444.2 L873.4,1441.8 L874.7,1439.4 L876.0,1437.1 L877.4,1434.9 L878.8,1432.6 L880.3,1430.4 L881.8,1428.2 L883.3,1426.1 L884.9,1424.0 L886.5,1422.0 L888.2,1420.0 L890.0,1418.0 L891.7,1416.1 L893.5,1414.3 L895.4,1412.4 L897.3,1410.7 L899.2,1408.9 L901.4,1407.3 L903.6,1405.6 L905.8,1404.0 L908.1,1402.5 L910.4,1401.0 L912.8,1399.6 L915.2,1398.2 L917.6,1396.8 L920.1,1395.5 L922.6,1394.2 L925.1,1393.0 L927.7,1391.8 L930.3,1390.7 L932.9,1389.6 L935.6,1388.5 L938.3,1387.5 L941.0,1386.5 L943.7,1385.6 L946.5,1384.6 L949.3,1383.7 L952.1,1382.9 L954.9,1382.1 L957.8,1381.3 L960.6,1380.5 L963.5,1379.8 L966.4,1379.1 L969.3,1378.4 L972.3,1377.7 L975.2,1377.1 L978.2,1376.5 L981.1,1375.9 L984.1,1375.3 L987.1,1374.8 L990.1,1374.2 L993.0,1373.7 L996.0,1373.2 L998.9,1372.8 L1001.7,1372.3 L1004.4,1371.8 L1007.2,1371.4 L1009.9,1371.0 L1012.7,1370.6 L1015.4,1370.2 L1018.2,1369.8 L1020.9,1369.4 L1023.7,1369.0 L1026.4,1368.7 L1029.1,1368.3 L1031.8,1367.9 L1034.6,1367.6 L1037.3,1367.3 L1040.0,1366.9 L1042.7,1366.6 L1045.4,1366.3 L1048.1,1366.0 L1050.8,1365.7 L1053.5,1365.4 L1056.1,1365.1 L1058.8,1364.9 L1061.5,1364.6 L1064.2,1364.3 L1066.9,1364.1 L1069.5,1363.8 L1072.2,1363.5 L1074.9,1363.3 L1077.5,1363.1 L1080.2,1362.8 L1082.8,1362.6 L1085.5,1362.4 L1088.1,1362.2 L1090.8,1362.0 L1093.5,1361.7 L1096.1,1361.5 L1098.8,1361.3 L1101.4,1361.1 L1104.0,1360.9 L1106.7,1360.8 L1109.3,1360.6 L1112.0,1360.4 L1114.6,1360.2 L1117.3,1360.0 L1119.9,1359.9 L1122.6,1359.7 L1125.2,1359.5 L1127.9,1359.4 L1130.5,1359.2 L1133.1,1359.0 L1135.8,1358.9 L1138.4,1358.7 L1141.1,1358.6 L1143.7,1358.4 L1146.4,1358.3 L1149.0,1358.1 L1151.7,1358.0 L1154.3,1357.8 L1157.0,1357.7 L1159.6,1357.5 L1162.3,1357.4 L1165.0,1357.3 L1167.6,1357.1 L1170.3,1357.0 L1173.0,1356.8 L1175.6,1356.7 L1178.3,1356.6 L1180.9,1356.4 L1183.6,1356.3 L1186.3,1356.1 L1189.0,1356.0 L1191.6,1355.9 L1194.3,1355.8 L1197.0,1355.6 L1199.7,1355.5 L1202.3,1355.4 L1205.0,1355.2 L1207.7,1355.1 L1210.4,1355.0 L1213.1,1354.9 L1215.7,1354.8 L1218.4,1354.6 L1221.1,1354.5 L1223.8,1354.4 L1226.5,1354.3 L1229.2,1354.2 L1231.8,1354.0 L1234.5,1353.9 L1237.2,1353.8 L1239.9,1353.7 L1242.6,1353.6 L1245.3,1353.5 L1248.0,1353.4 L1250.7,1353.3 L1253.4,1353.2 L1256.1,1353.1 L1258.7,1353.0 L1261.4,1352.9 L1264.1,1352.8 L1266.8,1352.7 L1269.5,1352.6 L1272.2,1352.5 L1274.9,1352.4 L1277.6,1352.3 L1280.3,1352.2 L1283.0,1352.1 L1285.7,1352.0 L1288.4,1352.0 L1291.1,1351.9 L1293.8,1351.8 L1296.5,1351.7 L1299.2,1351.6 L1301.9,1351.5 L1304.6,1351.5 L1307.3,1351.4 L1310.0,1351.3 L1312.7,1351.2 L1315.4,1351.2 L1318.1,1351.1 L1320.8,1351.0 L1323.5,1351.0 L1326.2,1350.9 L1328.9,1350.8 L1331.6,1350.8 L1334.3,1350.7 L1337.0,1350.6 L1339.7,1350.6 L1342.3,1350.5 L1345.0,1350.5 L1347.7,1350.4 L1350.4,1350.4 L1353.1,1350.3 L1355.8,1350.3 L1358.5,1350.2 L1361.2,1350.2 L1363.9,1350.1 L1366.6,1350.1 L1369.3,1350.0 L1372.0,1350.0 L1374.7,1350.0 L1377.4,1349.9 L1380.1,1349.9 L1382.7,1349.9 L1385.4,1349.8 L1388.1,1349.8 L1390.8,1349.8 L1393.5,1349.7 L1396.2,1349.7 L1398.9,1349.7 L1401.5,1349.7 L1404.2,1349.7 L1406.9,1349.6 L1409.6,1349.6 L1412.3,1349.6 L1414.9,1349.6 L1417.6,1349.6 L1420.3,1349.6 L1423.0,1349.6 L1425.7,1349.6 L1428.3,1349.5 L1431.0,1349.5 L1433.7,1349.5 L1436.3,1349.5 L1439.0,1349.5 L1441.7,1349.6 L1444.3,1349.6 L1447.0,1349.6 L1449.7,1349.6 L1452.3,1349.6 L1455.0,1349.6" fill="none" stroke="#f00" stroke-width="1.5"/>
<path d="M262.5,1942.6a4.0,4.0 0 1,0 8.0,0a4.0,4.0 0 1,0 -8.0,0zM285.0,1942.5a4.0,4.0 0 1,0 8.0,0a4.0,4.0 0 1,0 -8.0,0zM307.5,1942.3a4.0,4.0 0 1,0 8.0,0a4.0,4.0 0 1,0 -8.0,0zM329.9,1941.8a4.0,4.0 0 1,0 8.0,0a4.0,4.0 0 1,0 -8.0,0zM352.4,1941.0a4.0,4.0 0 1,0 8.0,0a4.0,4.0 0 1,0 -8.0,0zM374.9,1940.1a4.0,4.0 0 1,0 8.0,0a4.0,4.0 0 1,0 -8.0,0zM397.4,1939.0a4.0,4.0 0 1,0 8.0,0a4.0,4.0 0 1,0 -8.0,0zM419.9,1937.7a4.0,4.0 0 1,0 8.0,0a4.0,4.0 0 1,0 -8.0,0zM442.2,1936.4a4.0,4.0 0 1,0 8.0,0a4.0,4.0 0 1,0 -8.0,0zM463.7,1935.0a4.0,4.0 0 1,0 8.0,0a4.0,4.0 0 1,0 -8.0,0zM483.9,1933.6a4.0,4.0 0 1,0 8.0,0a4.0,4.0 0 1,0 -8.0,0zM503.1,1932.3a4.0,4.0 0 1,0 8.0,0a4.0,4.0 0 1,0 -8.0,0zM521.3,1931.0a4.0,4.0 0 1,0 8.0,0a4.0,4.0 0 1,0 -8.0,0zM538.5,1929.9a4.0,4.0 0 1,0 8.0,0a4.0,4.0 0 1,0 -8.0,0zM554.8,1928.8a4.0,4.0 0 1,0 8.0,0a4.0,4.0 0 1,0 -8.0,0zM570.2,1927.8a4.0,4.0 0 1,0 8.0,0a4.0,4.0 0 1,0 -8.0,0zM584.8,1926.8a4.0,4.0 0 1,0 8.0,0a4.0,4.0 0 1,0 -8.0,0zM598.6,1926.0a4.0,4.0 0 1,0 8.0,0a4.0,4.0 0 1,0 -8.0,0zM611.7,1925.2a4.0,4.0 0 1,0 8.0,0a4.0,4.0 0 1,0 -8.0,0zM624.1,1924.6a4.0,4.0 0 1,0 8.0,0a4.0,4.0 0 1,0 -8.0,0zM635.8,1923.9a4.0,4.0 0 1,0 8.0,0a4.0,4.0 0 1,0 -8.0,0zM647.0,1923.4a4.0,4.0 0 1,0 8.0,0a4.0,4.0 0 1,0 -8.0,0zM657.9,1922.9a4.0,4.0 0 1,0 8.0,0a4.0,4.0 0 1,0 -8.0,0zM668.9,1922.3a4.0,4.0 0 1,0 8.0,0a4.0,4.0 0 1,0 -8.0,0zM679.9,1921.6a4.0,4.0 0 1,0 8.0,0a4.0,4.0 0 1,0 -8.0,0zM690.9,1920.7a4.0,4.0 0 1,0 8.0,0a4.0,4.0 0 1,0 -8.0,0zM701.8,1919.5a4.0,4.0 0 1,0 8.0,0a4.0,4.0 0 1,0 -8.0,0zM712.7,1917.9a4.0,4.0 0 1,0 8.0,0a4.0,4.0 0 1,0 -8.0,0zM723.5,1915.8a4.0,4.0 0 1,0 8.0,0a4.0,4.0 0 1,0 -8.0,0zM734.1,1913.1a4.0,4.0 0 1,0 8.0,0a4.0,4.0 0 1,0 -8.0,0zM744.6,1909.6a4.0,4.0 0 1,0 8.0,0a4.0,4.0 0 1,0 -8.0,0zM754.7,1905.3a4.0,4.0 0 1,0 8.0,0a4.0,4.0 0 1,0 -8.0,0zM764.3,1900.0a4.0,4.0 0 1,0 8.0,0a4.0,4.0 0 1,0 -8.0,0zM773.3,1893.7a4.0,4.0 0 1,0 8.0,0a4.0,4.0 0 1,0 -8.0,0zM781.8,1886.7a4.0,4.0 0 1,0 8.0,0a4.0,4.0 0 1,0 -8.0,0zM789.6,1878.9a4.0,4.0 0 1,0 8.0,0a4.0,4.0 0 1,0 -8.0,0zM796.5,1870.3a4.0,4.0 0 1,0 8.0,0a4.0,4.0 0 1,0 -8.0,0zM802.6,1861.2a4.0,4.0 0 1,0 8.0,0a4.0,4.0 0 1,0 -8.0,0zM807.8,1851.5a4.0,4.0 0 1,0 8.0,0a4.0,4.0 0 1,0 -8.0,0zM812.2,1841.4a4.0,4.0 0 1,0 8.0,0a4.0,4.0 0 1,0 -8.0,0zM815.6,1831.0a4.0,4.0 0 1,0 8.0,0a4.0,4.0 0 1,0 -8.0,0zM818.4,1820.3a4.0,4.0 0 1,0 8.0,0a4.0,4.0 0 1,0 -8.0,0zM820.6,1809.5a4.0,4.0 0 1,0 8.0,0a4.0,4.0 0 1,0 -8.0,0zM822.4,1798.7a4.0,4.0 0 1,0 8.0,0a4.0,4.0 0 1,0 -8.0,0zM823.9,1787.8a4.0,4.0 0 1,0 8.0,0a4.0,4.0 0 1,0 -8.0,0zM825.3,1776.9a4.0,4.0 0 1,0 8.0,0a4.0,4.0 0 1,0 -8.0,0zM826.5,1766.0a4.0,4.0 0 1,0 8.0,0a4.0,4.0 0 1,0 -8.0,0zM827.6,1755.0a4.0,4.0 0 1,0 8.0,0a4.0,4.0 0 1,0 -8.0,0zM828.6,1744.1a4.0,4.0 0 1,0 8.0,0a4.0,4.0 0 1,0 -8.0,0zM829.5,1733.1a4.0,4.0 0 1,0 8.0,0a4.0,4.0 0 1,0 -8.0,0zM830.3,1722.1a4.0,4.0 0 1,0 8.0,0a4.0,4.0 0 1,0 -8.0,0zM831.0,1711.1a4.0,4.0 0 1,0 8.0,0a4.0,4.0 0 1,0 -8.0,0zM831.6,1700.2a4.0,4.0 0 1,0 8.0,0a4.0,4.0 0 1,0 -8.0,0zM832.2,1689.2a4.0,4.0 0 1,0 8.0,0a4.0,4.0 0 1,0 -8.0,0zM832.8,1678.2a4.0,4.0 0 1,0 8.0,0a4.0,4.0 0 1,0 -8.0,0zM833.3,1667.2a4.0,4.0 0 1,0 8.0,0a4.0,4.0 0 1,0 -8.0,0zM833.8,1656.2a4.0,4.0 0 1,0 8.0,0a4.0,4.0 0 1,0 -8.0,0zM834.3,1645.2a4.0,4.0 0 1,0 8.0,0a4.0,4.0 0 1,0 -8.0,0zM834.8,1634.2a4.0,4.0 0 1,0 8.0,0a4.0,4.0 0 1,0 -8.0,0zM835.3,1623.3a4.0,4.0 0 1,0 8.0,0a4.0,4.0 0 1,0 -8.0,0zM835.9,1612.3a4.0,4.0 0 1,0 8.0,0a4.0,4.0 0 1,0 -8.0,0zM836.6,1601.3a4.0,4.0 0 1,0 8.0,0a4.0,4.0 0 1,0 -8.0,0zM837.3,1590.3a4.0,4.0 0 1,0 8.0,0a4.0,4.0 0 1,0 -8.0,0zM838.1,1579.3a4.0,4.0 0 1,0 8.0,0a4.0,4.0 0 1,0 -8.0,0zM839.1,1568.4a4.0,4.0 0 1,0 8.0,0a4.0,4.0 0 1,0 -8.0,0zM840.2,1557.4a4.0,4.0 0 1,0 8.0,0a4.0,4.0 0 1,0 -8.0,0zM841.5,1546.5a4.0,4.0 0 1,0 8.0,0a4.0,4.0 0 1,0 -8.0,0zM843.0,1535.6a4.0,4.0 0 1,0 8.0,0a4.0,4.0 0 1,0 -8.0,0zM844.7,1524.8a4.0,4.0 0 1,0 8.0,0a4.0,4.0 0 1,0 -8.0,0zM846.7,1513.9a4.0,4.0 0 1,0 8.0,0a4.0,4.0 0 1,0 -8.0,0zM848.9,1503.2a4.0,4.0 0 1,0 8.0,0a4.0,4.0 0 1,0 -8.0,0zM851.4,1492.4a4.0,4.0 0 1,0 8.0,0a4.0,4.0 0 1,0 -8.0,0zM854.1,1481.8a4.0,4.0 0 1,0 8.0,0a4.0,4.0 0 1,0 -8.0,0zM857.3,1471.3a4.0,4.0 0 1,0 8.0,0a4.0,4.0 0 1,0 -8.0,0zM860.9,1460.9a4.0,4.0 0 1,0 8.0,0a4.0,4.0 0 1,0 -8.0,0zM865.1,1450.7a4.0,4.0 0 1,0 8.0,0a4.0,4.0 0 1,0 -8.0,0zM870.0,1440.8a4.0,4.0 0 1,0 8.0,0a4.0,4.0 0 1,0 -8.0,0zM875.6,1431.4a4.0,4.0 0 1,0 8.0,0a4.0,4.0 0 1,0 -8.0,0zM882.1,1422.5a4.0,4.0 0 1,0 8.0,0a4.0,4.0 0 1,0 -8.0,0zM889.5,1414.4a4.0,4.0 0 1,0 8.0,0a4.0,4.0 0 1,0 -8.0,0zM897.7,1407.0a4.0,4.0 0 1,0 8.0,0a4.0,4.0 0 1,0 -8.0,0zM906.7,1400.8a4.0,4.0 0 1,0 8.0,0a4.0,4.0 0 1,0 -8.0,0zM916.3,1395.4a4.0,4.0 0 1,0 8.0,0a4.0,4.0 0 1,0 -8.0,0zM926.2,1390.7a4.0,4.0 0 1,0 8.0,0a4.0,4.0 0 1,0 -8.0,0zM936.5,1386.7a4.0,4.0 0 1,0 8.0,0a4.0,4.0 0 1,0 -8.0,0zM946.9,1383.2a4.0,4.0 0 1,0 8.0,0a4.0,4.0 0 1,0 -8.0,0zM957.5,1380.3a4.0,4.0 0 1,0 8.0,0a4.0,4.0 0 1,0 -8.0,0zM968.2,1377.7a4.0,4.0 0 1,0 8.0,0a4.0,4.0 0 1,0 -8.0,0zM979.0,1375.5a4.0,4.0 0 1,0 8.0,0a4.0,4.0 0 1,0 -8.0,0zM989.8,1373.6a4.0,4.0 0 1,0 8.0,0a4.0,4.0 0 1,0 -8.0,0zM1000.7,1371.8a4.0,4.0 0 1,0 8.0,0a4.0,4.0 0 1,0 -8.0,0zM1011.6,1370.2a4.0,4.0 0 1,0 8.0,0a4.0,4.0 0 1,0 -8.0,0zM1022.4,1368.7a4.0,4.0 0 1,0 8.0,0a4.0,4.0 0 1,0 -8.0,0zM1033.4,1367.3a4.0,4.0 0 1,0 8.0,0a4.0,4.0 0 1,0 -8.0,0zM1044.3,1366.0a4.0,4.0 0 1,0 8.0,0a4.0,4.0 0 1,0 -8.0,0zM1055.6,1364.8a4.0,4.0 0 1,0 8.0,0a4.0,4.0 0 1,0 -8.0,0zM1067.5,1363.6a4.0,4.0 0 1,0 8.0,0a4.0,4.0 0 1,0 -8.0,0zM1080.1,1362.5a4.0,4.0 0 1,0 8.0,0a4.0,4.0 0 1,0 -8.0,0zM1093.5,1361.4a4.0,4.0 0 1,0 8.0,0a4.0,4.0 0 1,0 -8.0,0zM1107.6,1360.4a4.0,4.0 0 1,0 8.0,0a4.0,4.0 0 1,0 -8.0,0zM1122.5,1359.5a4.0,4.0 0 1,0 8.0,0a4.0,4.0 0 1,0 -8.0,0zM1138.2,1358.5a4.0,4.0 0 1,0 8.0,0a4.0,4.0 0 1,0 -8.0,0zM1154.8,1357.6a4.0,4.0 0 1,0 8.0,0a4.0,4.0 0 1,0 -8.0,0zM1172.4,1356.7a4.0,4.0 0 1,0 8.0,0a4.0,4.0 0 1,0 -8.0,0zM1191.0,1355.7a4.0,4.0 0 1,0 8.0,0a4.0,4.0 0 1,0 -8.0,0zM1210.6,1354.8a4.0,4.0 0 1,0 8.0,0a4.0,4.0 0 1,0 -8.0,0zM1231.3,1353.9a4.0,4.0 0 1,0 8.0,0a4.0,4.0 0 1,0 -8.0,0zM1253.2,1353.0a4.0,4.0 0 1,0 8.0,0a4.0,4.0 0 1,0 -8.0,0zM1275.7,1352.2a4.0,4.0 0 1,0 8.0,0a4.0,4.0 0 1,0 -8.0,0zM1298.2,1351.5a4.0,4.0 0 1,0 8.0,0a4.0,4.0 0 1,0 -8.0,0zM1320.7,1350.9a4.0,4.0 0 1,0 8.0,0a4.0,4.0 0 1,0 -8.0,0zM1343.2,1350.4a4.0,4.0 0 1,0 8.0,0a4.0,4.0 0 1,0 -8.0,0zM1365.7,1350.0a4.0,4.0 0 1,0 8.0,0a4.0,4.0 0 1,0 -8.0,0zM1388.2,1349.8a4.0,4.0 0 1,0 8.0,0a4.0,4.0 0 1,0 -8.0,0zM1410.7,1349.6a4.0,4.0 0 1,0 8.0,0a4.0,4.0 0 1,0 -8.0,0zM1433.2,1349.5a4.0,4.0 0 1,0 8.0,0a4.0,4.0 0 1,0 -8.0,0z" fill="#f00"/>
<path d="M244.0,1942.3 L246.8,1942.4 L249.6,1942.4 L252.4,1942.4 L255.2,1942.5 L258.0,1942.5 L260.8,1942.5 L263.6,1942.5 L266.3,1942.6 L269.1,1942.6 L271.9,1942.6 L274.6,1942.6 L277.4,1942.6 L280.2,1942.6 L282.9,1942.6 L285.6,1942.6 L288.4,1942.5 L291.1,1942.5 L293.9,1942.5 L296.6,1942.5 L299.3,1942.4 L302.0,1942.4 L304.8,1942.4 L307.5,1942.3 L310.2,1942.3 L312.9,1942.2 L315.6,1942.2 L318.3,1942.1 L321.0,1942.1 L323.7,1942.0 L326.4,1941.9 L329.0,1941.9 L331.7,1941.8 L334.4,1941.7 L337.1,1941.7 L339.7,1941.6 L342.4,1941.5 L345.1,1941.4 L347.7,1941.3 L350.4,1941.2 L353.1,1941.1 L355.7,1941.0 L358.4,1940.9 L361.0,1940.8 L363.7,1940.7 L366.3,1940.6 L369.0,1940.5 L371.6,1940.4 L374.2,1940.3 L376.9,1940.2 L379.5,1940.1 L382.1,1939.9 L384.8,1939.8 L387.4,1939.7 L390.0,1939.6 L392.7,1939.4 L395.3,1939.3 L397.9,1939.2 L400.5,1939.0 L403.2,1938.9 L405.8,1938.7 L408.4,1938.6 L411.0,1938.5 L413.6,1938.3 L416.2,1938.2 L418.9,1938.0 L421.5,1937.9 L424.1,1937.7 L426.7,1937.6 L429.3,1937.4 L431.9,1937.3 L434.5,1937.1 L437.2,1936.9 L439.8,1936.8 L442.4,1936.6 L445.0,1936.4 L447.6,1936.3 L450.2,1936.1 L452.8,1935.9 L455.4,1935.8 L458.0,1935.6 L460.7,1935.4 L463.3,1935.3 L465.9,1935.1 L468.5,1934.9 L471.1,1934.7 L473.7,1934.6 L476.3,1934.4 L479.0,1934.2 L481.6,1934.0 L484.2,1933.9 L486.8,1933.7 L489.4,1933.5 L492.1,1933.3 L494.7,1933.1 L497.3,1933.0 L499.9,1932.8 L502.6,1932.6 L505.2,1932.4 L507.8,1932.2 L510.4,1932.1 L513.1,1931.9 L515.7,1931.7 L518.3,1931.5 L521.0,1931.3 L523.6,1931.2 L526.3,1931.0 L528.9,1930.8 L531.6,1930.6 L534.2,1930.4 L536.9,1930.2 L539.5,1930.1 L542.2,1929.9 L544.8,1929.7 L547.5,1929.5 L550.2,1929.3 L552.8,1929.2 L555.5,1929.0 L558.2,1928.8 L560.9,1928.6 L563.5,1928.4 L566.2,1928.3 L568.9,1928.1 L571.6,1927.9 L574.3,1927.7 L577.0,1927.6 L579.7,1927.4 L582.4,1927.2 L585.1,1927.1 L587.8,1926.9 L590.5,1926.7 L593.3,1926.6 L596.0,1926.4 L598.7,1926.2 L601.4,1926.1 L604.2,1925.9 L606.9,1925.7 L609.7,1925.6 L612.4,1925.4 L615.2,1925.3 L617.9,1925.1 L620.7,1925.0 L623.5,1924.8 L626.2,1924.7 L629.0,1924.5 L631.8,1924.4 L634.6,1924.2 L637.4,1924.1 L640.2,1923.9 L643.0,1923.8 L645.8,1923.7 L648.6,1923.5 L651.4,1923.4 L654.2,1923.2 L657.1,1923.1 L659.9,1923.0 L662.7,1922.8 L665.6,1922.7 L668.4,1922.5 L671.2,1922.4 L674.1,1922.2 L676.9,1922.1 L679.7,1921.9 L682.5,1921.7 L685.4,1921.5 L688.2,1921.3 L691.0,1921.1 L693.8,1920.8 L696.6,1920.6 L699.5,1920.3 L702.6,1920.0 L705.6,1919.7 L708.6,1919.4 L711.6,1919.1 L714.6,1918.7 L717.5,1918.3 L720.5,1917.9 L723.4,1917.5 L726.4,1917.0 L729.3,1916.5 L732.2,1916.0 L735.0,1915.5 L737.9,1914.9 L740.7,1914.3 L743.5,1913.7 L746.3,1913.0 L749.1,1912.3 L751.8,1911.6 L754.6,1910.8 L757.2,1910.0 L759.9,1909.1 L762.6,1908.3 L765.2,1907.3 L767.8,1906.4 L770.3,1905.4 L772.9,1904.3 L775.4,1903.2 L777.8,1902.1 L780.3,1900.9 L782.7,1899.7 L785.0,1898.4 L787.4,1897.1 L789.7,1895.7 L791.9,1894.3 L794.2,1892.8 L796.3,1891.3 L798.3,1889.7 L800.2,1888.1 L802.1,1886.4 L804.0,1884.6 L805.8,1882.8 L807.6,1881.0 L809.3,1879.1 L811.1,1877.2 L812.7,1875.2 L814.3,1873.2 L815.9,1871.1 L817.5,1869.0 L819.0,1866.8 L820.4,1864.6 L821.8,1862.4 L823.2,1860.1 L824.5,1857.8 L825.8,1855.5 L827.0,1853.1 L828.2,1850.7 L829.3,1848.3 L830.4,1845.8 L831.4,1843.3 L832.4,1840.8 L833.3,1838.2 L834.2,1835.6 L835.0,1833.0 L835.8,1830.4 L836.6,1827.7 L837.3,1825.0 L837.9,1822.3 L838.6,1819.6 L839.2,1816.9 L839.7,1814.2 L840.3,1811.4 L840.8,1808.7 L841.3,1805.9 L841.7,1803.1 L842.1,1800.3 L842.6,1797.6 L843.0,1794.8 L843.4,1792.0 L843.7,1789.2 L844.1,1786.4 L844.5,1783.6 L844.8,1780.8 L845.1,1778.1 L845.5,1775.3 L845.8,1772.5 L846.1,1769.8 L846.4,1767.0 L846.7,1764.2 L847.0,1761.5 L847.3,1758.7 L847.5,1755.9 L847.8,1753.2 L848.0,1750.4 L848.3,1747.7 L848.5,1744.9 L848.8,1742.2 L849.0,1739.4 L849.2,1736.7 L849.4,1733.9 L849.6,1731.2 L849.8,1728.4 L850.0,1725.7 L850.2,1723.0 L850.4,1720.2 L850.6,1717.5 L850.8,1714.8 L850.9,1712.0 L851.1,1709.3 L851.3,1706.6 L851.4,1703.8 L851.6,1701.1 L851.7,1698.4 L851.9,1695.6 L852.0,1692.9 L852.2,1690.2 L852.3,1687.4 L852.4,1684.7 L852.6,1682.0 L852.7,1679.3 L852.8,1676.5 L853.0,1673.8 L853.1,1671.1 L853.2,1668.3 L853.4,1665.6 L853.5,1662.9 L853.6,1660.2 L853.7,1657.4 L853.9,1654.7 L854.0,1652.0 L854.1,1649.2 L854.2,1646.5 L854.4,1643.8 L854.5,1641.1 L854.6,1638.3 L854.7,1635.6 L854.9,1632.9 L855.0,1630.1 L855.1,1627.4 L855.3,1624.7 L855.4,1621.9 L855.5,1619.2 L855.7,1616.4 L855.8,1613.7 L856.0,1611.0 L856.1,1608.2 L856.3,1605.5 L856.5,1602.7 L856.6,1600.0 L856.8,1597.3 L857.0,1594.5 L857.2,1591.8 L857.4,1589.0 L857.6,1586.3 L857.8,1583.6 L858.0,1580.8 L858.2,1578.1 L858.5,1575.3 L858.7,1572.6 L859.0,1569.9 L859.2,1567.1 L859.5,1564.4 L859.8,1561.6 L860.1,1558.9 L860.4,1556.2 L860.7,1553.4 L861.0,1550.7 L861.3,1547.9 L861.7,1545.2 L862.1,1542.5 L862.4,1539.7 L862.8,1537.0 L863.2,1534.3 L863.6,1531.6 L864.1,1528.8 L864.5,1526.1 L865.0,1523.4 L865.4,1520.7 L865.9,1517.9 L866.4,1515.2 L867.0,1512.5 L867.5,1509.8 L868.0,1507.1 L868.6,1504.3 L869.2,1501.6 L869.8,1498.9 L870.4,1496.2 L871.1,1493.5 L871.8,1490.8 L872.4,1488.1 L873.1,1485.4 L873.9,1482.7 L874.6,1480.0 L875.4,1477.4 L876.2,1474.7 L877.0,1472.1 L877.9,1469.4 L878.8,1466.8 L879.7,1464.2 L880.6,1461.6 L881.6,1459.1 L882.6,1456.5 L883.7,1454.0 L884.7,1451.5 L885.9,1449.0 L887.0,1446.6 L888.2,1444.2 L889.4,1441.8 L890.7,1439.4 L892.0,1437.1 L893.4,1434.9 L894.8,1432.6 L896.3,1430.4 L897.8,1428.2 L899.3,1426.1 L900.9,1424.0 L902.5,1422.0 L904.2,1420.0 L906.0,1418.0 L907.7,1416.1 L909.5,1414.3 L911.4,1412.4 L913.3,1410.7 L915.2,1408.9 L917.1,1407.3 L918.9,1405.6 L920.8,1404.0 L922.7,1402.5 L924.6,1401.0 L926.6,1399.6 L928.6,1398.2 L930.6,1396.8 L932.7,1395.5 L934.8,1394.2 L936.9,1393.0 L939.1,1391.8 L941.3,1390.7 L943.5,1389.6 L945.7,1388.5 L947.9,1387.5 L950.2,1386.5 L952.5,1385.6 L954.8,1384.6 L957.2,1383.7 L959.5,1382.9 L961.9,1382.1 L964.3,1381.3 L966.7,1380.5 L969.1,1379.8 L971.5,1379.1 L973.9,1378.4 L976.4,1377.7 L978.8,1377.1 L981.3,1376.5 L983.8,1375.9 L986.3,1375.3 L988.8,1374.8 L991.3,1374.2 L993.8,1373.7 L996.3,1373.2 L998.9,1372.8 L1001.7,1372.3 L1004.4,1371.8 L1007.2,1371.4 L1009.9,1371.0 L1012.7,1370.6 L1015.4,1370.2 L1018.2,1369.8 L1020.9,1369.4 L1023.7,1369.0 L1026.4,1368.7 L1029.1,1368.3 L1031.8,1367.9 L1034.6,1367.6 L1037.3,1367.3 L1040.0,1366.9 L1042.7,1366.6 L1045.4,1366.3 L1048.1,1366.0 L1050.8,1365.7 L1053.5,1365.4 L1056.1,1365.1 L1058.8,1364.9 L1061.5,1364.6 L1064.2,1364.3 L1066.9,1364.1 L1069.5,1363.8 L1072.2,1363.5 L1074.9,1363.3 L1077.5,1363.1 L1080.2,1362.8 L1082.8,1362.6 L1085.5,1362.4 L1088.1,1362.2 L1090.8,1362.0 L1093.5,1361.7 L1096.1,1361.5 L1098.8,1361.3 L1101.4,1361.1 L1104.0,1360.9 L1106.7,1360.8 L1109.3,1360.6 L1112.0,1360.4 L1114.6,1360.2 L1117.3,1360.0 L1119.9,1359.9 L1122.6,1359.7 L1125.2,1359.5 L1127.9,1359.4 L1130.5,1359.2 L1133.1,1359.0 L1135.8,1358.9 L1138.4,1358.7 L1141.1,1358.6 L1143.7,1358.4 L1146.4,1358.3 L1149.0,1358.1 L1151.7,1358.0 L1154.3,1357.8 L1157.0,1357.7 L1159.6,1357.5 L1162.3,1357.4 L1165.0,1357.3 L1167.6,1357.1 L1170.3,1357.0 L1173.0,1356.8 L1175.6,1356.7 L1178.3,1356.6 L1180.9,1356.4 L1183.6,1356.3 L1186.3,1356.1 L1189.0,1356.0 L1191.6,1355.9 L1194.3,1355.8 L1197.0,1355.6 L1199.7,1355.5 L1202.3,1355.4 L1205.0,1355.2 L1207.7,1355.1 L1210.4,1355.0 L1213.1,1354.9 L1215.7,1354.8 L1218.4,1354.6 L1221.1,1354.5 L1223.8,1354.4 L1226.5,1354.3 L1229.2,1354.2 L1231.8,1354.0 L1234.5,1353.9 L1237.2,1353.8 L1239.9,1353.7 L1242.6,1353.6 L1245.3,1353.5 L1248.0,1353.4 L1250.7,1353.3 L1253.4,1353.2 L1256.1,1353.1 L1258.7,1353.0 L1261.4,1352.9 L1264.1,1352.8 L1266.8,1352.7 L1269.5,1352.6 L1272.2,1352.5 L1274.9,1352.4 L1277.6,1352.3 L1280.3,1352.2 L1283.0,1352.1 L1285.7,1352.0 L1288.4,1352.0 L1291.1,1351.9 L1293.8,1351.8 L1296.5,1351.7 L1299.2,1351.6 L1301.9,1351.5 L1304.6,1351.5 L1307.3,1351.4 L1310.0,1351.3 L1312.7,1351.2 L1315.4,1351.2 L1318.1,1351.1 L1320.8,1351.0 L1323.5,1351.0 L1326.2,1350.9 L1328.9,1350.8 L1331.6,1350.8 L1334.3,1350.7 L1337.0,1350.6 L1339.7,1350.6 L1342.3,1350.5 L1345.0,1350.5 L1347.7,1350.4 L1350.4,1350.4 L1353.1,1350.3 L1355.8,1350.3 L1358.5,1350.2 L1361.2,1350.2 L1363.9,1350.1 L1366.6,1350.1 L1369.3,1350.0 L1372.0,1350.0 L1374.7,1350.0 L1377.4,1349.9 L1380.1,1349.9 L1382.7,1349.9 L1385.4,1349.8 L1388.1,1349.8 L1390.8,1349.8 L1393.5,1349.7 L1396.2,1349.7 L1398.9,1349.7 L1401.5,1349.7 L1404.2,1349.7 L1406.9,1349.6 L1409.6,1349.6 L1412.3,1349.6 L1414.9,1349.6 L1417.6,1349.6 L1420.3,1349.6 L1423.0,1349.6 L1425.7,1349.6 L1428.3,1349.5 L1431.0,1349.5 L1433.7,1349.5 L1436.3,1349.5 L1439.0,1349.5 L1441.7,1349.6 L1444.3,1349.6 L1447.0,1349.6 L1449.7,1349.6 L1452.3,1349.6 L1455.0,1349.6" fill="none" stroke="#f00" stroke-width="1.5"/>
<path d="M262.5,1942.6a4.0,4.0 0 1,0 8.0,0a4.0,4.0 0 1,0 -8.0,0zM285.0,1942.5a4.0,4.0 0 1,0 8.0,0a4.0,4.0 0 1,0 -8.0,0zM307.5,1942.3a4.0,4.0 0 1,0 8.0,0a4.0,4.0 0 1,0 -8.0,0zM329.9,1941.8a4.0,4.0 0 1,0 8.0,0a4.0,4.0 0 1,0 -8.0,0zM352.4,1941.0a4.0,4.0 0 1,0 8.0,0a4.0,4.0 0 1,0 -8.0,0zM374.9,1940.1a4.0,4.0 0 1,0 8.0,0a4.0,4.0 0 1,0 -8.0,0zM397.4,1939.0a4.0,4.0 0 1,0 8.0,0a4.0,4.0 0 1,0 -8.0,0zM419.9,1937.7a4.0,4.0 0 1,0 8.0,0a4.0,4.0 0 1,0 -8.0,0zM442.2,1936.4a4.0,4.0 0 1,0 8.0,0a4.0,4.0 0 1,0 -8.0,0zM463.7,1935.0a4.0,4.0 0 1,0 8.0,0a4.0,4.0 0 1,0 -8.0,0zM483.9,1933.6a4.0,4.0 0 1,0 8.0,0a4.0,4.0 0 1,0 -8.0,0zM503.1,1932.3a4.0,4.0 0 1,0 8.0,0a4.0,4.0 0 1,0 -8.0,0zM521.3,1931.0a4.0,4.0 0 1,0 8.0,0a4.0,4.0 0 1,0 -8.0,0zM538.5,1929.9a4.0,4.0 0 1,0 8.0,0a4.0,4.0 0 1,0 -8.0,0zM554.8,1928.8a4.0,4.0 0 1,0 8.0,0a4.0,4.0 0 1,0 -8.0,0zM570.2,1927.8a4.0,4.0 0 1,0 8.0,0a4.0,4.0 0 1,0 -8.0,0zM584.8,1926.8a4.0,4.0 0 1,0 8.0,0a4.0,4.0 0 1,0 -8.0,0zM598.6,1926.0a4.0,4.0 0 1,0 8.0,0a4.0,4.0 0 1,0 -8.0,0zM611.7,1925.2a4.0,4.0 0 1,0 8.0,0a4.0,4.0 0 1,0 -8.0,0zM624.1,1924.6a4.0,4.0 0 1,0 8.0,0a4.0,4.0 0 1,0 -8.0,0zM635.8,1923.9a4.0,4.0 0 1,0 8.0,0a4.0,4.0 0 1,0 -8.0,0zM647.0,1923.4a4.0,4.0 0 1,0 8.0,0a4.0,4.0 0 1,0 -8.0,0zM657.9,1922.9a4.0,4.0 0 1,0 8.0,0a4.0,4.0 0 1,0 -8.0,0zM668.9,1922.3a4.0,4.0 0 1,0 8.0,0a4.0,4.0 0 1,0 -8.0,0zM679.9,1921.6a4.0,4.0 0 1,0 8.0,0a4.0,4.0 0 1,0 -8.0,0zM690.9,1920.7a4.0,4.0 0 1,0 8.0,0a4.0,4.0 0 1,0 -8.0,0zM701.8,1919.7a4.0,4.0 0 1,0 8.0,0a4.0,4.0 0 1,0 -8.0,0zM712.8,1918.4a4.0,4.0 0 1,0 8.0,0a4.0,4.0 0 1,0 -8.0,0zM723.6,1916.8a4.0,4.0 0 1,0 8.0,0a4.0,4.0 0 1,0 -8.0,0zM734.4,1914.8a4.0,4.0 0 1,0 8.0,0a4.0,4.0 0 1,0 -8.0,0zM745.2,1912.3a4.0,4.0 0 1,0 8.0,0a4.0,4.0 0 1,0 -8.0,0zM755.7,1909.2a4.0,4.0 0 1,0 8.0,0a4.0,4.0 0 1,0 -8.0,0zM766.1,1905.5a4.0,4.0 0 1,0 8.0,0a4.0,4.0 0 1,0 -8.0,0zM776.1,1901.0a4.0,4.0 0 1,0 8.0,0a4.0,4.0 0 1,0 -8.0,0zM785.7,1895.7a4.0,4.0 0 1,0 8.0,0a4.0,4.0 0 1,0 -8.0,0zM794.7,1889.3a4.0,4.0 0 1,0 8.0,0a4.0,4.0 0 1,0 -8.0,0zM802.8,1881.9a4.0,4.0 0 1,0 8.0,0a4.0,4.0 0 1,0 -8.0,0zM810.0,1873.6a4.0,4.0 0 1,0 8.0,0a4.0,4.0 0 1,0 -8.0,0zM816.4,1864.7a4.0,4.0 0 1,0 8.0,0a4.0,4.0 0 1,0 -8.0,0zM822.0,1855.2a4.0,4.0 0 1,0 8.0,0a4.0,4.0 0 1,0 -8.0,0zM826.6,1845.2a4.0,4.0 0 1,0 8.0,0a4.0,4.0 0 1,0 -8.0,0zM830.4,1834.9a4.0,4.0 0 1,0 8.0,0a4.0,4.0 0 1,0 -8.0,0zM833.5,1824.3a4.0,4.0 0 1,0 8.0,0a4.0,4.0 0 1,0 -8.0,0zM835.8,1813.6a4.0,4.0 0 1,0 8.0,0a4.0,4.0 0 1,0 -8.0,0zM837.8,1802.7a4.0,4.0 0 1,0 8.0,0a4.0,4.0 0 1,0 -8.0,0zM839.4,1791.9a4.0,4.0 0 1,0 8.0,0a4.0,4.0 0 1,0 -8.0,0zM840.8,1781.0a4.0,4.0 0 1,0 8.0,0a4.0,4.0 0 1,0 -8.0,0zM842.1,1770.0a4.0,4.0 0 1,0 8.0,0a4.0,4.0 0 1,0 -8.0,0zM843.2,1759.1a4.0,4.0 0 1,0 8.0,0a4.0,4.0 0 1,0 -8.0,0zM844.2,1748.1a4.0,4.0 0 1,0 8.0,0a4.0,4.0 0 1,0 -8.0,0zM845.2,1737.2a4.0,4.0 0 1,0 8.0,0a4.0,4.0 0 1,0 -8.0,0zM846.0,1726.2a4.0,4.0 0 1,0 8.0,0a4.0,4.0 0 1,0 -8.0,0zM846.7,1715.2a4.0,4.0 0 1,0 8.0,0a4.0,4.0 0 1,0 -8.0,0zM847.4,1704.3a4.0,4.0 0 1,0 8.0,0a4.0,4.0 0 1,0 -8.0,0zM848.0,1693.3a4.0,4.0 0 1,0 8.0,0a4.0,4.0 0 1,0 -8.0,0zM848.6,1682.3a4.0,4.0 0 1,0 8.0,0a4.0,4.0 0 1,0 -8.0,0zM849.1,1671.3a4.0,4.0 0 1,0 8.0,0a4.0,4.0 0 1,0 -8.0,0zM849.6,1660.3a4.0,4.0 0 1,0 8.0,0a4.0,4.0 0 1,0 -8.0,0zM850.1,1649.3a4.0,4.0 0 1,0 8.0,0a4.0,4.0 0 1,0 -8.0,0zM850.6,1638.3a4.0,4.0 0 1,0 8.0,0a4.0,4.0 0 1,0 -8.0,0zM851.1,1627.3a4.0,4.0 0 1,0 8.0,0a4.0,4.0 0 1,0 -8.0,0zM851.7,1616.4a4.0,4.0 0 1,0 8.0,0a4.0,4.0 0 1,0 -8.0,0zM852.3,1605.4a4.0,4.0 0 1,0 8.0,0a4.0,4.0 0 1,0 -8.0,0zM853.0,1594.4a4.0,4.0 0 1,0 8.0,0a4.0,4.0 0 1,0 -8.0,0zM853.8,1583.4a4.0,4.0 0 1,0 8.0,0a4.0,4.0 0 1,0 -8.0,0zM854.7,1572.5a4.0,4.0 0 1,0 8.0,0a4.0,4.0 0 1,0 -8.0,0zM855.8,1561.5a4.0,4.0 0 1,0 8.0,0a4.0,4.0 0 1,0 -8.0,0zM857.0,1550.6a4.0,4.0 0 1,0 8.0,0a4.0,4.0 0 1,0 -8.0,0zM858.4,1539.7a4.0,4.0 0 1,0 8.0,0a4.0,4.0 0 1,0 -8.0,0zM860.1,1528.8a4.0,4.0 0 1,0 8.0,0a4.0,4.0 0 1,0 -8.0,0zM861.9,1518.0a4.0,4.0 0 1,0 8.0,0a4.0,4.0 0 1,0 -8.0,0zM864.0,1507.2a4.0,4.0 0 1,0 8.0,0a4.0,4.0 0 1,0 -8.0,0zM866.4,1496.4a4.0,4.0 0 1,0 8.0,0a4.0,4.0 0 1,0 -8.0,0zM869.1,1485.7a4.0,4.0 0 1,0 8.0,0a4.0,4.0 0 1,0 -8.0,0zM872.1,1475.2a4.0,4.0 0 1,0 8.0,0a4.0,4.0 0 1,0 -8.0,0zM875.5,1464.7a4.0,4.0 0 1,0 8.0,0a4.0,4.0 0 1,0 -8.0,0zM879.5,1454.5a4.0,4.0 0 1,0 8.0,0a4.0,4.0 0 1,0 -8.0,0zM884.1,1444.5a4.0,4.0 0 1,0 8.0,0a4.0,4.0 0 1,0 -8.0,0zM889.4,1434.9a4.0,4.0 0 1,0 8.0,0a4.0,4.0 0 1,0 -8.0,0zM895.6,1425.8a4.0,4.0 0 1,0 8.0,0a4.0,4.0 0 1,0 -8.0,0zM902.6,1417.3a4.0,4.0 0 1,0 8.0,0a4.0,4.0 0 1,0 -8.0,0zM910.5,1409.6a4.0,4.0 0 1,0 8.0,0a4.0,4.0 0 1,0 -8.0,0zM918.8,1402.4a4.0,4.0 0 1,0 8.0,0a4.0,4.0 0 1,0 -8.0,0zM927.8,1396.1a4.0,4.0 0 1,0 8.0,0a4.0,4.0 0 1,0 -8.0,0zM937.3,1390.7a4.0,4.0 0 1,0 8.0,0a4.0,4.0 0 1,0 -8.0,0zM947.3,1386.0a4.0,4.0 0 1,0 8.0,0a4.0,4.0 0 1,0 -8.0,0zM957.6,1382.2a4.0,4.0 0 1,0 8.0,0a4.0,4.0 0 1,0 -8.0,0zM968.1,1378.9a4.0,4.0 0 1,0 8.0,0a4.0,4.0 0 1,0 -8.0,0zM978.8,1376.1a4.0,4.0 0 1,0 8.0,0a4.0,4.0 0 1,0 -8.0,0zM989.5,1373.8a4.0,4.0 0 1,0 8.0,0a4.0,4.0 0 1,0 -8.0,0zM1000.3,1371.9a4.0,4.0 0 1,0 8.0,0a4.0,4.0 0 1,0 -8.0,0zM1011.2,1370.2a4.0,4.0 0 1,0 8.0,0a4.0,4.0 0 1,0 -8.0,0zM1022.1,1368.7a4.0,4.0 0 1,0 8.0,0a4.0,4.0 0 1,0 -8.0,0zM1033.0,1367.3a4.0,4.0 0 1,0 8.0,0a4.0,4.0 0 1,0 -8.0,0zM1043.9,1366.0a4.0,4.0 0 1,0 8.0,0a4.0,4.0 0 1,0 -8.0,0zM1055.2,1364.8a4.0,4.0 0 1,0 8.0,0a4.0,4.0 0 1,0 -8.0,0zM1067.1,1363.6a4.0,4.0 0 1,0 8.0,0a4.0,4.0 0 1,0 -8.0,0zM1079.7,1362.5a4.0,4.0 0 1,0 8.0,0a4.0,4.0 0 1,0 -8.0,0zM1093.0,1361.5a4.0,4.0 0 1,0 8.0,0a4.0,4.0 0 1,0 -8.0,0zM1107.1,1360.5a4.0,4.0 0 1,0 8.0,0a4.0,4.0 0 1,0 -8.0,0zM1122.0,1359.5a4.0,4.0 0 1,0 8.0,0a4.0,4.0 0 1,0 -8.0,0zM1137.7,1358.5a4.0,4.0 0 1,0 8.0,0a4.0,4.0 0 1,0 -8.0,0zM1154.3,1357.6a4.0,4.0 0 1,0 8.0,0a4.0,4.0 0 1,0 -8.0,0zM1171.8,1356.7a4.0,4.0 0 1,0 8.0,0a4.0,4.0 0 1,0 -8.0,0zM1190.4,1355.8a4.0,4.0 0 1,0 8.0,0a4.0,4.0 0 1,0 -8.0,0zM1210.0,1354.8a4.0,4.0 0 1,0 8.0,0a4.0,4.0 0 1,0 -8.0,0zM1230.7,1353.9a4.0,4.0 0 1,0 8.0,0a4.0,4.0 0 1,0 -8.0,0zM1252.5,1353.1a4.0,4.0 0 1,0 8.0,0a4.0,4.0 0 1,0 -8.0,0zM1275.0,1352.3a4.0,4.0 0 1,0 8.0,0a4.0,4.0 0 1,0 -8.0,0zM1297.5,1351.6a4.0,4.0 0 1,0 8.0,0a4.0,4.0 0 1,0 -8.0,0zM1320.0,1351.0a4.0,4.0 0 1,0 8.0,0a4.0,4.0 0 1,0 -8.0,0zM1342.5,1350.4a4.0,4.0 0 1,0 8.0,0a4.0,4.0 0 1,0 -8.0,0zM1365.0,1350.1a4.0,4.0 0 1,0 8.0,0a4.0,4.0 0 1,0 -8.0,0zM1387.5,1349.8a4.0,4.0 0 1,0 8.0,0a4.0,4.0 0 1,0 -8.0,0zM1410.0,1349.6a4.0,4.0 0 1,0 8.0,0a4.0,4.0 0 1,0 -8.0,0zM1432.5,1349.5a4.0,4.0 0 1,0 8.0,0a4.0,4.0 0 1,0 -8.0,0z" fill="#f00"/>
<path d="M244.0,1932.5 L246.8,1932.5 L249.6,1932.6 L252.4,1932.6 L255.2,1932.6 L258.0,1932.6 L260.8,1932.7 L263.6,1932.7 L266.3,1932.7 L269.1,1932.7 L271.9,1932.7 L274.6,1932.7 L277.4,1932.7 L280.2,1932.7 L282.9,1932.7 L285.6,1932.7 L288.4,1932.7 L291.1,1932.7 L293.9,1932.6 L296.6,1932.6 L299.3,1932.6 L302.0,1932.6 L304.8,1932.5 L307.5,1932.5 L310.2,1932.4 L312.9,1932.4 L315.6,1932.3 L318.3,1932.3 L321.0,1932.2 L323.7,1932.2 L326.4,1932.1 L329.0,1932.0 L331.7,1932.0 L334.4,1931.9 L337.1,1931.8 L339.7,1931.7 L342.4,1931.7 L345.1,1931.6 L347.7,1931.5 L350.4,1931.4 L353.1,1931.3 L355.7,1931.2 L358.4,1931.1 L361.0,1931.0 L363.7,1930.9 L366.3,1930.8 L369.0,1930.7 L371.6,1930.6 L374.2,1930.5 L376.9,1930.4 L379.5,1930.3 L382.1,1930.1 L384.8,1930.0 L387.4,1929.9 L390.0,1929.8 L392.7,1929.6 L395.3,1929.5 L397.9,1929.4 L400.5,1929.2 L403.2,1929.1 L405.8,1929.0 L408.4,1928.8 L411.0,1928.7 L413.6,1928.6 L416.2,1928.4 L418.9,1928.3 L421.5,1928.1 L424.1,1928.0 L426.7,1927.8 L429.3,1927.7 L431.9,1927.5 L434.5,1927.4 L437.2,1927.2 L439.8,1927.0 L442.4,1926.9 L445.0,1926.7 L447.6,1926.6 L450.2,1926.4 L452.8,1926.2 L455.4,1926.1 L458.0,1925.9 L460.7,1925.7 L463.3,1925.6 L465.9,1925.4 L468.5,1925.2 L471.1,1925.1 L473.7,1924.9 L476.3,1924.7 L479.0,1924.5 L481.6,1924.4 L484.2,1924.2 L486.8,1924.0 L489.4,1923.8 L492.1,1923.7 L494.7,1923.5 L497.3,1923.3 L499.9,1923.1 L502.6,1923.0 L505.2,1922.8 L507.8,1922.6 L510.4,1922.4 L513.1,1922.3 L515.7,1922.1 L518.3,1921.9 L521.0,1921.7 L523.6,1921.5 L526.3,1921.4 L528.9,1921.2 L531.6,1921.0 L534.2,1920.8 L536.9,1920.7 L539.5,1920.5 L542.2,1920.3 L544.8,1920.1 L547.5,1919.9 L550.2,1919.8 L552.8,1919.6 L555.5,1919.4 L558.2,1919.2 L560.9,1919.1 L563.5,1918.9 L566.2,1918.7 L568.9,1918.6 L571.6,1918.4 L574.3,1918.2 L577.0,1918.0 L579.7,1917.9 L582.4,1917.7 L585.1,1917.5 L587.8,1917.4 L590.5,1917.2 L593.3,1917.0 L596.0,1916.9 L598.7,1916.7 L601.4,1916.6 L604.2,1916.4 L606.9,1916.2 L609.7,1916.1 L612.4,1915.9 L615.2,1915.8 L617.9,1915.6 L620.7,1915.5 L623.5,1915.3 L626.2,1915.2 L629.0,1915.0 L631.8,1914.9 L634.6,1914.8 L637.4,1914.6 L640.2,1914.5 L643.0,1914.3 L645.8,1914.2 L648.6,1914.1 L651.4,1913.9 L654.2,1913.8 L657.1,1913.7 L659.9,1913.5 L662.7,1913.4 L665.6,1913.3 L668.4,1913.1 L671.2,1913.0 L674.1,1912.8 L676.9,1912.6 L679.7,1912.5 L682.5,1912.3 L685.4,1912.1 L688.2,1911.9 L691.0,1911.7 L693.8,1911.4 L696.6,1911.2 L699.4,1910.9 L702.2,1910.7 L704.9,1910.4 L707.7,1910.0 L710.4,1909.7 L713.2,1909.4 L715.9,1909.0 L718.6,1908.6 L721.3,1908.2 L724.0,1907.7 L726.7,1907.2 L729.3,1906.7 L732.0,1906.2 L734.6,1905.6 L737.2,1905.0 L739.8,1904.4 L742.3,1903.8 L744.9,1903.1 L747.4,1902.4 L749.9,1901.6 L752.4,1900.8 L754.8,1900.0 L757.3,1899.1 L759.7,1898.2 L762.0,1897.3 L764.4,1896.3 L766.7,1895.3 L769.0,1894.2 L771.3,1893.1 L773.5,1892.0 L775.7,1890.8 L777.9,1889.5 L780.0,1888.2 L782.2,1886.9 L784.2,1885.5 L786.3,1884.0 L788.3,1882.5 L790.3,1881.0 L792.2,1879.4 L794.1,1877.7 L796.0,1876.0 L797.8,1874.3 L799.6,1872.5 L801.3,1870.6 L803.1,1868.7 L804.7,1866.8 L806.3,1864.8 L807.9,1862.8 L809.5,1860.7 L811.0,1858.6 L812.4,1856.5 L813.8,1854.3 L815.2,1852.1 L816.5,1849.8 L817.8,1847.5 L819.0,1845.2 L820.2,1842.8 L821.3,1840.4 L822.4,1838.0 L823.4,1835.6 L824.4,1833.1 L825.3,1830.6 L826.2,1828.1 L827.0,1825.5 L827.8,1822.9 L828.6,1820.3 L829.3,1817.7 L829.9,1815.1 L830.6,1812.4 L831.2,1809.8 L831.7,1807.1 L832.3,1804.4 L832.8,1801.7 L833.3,1799.0 L833.7,1796.3 L834.1,1793.5 L834.6,1790.8 L835.0,1788.1 L835.4,1785.4 L835.7,1782.6 L836.1,1779.9 L836.5,1777.2 L836.8,1774.5 L837.1,1771.8 L837.5,1769.0 L837.8,1766.3 L838.1,1763.6 L838.4,1760.9 L838.7,1758.2 L839.0,1755.5 L839.3,1752.8 L839.5,1750.1 L839.8,1747.4 L840.0,1744.7 L840.3,1742.0 L840.5,1739.3 L840.8,1736.6 L841.0,1733.9 L841.2,1731.3 L841.4,1728.6 L841.6,1725.9 L841.8,1723.2 L842.0,1720.5 L842.2,1717.8 L842.4,1715.2 L842.6,1712.5 L842.8,1709.8 L842.9,1707.1 L843.1,1704.5 L843.3,1701.8 L843.4,1699.1 L843.6,1696.4 L843.7,1693.8 L843.9,1691.1 L844.0,1688.4 L844.2,1685.7 L844.3,1683.1 L844.4,1680.4 L844.6,1677.7 L844.7,1675.1 L844.8,1672.4 L845.0,1669.7 L845.1,1667.1 L845.2,1664.4 L845.4,1661.7 L845.5,1659.1 L845.6,1656.4 L845.7,1653.7 L845.9,1651.0 L846.0,1648.4 L846.1,1645.7 L846.2,1643.0 L846.4,1640.4 L846.5,1637.7 L846.6,1635.0 L846.7,1632.3 L846.9,1629.7 L847.0,1627.0 L847.1,1624.3 L847.3,1621.6 L847.4,1619.0 L847.5,1616.3 L847.7,1613.6 L847.8,1610.9 L848.0,1608.2 L848.1,1605.6 L848.3,1602.9 L848.5,1600.2 L848.6,1597.5 L848.8,1594.8 L849.0,1592.2 L849.2,1589.5 L849.4,1586.8 L849.6,1584.1 L849.8,1581.4 L850.0,1578.7 L850.2,1576.1 L850.5,1573.4 L850.7,1570.7 L851.0,1568.0 L851.2,1565.3 L851.5,1562.7 L851.8,1560.0 L852.1,1557.3 L852.4,1554.6 L852.7,1551.9 L853.0,1549.3 L853.3,1546.6 L853.7,1543.9 L854.1,1541.2 L854.4,1538.6 L854.8,1535.9 L855.2,1533.2 L855.6,1530.5 L856.1,1527.9 L856.5,1525.2 L857.0,1522.5 L857.4,1519.9 L857.9,1517.2 L858.4,1514.6 L859.0,1511.9 L859.5,1509.2 L860.0,1506.6 L860.6,1503.9 L861.2,1501.3 L861.8,1498.6 L862.4,1496.0 L863.1,1493.3 L863.8,1490.7 L864.4,1488.0 L865.1,1485.4 L865.9,1482.8 L866.6,1480.1 L867.4,1477.5 L868.2,1474.9 L869.0,1472.3 L869.9,1469.7 L870.8,1467.2 L871.7,1464.6 L872.6,1462.1 L873.6,1459.6 L874.6,1457.1 L875.7,1454.7 L876.7,1452.2 L877.9,1449.8 L879.0,1447.4 L880.2,1445.0 L881.4,1442.7 L882.7,1440.4 L884.0,1438.2 L885.4,1435.9 L886.8,1433.7 L888.3,1431.6 L889.8,1429.5 L891.3,1427.4 L892.9,1425.3 L894.5,1423.3 L896.2,1421.4 L898.0,1419.5 L899.7,1417.6 L901.5,1415.8 L903.4,1414.0 L905.3,1412.3 L907.2,1410.6 L909.2,1408.9 L911.2,1407.3 L913.3,1405.8 L915.4,1404.3 L917.5,1402.8 L919.7,1401.4 L921.9,1400.0 L924.1,1398.7 L926.4,1397.4 L928.7,1396.2 L931.0,1395.0 L933.4,1393.8 L935.8,1392.7 L938.2,1391.6 L940.6,1390.6 L943.1,1389.6 L945.6,1388.6 L948.1,1387.7 L950.7,1386.8 L953.2,1385.9 L955.8,1385.1 L958.4,1384.3 L961.0,1383.5 L963.6,1382.7 L966.3,1382.0 L969.0,1381.3 L971.6,1380.7 L974.3,1380.0 L977.0,1379.4 L979.7,1378.8 L982.5,1378.2 L985.2,1377.7 L987.9,1377.1 L990.7,1376.6 L993.4,1376.1 L996.2,1375.6 L998.9,1375.2 L1001.7,1374.7 L1004.4,1374.3 L1007.2,1373.8 L1009.9,1373.4 L1012.7,1373.0 L1015.4,1372.6 L1018.2,1372.3 L1020.9,1371.9 L1023.7,1371.5 L1026.4,1371.2 L1029.1,1370.8 L1031.8,1370.5 L1034.6,1370.1 L1037.3,1369.8 L1040.0,1369.5 L1042.7,1369.2 L1045.4,1368.9 L1048.1,1368.6 L1050.8,1368.3 L1053.5,1368.0 L1056.1,1367.7 L1058.8,1367.4 L1061.5,1367.2 L1064.2,1366.9 L1066.9,1366.6 L1069.5,1366.4 L1072.2,1366.2 L1074.9,1365.9 L1077.5,1365.7 L1080.2,1365.5 L1082.8,1365.2 L1085.5,1365.0 L1088.1,1364.8 L1090.8,1364.6 L1093.5,1364.4 L1096.1,1364.2 L1098.8,1364.0 L1101.4,1363.8 L1104.0,1363.6 L1106.7,1363.4 L1109.3,1363.2 L1112.0,1363.1 L1114.6,1362.9 L1117.3,1362.7 L1119.9,1362.6 L1122.6,1362.4 L1125.2,1362.2 L1127.9,1362.1 L1130.5,1361.9 L1133.1,1361.8 L1135.8,1361.6 L1138.4,1361.4 L1141.1,1361.3 L1143.7,1361.1 L1146.4,1361.0 L1149.0,1360.9 L1151.7,1360.7 L1154.3,1360.6 L1157.0,1360.4 L1159.6,1360.3 L1162.3,1360.1 L1165.0,1360.0 L1167.6,1359.9 L1170.3,1359.7 L1173.0,1359.6 L1175.6,1359.4 L1178.3,1359.3 L1180.9,1359.2 L1183.6,1359.0 L1186.3,1358.9 L1189.0,1358.8 L1191.6,1358.7 L1194.3,1358.5 L1197.0,1358.4 L1199.7,1358.3 L1202.3,1358.2 L1205.0,1358.0 L1207.7,1357.9 L1210.4,1357.8 L1213.1,1357.7 L1215.7,1357.5 L1218.4,1357.4 L1221.1,1357.3 L1223.8,1357.2 L1226.5,1357.1 L1229.2,1357.0 L1231.8,1356.9 L1234.5,1356.8 L1237.2,1356.6 L1239.9,1356.5 L1242.6,1356.4 L1245.3,1356.3 L1248.0,1356.2 L1250.7,1356.1 L1253.4,1356.0 L1256.1,1355.9 L1258.7,1355.8 L1261.4,1355.7 L1264.1,1355.6 L1266.8,1355.5 L1269.5,1355.4 L1272.2,1355.3 L1274.9,1355.3 L1277.6,1355.2 L1280.3,1355.1 L1283.0,1355.0 L1285.7,1354.9 L1288.4,1354.8 L1291.1,1354.7 L1293.8,1354.7 L1296.5,1354.6 L1299.2,1354.5 L1301.9,1354.4 L1304.6,1354.3 L1307.3,1354.3 L1310.0,1354.2 L1312.7,1354.1 L1315.4,1354.0 L1318.1,1354.0 L1320.8,1353.9 L1323.5,1353.8 L1326.2,1353.8 L1328.9,1353.7 L1331.6,1353.7 L1334.3,1353.6 L1337.0,1353.5 L1339.7,1353.5 L1342.3,1353.4 L1345.0,1353.4 L1347.7,1353.3 L1350.4,1353.3 L1353.1,1353.2 L1355.8,1353.2 L1358.5,1353.1 L1361.2,1353.1 L1363.9,1353.0 L1366.6,1353.0 L1369.3,1352.9 L1372.0,1352.9 L1374.7,1352.9 L1377.4,1352.8 L1380.1,1352.8 L1382.7,1352.8 L1385.4,1352.7 L1388.1,1352.7 L1390.8,1352.7 L1393.5,1352.7 L1396.2,1352.6 L1398.9,1352.6 L1401.5,1352.6 L1404.2,1352.6 L1406.9,1352.5 L1409.6,1352.5 L1412.3,1352.5 L1414.9,1352.5 L1417.6,1352.5 L1420.3,1352.5 L1423.0,1352.5 L1425.7,1352.5 L1428.3,1352.5 L1431.0,1352.5 L1433.7,1352.5 L1436.3,1352.5 L1439.0,1352.5 L1441.7,1352.5 L1444.3,1352.5 L1447.0,1352.5 L1449.7,1352.5 L1452.3,1352.5 L1455.0,1352.5" fill="none" stroke="#00f" stroke-width="8.0"/>
<path d="M266.5,1924.3l8.0,14.0h-16.0zM289.0,1924.3l8.0,14.0h-16.0zM311.5,1924.0l8.0,14.0h-16.0zM333.9,1923.5l8.0,14.0h-16.0zM356.4,1922.8l8.0,14.0h-16.0zM378.9,1921.9l8.0,14.0h-16.0zM401.4,1920.8l8.0,14.0h-16.0zM423.9,1919.6l8.0,14.0h-16.0zM446.2,1918.2l8.0,14.0h-16.0zM467.7,1916.9l8.0,14.0h-16.0zM488.0,1915.5l8.0,14.0h-16.0zM507.2,1914.3l8.0,14.0h-16.0zM525.3,1913.0l8.0,14.0h-16.0zM542.5,1911.9l8.0,14.0h-16.0zM558.8,1910.8l8.0,14.0h-16.0zM574.2,1909.8l8.0,14.0h-16.0zM588.8,1908.9l8.0,14.0h-16.0zM602.7,1908.1l8.0,14.0h-16.0zM615.7,1907.4l8.0,14.0h-16.0zM628.1,1906.7l8.0,14.0h-16.0zM639.8,1906.1l8.0,14.0h-16.0zM650.9,1905.6l8.0,14.0h-16.0zM661.5,1905.1l8.0,14.0h-16.0zM671.4,1904.6l8.0,14.0h-16.0zM680.8,1904.0l8.0,14.0h-16.0zM689.7,1903.4l8.0,14.0h-16.0zM698.1,1902.7l8.0,14.0h-16.0zM706.1,1901.8l8.0,14.0h-16.0zM713.6,1900.9l8.0,14.0h-16.0zM720.7,1899.9l8.0,14.0h-16.0zM727.4,1898.7l8.0,14.0h-16.0zM733.7,1897.4l8.0,14.0h-16.0zM960.7,1375.2l8.0,14.0h-16.0zM966.9,1373.5l8.0,14.0h-16.0zM973.4,1371.8l8.0,14.0h-16.0zM980.3,1370.3l8.0,14.0h-16.0zM987.7,1368.8l8.0,14.0h-16.0zM995.5,1367.3l8.0,14.0h-16.0zM1003.7,1366.0l8.0,14.0h-16.0zM1012.5,1364.7l8.0,14.0h-16.0zM1021.7,1363.4l8.0,14.0h-16.0zM1031.5,1362.1l8.0,14.0h-16.0zM1041.8,1360.9l8.0,14.0h-16.0zM1052.7,1359.7l8.0,14.0h-16.0zM1064.2,1358.5l8.0,14.0h-16.0zM1076.4,1357.4l8.0,14.0h-16.0zM1089.3,1356.3l8.0,14.0h-16.0zM1103.0,1355.3l8.0,14.0h-16.0zM1117.4,1354.3l8.0,14.0h-16.0zM1132.6,1353.4l8.0,14.0h-16.0zM1148.7,1352.5l8.0,14.0h-16.0zM1165.7,1351.6l8.0,14.0h-16.0zM1183.7,1350.6l8.0,14.0h-16.0zM1202.7,1349.7l8.0,14.0h-16.0zM1222.7,1348.8l8.0,14.0h-16.0zM1243.9,1348.0l8.0,14.0h-16.0zM1266.2,1347.1l8.0,14.0h-16.0zM1288.7,1346.4l8.0,14.0h-16.0zM1311.2,1345.8l8.0,14.0h-16.0zM1333.7,1345.2l8.0,14.0h-16.0zM1356.2,1344.8l8.0,14.0h-16.0zM1378.7,1344.4l8.0,14.0h-16.0zM1401.2,1344.2l8.0,14.0h-16.0zM1423.7,1344.1l8.0,14.0h-16.0zM1446.2,1344.1l8.0,14.0h-16.0z" fill="#00f"/>
<path d="M244.0,1939.5 L246.8,1939.5 L249.6,1939.6 L252.4,1939.6 L255.2,1939.6 L258.0,1939.6 L260.8,1939.7 L263.6,1939.7 L266.3,1939.7 L269.1,1939.7 L271.9,1939.7 L274.6,1939.7 L277.4,1939.7 L280.2,1939.7 L282.9,1939.7 L285.6,1939.7 L288.4,1939.7 L291.1,1939.7 L293.9,1939.6 L296.6,1939.6 L299.3,1939.6 L302.0,1939.6 L304.8,1939.5 L307.5,1939.5 L310.2,1939.4 L312.9,1939.4 L315.6,1939.3 L318.3,1939.3 L321.0,1939.2 L323.7,1939.2 L326.4,1939.1 L329.0,1939.0 L331.7,1939.0 L334.4,1938.9 L337.1,1938.8 L339.7,1938.7 L342.4,1938.7 L345.1,1938.6 L347.7,1938.5 L350.4,1938.4 L353.1,1938.3 L355.7,1938.2 L358.4,1938.1 L361.0,1938.0 L363.7,1937.9 L366.3,1937.8 L369.0,1937.7 L371.6,1937.6 L374.2,1937.5 L376.9,1937.4 L379.5,1937.3 L382.1,1937.1 L384.8,1937.0 L387.4,1936.9 L390.0,1936.8 L392.7,1936.6 L395.3,1936.5 L397.9,1936.4 L400.5,1936.2 L403.2,1936.1 L405.8,1936.0 L408.4,1935.8 L411.0,1935.7 L413.6,1935.6 L416.2,1935.4 L418.9,1935.3 L421.5,1935.1 L424.1,1935.0 L426.7,1934.8 L429.3,1934.7 L431.9,1934.5 L434.5,1934.4 L437.2,1934.2 L439.8,1934.0 L442.4,1933.9 L445.0,1933.7 L447.6,1933.6 L450.2,1933.4 L452.8,1933.2 L455.4,1933.1 L458.0,1932.9 L460.7,1932.7 L463.3,1932.6 L465.9,1932.4 L468.5,1932.2 L471.1,1932.1 L473.7,1931.9 L476.3,1931.7 L479.0,1931.5 L481.6,1931.4 L484.2,1931.2 L486.8,1931.0 L489.4,1930.8 L492.1,1930.7 L494.7,1930.5 L497.3,1930.3 L499.9,1930.1 L502.6,1930.0 L505.2,1929.8 L507.8,1929.6 L510.4,1929.4 L513.1,1929.3 L515.7,1929.1 L518.3,1928.9 L521.0,1928.7 L523.6,1928.5 L526.3,1928.4 L528.9,1928.2 L531.6,1928.0 L534.2,1927.8 L536.9,1927.7 L539.5,1927.5 L542.2,1927.3 L544.8,1927.1 L547.5,1926.9 L550.2,1926.8 L552.8,1926.6 L555.5,1926.4 L558.2,1926.2 L560.9,1926.1 L563.5,1925.9 L566.2,1925.7 L568.9,1925.6 L571.6,1925.4 L574.3,1925.2 L577.0,1925.0 L579.7,1924.9 L582.4,1924.7 L585.1,1924.5 L587.8,1924.4 L590.5,1924.2 L593.3,1924.0 L596.0,1923.9 L598.7,1923.7 L601.4,1923.6 L604.2,1923.4 L606.9,1923.2 L609.7,1923.1 L612.4,1922.9 L615.2,1922.8 L617.9,1922.6 L620.7,1922.5 L623.5,1922.3 L626.2,1922.2 L629.0,1922.0 L631.8,1921.9 L634.6,1921.8 L637.4,1921.6 L640.2,1921.5 L643.0,1921.3 L645.8,1921.2 L648.6,1921.1 L651.4,1920.9 L654.2,1920.8 L657.1,1920.7 L659.9,1920.5 L662.7,1920.4 L665.6,1920.3 L668.4,1920.1 L671.2,1920.0 L674.1,1919.8 L676.9,1919.6 L679.7,1919.5 L682.5,1919.3 L685.4,1919.1 L688.2,1918.9 L691.0,1918.7 L693.8,1918.4 L696.6,1918.2 L699.4,1917.9 L702.2,1917.7 L704.9,1917.4 L707.7,1917.0 L710.4,1916.7 L713.2,1916.4 L715.9,1916.0 L718.6,1915.6 L721.3,1915.2 L724.0,1914.7 L726.7,1914.2 L729.3,1913.7 L732.0,1913.2 L734.6,1912.6 L737.2,1912.0 L739.8,1911.4 L742.3,1910.8 L744.9,1910.1 L747.4,1909.4 L749.9,1908.6 L752.4,1907.8 L754.8,1907.0 L757.3,1906.1 L759.7,1905.2 L762.0,1904.3 L764.4,1903.3 L766.7,1902.3 L769.0,1901.2 L771.3,1900.1 L773.5,1899.0 L775.7,1897.8 L777.9,1896.5 L780.0,1895.2 L782.2,1893.9 L784.2,1892.5 L786.3,1891.0 L788.3,1889.5 L790.3,1888.0 L792.2,1886.4 L794.1,1884.7 L796.0,1883.0 L797.8,1881.3 L799.6,1879.5 L801.3,1877.6 L803.1,1875.7 L804.7,1873.8 L806.3,1871.8 L807.9,1869.8 L809.5,1867.7 L811.0,1865.6 L812.4,1863.5 L813.8,1861.3 L815.2,1859.1 L816.5,1856.8 L817.8,1854.5 L819.0,1852.2 L820.2,1849.8 L821.3,1847.4 L822.4,1845.0 L823.4,1842.6 L824.4,1840.1 L825.3,1837.6 L826.2,1835.1 L827.0,1832.5 L827.8,1829.9 L828.6,1827.3 L829.3,1824.7 L829.9,1822.1 L830.6,1819.4 L831.2,1816.8 L831.7,1814.1 L832.3,1811.4 L832.8,1808.7 L833.3,1806.0 L833.7,1803.3 L834.1,1800.5 L834.6,1797.8 L835.0,1795.1 L835.4,1792.4 L835.7,1789.6 L836.1,1786.9 L836.5,1784.2 L836.8,1781.5 L837.1,1778.8 L837.5,1776.0 L837.8,1773.3 L838.1,1770.6 L838.4,1767.9 L838.7,1765.2 L839.0,1762.5 L839.3,1759.8 L839.5,1757.1 L839.8,1754.4 L840.0,1751.7 L840.3,1749.0 L840.5,1746.3 L840.8,1743.6 L841.0,1740.9 L841.2,1738.3 L841.4,1735.6 L841.6,1732.9 L841.8,1730.2 L842.0,1727.5 L842.2,1724.8 L842.4,1722.2 L842.6,1719.5 L842.8,1716.8 L842.9,1714.1 L843.1,1711.5 L843.3,1708.8 L843.4,1706.1 L843.6,1703.4 L843.7,1700.8 L843.9,1698.1 L844.0,1695.4 L844.2,1692.7 L844.3,1690.1 L844.4,1687.4 L844.6,1684.7 L844.7,1682.1 L844.8,1679.4 L845.0,1676.7 L845.1,1674.1 L845.2,1671.4 L845.4,1668.7 L845.5,1666.1 L845.6,1663.4 L845.7,1660.7 L845.9,1658.0 L846.0,1655.4 L846.1,1652.7 L846.2,1650.0 L846.4,1647.4 L846.5,1644.7 L846.6,1642.0 L846.7,1639.3 L846.9,1636.7 L847.0,1634.0 L847.1,1631.3 L847.3,1628.6 L847.4,1626.0 L847.5,1623.3 L847.7,1620.6 L847.8,1617.9 L848.0,1615.2 L848.1,1612.6 L848.3,1609.9 L848.5,1607.2 L848.6,1604.5 L848.8,1601.8 L849.0,1599.2 L849.2,1596.5 L849.4,1593.8 L849.6,1591.1 L849.8,1588.4 L850.0,1585.7 L850.2,1583.1 L850.5,1580.4 L850.7,1577.7 L851.0,1575.0 L851.2,1572.3 L851.5,1569.7 L851.8,1567.0 L852.1,1564.3 L852.4,1561.6 L852.7,1558.9 L853.0,1556.3 L853.3,1553.6 L853.7,1550.9 L854.1,1548.2 L854.4,1545.6 L854.8,1542.9 L855.2,1540.2 L855.6,1537.5 L856.1,1534.9 L856.5,1532.2 L857.0,1529.5 L857.4,1526.9 L857.9,1524.2 L858.4,1521.6 L859.0,1518.9 L859.5,1516.2 L860.0,1513.6 L860.6,1510.9 L861.2,1508.3 L861.8,1505.6 L862.4,1503.0 L863.1,1500.3 L863.8,1497.7 L864.4,1495.0 L865.1,1492.4 L865.9,1489.8 L866.6,1487.1 L867.4,1484.5 L868.2,1481.9 L869.0,1479.3 L869.9,1476.7 L870.8,1474.2 L871.7,1471.6 L872.6,1469.1 L873.6,1466.6 L874.6,1464.1 L875.7,1461.7 L876.7,1459.2 L877.9,1456.8 L879.0,1454.4 L880.2,1452.0 L881.4,1449.7 L882.7,1447.4 L884.0,1445.2 L885.4,1442.9 L886.8,1440.7 L888.3,1438.6 L889.8,1436.5 L891.3,1434.4 L892.9,1432.3 L894.5,1430.3 L896.2,1428.4 L898.0,1426.5 L899.7,1424.6 L901.5,1422.8 L903.4,1421.0 L905.3,1419.3 L907.2,1417.6 L909.2,1415.9 L911.2,1414.3 L913.3,1412.8 L915.4,1411.3 L917.5,1409.8 L919.7,1408.4 L921.9,1407.0 L924.1,1405.7 L926.4,1404.4 L928.7,1403.2 L931.0,1402.0 L933.4,1400.8 L935.8,1399.7 L938.2,1398.6 L940.6,1397.6 L943.1,1396.6 L945.6,1395.6 L948.1,1394.7 L950.7,1393.8 L953.2,1392.9 L955.8,1392.1 L958.4,1391.3 L961.0,1390.5 L963.6,1389.7 L966.3,1389.0 L969.0,1388.3 L971.6,1387.7 L974.3,1387.0 L977.0,1386.4 L979.7,1385.8 L982.5,1385.2 L985.2,1384.7 L987.9,1384.1 L990.7,1383.6 L993.4,1383.1 L996.2,1382.6 L998.9,1382.2 L1001.7,1381.7 L1004.4,1381.3 L1007.2,1380.8 L1009.9,1380.4 L1012.7,1380.0 L1015.4,1379.6 L1018.2,1379.3 L1020.9,1378.9 L1023.7,1378.5 L1026.4,1378.2 L1029.1,1377.8 L1031.8,1377.5 L1034.6,1377.1 L1037.3,1376.8 L1040.0,1376.5 L1042.7,1376.2 L1045.4,1375.9 L1048.1,1375.6 L1050.8,1375.3 L1053.5,1375.0 L1056.1,1374.7 L1058.8,1374.4 L1061.5,1374.2 L1064.2,1373.9 L1066.9,1373.6 L1069.5,1373.4 L1072.2,1373.2 L1074.9,1372.9 L1077.5,1372.7 L1080.2,1372.5 L1082.8,1372.2 L1085.5,1372.0 L1088.1,1371.8 L1090.8,1371.6 L1093.5,1371.4 L1096.1,1371.2 L1098.8,1371.0 L1101.4,1370.8 L1104.0,1370.6 L1106.7,1370.4 L1109.3,1370.2 L1112.0,1370.1 L1114.6,1369.9 L1117.3,1369.7 L1119.9,1369.6 L1122.6,1369.4 L1125.2,1369.2 L1127.9,1369.1 L1130.5,1368.9 L1133.1,1368.8 L1135.8,1368.6 L1138.4,1368.4 L1141.1,1368.3 L1143.7,1368.1 L1146.4,1368.0 L1149.0,1367.9 L1151.7,1367.7 L1154.3,1367.6 L1157.0,1367.4 L1159.6,1367.3 L1162.3,1367.1 L1165.0,1367.0 L1167.6,1366.9 L1170.3,1366.7 L1173.0,1366.6 L1175.6,1366.4 L1178.3,1366.3 L1180.9,1366.2 L1183.6,1366.0 L1186.3,1365.9 L1189.0,1365.8 L1191.6,1365.7 L1194.3,1365.5 L1197.0,1365.4 L1199.7,1365.3 L1202.3,1365.2 L1205.0,1365.0 L1207.7,1364.9 L1210.4,1364.8 L1213.1,1364.7 L1215.7,1364.5 L1218.4,1364.4 L1221.1,1364.3 L1223.8,1364.2 L1226.5,1364.1 L1229.2,1364.0 L1231.8,1363.9 L1234.5,1363.8 L1237.2,1363.6 L1239.9,1363.5 L1242.6,1363.4 L1245.3,1363.3 L1248.0,1363.2 L1250.7,1363.1 L1253.4,1363.0 L1256.1,1362.9 L1258.7,1362.8 L1261.4,1362.7 L1264.1,1362.6 L1266.8,1362.5 L1269.5,1362.4 L1272.2,1362.3 L1274.9,1362.3 L1277.6,1362.2 L1280.3,1362.1 L1283.0,1362.0 L1285.7,1361.9 L1288.4,1361.8 L1291.1,1361.7 L1293.8,1361.7 L1296.5,1361.6 L1299.2,1361.5 L1301.9,1361.4 L1304.6,1361.3 L1307.3,1361.3 L1310.0,1361.2 L1312.7,1361.1 L1315.4,1361.0 L1318.1,1361.0 L1320.8,1360.9 L1323.5,1360.8 L1326.2,1360.8 L1328.9,1360.7 L1331.6,1360.7 L1334.3,1360.6 L1337.0,1360.5 L1339.7,1360.5 L1342.3,1360.4 L1345.0,1360.4 L1347.7,1360.3 L1350.4,1360.3 L1353.1,1360.2 L1355.8,1360.2 L1358.5,1360.1 L1361.2,1360.1 L1363.9,1360.0 L1366.6,1360.0 L1369.3,1359.9 L1372.0,1359.9 L1374.7,1359.9 L1377.4,1359.8 L1380.1,1359.8 L1382.7,1359.8 L1385.4,1359.7 L1388.1,1359.7 L1390.8,1359.7 L1393.5,1359.7 L1396.2,1359.6 L1398.9,1359.6 L1401.5,1359.6 L1404.2,1359.6 L1406.9,1359.5 L1409.6,1359.5 L1412.3,1359.5 L1414.9,1359.5 L1417.6,1359.5 L1420.3,1359.5 L1423.0,1359.5 L1425.7,1359.5 L1428.3,1359.5 L1431.0,1359.5 L1433.7,1359.5 L1436.3,1359.5 L1439.0,1359.5 L1441.7,1359.5 L1444.3,1359.5 L1447.0,1359.5 L1449.7,1359.5 L1452.3,1359.5 L1455.0,1359.5" fill="none" stroke="#00f" stroke-width="8.0"/>
<path d="M266.5,1931.3l8.0,14.0h-16.0zM289.0,1931.3l8.0,14.0h-16.0zM311.5,1931.0l8.0,14.0h-16.0zM333.9,1930.5l8.0,14.0h-16.0zM356.4,1929.8l8.0,14.0h-16.0zM378.9,1928.9l8.0,14.0h-16.0zM401.4,1927.8l8.0,14.0h-16.0zM423.9,1926.6l8.0,14.0h-16.0zM446.2,1925.2l8.0,14.0h-16.0zM467.7,1923.9l8.0,14.0h-16.0zM488.0,1922.5l8.0,14.0h-16.0zM507.2,1921.3l8.0,14.0h-16.0zM525.3,1920.0l8.0,14.0h-16.0zM542.5,1918.9l8.0,14.0h-16.0zM558.8,1917.8l8.0,14.0h-16.0zM574.2,1916.8l8.0,14.0h-16.0zM588.8,1915.9l8.0,14.0h-16.0zM602.7,1915.1l8.0,14.0h-16.0zM615.7,1914.4l8.0,14.0h-16.0zM628.1,1913.7l8.0,14.0h-16.0zM639.8,1913.1l8.0,14.0h-16.0zM650.9,1912.6l8.0,14.0h-16.0zM661.5,1912.1l8.0,14.0h-16.0zM671.4,1911.6l8.0,14.0h-16.0zM680.8,1911.0l8.0,14.0h-16.0zM689.7,1910.4l8.0,14.0h-16.0zM698.1,1909.7l8.0,14.0h-16.0zM706.1,1908.8l8.0,14.0h-16.0zM713.6,1907.9l8.0,14.0h-16.0zM720.7,1906.9l8.0,14.0h-16.0zM727.4,1905.7l8.0,14.0h-16.0zM733.7,1904.4l8.0,14.0h-16.0zM960.7,1382.2l8.0,14.0h-16.0zM966.9,1380.5l8.0,14.0h-16.0zM973.4,1378.8l8.0,14.0h-16.0zM980.3,1377.3l8.0,14.0h-16.0zM987.7,1375.8l8.0,14.0h-16.0zM995.5,1374.3l8.0,14.0h-16.0zM1003.7,1373.0l8.0,14.0h-16.0zM1012.5,1371.7l8.0,14.0h-16.0zM1021.7,1370.4l8.0,14.0h-16.0zM1031.5,1369.1l8.0,14.0h-16.0zM1041.8,1367.9l8.0,14.0h-16.0zM1052.7,1366.7l8.0,14.0h-16.0zM1064.2,1365.5l8.0,14.0h-16.0zM1076.4,1364.4l8.0,14.0h-16.0zM1089.3,1363.3l8.0,14.0h-16.0zM1103.0,1362.3l8.0,14.0h-16.0zM1117.4,1361.3l8.0,14.0h-16.0zM1132.6,1360.4l8.0,14.0h-16.0zM1148.7,1359.5l8.0,14.0h-16.0zM1165.7,1358.6l8.0,14.0h-16.0zM1183.7,1357.6l8.0,14.0h-16.0zM1202.7,1356.7l8.0,14.0h-16.0zM1222.7,1355.8l8.0,14.0h-16.0zM1243.9,1355.0l8.0,14.0h-16.0zM1266.2,1354.1l8.0,14.0h-16.0zM1288.7,1353.4l8.0,14.0h-16.0zM1311.2,1352.8l8.0,14.0h-16.0zM1333.7,1352.2l8.0,14.0h-16.0zM1356.2,1351.8l8.0,14.0h-16.0zM1378.7,1351.4l8.0,14.0h-16.0zM1401.2,1351.2l8.0,14.0h-16.0zM1423.7,1351.1l8.0,14.0h-16.0zM1446.2,1351.1l8.0,14.0h-16.0z" fill="#00f"/>
<path d="M713.2,1912.9 L715.9,1912.5 L718.6,1912.1 L721.3,1911.7 L724.0,1911.2 L726.7,1910.7 L729.3,1910.2 L732.0,1909.7 L734.6,1909.1 L737.2,1908.5 L739.8,1907.9 L742.3,1907.3 L744.9,1906.6 L747.4,1905.9 L749.9,1905.1 L752.4,1904.3 L754.8,1903.5 L757.3,1902.6 L759.7,1901.7 L762.0,1900.8 L764.4,1899.8 L766.7,1898.8 L769.0,1897.7 L771.3,1896.6 L773.5,1895.5 L775.7,1894.3 L777.9,1893.0 L780.0,1891.7 L782.2,1890.4 L784.2,1889.0 L786.3,1887.5 L788.3,1886.0 L790.3,1884.5 L792.2,1882.9 L794.1,1881.2 L796.0,1879.5 L797.8,1877.8 L799.6,1876.0 L801.3,1874.1 L803.1,1872.2 L804.7,1870.3 L806.3,1868.3 L807.9,1866.3 L809.5,1864.2 L811.0,1862.1 L812.4,1860.0 L813.8,1857.8 L815.2,1855.6 L816.5,1853.3 L817.8,1851.0 L819.0,1848.7 L820.2,1846.3 L821.3,1843.9 L822.4,1841.5 L823.4,1839.1 L824.4,1836.6 L825.3,1834.1 L826.2,1831.6 L827.0,1829.0 L827.8,1826.4 L828.6,1823.8 L829.3,1821.2 L829.9,1818.6 L830.6,1815.9 L831.2,1813.3 L831.7,1810.6 L832.3,1807.9 L832.8,1805.2 L833.3,1802.5 L833.7,1799.8 L834.1,1797.0 L834.6,1794.3 L835.0,1791.6 L835.4,1788.9 L835.7,1786.1 L836.1,1783.4 L836.5,1780.7 L836.8,1778.0 L837.1,1775.3 L837.5,1772.5 L837.8,1769.8 L838.1,1767.1 L838.4,1764.4 L838.7,1761.7 L839.0,1759.0 L839.3,1756.3 L839.5,1753.6 L839.8,1750.9 L840.0,1748.2 L840.3,1745.5 L840.5,1742.8 L840.8,1740.1 L841.0,1737.4 L841.2,1734.8 L841.4,1732.1 L841.6,1729.4 L841.8,1726.7 L842.0,1724.0 L842.2,1721.3 L842.4,1718.7 L842.6,1716.0 L842.8,1713.3 L842.9,1710.6 L843.1,1708.0 L843.3,1705.3 L843.4,1702.6 L843.6,1699.9 L843.7,1697.3 L843.9,1694.6 L844.0,1691.9 L844.2,1689.2 L844.3,1686.6 L844.4,1683.9 L844.6,1681.2 L844.7,1678.6 L844.8,1675.9 L845.0,1673.2 L845.1,1670.6 L845.2,1667.9 L845.4,1665.2 L845.5,1662.6 L845.6,1659.9 L845.7,1657.2 L845.9,1654.5 L846.0,1651.9 L846.1,1649.2 L846.2,1646.5 L846.4,1643.9 L846.5,1641.2 L846.6,1638.5 L846.7,1635.8 L846.9,1633.2 L847.0,1630.5 L847.1,1627.8 L847.3,1625.1 L847.4,1622.5 L847.5,1619.8 L847.7,1617.1 L847.8,1614.4 L848.0,1611.7 L848.1,1609.1 L848.3,1606.4 L848.5,1603.7 L848.6,1601.0 L848.8,1598.3 L849.0,1595.7 L849.2,1593.0 L849.4,1590.3 L849.6,1587.6 L849.8,1584.9 L850.0,1582.2 L850.2,1579.6 L850.5,1576.9 L850.7,1574.2 L851.0,1571.5 L851.2,1568.8 L851.5,1566.2 L851.8,1563.5 L852.1,1560.8 L852.4,1558.1 L852.7,1555.4 L853.0,1552.8 L853.3,1550.1 L853.7,1547.4 L854.1,1544.7 L854.4,1542.1 L854.8,1539.4 L855.2,1536.7 L855.6,1534.0 L856.1,1531.4 L856.5,1528.7 L857.0,1526.0 L857.4,1523.4 L857.9,1520.7 L858.4,1518.1 L859.0,1515.4 L859.5,1512.7 L860.0,1510.1 L860.6,1507.4 L861.2,1504.8 L861.8,1502.1 L862.4,1499.5 L863.1,1496.8 L863.8,1494.2 L864.4,1491.5 L865.1,1488.9 L865.9,1486.3 L866.6,1483.6 L867.4,1481.0 L868.2,1478.4 L869.0,1475.8 L869.9,1473.2 L870.8,1470.7 L871.7,1468.1 L872.6,1465.6 L873.6,1463.1 L874.6,1460.6 L875.7,1458.2 L876.7,1455.7 L877.9,1453.3 L879.0,1450.9 L880.2,1448.5 L881.4,1446.2 L882.7,1443.9 L884.0,1441.7 L885.4,1439.4 L886.8,1437.2 L888.3,1435.1 L889.8,1433.0 L891.3,1430.9 L892.9,1428.8 L894.5,1426.8 L896.2,1424.9 L898.0,1423.0 L899.7,1421.1 L901.5,1419.3 L903.4,1417.5 L905.3,1415.8 L907.2,1414.1 L909.2,1412.4 L911.2,1410.8 L913.3,1409.3 L915.4,1407.8 L917.5,1406.3 L919.7,1404.9 L921.9,1403.5 L924.1,1402.2 L926.4,1400.9 L928.7,1399.7 L931.0,1398.5 L933.4,1397.3 L935.8,1396.2 L938.2,1395.1 L940.6,1394.1 L943.1,1393.1 L945.6,1392.1 L948.1,1391.2 L950.7,1390.3 L953.2,1389.4 L955.8,1388.6 L958.4,1387.8 L961.0,1387.0 L963.6,1386.2 L966.3,1385.5 L969.0,1384.8 L971.6,1384.2 L974.3,1383.5 L977.0,1382.9 L979.7,1382.3 L982.5,1381.7" fill="none" stroke="#00f" stroke-width="22.0" stroke-linecap="round" stroke-linejoin="round"/>
</g>
<rect x="243.2" y="1333.0" width="1210.0" height="630.8" fill="none" stroke="#000" stroke-width="6.5"/>
<line x1="224" y1="1462.3" x2="243.2" y2="1462.3" stroke="#000" stroke-width="5"/>
<text x="215.5" y="1472.1" font-family="&quot;Liberation Sans&quot;, sans-serif" font-size="50.0" font-weight="bold" font-style="normal" text-anchor="end" >50</text>
<line x1="224" y1="1647.3" x2="243.2" y2="1647.3" stroke="#000" stroke-width="5"/>
<text x="215.5" y="1657.1" font-family="&quot;Liberation Sans&quot;, sans-serif" font-size="50.0" font-weight="bold" font-style="normal" text-anchor="end" >0</text>
<line x1="224" y1="1832.3" x2="243.2" y2="1832.3" stroke="#000" stroke-width="5"/>
<text x="215.5" y="1842.1" font-family="&quot;Liberation Sans&quot;, sans-serif" font-size="50.0" font-weight="bold" font-style="normal" text-anchor="end" >-50</text>
<line x1="457.7" y1="1963.8" x2="457.7" y2="1981.8" stroke="#000" stroke-width="5"/>
<line x1="847.5" y1="1963.8" x2="847.5" y2="1981.8" stroke="#000" stroke-width="5"/>
<line x1="1237.3" y1="1963.8" x2="1237.3" y2="1981.8" stroke="#000" stroke-width="5"/>
<text x="253.5" y="1400.5" font-family="&quot;Liberation Sans&quot;, sans-serif" font-size="55.0" font-weight="bold" font-style="normal" text-anchor="start" >(c)</text>
<text x="724.6" y="1409.8" font-family="&quot;Liberation Sans&quot;, sans-serif" font-size="60.0" font-weight="normal" font-style="normal" text-anchor="start" stroke="#000" stroke-width="1.3">S3</text>
<rect x="990.5" y="1472.7" width="440.2" height="357.9" fill="#fff"/>
<clipPath id="clipi2"><rect x="990.5" y="1472.7" width="440.2" height="357.9"/></clipPath>
<g clip-path="url(#clipi2)" fill="none" stroke-linejoin="round" stroke-linecap="round">
<path d="M987.9,1798.6 L990.8,1798.0 L993.7,1797.4 L996.5,1796.8 L999.3,1796.1 L1002.1,1795.4 L1004.9,1794.7 L1007.7,1793.9 L1010.4,1793.1 L1013.1,1792.2 L1015.8,1791.3 L1018.5,1790.4 L1021.2,1789.4 L1023.8,1788.4 L1026.4,1787.4 L1029.0,1786.3 L1031.6,1785.3 L1034.1,1784.1 L1036.7,1783.0 L1039.2,1781.8 L1041.7,1780.5 L1044.1,1779.3 L1046.6,1778.0 L1049.0,1776.7 L1051.4,1775.3 L1053.8,1774.0 L1056.2,1772.6 L1058.5,1771.1 L1060.9,1769.7 L1063.2,1768.2 L1065.5,1766.7 L1067.7,1765.1 L1070.0,1763.5 L1072.2,1761.9 L1074.4,1760.3 L1076.6,1758.7 L1078.8,1757.0 L1080.9,1755.3 L1083.1,1753.6 L1085.2,1751.8 L1087.3,1750.0 L1089.4,1748.3 L1091.4,1746.4 L1093.5,1744.6 L1095.5,1742.7 L1097.5,1740.9 L1099.5,1739.0 L1101.4,1737.0 L1103.4,1735.1 L1105.3,1733.1 L1107.2,1731.2 L1109.1,1729.2 L1111.0,1727.1 L1112.9,1725.1 L1114.8,1723.1 L1116.6,1721.0 L1118.4,1718.9 L1120.3,1716.9 L1122.1,1714.8 L1123.9,1712.6 L1125.7,1710.5 L1127.4,1708.4 L1129.2,1706.2 L1131.0,1704.1 L1132.7,1701.9 L1134.5,1699.7 L1136.2,1697.6 L1138.0,1695.4 L1139.7,1693.2 L1141.4,1691.0 L1143.2,1688.8 L1144.9,1686.6 L1146.6,1684.3 L1148.3,1682.1 L1150.0,1679.9 L1151.8,1677.7 L1153.5,1675.5 L1155.2,1673.2 L1156.9,1671.0 L1158.6,1668.8 L1160.3,1666.6 L1162.1,1664.3 L1163.8,1662.1 L1165.5,1659.9 L1167.2,1657.7 L1169.0,1655.5 L1170.7,1653.3 L1172.5,1651.1 L1174.2,1648.9 L1176.0,1646.7 L1177.7,1644.5 L1179.5,1642.3 L1181.3,1640.2 L1183.1,1638.0 L1184.9,1635.9 L1186.7,1633.7 L1188.6,1631.6 L1190.4,1629.5 L1192.3,1627.4 L1194.1,1625.3 L1196.0,1623.3 L1197.9,1621.2 L1199.8,1619.1 L1201.7,1617.1 L1203.6,1615.1 L1205.5,1613.1 L1207.5,1611.1 L1209.4,1609.1 L1211.4,1607.1 L1213.4,1605.1 L1215.4,1603.2 L1217.4,1601.3 L1219.4,1599.3 L1221.4,1597.4 L1223.4,1595.5 L1225.4,1593.7 L1227.5,1591.8 L1229.6,1589.9 L1231.6,1588.1 L1233.7,1586.3 L1235.8,1584.5 L1237.9,1582.7 L1240.0,1580.9 L1242.2,1579.1 L1244.3,1577.4 L1246.5,1575.6 L1248.6,1573.9 L1250.8,1572.2 L1253.0,1570.5 L1255.2,1568.8 L1257.4,1567.2 L1259.6,1565.5 L1261.8,1563.9 L1264.0,1562.3 L1266.3,1560.7 L1268.5,1559.1 L1270.8,1557.6 L1273.1,1556.0 L1275.4,1554.5 L1277.7,1553.0 L1280.0,1551.5 L1282.3,1550.0 L1284.6,1548.6 L1287.0,1547.1 L1289.3,1545.7 L1291.7,1544.3 L1294.0,1542.9 L1296.4,1541.5 L1298.8,1540.2 L1301.2,1538.8 L1303.6,1537.5 L1306.1,1536.2 L1308.5,1535.0 L1310.9,1533.7 L1313.4,1532.5 L1315.8,1531.2 L1318.3,1530.0 L1320.8,1528.9 L1323.3,1527.7 L1325.8,1526.6 L1328.3,1525.4 L1330.8,1524.3 L1333.4,1523.2 L1335.9,1522.2 L1338.5,1521.1 L1341.0,1520.1 L1343.6,1519.1 L1346.2,1518.1 L1348.8,1517.2 L1351.4,1516.2 L1354.0,1515.3 L1356.6,1514.4 L1359.3,1513.6 L1361.9,1512.7 L1364.6,1511.9 L1367.2,1511.1 L1369.9,1510.3 L1372.6,1509.5 L1375.3,1508.8 L1378.0,1508.0 L1380.7,1507.3 L1383.4,1506.7 L1386.2,1506.0 L1388.9,1505.4 L1391.7,1504.8 L1394.4,1504.2 L1397.2,1503.6 L1400.0,1503.1 L1402.8,1502.6 L1405.6,1502.1 L1408.4,1501.6 L1411.2,1501.2 L1414.0,1500.8 L1416.9,1500.4 L1419.7,1500.0 L1422.6,1499.7 L1425.4,1499.3 L1428.3,1499.1 L1431.2,1498.8 L1434.1,1498.5" stroke="#000" stroke-width="5.5"/>
<path d="M987.9,1806.1 L990.8,1805.7 L993.6,1805.3 L996.4,1804.9 L999.2,1804.4 L1002.0,1804.0 L1004.8,1803.5 L1007.6,1803.0 L1010.4,1802.5 L1013.1,1801.9 L1015.9,1801.3 L1018.7,1800.8 L1021.4,1800.2 L1024.2,1799.5 L1026.9,1798.9 L1029.6,1798.2 L1032.3,1797.5 L1035.1,1796.8 L1037.8,1796.1 L1040.5,1795.4 L1043.1,1794.6 L1045.8,1793.9 L1048.5,1793.1 L1051.2,1792.3 L1053.8,1791.4 L1056.5,1790.6 L1059.1,1789.7 L1061.7,1788.8 L1064.4,1787.9 L1067.0,1787.0 L1069.6,1786.1 L1072.2,1785.1 L1074.8,1784.1 L1077.4,1783.1 L1079.9,1782.1 L1082.5,1781.1 L1085.1,1780.0 L1087.6,1779.0 L1090.1,1777.9 L1092.7,1776.8 L1095.2,1775.7 L1097.7,1774.5 L1100.2,1773.4 L1102.7,1772.2 L1105.2,1771.0 L1107.6,1769.8 L1110.1,1768.6 L1112.5,1767.3 L1115.0,1766.1 L1117.4,1764.8 L1119.8,1763.5 L1122.2,1762.2 L1124.6,1760.9 L1127.0,1759.5 L1129.4,1758.1 L1131.8,1756.8 L1134.1,1755.4 L1136.5,1753.9 L1138.8,1752.5 L1141.2,1751.1 L1143.5,1749.6 L1145.8,1748.1 L1148.1,1746.6 L1150.4,1745.1 L1152.6,1743.6 L1154.9,1742.0 L1157.1,1740.5 L1159.4,1738.9 L1161.6,1737.3 L1163.8,1735.7 L1166.0,1734.0 L1168.2,1732.4 L1170.4,1730.7 L1172.6,1729.0 L1174.7,1727.3 L1176.9,1725.6 L1179.0,1723.9 L1181.2,1722.2 L1183.3,1720.4 L1185.4,1718.6 L1187.5,1716.8 L1189.5,1715.0 L1191.6,1713.2 L1193.6,1711.4 L1195.7,1709.5 L1197.7,1707.6 L1199.7,1705.8 L1201.7,1703.9 L1203.7,1701.9 L1205.7,1700.0 L1207.7,1698.1 L1209.6,1696.1 L1211.6,1694.1 L1213.5,1692.1 L1215.4,1690.1 L1217.3,1688.1 L1219.2,1686.1 L1221.0,1684.0 L1222.9,1681.9 L1224.8,1679.9 L1226.6,1677.8 L1228.4,1675.7 L1230.2,1673.5 L1232.0,1671.4 L1233.8,1669.3 L1235.6,1667.1 L1237.4,1664.9 L1239.1,1662.8 L1240.9,1660.6 L1242.7,1658.4 L1244.4,1656.2 L1246.1,1654.0 L1247.9,1651.8 L1249.6,1649.6 L1251.3,1647.4 L1253.1,1645.2 L1254.8,1643.0 L1256.5,1640.7 L1258.2,1638.5 L1259.9,1636.3 L1261.6,1634.1 L1263.4,1631.8 L1265.1,1629.6 L1266.8,1627.4 L1268.5,1625.2 L1270.2,1623.0 L1272.0,1620.7 L1273.7,1618.5 L1275.4,1616.3 L1277.1,1614.1 L1278.9,1611.9 L1280.6,1609.8 L1282.4,1607.6 L1284.1,1605.4 L1285.9,1603.3 L1287.7,1601.1 L1289.5,1599.0 L1291.2,1596.8 L1293.0,1594.7 L1294.9,1592.6 L1296.7,1590.5 L1298.5,1588.4 L1300.4,1586.4 L1302.2,1584.3 L1304.1,1582.3 L1306.0,1580.3 L1307.9,1578.3 L1309.8,1576.3 L1311.7,1574.3 L1313.6,1572.4 L1315.6,1570.5 L1317.6,1568.5 L1319.5,1566.7 L1321.5,1564.8 L1323.6,1562.9 L1325.6,1561.1 L1327.6,1559.3 L1329.7,1557.5 L1331.8,1555.7 L1333.9,1554.0 L1336.0,1552.3 L1338.1,1550.6 L1340.3,1548.9 L1342.4,1547.3 L1344.6,1545.7 L1346.8,1544.1 L1349.0,1542.5 L1351.3,1541.0 L1353.5,1539.4 L1355.8,1538.0 L1358.1,1536.5 L1360.4,1535.1 L1362.8,1533.7 L1365.1,1532.3 L1367.5,1531.0 L1369.9,1529.6 L1372.3,1528.4 L1374.7,1527.1 L1377.2,1525.9 L1379.7,1524.7 L1382.2,1523.6 L1384.7,1522.4 L1387.2,1521.4 L1389.8,1520.3 L1392.4,1519.3 L1395.0,1518.3 L1397.6,1517.4 L1400.3,1516.5 L1403.0,1515.6 L1405.7,1514.7 L1408.4,1514.0 L1411.2,1513.2 L1413.9,1512.5 L1416.7,1511.8 L1419.6,1511.1 L1422.4,1510.5 L1425.3,1510.0 L1428.2,1509.5 L1431.1,1509.0 L1434.1,1508.5" stroke="#000" stroke-width="5.5"/>
<path d="M987.9,1804.8 L990.1,1804.3 L992.3,1803.7 L994.5,1803.2 L996.7,1802.6 L998.9,1802.1 L1001.1,1801.4 L1003.2,1800.8 L1005.4,1800.1 L1007.5,1799.4 L1009.7,1798.7 L1011.8,1798.0 L1013.9,1797.2 L1016.0,1796.4 L1018.1,1795.6 L1020.2,1794.8 L1022.3,1793.9 L1024.4,1793.1 L1026.5,1792.1 L1028.5,1791.2 L1030.6,1790.3 L1032.6,1789.3 L1034.7,1788.3 L1037.3,1787.2 L1039.9,1786.2 L1042.5,1785.1 L1045.1,1784.0 L1047.7,1782.9 L1050.2,1781.8 L1052.7,1780.6 L1055.3,1779.4 L1057.8,1778.2 L1060.3,1777.0 L1062.7,1775.7 L1065.2,1774.4 L1067.7,1773.1 L1070.1,1771.8 L1072.5,1770.5 L1074.9,1769.1 L1077.3,1767.7 L1079.7,1766.3 L1082.1,1764.9 L1084.4,1763.4 L1086.8,1761.9 L1089.1,1760.4 L1091.4,1758.9 L1093.7,1757.4 L1096.0,1755.8 L1098.2,1754.2 L1100.5,1752.6 L1102.7,1751.0 L1104.9,1749.4 L1107.1,1747.7 L1109.3,1746.0 L1111.5,1744.3 L1113.6,1742.6 L1115.8,1740.8 L1117.9,1739.1 L1120.0,1737.3 L1122.1,1735.5 L1124.1,1733.6 L1126.2,1731.8 L1128.2,1729.9 L1130.2,1728.0 L1132.3,1726.1 L1134.2,1724.2 L1136.2,1722.2 L1138.2,1720.3 L1140.1,1718.3 L1142.0,1716.3 L1143.9,1714.3 L1145.8,1712.3 L1147.7,1710.2 L1149.6,1708.2 L1151.5,1706.1 L1153.3,1704.0 L1155.1,1701.9 L1157.0,1699.8 L1158.8,1697.7 L1160.6,1695.6 L1162.4,1693.5 L1164.2,1691.3 L1166.0,1689.2 L1167.8,1687.0 L1169.5,1684.8 L1171.3,1682.6 L1173.1,1680.5 L1174.8,1678.3 L1176.6,1676.1 L1178.3,1673.8 L1180.0,1671.6 L1181.8,1669.4 L1183.5,1667.2 L1185.2,1665.0 L1187.0,1662.7 L1188.7,1660.5 L1190.4,1658.3 L1192.1,1656.1 L1193.9,1653.8 L1195.6,1651.6 L1197.3,1649.4 L1199.0,1647.1 L1200.8,1644.9 L1202.5,1642.7 L1204.2,1640.4 L1206.0,1638.2 L1207.7,1636.0 L1209.4,1633.8 L1211.2,1631.6 L1212.9,1629.4 L1214.7,1627.2 L1216.4,1625.0 L1218.2,1622.8 L1220.0,1620.6 L1221.7,1618.4 L1223.5,1616.3 L1225.3,1614.1 L1227.1,1612.0 L1228.9,1609.8 L1230.7,1607.7 L1232.5,1605.6 L1234.3,1603.4 L1236.2,1601.3 L1238.0,1599.3 L1239.9,1597.2 L1241.7,1595.1 L1243.6,1593.1 L1245.5,1591.0 L1247.4,1589.0 L1249.3,1587.0 L1251.2,1585.0 L1253.1,1583.0 L1255.1,1581.1 L1257.0,1579.1 L1259.0,1577.2 L1261.0,1575.3 L1263.0,1573.4 L1265.0,1571.5 L1267.0,1569.6 L1269.0,1567.8 L1271.1,1566.0 L1273.2,1564.2 L1275.3,1562.4 L1277.4,1560.7 L1279.5,1558.9 L1281.6,1557.2 L1283.8,1555.5 L1286.0,1553.9 L1288.2,1552.2 L1290.4,1550.6 L1292.6,1549.0 L1294.9,1547.4 L1297.1,1545.9 L1299.4,1544.4 L1301.7,1542.9 L1304.0,1541.4 L1306.4,1539.9 L1308.7,1538.5 L1311.1,1537.1 L1313.5,1535.8 L1315.9,1534.4 L1318.3,1533.1 L1320.8,1531.8 L1323.3,1530.5 L1325.7,1529.3 L1328.2,1528.1 L1330.7,1526.9 L1333.2,1525.7 L1335.8,1524.6 L1338.3,1523.5 L1340.9,1522.4 L1343.5,1521.3 L1346.1,1520.3 L1348.7,1519.3 L1351.3,1518.3 L1353.9,1517.3 L1356.6,1516.4 L1359.2,1515.5 L1362.2,1514.6 L1365.5,1513.8 L1368.8,1513.0 L1372.1,1512.2 L1375.5,1511.4 L1378.8,1510.6 L1382.2,1509.9 L1385.6,1509.2 L1389.0,1508.6 L1392.4,1508.0 L1395.8,1507.4 L1399.2,1506.8 L1402.6,1506.2 L1406.1,1505.7 L1409.5,1505.2 L1413.0,1504.7 L1416.5,1504.3 L1420.0,1503.9 L1423.5,1503.5 L1427.0,1503.2 L1430.5,1502.8 L1434.1,1502.5" stroke="#f00" stroke-width="6.5"/>
<path d="M987.9,1804.8 L991.4,1804.3 L994.9,1803.7 L998.4,1803.2 L1001.8,1802.6 L1005.3,1802.1 L1008.7,1801.4 L1012.1,1800.8 L1015.5,1800.1 L1018.9,1799.4 L1022.3,1798.7 L1025.7,1798.0 L1029.0,1797.2 L1032.4,1796.4 L1035.7,1795.6 L1039.0,1794.8 L1042.3,1793.9 L1045.6,1793.1 L1048.9,1792.1 L1052.1,1791.2 L1055.4,1790.3 L1058.6,1789.3 L1061.7,1788.3 L1064.3,1787.2 L1066.9,1786.2 L1069.5,1785.1 L1072.1,1784.0 L1074.7,1782.9 L1077.2,1781.8 L1079.7,1780.6 L1082.3,1779.4 L1084.8,1778.2 L1087.3,1777.0 L1089.7,1775.7 L1092.2,1774.4 L1094.7,1773.1 L1097.1,1771.8 L1099.5,1770.5 L1101.9,1769.1 L1104.3,1767.7 L1106.7,1766.3 L1109.1,1764.9 L1111.4,1763.4 L1113.8,1761.9 L1116.1,1760.4 L1118.4,1758.9 L1120.7,1757.4 L1123.0,1755.8 L1125.2,1754.2 L1127.5,1752.6 L1129.7,1751.0 L1131.9,1749.4 L1134.1,1747.7 L1136.3,1746.0 L1138.5,1744.3 L1140.6,1742.6 L1142.8,1740.8 L1144.9,1739.1 L1147.0,1737.3 L1149.1,1735.5 L1151.1,1733.6 L1153.2,1731.8 L1155.2,1729.9 L1157.2,1728.0 L1159.3,1726.1 L1161.2,1724.2 L1163.2,1722.2 L1165.2,1720.3 L1167.1,1718.3 L1169.0,1716.3 L1170.9,1714.3 L1172.8,1712.3 L1174.7,1710.2 L1176.6,1708.2 L1178.5,1706.1 L1180.3,1704.0 L1182.1,1701.9 L1184.0,1699.8 L1185.8,1697.7 L1187.6,1695.6 L1189.4,1693.5 L1191.2,1691.3 L1193.0,1689.2 L1194.8,1687.0 L1196.5,1684.8 L1198.3,1682.6 L1200.1,1680.5 L1201.8,1678.3 L1203.6,1676.1 L1205.3,1673.8 L1207.0,1671.6 L1208.8,1669.4 L1210.5,1667.2 L1212.2,1665.0 L1214.0,1662.7 L1215.7,1660.5 L1217.4,1658.3 L1219.1,1656.1 L1220.9,1653.8 L1222.6,1651.6 L1224.3,1649.4 L1226.0,1647.1 L1227.8,1644.9 L1229.5,1642.7 L1231.2,1640.4 L1233.0,1638.2 L1234.7,1636.0 L1236.4,1633.8 L1238.2,1631.6 L1239.9,1629.4 L1241.7,1627.2 L1243.4,1625.0 L1245.2,1622.8 L1247.0,1620.6 L1248.7,1618.4 L1250.5,1616.3 L1252.3,1614.1 L1254.1,1612.0 L1255.9,1609.8 L1257.7,1607.7 L1259.5,1605.6 L1261.3,1603.4 L1263.2,1601.3 L1265.0,1599.3 L1266.9,1597.2 L1268.7,1595.1 L1270.6,1593.1 L1272.5,1591.0 L1274.4,1589.0 L1276.3,1587.0 L1278.2,1585.0 L1280.1,1583.0 L1282.1,1581.1 L1284.0,1579.1 L1286.0,1577.2 L1288.0,1575.3 L1290.0,1573.4 L1292.0,1571.5 L1294.0,1569.6 L1296.0,1567.8 L1298.1,1566.0 L1300.2,1564.2 L1302.3,1562.4 L1304.4,1560.7 L1306.5,1558.9 L1308.6,1557.2 L1310.8,1555.5 L1313.0,1553.9 L1315.2,1552.2 L1317.4,1550.6 L1319.6,1549.0 L1321.9,1547.4 L1324.1,1545.9 L1326.4,1544.4 L1328.7,1542.9 L1331.0,1541.4 L1333.4,1539.9 L1335.7,1538.5 L1338.1,1537.1 L1340.5,1535.8 L1342.9,1534.4 L1345.3,1533.1 L1347.8,1531.8 L1350.3,1530.5 L1352.7,1529.3 L1355.2,1528.1 L1357.7,1526.9 L1360.2,1525.7 L1362.8,1524.6 L1365.3,1523.5 L1367.9,1522.4 L1370.5,1521.3 L1373.1,1520.3 L1375.7,1519.3 L1378.3,1518.3 L1380.9,1517.3 L1383.6,1516.4 L1386.2,1515.5 L1388.6,1514.6 L1390.7,1513.8 L1392.8,1513.0 L1394.9,1512.2 L1397.0,1511.4 L1399.1,1510.6 L1401.2,1509.9 L1403.4,1509.2 L1405.5,1508.6 L1407.7,1508.0 L1409.8,1507.4 L1412.0,1506.8 L1414.2,1506.2 L1416.4,1505.7 L1418.6,1505.2 L1420.8,1504.7 L1423.0,1504.3 L1425.2,1503.9 L1427.4,1503.5 L1429.6,1503.2 L1431.8,1502.8 L1434.1,1502.5" stroke="#f00" stroke-width="6.5"/>
<path d="M987.9,1799.2 L990.6,1798.9 L993.3,1798.6 L996.0,1798.2 L998.7,1797.9 L1001.3,1797.5 L1004.0,1797.0 L1006.6,1796.6 L1009.3,1796.1 L1011.9,1795.6 L1014.5,1795.0 L1017.1,1794.4 L1019.7,1793.8 L1022.2,1793.2 L1024.8,1792.5 L1027.3,1791.8 L1029.9,1791.1 L1032.4,1790.3 L1034.9,1789.5 L1037.4,1788.7 L1039.9,1787.9 L1042.4,1787.0 L1044.9,1786.1 L1047.5,1785.2 L1050.1,1784.2 L1052.7,1783.2 L1055.3,1782.2 L1057.9,1781.2 L1060.5,1780.1 L1063.0,1779.0 L1065.5,1777.9 L1068.1,1776.8 L1070.6,1775.6 L1073.0,1774.4 L1075.5,1773.2 L1078.0,1772.0 L1080.4,1770.7 L1082.8,1769.4 L1085.3,1768.1 L1087.7,1766.7 L1090.0,1765.4 L1092.4,1764.0 L1094.8,1762.6 L1097.1,1761.1 L1099.4,1759.6 L1101.7,1758.2 L1104.0,1756.6 L1106.3,1755.1 L1108.6,1753.6 L1110.8,1752.0 L1113.0,1750.4 L1115.2,1748.7 L1117.4,1747.1 L1119.6,1745.4 L1121.8,1743.7 L1123.9,1742.0 L1126.0,1740.3 L1128.2,1738.5 L1130.2,1736.7 L1132.3,1734.9 L1134.4,1733.1 L1136.4,1731.3 L1138.4,1729.4 L1140.5,1727.5 L1142.4,1725.6 L1144.4,1723.7 L1146.4,1721.7 L1148.3,1719.8 L1150.2,1717.8 L1152.2,1715.8 L1154.1,1713.8 L1155.9,1711.8 L1157.8,1709.7 L1159.7,1707.7 L1161.5,1705.6 L1163.4,1703.5 L1165.2,1701.4 L1167.0,1699.3 L1168.8,1697.2 L1170.6,1695.1 L1172.4,1693.0 L1174.2,1690.8 L1176.0,1688.6 L1177.7,1686.5 L1179.5,1684.3 L1181.2,1682.1 L1183.0,1679.9 L1184.7,1677.7 L1186.5,1675.5 L1188.2,1673.3 L1189.9,1671.1 L1191.7,1668.9 L1193.4,1666.7 L1195.1,1664.5 L1196.8,1662.2 L1198.5,1660.0 L1200.2,1657.8 L1202.0,1655.6 L1203.7,1653.3 L1205.4,1651.1 L1207.1,1648.9 L1208.8,1646.6 L1210.5,1644.4 L1212.2,1642.2 L1214.0,1640.0 L1215.7,1637.8 L1217.4,1635.6 L1219.2,1633.3 L1220.9,1631.1 L1222.6,1628.9 L1224.4,1626.8 L1226.1,1624.6 L1227.9,1622.4 L1229.6,1620.2 L1231.4,1618.1 L1233.2,1615.9 L1235.0,1613.8 L1236.8,1611.6 L1238.5,1609.5 L1240.3,1607.4 L1242.2,1605.3 L1244.0,1603.2 L1245.8,1601.1 L1247.6,1599.0 L1249.5,1597.0 L1251.4,1594.9 L1253.2,1592.9 L1255.1,1590.9 L1257.0,1588.9 L1258.9,1586.9 L1260.8,1584.9 L1262.7,1582.9 L1264.7,1581.0 L1266.6,1579.1 L1268.6,1577.2 L1270.6,1575.3 L1272.6,1573.4 L1274.6,1571.5 L1276.6,1569.7 L1278.7,1567.9 L1280.7,1566.1 L1282.8,1564.3 L1284.9,1562.6 L1287.0,1560.8 L1289.1,1559.1 L1291.2,1557.4 L1293.4,1555.8 L1295.6,1554.1 L1297.8,1552.5 L1300.0,1550.9 L1302.2,1549.4 L1304.5,1547.8 L1306.7,1546.3 L1309.0,1544.8 L1311.3,1543.3 L1313.7,1541.9 L1316.0,1540.5 L1318.4,1539.1 L1320.7,1537.7 L1323.1,1536.4 L1325.5,1535.1 L1328.0,1533.8 L1330.4,1532.5 L1332.9,1531.3 L1335.4,1530.0 L1337.8,1528.9 L1340.4,1527.7 L1342.9,1526.6 L1345.4,1525.4 L1348.0,1524.4 L1350.5,1523.3 L1353.1,1522.3 L1355.7,1521.3 L1358.3,1520.3 L1360.9,1519.3 L1363.6,1518.4 L1366.2,1517.5 L1368.9,1516.6 L1371.6,1515.8 L1374.5,1514.9 L1377.4,1514.1 L1380.3,1513.4 L1383.2,1512.6 L1386.1,1511.9 L1389.0,1511.2 L1391.9,1510.5 L1394.9,1509.9 L1397.8,1509.3 L1400.8,1508.7 L1403.8,1508.1 L1406.8,1507.6 L1409.8,1507.1 L1412.8,1506.6 L1415.8,1506.2 L1418.8,1505.8 L1421.9,1505.4 L1424.9,1505.0 L1428.0,1504.6 L1431.0,1504.3 L1434.1,1504.0" stroke="#00f" stroke-width="7.5"/>
<path d="M987.9,1799.2 L991.0,1798.9 L994.1,1798.6 L997.2,1798.2 L1000.2,1797.9 L1003.3,1797.5 L1006.3,1797.0 L1009.3,1796.6 L1012.3,1796.1 L1015.3,1795.6 L1018.3,1795.0 L1021.2,1794.4 L1024.2,1793.8 L1027.1,1793.2 L1030.0,1792.5 L1033.0,1791.8 L1035.9,1791.1 L1038.7,1790.3 L1041.6,1789.5 L1044.5,1788.7 L1047.3,1787.9 L1050.2,1787.0 L1052.9,1786.1 L1055.5,1785.2 L1058.1,1784.2 L1060.7,1783.2 L1063.3,1782.2 L1065.9,1781.2 L1068.5,1780.1 L1071.0,1779.0 L1073.5,1777.9 L1076.1,1776.8 L1078.6,1775.6 L1081.0,1774.4 L1083.5,1773.2 L1086.0,1772.0 L1088.4,1770.7 L1090.8,1769.4 L1093.3,1768.1 L1095.7,1766.7 L1098.0,1765.4 L1100.4,1764.0 L1102.8,1762.6 L1105.1,1761.1 L1107.4,1759.6 L1109.7,1758.2 L1112.0,1756.6 L1114.3,1755.1 L1116.6,1753.6 L1118.8,1752.0 L1121.0,1750.4 L1123.2,1748.7 L1125.4,1747.1 L1127.6,1745.4 L1129.8,1743.7 L1131.9,1742.0 L1134.0,1740.3 L1136.2,1738.5 L1138.2,1736.7 L1140.3,1734.9 L1142.4,1733.1 L1144.4,1731.3 L1146.4,1729.4 L1148.5,1727.5 L1150.4,1725.6 L1152.4,1723.7 L1154.4,1721.7 L1156.3,1719.8 L1158.2,1717.8 L1160.2,1715.8 L1162.1,1713.8 L1163.9,1711.8 L1165.8,1709.7 L1167.7,1707.7 L1169.5,1705.6 L1171.4,1703.5 L1173.2,1701.4 L1175.0,1699.3 L1176.8,1697.2 L1178.6,1695.1 L1180.4,1693.0 L1182.2,1690.8 L1184.0,1688.6 L1185.7,1686.5 L1187.5,1684.3 L1189.2,1682.1 L1191.0,1679.9 L1192.7,1677.7 L1194.5,1675.5 L1196.2,1673.3 L1197.9,1671.1 L1199.7,1668.9 L1201.4,1666.7 L1203.1,1664.5 L1204.8,1662.2 L1206.5,1660.0 L1208.2,1657.8 L1210.0,1655.6 L1211.7,1653.3 L1213.4,1651.1 L1215.1,1648.9 L1216.8,1646.6 L1218.5,1644.4 L1220.2,1642.2 L1222.0,1640.0 L1223.7,1637.8 L1225.4,1635.6 L1227.2,1633.3 L1228.9,1631.1 L1230.6,1628.9 L1232.4,1626.8 L1234.1,1624.6 L1235.9,1622.4 L1237.6,1620.2 L1239.4,1618.1 L1241.2,1615.9 L1243.0,1613.8 L1244.8,1611.6 L1246.5,1609.5 L1248.3,1607.4 L1250.2,1605.3 L1252.0,1603.2 L1253.8,1601.1 L1255.6,1599.0 L1257.5,1597.0 L1259.4,1594.9 L1261.2,1592.9 L1263.1,1590.9 L1265.0,1588.9 L1266.9,1586.9 L1268.8,1584.9 L1270.7,1582.9 L1272.7,1581.0 L1274.6,1579.1 L1276.6,1577.2 L1278.6,1575.3 L1280.6,1573.4 L1282.6,1571.5 L1284.6,1569.7 L1286.7,1567.9 L1288.7,1566.1 L1290.8,1564.3 L1292.9,1562.6 L1295.0,1560.8 L1297.1,1559.1 L1299.2,1557.4 L1301.4,1555.8 L1303.6,1554.1 L1305.8,1552.5 L1308.0,1550.9 L1310.2,1549.4 L1312.5,1547.8 L1314.7,1546.3 L1317.0,1544.8 L1319.3,1543.3 L1321.7,1541.9 L1324.0,1540.5 L1326.4,1539.1 L1328.7,1537.7 L1331.1,1536.4 L1333.5,1535.1 L1336.0,1533.8 L1338.4,1532.5 L1340.9,1531.3 L1343.4,1530.0 L1345.8,1528.9 L1348.4,1527.7 L1350.9,1526.6 L1353.4,1525.4 L1356.0,1524.4 L1358.5,1523.3 L1361.1,1522.3 L1363.7,1521.3 L1366.3,1520.3 L1368.9,1519.3 L1371.6,1518.4 L1374.2,1517.5 L1376.9,1516.6 L1379.4,1515.8 L1382.0,1514.9 L1384.5,1514.1 L1387.0,1513.4 L1389.5,1512.6 L1392.1,1511.9 L1394.6,1511.2 L1397.2,1510.5 L1399.8,1509.9 L1402.4,1509.3 L1405.0,1508.7 L1407.6,1508.1 L1410.2,1507.6 L1412.8,1507.1 L1415.4,1506.6 L1418.1,1506.2 L1420.7,1505.8 L1423.4,1505.4 L1426.1,1505.0 L1428.7,1504.6 L1431.4,1504.3 L1434.1,1504.0" stroke="#00f" stroke-width="7.5"/>
</g>
<rect x="990.5" y="1472.7" width="440.2" height="357.9" fill="none" stroke="#000" stroke-width="4.6"/>
<line x1="974.0" y1="1514.2" x2="990.5" y2="1514.2" stroke="#000" stroke-width="4.2"/>
<line x1="974.0" y1="1651.2" x2="990.5" y2="1651.2" stroke="#000" stroke-width="4.2"/>
<line x1="974.0" y1="1788.2" x2="990.5" y2="1788.2" stroke="#000" stroke-width="4.2"/>
<text x="966.3" y="1525.5" font-family="&quot;Liberation Sans&quot;, sans-serif" font-size="38.0" font-weight="bold" font-style="normal" text-anchor="end" >50</text>
<text x="966.3" y="1662.5" font-family="&quot;Liberation Sans&quot;, sans-serif" font-size="38.0" font-weight="bold" font-style="normal" text-anchor="end" >0</text>
<text x="966.3" y="1798.5" font-family="&quot;Liberation Sans&quot;, sans-serif" font-size="38.0" font-weight="bold" font-style="normal" text-anchor="end" >-50</text>
<line x1="1063.0" y1="1830.6" x2="1063.0" y2="1846.1" stroke="#000" stroke-width="4.2"/>
<text x="1060.5" y="1883.5" font-family="&quot;Liberation Sans&quot;, sans-serif" font-size="37.0" font-weight="bold" font-style="normal" text-anchor="middle" >-0.1</text>
<line x1="1210.6" y1="1830.6" x2="1210.6" y2="1846.1" stroke="#000" stroke-width="4.2"/>
<text x="1210.1" y="1883.5" font-family="&quot;Liberation Sans&quot;, sans-serif" font-size="37.0" font-weight="bold" font-style="normal" text-anchor="middle" >0.0</text>
<line x1="1357.0" y1="1830.6" x2="1357.0" y2="1846.1" stroke="#000" stroke-width="4.2"/>
<text x="1356.5" y="1883.5" font-family="&quot;Liberation Sans&quot;, sans-serif" font-size="37.0" font-weight="bold" font-style="normal" text-anchor="middle" >0.1</text>
<text x="1160.5" y="1941.0" font-family="&quot;Liberation Sans&quot;, sans-serif" font-size="45.5" font-weight="normal" font-style="normal" text-anchor="start" ><tspan font-style="italic">H</tspan> (T)</text>
<text transform="translate(910.0,1765.5) rotate(-90)" font-family="&quot;Liberation Sans&quot;, sans-serif" font-size="47"><tspan font-style="italic">M</tspan> (emu/g)</text>
<text x="455.7" y="2028.0" font-family="&quot;Liberation Sans&quot;, sans-serif" font-size="53.0" font-weight="bold" font-style="normal" text-anchor="middle" >-2</text>
<text x="847.5" y="2028.0" font-family="&quot;Liberation Sans&quot;, sans-serif" font-size="53.0" font-weight="bold" font-style="normal" text-anchor="middle" >0</text>
<text x="1237.3" y="2028.0" font-family="&quot;Liberation Sans&quot;, sans-serif" font-size="53.0" font-weight="bold" font-style="normal" text-anchor="middle" >2</text>
<text x="762.5" y="2087.5" font-family="&quot;Liberation Serif&quot;, serif" font-size="66.0" font-weight="normal" font-style="normal" text-anchor="start" ><tspan font-style="italic">H</tspan> (T)</text>
<text transform="translate(82.5,1155) rotate(-90)" font-family="&quot;Liberation Serif&quot;, serif" font-size="82"><tspan font-style="italic">M</tspan> (emu/g)</text>
<line x1="326" y1="262.4" x2="452" y2="262.4" stroke="#777" stroke-width="4"/>
<rect x="377.5" y="250.9" width="23" height="22" fill="#000"/>
<text x="465.8" y="281.0" font-family="&quot;Liberation Serif&quot;, serif" font-size="56.0" font-weight="bold" font-style="normal" text-anchor="start" ><tspan font-style="italic">T</tspan> = 2 K</text>
<line x1="326" y1="332.7" x2="452" y2="332.7" stroke="#ff7a7a" stroke-width="4"/>
<circle cx="388.8" cy="332.7" r="12.5" fill="#f00"/>
<text x="465.8" y="351.0" font-family="&quot;Liberation Serif&quot;, serif" font-size="56.0" font-weight="bold" font-style="normal" text-anchor="start" ><tspan font-style="italic">T</tspan> = 50K</text>
<line x1="326" y1="403.0" x2="452" y2="403.0" stroke="#7a7aff" stroke-width="4"/>
<path d="M389,389.5 L401.5,412.5 L376.5,412.5 Z" fill="#00f"/>
<text x="465.8" y="423.0" font-family="&quot;Liberation Serif&quot;, serif" font-size="56.0" font-weight="bold" font-style="normal" text-anchor="start" ><tspan font-style="italic">T</tspan> = 100K</text>
</g>
</svg></body></html>
